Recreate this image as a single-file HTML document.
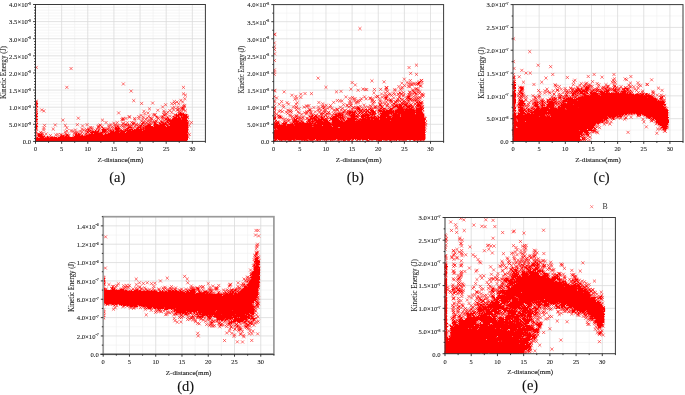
<!DOCTYPE html><html><head><meta charset="utf-8"><style>html,body{margin:0;padding:0;background:#fff;overflow:hidden}svg{display:block;will-change:transform;filter:blur(0.3px)}</style></head><body>
<svg width="685" height="395" viewBox="0 0 685 395" font-family='"Liberation Serif", serif'>
<rect width="685" height="395" fill="#fff"/>
<path d="M48.57 4.5V141.4M74.71 4.5V141.4M100.85 4.5V141.4M126.98 4.5V141.4M153.12 4.5V141.4M179.26 4.5V141.4M35.5 138.55H205.4M35.5 135.7H205.4M35.5 132.84H205.4M35.5 129.99H205.4M35.5 127.14H205.4M35.5 121.44H205.4M35.5 118.58H205.4M35.5 115.73H205.4M35.5 112.88H205.4M35.5 110.03H205.4M35.5 104.32H205.4M35.5 101.47H205.4M35.5 98.62H205.4M35.5 95.77H205.4M35.5 92.91H205.4M35.5 87.21H205.4M35.5 84.36H205.4M35.5 81.51H205.4M35.5 78.65H205.4M35.5 75.8H205.4M35.5 70.1H205.4M35.5 67.25H205.4M35.5 64.39H205.4M35.5 61.54H205.4M35.5 58.69H205.4M35.5 52.99H205.4M35.5 50.13H205.4M35.5 47.28H205.4M35.5 44.43H205.4M35.5 41.58H205.4M35.5 35.87H205.4M35.5 33.02H205.4M35.5 30.17H205.4M35.5 27.32H205.4M35.5 24.46H205.4M35.5 18.76H205.4M35.5 15.91H205.4M35.5 13.06H205.4M35.5 10.2H205.4M35.5 7.35H205.4" stroke="#f0f0f0" stroke-width="0.6" fill="none"/>
<path d="M61.64 4.5V141.4M87.78 4.5V141.4M113.92 4.5V141.4M140.05 4.5V141.4M166.19 4.5V141.4M192.33 4.5V141.4M35.5 124.29H205.4M35.5 107.18H205.4M35.5 90.06H205.4M35.5 72.95H205.4M35.5 55.84H205.4M35.5 38.72H205.4M35.5 21.61H205.4" stroke="#dadada" stroke-width="0.8" fill="none"/>
<clipPath id="ca"><rect x="35.2" y="1.5" width="172.9" height="140.2"/></clipPath>
<g clip-path="url(#ca)"><path d="M34 103h1v1h-1zM37 103h1v1h-1zM34 106h1v1h-1zM37 106h1v1h-1zM182 107h1v1h-1zM180 112h1v1h-1zM34 113h1v1h-1zM37 113h1v1h-1zM180 113h2v1h-2zM183 113h1v1h-1zM34 114h3v1h-3zM176 114h1v1h-1zM178 114h7v1h-7zM186 114h1v1h-1zM35 115h2v1h-2zM164 115h1v1h-1zM176 115h3v1h-3zM180 115h2v1h-2zM183 115h4v1h-4zM34 116h1v1h-1zM36 116h2v1h-2zM156 116h1v1h-1zM162 116h1v1h-1zM173 116h1v1h-1zM176 116h1v1h-1zM178 116h1v1h-1zM181 116h1v1h-1zM183 116h4v1h-4zM34 117h1v1h-1zM167 117h1v1h-1zM174 117h3v1h-3zM178 117h2v1h-2zM181 117h7v1h-7zM34 118h1v1h-1zM166 118h1v1h-1zM168 118h1v1h-1zM173 118h8v1h-8zM182 118h5v1h-5zM34 119h1v1h-1zM36 119h2v1h-2zM165 119h2v1h-2zM168 119h2v1h-2zM172 119h9v1h-9zM182 119h5v1h-5zM167 120h21v1h-21zM161 121h1v1h-1zM167 121h1v1h-1zM169 121h18v1h-18zM143 122h1v1h-1zM154 122h1v1h-1zM161 122h2v1h-2zM165 122h1v1h-1zM167 122h2v1h-2zM170 122h18v1h-18zM34 123h1v1h-1zM37 123h1v1h-1zM132 123h1v1h-1zM142 123h1v1h-1zM154 123h2v1h-2zM159 123h2v1h-2zM163 123h1v1h-1zM165 123h1v1h-1zM169 123h19v1h-19zM35 124h2v1h-2zM125 124h1v1h-1zM128 124h1v1h-1zM148 124h2v1h-2zM154 124h4v1h-4zM160 124h7v1h-7zM169 124h19v1h-19zM36 125h1v1h-1zM140 125h2v1h-2zM143 125h1v1h-1zM147 125h4v1h-4zM154 125h1v1h-1zM156 125h9v1h-9zM167 125h1v1h-1zM170 125h18v1h-18zM34 126h1v1h-1zM36 126h2v1h-2zM117 126h1v1h-1zM140 126h1v1h-1zM145 126h8v1h-8zM154 126h12v1h-12zM167 126h21v1h-21zM36 127h1v1h-1zM102 127h1v1h-1zM115 127h2v1h-2zM118 127h1v1h-1zM128 127h4v1h-4zM138 127h3v1h-3zM143 127h1v1h-1zM145 127h43v1h-43zM34 128h3v1h-3zM103 128h1v1h-1zM115 128h5v1h-5zM127 128h2v1h-2zM137 128h1v1h-1zM140 128h1v1h-1zM143 128h1v1h-1zM145 128h43v1h-43zM34 129h1v1h-1zM88 129h1v1h-1zM102 129h4v1h-4zM115 129h4v1h-4zM125 129h1v1h-1zM127 129h1v1h-1zM129 129h4v1h-4zM134 129h1v1h-1zM136 129h6v1h-6zM143 129h1v1h-1zM145 129h43v1h-43zM88 130h1v1h-1zM90 130h1v1h-1zM95 130h1v1h-1zM98 130h1v1h-1zM102 130h4v1h-4zM110 130h1v1h-1zM113 130h1v1h-1zM116 130h3v1h-3zM120 130h2v1h-2zM125 130h6v1h-6zM132 130h10v1h-10zM143 130h45v1h-45zM87 131h1v1h-1zM89 131h1v1h-1zM92 131h2v1h-2zM95 131h1v1h-1zM97 131h2v1h-2zM102 131h4v1h-4zM111 131h3v1h-3zM115 131h5v1h-5zM121 131h5v1h-5zM127 131h61v1h-61zM87 132h1v1h-1zM90 132h8v1h-8zM101 132h2v1h-2zM104 132h1v1h-1zM110 132h9v1h-9zM120 132h5v1h-5zM126 132h62v1h-62zM76 133h1v1h-1zM78 133h1v1h-1zM86 133h1v1h-1zM91 133h2v1h-2zM94 133h8v1h-8zM105 133h1v1h-1zM108 133h79v1h-79zM38 134h4v1h-4zM67 134h1v1h-1zM75 134h2v1h-2zM78 134h2v1h-2zM89 134h14v1h-14zM105 134h83v1h-83zM38 135h4v1h-4zM61 135h1v1h-1zM63 135h1v1h-1zM66 135h2v1h-2zM75 135h5v1h-5zM82 135h1v1h-1zM86 135h102v1h-102zM38 136h5v1h-5zM44 136h1v1h-1zM47 136h1v1h-1zM60 136h4v1h-4zM65 136h2v1h-2zM68 136h1v1h-1zM74 136h114v1h-114zM34 137h1v1h-1zM37 137h1v1h-1zM40 137h4v1h-4zM47 137h2v1h-2zM50 137h3v1h-3zM54 137h3v1h-3zM58 137h130v1h-130zM35 138h153v1h-153zM34 139h154v1h-154zM36 140h151v1h-151zM35 141h153v1h-153zM35 142h152v1h-152z" fill="#ff0000"/><path d="M58.0 137.9l3.1 3.1m0-3.1l-3.1 3.1M35.3 139.8l3.1 3.1m0-3.1l-3.1 3.1M184.0 139.4l3.1 3.1m0-3.1l-3.1 3.1M184.0 137.5l3.1 3.1m0-3.1l-3.1 3.1M50.4 138.0l3.1 3.1m0-3.1l-3.1 3.1M57.7 137.9l3.1 3.1m0-3.1l-3.1 3.1M162.2 113.2l3.1 3.1m0-3.1l-3.1 3.1M156.6 123.9l3.1 3.1m0-3.1l-3.1 3.1M127.9 124.3l3.1 3.1m0-3.1l-3.1 3.1M181.0 106.6l3.1 3.1m0-3.1l-3.1 3.1M137.3 115.1l3.1 3.1m0-3.1l-3.1 3.1M147.4 114.7l3.1 3.1m0-3.1l-3.1 3.1M148.6 121.6l3.1 3.1m0-3.1l-3.1 3.1M106.5 127.4l3.1 3.1m0-3.1l-3.1 3.1M115.1 128.3l3.1 3.1m0-3.1l-3.1 3.1M140.6 129.9l3.1 3.1m0-3.1l-3.1 3.1M139.5 113.8l3.1 3.1m0-3.1l-3.1 3.1M106.6 131.8l3.1 3.1m0-3.1l-3.1 3.1M180.2 112.9l3.1 3.1m0-3.1l-3.1 3.1M165.3 120.4l3.1 3.1m0-3.1l-3.1 3.1M38.2 136.4l3.1 3.1m0-3.1l-3.1 3.1M160.5 120.4l3.1 3.1m0-3.1l-3.1 3.1M161.2 123.2l3.1 3.1m0-3.1l-3.1 3.1M96.9 124.3l3.1 3.1m0-3.1l-3.1 3.1M115.7 121.1l3.1 3.1m0-3.1l-3.1 3.1M144.9 127.0l3.1 3.1m0-3.1l-3.1 3.1M165.6 118.9l3.1 3.1m0-3.1l-3.1 3.1M115.8 127.0l3.1 3.1m0-3.1l-3.1 3.1M65.5 129.4l3.1 3.1m0-3.1l-3.1 3.1M57.8 136.3l3.1 3.1m0-3.1l-3.1 3.1M172.7 100.0l3.1 3.1m0-3.1l-3.1 3.1M130.1 121.0l3.1 3.1m0-3.1l-3.1 3.1M170.9 106.4l3.1 3.1m0-3.1l-3.1 3.1M156.4 116.0l3.1 3.1m0-3.1l-3.1 3.1M111.0 127.3l3.1 3.1m0-3.1l-3.1 3.1M163.7 125.3l3.1 3.1m0-3.1l-3.1 3.1M127.5 115.2l3.1 3.1m0-3.1l-3.1 3.1M109.2 132.9l3.1 3.1m0-3.1l-3.1 3.1M182.7 113.6l3.1 3.1m0-3.1l-3.1 3.1M176.4 113.6l3.1 3.1m0-3.1l-3.1 3.1M137.0 125.0l3.1 3.1m0-3.1l-3.1 3.1M86.6 133.4l3.1 3.1m0-3.1l-3.1 3.1M158.9 122.5l3.1 3.1m0-3.1l-3.1 3.1M167.5 122.6l3.1 3.1m0-3.1l-3.1 3.1M82.1 128.4l3.1 3.1m0-3.1l-3.1 3.1M167.6 118.0l3.1 3.1m0-3.1l-3.1 3.1M118.2 129.5l3.1 3.1m0-3.1l-3.1 3.1M159.9 115.6l3.1 3.1m0-3.1l-3.1 3.1M168.3 122.5l3.1 3.1m0-3.1l-3.1 3.1M109.6 130.9l3.1 3.1m0-3.1l-3.1 3.1M77.8 132.7l3.1 3.1m0-3.1l-3.1 3.1M72.1 136.3l3.1 3.1m0-3.1l-3.1 3.1M66.2 136.9l3.1 3.1m0-3.1l-3.1 3.1M141.2 121.1l3.1 3.1m0-3.1l-3.1 3.1M181.1 100.4l3.1 3.1m0-3.1l-3.1 3.1M80.5 127.7l3.1 3.1m0-3.1l-3.1 3.1M183.9 109.3l3.1 3.1m0-3.1l-3.1 3.1M97.6 127.5l3.1 3.1m0-3.1l-3.1 3.1M162.1 119.6l3.1 3.1m0-3.1l-3.1 3.1M121.5 117.5l3.1 3.1m0-3.1l-3.1 3.1M177.2 102.1l3.1 3.1m0-3.1l-3.1 3.1M126.1 127.9l3.1 3.1m0-3.1l-3.1 3.1M106.0 129.9l3.1 3.1m0-3.1l-3.1 3.1M73.9 128.4l3.1 3.1m0-3.1l-3.1 3.1M59.1 133.2l3.1 3.1m0-3.1l-3.1 3.1M164.6 121.8l3.1 3.1m0-3.1l-3.1 3.1M172.0 117.7l3.1 3.1m0-3.1l-3.1 3.1M142.4 109.7l3.1 3.1m0-3.1l-3.1 3.1M116.6 124.2l3.1 3.1m0-3.1l-3.1 3.1M160.9 116.6l3.1 3.1m0-3.1l-3.1 3.1M85.5 123.1l3.1 3.1m0-3.1l-3.1 3.1M148.8 123.6l3.1 3.1m0-3.1l-3.1 3.1M146.5 111.4l3.1 3.1m0-3.1l-3.1 3.1M101.8 134.9l3.1 3.1m0-3.1l-3.1 3.1M72.8 134.8l3.1 3.1m0-3.1l-3.1 3.1M67.2 136.8l3.1 3.1m0-3.1l-3.1 3.1M54.3 133.4l3.1 3.1m0-3.1l-3.1 3.1M170.0 119.0l3.1 3.1m0-3.1l-3.1 3.1M113.6 124.7l3.1 3.1m0-3.1l-3.1 3.1M122.4 131.0l3.1 3.1m0-3.1l-3.1 3.1M168.6 119.6l3.1 3.1m0-3.1l-3.1 3.1M169.7 122.8l3.1 3.1m0-3.1l-3.1 3.1M42.0 135.3l3.1 3.1m0-3.1l-3.1 3.1M131.3 122.3l3.1 3.1m0-3.1l-3.1 3.1M124.5 129.0l3.1 3.1m0-3.1l-3.1 3.1M153.5 121.4l3.1 3.1m0-3.1l-3.1 3.1M102.9 127.7l3.1 3.1m0-3.1l-3.1 3.1M85.6 130.8l3.1 3.1m0-3.1l-3.1 3.1M143.5 126.5l3.1 3.1m0-3.1l-3.1 3.1M39.0 138.0l3.1 3.1m0-3.1l-3.1 3.1M148.7 116.7l3.1 3.1m0-3.1l-3.1 3.1M126.1 127.7l3.1 3.1m0-3.1l-3.1 3.1M140.7 122.9l3.1 3.1m0-3.1l-3.1 3.1M141.0 125.7l3.1 3.1m0-3.1l-3.1 3.1M102.1 129.4l3.1 3.1m0-3.1l-3.1 3.1M172.6 117.6l3.1 3.1m0-3.1l-3.1 3.1M170.3 119.9l3.1 3.1m0-3.1l-3.1 3.1M51.6 137.1l3.1 3.1m0-3.1l-3.1 3.1M177.7 109.9l3.1 3.1m0-3.1l-3.1 3.1M135.4 126.5l3.1 3.1m0-3.1l-3.1 3.1M182.7 114.0l3.1 3.1m0-3.1l-3.1 3.1M99.8 133.6l3.1 3.1m0-3.1l-3.1 3.1M44.0 136.4l3.1 3.1m0-3.1l-3.1 3.1M121.5 118.3l3.1 3.1m0-3.1l-3.1 3.1M133.0 129.7l3.1 3.1m0-3.1l-3.1 3.1M162.8 113.5l3.1 3.1m0-3.1l-3.1 3.1M133.3 125.4l3.1 3.1m0-3.1l-3.1 3.1M170.2 111.0l3.1 3.1m0-3.1l-3.1 3.1M109.4 123.1l3.1 3.1m0-3.1l-3.1 3.1M113.3 127.1l3.1 3.1m0-3.1l-3.1 3.1M105.0 133.9l3.1 3.1m0-3.1l-3.1 3.1M159.3 119.7l3.1 3.1m0-3.1l-3.1 3.1M120.8 130.6l3.1 3.1m0-3.1l-3.1 3.1M66.1 136.8l3.1 3.1m0-3.1l-3.1 3.1M103.6 128.7l3.1 3.1m0-3.1l-3.1 3.1M145.8 116.4l3.1 3.1m0-3.1l-3.1 3.1M143.1 112.3l3.1 3.1m0-3.1l-3.1 3.1M47.7 136.4l3.1 3.1m0-3.1l-3.1 3.1M82.2 135.0l3.1 3.1m0-3.1l-3.1 3.1M143.6 122.3l3.1 3.1m0-3.1l-3.1 3.1M181.4 113.3l3.1 3.1m0-3.1l-3.1 3.1M115.6 123.9l3.1 3.1m0-3.1l-3.1 3.1M100.4 125.2l3.1 3.1m0-3.1l-3.1 3.1M161.1 105.4l3.1 3.1m0-3.1l-3.1 3.1M88.0 130.0l3.1 3.1m0-3.1l-3.1 3.1M92.0 130.6l3.1 3.1m0-3.1l-3.1 3.1M99.0 124.1l3.1 3.1m0-3.1l-3.1 3.1M143.9 127.9l3.1 3.1m0-3.1l-3.1 3.1M85.9 135.7l3.1 3.1m0-3.1l-3.1 3.1M172.7 105.8l3.1 3.1m0-3.1l-3.1 3.1M181.7 104.6l3.1 3.1m0-3.1l-3.1 3.1M172.7 116.2l3.1 3.1m0-3.1l-3.1 3.1M48.7 137.4l3.1 3.1m0-3.1l-3.1 3.1M115.3 130.0l3.1 3.1m0-3.1l-3.1 3.1M143.5 125.3l3.1 3.1m0-3.1l-3.1 3.1M61.2 134.3l3.1 3.1m0-3.1l-3.1 3.1M150.3 117.1l3.1 3.1m0-3.1l-3.1 3.1M98.1 131.9l3.1 3.1m0-3.1l-3.1 3.1M169.1 125.4l3.1 3.1m0-3.1l-3.1 3.1M142.1 121.3l3.1 3.1m0-3.1l-3.1 3.1M75.9 133.2l3.1 3.1m0-3.1l-3.1 3.1M153.2 113.3l3.1 3.1m0-3.1l-3.1 3.1M175.8 108.5l3.1 3.1m0-3.1l-3.1 3.1M105.9 133.6l3.1 3.1m0-3.1l-3.1 3.1M166.2 110.7l3.1 3.1m0-3.1l-3.1 3.1M166.5 121.1l3.1 3.1m0-3.1l-3.1 3.1M153.9 122.9l3.1 3.1m0-3.1l-3.1 3.1M76.8 134.5l3.1 3.1m0-3.1l-3.1 3.1M73.3 131.0l3.1 3.1m0-3.1l-3.1 3.1M162.9 125.5l3.1 3.1m0-3.1l-3.1 3.1M87.6 129.6l3.1 3.1m0-3.1l-3.1 3.1M63.7 130.3l3.1 3.1m0-3.1l-3.1 3.1M53.0 136.9l3.1 3.1m0-3.1l-3.1 3.1M175.4 100.5l3.1 3.1m0-3.1l-3.1 3.1M99.1 133.5l3.1 3.1m0-3.1l-3.1 3.1M145.2 121.3l3.1 3.1m0-3.1l-3.1 3.1M63.3 135.3l3.1 3.1m0-3.1l-3.1 3.1M181.9 108.1l3.1 3.1m0-3.1l-3.1 3.1M124.7 128.5l3.1 3.1m0-3.1l-3.1 3.1M145.1 125.5l3.1 3.1m0-3.1l-3.1 3.1M148.7 124.1l3.1 3.1m0-3.1l-3.1 3.1M150.1 125.8l3.1 3.1m0-3.1l-3.1 3.1M120.3 118.0l3.1 3.1m0-3.1l-3.1 3.1M72.6 135.8l3.1 3.1m0-3.1l-3.1 3.1M127.7 127.9l3.1 3.1m0-3.1l-3.1 3.1M86.5 130.8l3.1 3.1m0-3.1l-3.1 3.1M73.4 135.1l3.1 3.1m0-3.1l-3.1 3.1M176.2 114.7l3.1 3.1m0-3.1l-3.1 3.1M93.8 131.2l3.1 3.1m0-3.1l-3.1 3.1M139.8 124.2l3.1 3.1m0-3.1l-3.1 3.1M96.4 125.5l3.1 3.1m0-3.1l-3.1 3.1M162.4 125.3l3.1 3.1m0-3.1l-3.1 3.1M180.3 117.4l3.1 3.1m0-3.1l-3.1 3.1M80.6 134.7l3.1 3.1m0-3.1l-3.1 3.1M173.5 115.7l3.1 3.1m0-3.1l-3.1 3.1M132.2 122.7l3.1 3.1m0-3.1l-3.1 3.1M58.8 136.8l3.1 3.1m0-3.1l-3.1 3.1M121.6 124.4l3.1 3.1m0-3.1l-3.1 3.1M137.3 117.0l3.1 3.1m0-3.1l-3.1 3.1M166.5 123.7l3.1 3.1m0-3.1l-3.1 3.1M44.9 137.8l3.1 3.1m0-3.1l-3.1 3.1M159.9 123.6l3.1 3.1m0-3.1l-3.1 3.1M154.2 123.9l3.1 3.1m0-3.1l-3.1 3.1M107.3 125.3l3.1 3.1m0-3.1l-3.1 3.1M144.7 129.2l3.1 3.1m0-3.1l-3.1 3.1M148.3 123.3l3.1 3.1m0-3.1l-3.1 3.1M88.9 126.1l3.1 3.1m0-3.1l-3.1 3.1M73.7 136.1l3.1 3.1m0-3.1l-3.1 3.1M141.2 117.4l3.1 3.1m0-3.1l-3.1 3.1M95.9 129.9l3.1 3.1m0-3.1l-3.1 3.1M141.7 115.6l3.1 3.1m0-3.1l-3.1 3.1M151.0 120.5l3.1 3.1m0-3.1l-3.1 3.1M164.2 122.6l3.1 3.1m0-3.1l-3.1 3.1M110.0 131.0l3.1 3.1m0-3.1l-3.1 3.1M153.3 120.2l3.1 3.1m0-3.1l-3.1 3.1M139.9 129.2l3.1 3.1m0-3.1l-3.1 3.1M101.5 129.5l3.1 3.1m0-3.1l-3.1 3.1M176.7 115.0l3.1 3.1m0-3.1l-3.1 3.1M98.7 132.7l3.1 3.1m0-3.1l-3.1 3.1M39.4 137.3l3.1 3.1m0-3.1l-3.1 3.1M102.6 130.9l3.1 3.1m0-3.1l-3.1 3.1M64.6 134.5l3.1 3.1m0-3.1l-3.1 3.1M122.5 132.9l3.1 3.1m0-3.1l-3.1 3.1M110.9 129.7l3.1 3.1m0-3.1l-3.1 3.1M51.9 135.9l3.1 3.1m0-3.1l-3.1 3.1M165.4 117.5l3.1 3.1m0-3.1l-3.1 3.1M142.7 128.6l3.1 3.1m0-3.1l-3.1 3.1M56.3 136.6l3.1 3.1m0-3.1l-3.1 3.1M103.9 129.0l3.1 3.1m0-3.1l-3.1 3.1M162.6 121.8l3.1 3.1m0-3.1l-3.1 3.1M84.2 134.2l3.1 3.1m0-3.1l-3.1 3.1M162.6 111.0l3.1 3.1m0-3.1l-3.1 3.1M102.6 129.2l3.1 3.1m0-3.1l-3.1 3.1M105.2 133.3l3.1 3.1m0-3.1l-3.1 3.1M112.1 129.5l3.1 3.1m0-3.1l-3.1 3.1M173.7 113.7l3.1 3.1m0-3.1l-3.1 3.1M45.1 136.7l3.1 3.1m0-3.1l-3.1 3.1M122.0 121.7l3.1 3.1m0-3.1l-3.1 3.1M157.9 121.6l3.1 3.1m0-3.1l-3.1 3.1M64.2 132.4l3.1 3.1m0-3.1l-3.1 3.1M97.5 125.5l3.1 3.1m0-3.1l-3.1 3.1M65.5 133.6l3.1 3.1m0-3.1l-3.1 3.1M101.5 127.0l3.1 3.1m0-3.1l-3.1 3.1M117.2 126.4l3.1 3.1m0-3.1l-3.1 3.1M140.4 122.5l3.1 3.1m0-3.1l-3.1 3.1M104.4 132.0l3.1 3.1m0-3.1l-3.1 3.1M100.6 132.2l3.1 3.1m0-3.1l-3.1 3.1M142.8 120.4l3.1 3.1m0-3.1l-3.1 3.1M172.1 108.3l3.1 3.1m0-3.1l-3.1 3.1M128.2 115.5l3.1 3.1m0-3.1l-3.1 3.1M178.5 114.1l3.1 3.1m0-3.1l-3.1 3.1M117.1 131.5l3.1 3.1m0-3.1l-3.1 3.1M102.4 127.2l3.1 3.1m0-3.1l-3.1 3.1M119.8 124.1l3.1 3.1m0-3.1l-3.1 3.1M101.6 129.4l3.1 3.1m0-3.1l-3.1 3.1M47.9 136.7l3.1 3.1m0-3.1l-3.1 3.1M143.4 124.5l3.1 3.1m0-3.1l-3.1 3.1M98.4 131.1l3.1 3.1m0-3.1l-3.1 3.1M150.9 126.8l3.1 3.1m0-3.1l-3.1 3.1M163.0 122.1l3.1 3.1m0-3.1l-3.1 3.1M129.6 126.7l3.1 3.1m0-3.1l-3.1 3.1M133.1 116.9l3.1 3.1m0-3.1l-3.1 3.1M179.7 106.8l3.1 3.1m0-3.1l-3.1 3.1M105.7 127.9l3.1 3.1m0-3.1l-3.1 3.1M116.5 128.8l3.1 3.1m0-3.1l-3.1 3.1M134.6 123.4l3.1 3.1m0-3.1l-3.1 3.1M71.1 129.5l3.1 3.1m0-3.1l-3.1 3.1M183.3 97.2l3.1 3.1m0-3.1l-3.1 3.1M161.2 121.7l3.1 3.1m0-3.1l-3.1 3.1M107.7 129.4l3.1 3.1m0-3.1l-3.1 3.1M149.3 119.6l3.1 3.1m0-3.1l-3.1 3.1M62.1 134.6l3.1 3.1m0-3.1l-3.1 3.1M150.3 125.5l3.1 3.1m0-3.1l-3.1 3.1M122.2 132.9l3.1 3.1m0-3.1l-3.1 3.1M65.7 133.6l3.1 3.1m0-3.1l-3.1 3.1M133.7 129.5l3.1 3.1m0-3.1l-3.1 3.1M159.8 123.0l3.1 3.1m0-3.1l-3.1 3.1M162.3 109.4l3.1 3.1m0-3.1l-3.1 3.1M154.3 124.8l3.1 3.1m0-3.1l-3.1 3.1M101.4 134.1l3.1 3.1m0-3.1l-3.1 3.1M177.8 112.1l3.1 3.1m0-3.1l-3.1 3.1M140.8 127.9l3.1 3.1m0-3.1l-3.1 3.1M87.6 128.3l3.1 3.1m0-3.1l-3.1 3.1M156.9 116.9l3.1 3.1m0-3.1l-3.1 3.1M126.2 124.2l3.1 3.1m0-3.1l-3.1 3.1M143.7 128.9l3.1 3.1m0-3.1l-3.1 3.1M179.4 118.2l3.1 3.1m0-3.1l-3.1 3.1M95.4 132.7l3.1 3.1m0-3.1l-3.1 3.1M129.7 129.6l3.1 3.1m0-3.1l-3.1 3.1M150.3 126.8l3.1 3.1m0-3.1l-3.1 3.1M144.3 117.6l3.1 3.1m0-3.1l-3.1 3.1M151.8 113.3l3.1 3.1m0-3.1l-3.1 3.1M181.6 106.5l3.1 3.1m0-3.1l-3.1 3.1M67.0 134.4l3.1 3.1m0-3.1l-3.1 3.1M132.3 121.4l3.1 3.1m0-3.1l-3.1 3.1M84.7 132.0l3.1 3.1m0-3.1l-3.1 3.1M152.6 120.7l3.1 3.1m0-3.1l-3.1 3.1M146.5 122.7l3.1 3.1m0-3.1l-3.1 3.1M152.4 123.8l3.1 3.1m0-3.1l-3.1 3.1M120.6 130.1l3.1 3.1m0-3.1l-3.1 3.1M67.2 134.0l3.1 3.1m0-3.1l-3.1 3.1M128.6 125.2l3.1 3.1m0-3.1l-3.1 3.1M50.0 136.4l3.1 3.1m0-3.1l-3.1 3.1M90.4 133.9l3.1 3.1m0-3.1l-3.1 3.1M118.4 129.5l3.1 3.1m0-3.1l-3.1 3.1M168.3 109.0l3.1 3.1m0-3.1l-3.1 3.1M116.5 125.5l3.1 3.1m0-3.1l-3.1 3.1M90.3 129.8l3.1 3.1m0-3.1l-3.1 3.1M93.9 129.0l3.1 3.1m0-3.1l-3.1 3.1M180.9 112.5l3.1 3.1m0-3.1l-3.1 3.1M133.9 128.7l3.1 3.1m0-3.1l-3.1 3.1M131.3 126.5l3.1 3.1m0-3.1l-3.1 3.1M169.8 125.8l3.1 3.1m0-3.1l-3.1 3.1M92.8 131.7l3.1 3.1m0-3.1l-3.1 3.1M168.8 125.9l3.1 3.1m0-3.1l-3.1 3.1M123.4 129.0l3.1 3.1m0-3.1l-3.1 3.1M140.8 127.5l3.1 3.1m0-3.1l-3.1 3.1M116.5 126.8l3.1 3.1m0-3.1l-3.1 3.1M123.6 123.0l3.1 3.1m0-3.1l-3.1 3.1M60.0 133.3l3.1 3.1m0-3.1l-3.1 3.1M133.4 118.1l3.1 3.1m0-3.1l-3.1 3.1M176.3 105.7l3.1 3.1m0-3.1l-3.1 3.1M79.4 134.9l3.1 3.1m0-3.1l-3.1 3.1M132.0 121.5l3.1 3.1m0-3.1l-3.1 3.1M135.0 129.1l3.1 3.1m0-3.1l-3.1 3.1M172.2 116.3l3.1 3.1m0-3.1l-3.1 3.1M38.9 137.7l3.1 3.1m0-3.1l-3.1 3.1M112.5 121.7l3.1 3.1m0-3.1l-3.1 3.1M180.4 110.1l3.1 3.1m0-3.1l-3.1 3.1M61.0 136.9l3.1 3.1m0-3.1l-3.1 3.1M109.8 129.2l3.1 3.1m0-3.1l-3.1 3.1M133.6 129.8l3.1 3.1m0-3.1l-3.1 3.1M109.1 131.1l3.1 3.1m0-3.1l-3.1 3.1M119.5 130.1l3.1 3.1m0-3.1l-3.1 3.1M58.0 136.7l3.1 3.1m0-3.1l-3.1 3.1M153.6 113.2l3.1 3.1m0-3.1l-3.1 3.1M60.8 135.3l3.1 3.1m0-3.1l-3.1 3.1M119.9 132.9l3.1 3.1m0-3.1l-3.1 3.1M125.1 131.3l3.1 3.1m0-3.1l-3.1 3.1M98.5 123.4l3.1 3.1m0-3.1l-3.1 3.1M164.4 117.4l3.1 3.1m0-3.1l-3.1 3.1M168.9 119.5l3.1 3.1m0-3.1l-3.1 3.1M146.1 119.6l3.1 3.1m0-3.1l-3.1 3.1M122.3 125.9l3.1 3.1m0-3.1l-3.1 3.1M85.9 134.2l3.1 3.1m0-3.1l-3.1 3.1M137.2 127.2l3.1 3.1m0-3.1l-3.1 3.1M158.9 121.7l3.1 3.1m0-3.1l-3.1 3.1M168.6 114.7l3.1 3.1m0-3.1l-3.1 3.1M150.0 117.2l3.1 3.1m0-3.1l-3.1 3.1M88.2 129.9l3.1 3.1m0-3.1l-3.1 3.1M135.7 127.9l3.1 3.1m0-3.1l-3.1 3.1M118.5 127.5l3.1 3.1m0-3.1l-3.1 3.1M90.7 127.8l3.1 3.1m0-3.1l-3.1 3.1M110.6 125.3l3.1 3.1m0-3.1l-3.1 3.1M84.9 128.0l3.1 3.1m0-3.1l-3.1 3.1M121.6 116.8l3.1 3.1m0-3.1l-3.1 3.1M65.8 134.5l3.1 3.1m0-3.1l-3.1 3.1M74.7 131.0l3.1 3.1m0-3.1l-3.1 3.1M45.8 136.3l3.1 3.1m0-3.1l-3.1 3.1M136.8 126.4l3.1 3.1m0-3.1l-3.1 3.1M167.6 118.3l3.1 3.1m0-3.1l-3.1 3.1M75.6 133.5l3.1 3.1m0-3.1l-3.1 3.1M177.9 111.3l3.1 3.1m0-3.1l-3.1 3.1M107.5 123.8l3.1 3.1m0-3.1l-3.1 3.1M128.9 130.1l3.1 3.1m0-3.1l-3.1 3.1M154.4 119.4l3.1 3.1m0-3.1l-3.1 3.1M103.2 133.0l3.1 3.1m0-3.1l-3.1 3.1M178.6 117.4l3.1 3.1m0-3.1l-3.1 3.1M183.9 93.6l3.1 3.1m0-3.1l-3.1 3.1M134.9 122.6l3.1 3.1m0-3.1l-3.1 3.1M121.0 129.0l3.1 3.1m0-3.1l-3.1 3.1M99.2 131.6l3.1 3.1m0-3.1l-3.1 3.1M127.3 127.1l3.1 3.1m0-3.1l-3.1 3.1M120.9 130.3l3.1 3.1m0-3.1l-3.1 3.1M162.5 116.9l3.1 3.1m0-3.1l-3.1 3.1M173.6 113.2l3.1 3.1m0-3.1l-3.1 3.1M103.1 129.9l3.1 3.1m0-3.1l-3.1 3.1M84.6 129.2l3.1 3.1m0-3.1l-3.1 3.1M177.3 107.8l3.1 3.1m0-3.1l-3.1 3.1M61.3 135.2l3.1 3.1m0-3.1l-3.1 3.1M125.0 127.1l3.1 3.1m0-3.1l-3.1 3.1M153.7 126.7l3.1 3.1m0-3.1l-3.1 3.1M108.1 127.4l3.1 3.1m0-3.1l-3.1 3.1M145.9 124.9l3.1 3.1m0-3.1l-3.1 3.1M166.1 118.5l3.1 3.1m0-3.1l-3.1 3.1M154.9 115.8l3.1 3.1m0-3.1l-3.1 3.1M181.1 107.6l3.1 3.1m0-3.1l-3.1 3.1M180.5 115.3l3.1 3.1m0-3.1l-3.1 3.1M90.2 133.0l3.1 3.1m0-3.1l-3.1 3.1M177.8 112.5l3.1 3.1m0-3.1l-3.1 3.1M41.4 137.9l3.1 3.1m0-3.1l-3.1 3.1M61.6 136.7l3.1 3.1m0-3.1l-3.1 3.1M169.4 119.1l3.1 3.1m0-3.1l-3.1 3.1M130.0 124.3l3.1 3.1m0-3.1l-3.1 3.1M147.9 119.4l3.1 3.1m0-3.1l-3.1 3.1M170.3 102.1l3.1 3.1m0-3.1l-3.1 3.1M122.3 132.0l3.1 3.1m0-3.1l-3.1 3.1M117.1 130.4l3.1 3.1m0-3.1l-3.1 3.1M183.2 105.1l3.1 3.1m0-3.1l-3.1 3.1M78.9 133.1l3.1 3.1m0-3.1l-3.1 3.1M161.2 115.3l3.1 3.1m0-3.1l-3.1 3.1M164.8 112.1l3.1 3.1m0-3.1l-3.1 3.1M169.7 125.8l3.1 3.1m0-3.1l-3.1 3.1M113.3 123.3l3.1 3.1m0-3.1l-3.1 3.1M164.1 113.5l3.1 3.1m0-3.1l-3.1 3.1M93.2 132.7l3.1 3.1m0-3.1l-3.1 3.1M125.9 121.2l3.1 3.1m0-3.1l-3.1 3.1M95.4 130.6l3.1 3.1m0-3.1l-3.1 3.1M146.9 123.4l3.1 3.1m0-3.1l-3.1 3.1M176.7 114.4l3.1 3.1m0-3.1l-3.1 3.1M80.6 133.3l3.1 3.1m0-3.1l-3.1 3.1M141.9 130.3l3.1 3.1m0-3.1l-3.1 3.1M95.3 127.6l3.1 3.1m0-3.1l-3.1 3.1M72.6 132.1l3.1 3.1m0-3.1l-3.1 3.1M165.0 123.9l3.1 3.1m0-3.1l-3.1 3.1M140.1 119.6l3.1 3.1m0-3.1l-3.1 3.1M165.9 115.5l3.1 3.1m0-3.1l-3.1 3.1M180.8 114.4l3.1 3.1m0-3.1l-3.1 3.1M176.8 117.3l3.1 3.1m0-3.1l-3.1 3.1M162.2 123.8l3.1 3.1m0-3.1l-3.1 3.1M158.9 124.8l3.1 3.1m0-3.1l-3.1 3.1M128.7 128.5l3.1 3.1m0-3.1l-3.1 3.1M78.6 129.9l3.1 3.1m0-3.1l-3.1 3.1M147.8 124.0l3.1 3.1m0-3.1l-3.1 3.1M92.2 130.6l3.1 3.1m0-3.1l-3.1 3.1M121.3 122.2l3.1 3.1m0-3.1l-3.1 3.1M176.2 108.0l3.1 3.1m0-3.1l-3.1 3.1M138.3 125.7l3.1 3.1m0-3.1l-3.1 3.1M139.9 125.6l3.1 3.1m0-3.1l-3.1 3.1M125.5 123.6l3.1 3.1m0-3.1l-3.1 3.1M144.3 128.2l3.1 3.1m0-3.1l-3.1 3.1M178.7 113.8l3.1 3.1m0-3.1l-3.1 3.1M75.9 131.2l3.1 3.1m0-3.1l-3.1 3.1M123.5 128.8l3.1 3.1m0-3.1l-3.1 3.1M84.3 132.7l3.1 3.1m0-3.1l-3.1 3.1M44.6 132.4l3.1 3.1m0-3.1l-3.1 3.1M114.7 126.2l3.1 3.1m0-3.1l-3.1 3.1M80.7 130.5l3.1 3.1m0-3.1l-3.1 3.1M183.2 114.0l3.1 3.1m0-3.1l-3.1 3.1M124.1 123.7l3.1 3.1m0-3.1l-3.1 3.1M128.3 124.9l3.1 3.1m0-3.1l-3.1 3.1M126.2 130.3l3.1 3.1m0-3.1l-3.1 3.1M154.1 123.9l3.1 3.1m0-3.1l-3.1 3.1M48.9 133.9l3.1 3.1m0-3.1l-3.1 3.1M154.1 122.0l3.1 3.1m0-3.1l-3.1 3.1M155.1 119.9l3.1 3.1m0-3.1l-3.1 3.1M134.6 128.3l3.1 3.1m0-3.1l-3.1 3.1M180.6 113.0l3.1 3.1m0-3.1l-3.1 3.1M89.1 131.0l3.1 3.1m0-3.1l-3.1 3.1M168.4 118.9l3.1 3.1m0-3.1l-3.1 3.1M132.0 131.0l3.1 3.1m0-3.1l-3.1 3.1M172.1 118.1l3.1 3.1m0-3.1l-3.1 3.1M138.8 124.4l3.1 3.1m0-3.1l-3.1 3.1M112.4 130.8l3.1 3.1m0-3.1l-3.1 3.1M181.0 117.5l3.1 3.1m0-3.1l-3.1 3.1M164.3 117.7l3.1 3.1m0-3.1l-3.1 3.1M97.6 128.5l3.1 3.1m0-3.1l-3.1 3.1M88.4 134.0l3.1 3.1m0-3.1l-3.1 3.1M44.4 136.4l3.1 3.1m0-3.1l-3.1 3.1M56.3 133.1l3.1 3.1m0-3.1l-3.1 3.1M136.9 123.3l3.1 3.1m0-3.1l-3.1 3.1M90.4 131.4l3.1 3.1m0-3.1l-3.1 3.1M185.0 114.3l3.1 3.1m0-3.1l-3.1 3.1M184.4 139.1l3.1 3.1m0-3.1l-3.1 3.1M184.0 130.6l3.1 3.1m0-3.1l-3.1 3.1M185.9 127.3l3.1 3.1m0-3.1l-3.1 3.1M185.0 122.7l3.1 3.1m0-3.1l-3.1 3.1M185.5 115.2l3.1 3.1m0-3.1l-3.1 3.1M184.3 119.8l3.1 3.1m0-3.1l-3.1 3.1M189.8 121.0l3.1 3.1m0-3.1l-3.1 3.1M184.6 131.4l3.1 3.1m0-3.1l-3.1 3.1M186.2 121.0l3.1 3.1m0-3.1l-3.1 3.1M184.2 121.3l3.1 3.1m0-3.1l-3.1 3.1M184.7 119.9l3.1 3.1m0-3.1l-3.1 3.1M186.4 120.2l3.1 3.1m0-3.1l-3.1 3.1M184.2 114.5l3.1 3.1m0-3.1l-3.1 3.1M184.6 139.1l3.1 3.1m0-3.1l-3.1 3.1M184.4 137.6l3.1 3.1m0-3.1l-3.1 3.1M184.1 114.2l3.1 3.1m0-3.1l-3.1 3.1M185.5 123.0l3.1 3.1m0-3.1l-3.1 3.1M185.9 116.1l3.1 3.1m0-3.1l-3.1 3.1M185.0 134.4l3.1 3.1m0-3.1l-3.1 3.1M187.7 124.0l3.1 3.1m0-3.1l-3.1 3.1M184.1 114.6l3.1 3.1m0-3.1l-3.1 3.1M186.3 131.4l3.1 3.1m0-3.1l-3.1 3.1M186.7 135.5l3.1 3.1m0-3.1l-3.1 3.1M183.9 118.3l3.1 3.1m0-3.1l-3.1 3.1M184.1 116.1l3.1 3.1m0-3.1l-3.1 3.1M185.6 127.1l3.1 3.1m0-3.1l-3.1 3.1M187.7 132.9l3.1 3.1m0-3.1l-3.1 3.1M185.6 115.9l3.1 3.1m0-3.1l-3.1 3.1M34.1 119.1l3.1 3.1m0-3.1l-3.1 3.1M34.1 130.1l3.1 3.1m0-3.1l-3.1 3.1M34.3 113.4l3.1 3.1m0-3.1l-3.1 3.1M34.3 113.9l3.1 3.1m0-3.1l-3.1 3.1M34.4 117.8l3.1 3.1m0-3.1l-3.1 3.1M34.1 126.4l3.1 3.1m0-3.1l-3.1 3.1M34.3 114.0l3.1 3.1m0-3.1l-3.1 3.1M34.3 120.5l3.1 3.1m0-3.1l-3.1 3.1M34.3 111.5l3.1 3.1m0-3.1l-3.1 3.1M34.5 118.9l3.1 3.1m0-3.1l-3.1 3.1M34.2 107.5l3.1 3.1m0-3.1l-3.1 3.1M34.5 108.8l3.1 3.1m0-3.1l-3.1 3.1M34.3 103.0l3.1 3.1m0-3.1l-3.1 3.1M34.3 115.3l3.1 3.1m0-3.1l-3.1 3.1M34.4 119.2l3.1 3.1m0-3.1l-3.1 3.1M34.4 101.4l3.1 3.1m0-3.1l-3.1 3.1M34.1 116.5l3.1 3.1m0-3.1l-3.1 3.1M34.3 139.7l3.1 3.1m0-3.1l-3.1 3.1M34.2 106.1l3.1 3.1m0-3.1l-3.1 3.1M34.2 139.4l3.1 3.1m0-3.1l-3.1 3.1M34.2 104.4l3.1 3.1m0-3.1l-3.1 3.1M34.4 101.6l3.1 3.1m0-3.1l-3.1 3.1M34.3 132.5l3.1 3.1m0-3.1l-3.1 3.1M34.1 127.2l3.1 3.1m0-3.1l-3.1 3.1M34.2 136.5l3.1 3.1m0-3.1l-3.1 3.1M34.2 100.4l3.1 3.1m0-3.1l-3.1 3.1M34.3 130.7l3.1 3.1m0-3.1l-3.1 3.1M34.5 110.8l3.1 3.1m0-3.1l-3.1 3.1M34.4 127.7l3.1 3.1m0-3.1l-3.1 3.1M34.6 99.6l3.1 3.1m0-3.1l-3.1 3.1M34.1 113.5l3.1 3.1m0-3.1l-3.1 3.1M34.5 126.0l3.1 3.1m0-3.1l-3.1 3.1M34.2 113.6l3.1 3.1m0-3.1l-3.1 3.1M34.1 116.3l3.1 3.1m0-3.1l-3.1 3.1M34.4 103.5l3.1 3.1m0-3.1l-3.1 3.1M34.4 138.9l3.1 3.1m0-3.1l-3.1 3.1M34.3 136.9l3.1 3.1m0-3.1l-3.1 3.1M34.5 137.1l3.1 3.1m0-3.1l-3.1 3.1M34.6 103.6l3.1 3.1m0-3.1l-3.1 3.1M34.3 123.9l3.1 3.1m0-3.1l-3.1 3.1M34.2 123.7l3.1 3.1m0-3.1l-3.1 3.1M34.5 137.3l3.1 3.1m0-3.1l-3.1 3.1M34.5 123.5l3.1 3.1m0-3.1l-3.1 3.1M34.2 122.7l3.1 3.1m0-3.1l-3.1 3.1M34.6 123.3l3.1 3.1m0-3.1l-3.1 3.1M34.5 106.7l3.1 3.1m0-3.1l-3.1 3.1M34.5 109.8l3.1 3.1m0-3.1l-3.1 3.1M34.3 126.4l3.1 3.1m0-3.1l-3.1 3.1M34.5 134.7l3.1 3.1m0-3.1l-3.1 3.1M34.2 126.0l3.1 3.1m0-3.1l-3.1 3.1M38.6 133.8l3.1 3.1m0-3.1l-3.1 3.1M38.3 134.0l3.1 3.1m0-3.1l-3.1 3.1M41.1 133.9l3.1 3.1m0-3.1l-3.1 3.1M36.6 132.7l3.1 3.1m0-3.1l-3.1 3.1M39.1 130.8l3.1 3.1m0-3.1l-3.1 3.1M38.1 133.0l3.1 3.1m0-3.1l-3.1 3.1M41.3 135.9l3.1 3.1m0-3.1l-3.1 3.1M38.1 134.5l3.1 3.1m0-3.1l-3.1 3.1M39.9 131.9l3.1 3.1m0-3.1l-3.1 3.1M42.2 128.4l3.1 3.1m0-3.1l-3.1 3.1M40.8 135.6l3.1 3.1m0-3.1l-3.1 3.1M39.7 133.7l3.1 3.1m0-3.1l-3.1 3.1M40.3 135.1l3.1 3.1m0-3.1l-3.1 3.1M41.2 132.0l3.1 3.1m0-3.1l-3.1 3.1M37.5 132.7l3.1 3.1m0-3.1l-3.1 3.1M37.5 134.1l3.1 3.1m0-3.1l-3.1 3.1M34.7 65.9l3.1 3.1m0-3.1l-3.1 3.1M69.5 67.0l3.1 3.1m0-3.1l-3.1 3.1M65.3 85.8l3.1 3.1m0-3.1l-3.1 3.1M121.8 82.4l3.1 3.1m0-3.1l-3.1 3.1M40.2 108.4l3.1 3.1m0-3.1l-3.1 3.1M42.3 109.4l3.1 3.1m0-3.1l-3.1 3.1M129.6 89.5l3.1 3.1m0-3.1l-3.1 3.1M132.2 99.1l3.1 3.1m0-3.1l-3.1 3.1M140.1 101.9l3.1 3.1m0-3.1l-3.1 3.1M151.1 101.5l3.1 3.1m0-3.1l-3.1 3.1M181.9 85.8l3.1 3.1m0-3.1l-3.1 3.1M181.9 92.3l3.1 3.1m0-3.1l-3.1 3.1M117.1 111.4l3.1 3.1m0-3.1l-3.1 3.1M147.9 107.3l3.1 3.1m0-3.1l-3.1 3.1M156.3 108.7l3.1 3.1m0-3.1l-3.1 3.1M164.1 103.2l3.1 3.1m0-3.1l-3.1 3.1M173.0 101.9l3.1 3.1m0-3.1l-3.1 3.1M124.4 116.9l3.1 3.1m0-3.1l-3.1 3.1M43.0 123.8l3.1 3.1m0-3.1l-3.1 3.1M42.3 126.5l3.1 3.1m0-3.1l-3.1 3.1M53.7 123.4l3.1 3.1m0-3.1l-3.1 3.1M51.7 127.5l3.1 3.1m0-3.1l-3.1 3.1M61.4 118.6l3.1 3.1m0-3.1l-3.1 3.1M63.7 123.8l3.1 3.1m0-3.1l-3.1 3.1M65.3 126.2l3.1 3.1m0-3.1l-3.1 3.1M76.8 116.6l3.1 3.1m0-3.1l-3.1 3.1M75.8 123.1l3.1 3.1m0-3.1l-3.1 3.1M81.0 124.4l3.1 3.1m0-3.1l-3.1 3.1M69.5 129.2l3.1 3.1m0-3.1l-3.1 3.1M87.3 126.8l3.1 3.1m0-3.1l-3.1 3.1M90.4 126.2l3.1 3.1m0-3.1l-3.1 3.1M100.9 118.6l3.1 3.1m0-3.1l-3.1 3.1M104.5 121.0l3.1 3.1m0-3.1l-3.1 3.1M179.3 98.8l3.1 3.1m0-3.1l-3.1 3.1M182.9 103.9l3.1 3.1m0-3.1l-3.1 3.1" stroke="#ff0000" stroke-width="0.55" fill="none"/></g>
<rect x="35.5" y="4.5" width="169.9" height="136.9" fill="none" stroke="#3a3a3a" stroke-width="1.0"/>
<path d="M35.5 141.4v2.4M48.57 141.4v1.4M61.64 141.4v2.4M74.71 141.4v1.4M87.78 141.4v2.4M100.85 141.4v1.4M113.92 141.4v2.4M126.98 141.4v1.4M140.05 141.4v2.4M153.12 141.4v1.4M166.19 141.4v2.4M179.26 141.4v1.4M192.33 141.4v2.4M205.4 141.4v1.4M35.5 141.4h-2.4M35.5 138.55h-1.4M35.5 135.7h-1.4M35.5 132.84h-1.4M35.5 129.99h-1.4M35.5 127.14h-1.4M35.5 124.29h-2.4M35.5 121.44h-1.4M35.5 118.58h-1.4M35.5 115.73h-1.4M35.5 112.88h-1.4M35.5 110.03h-1.4M35.5 107.18h-2.4M35.5 104.32h-1.4M35.5 101.47h-1.4M35.5 98.62h-1.4M35.5 95.77h-1.4M35.5 92.91h-1.4M35.5 90.06h-2.4M35.5 87.21h-1.4M35.5 84.36h-1.4M35.5 81.51h-1.4M35.5 78.65h-1.4M35.5 75.8h-1.4M35.5 72.95h-2.4M35.5 70.1h-1.4M35.5 67.25h-1.4M35.5 64.39h-1.4M35.5 61.54h-1.4M35.5 58.69h-1.4M35.5 55.84h-2.4M35.5 52.99h-1.4M35.5 50.13h-1.4M35.5 47.28h-1.4M35.5 44.43h-1.4M35.5 41.58h-1.4M35.5 38.72h-2.4M35.5 35.87h-1.4M35.5 33.02h-1.4M35.5 30.17h-1.4M35.5 27.32h-1.4M35.5 24.46h-1.4M35.5 21.61h-2.4M35.5 18.76h-1.4M35.5 15.91h-1.4M35.5 13.06h-1.4M35.5 10.2h-1.4M35.5 7.35h-1.4M35.5 4.5h-2.4" stroke="#222" stroke-width="0.9" fill="none"/>
<g font-size="7.1" fill="#222" stroke="#222" stroke-width="0.1"><text transform="translate(35.5 151.2) scale(0.9 1)" text-anchor="middle">0</text><text transform="translate(61.64 151.2) scale(0.9 1)" text-anchor="middle">5</text><text transform="translate(87.78 151.2) scale(0.9 1)" text-anchor="middle">10</text><text transform="translate(113.92 151.2) scale(0.9 1)" text-anchor="middle">15</text><text transform="translate(140.05 151.2) scale(0.9 1)" text-anchor="middle">20</text><text transform="translate(166.19 151.2) scale(0.9 1)" text-anchor="middle">25</text><text transform="translate(192.33 151.2) scale(0.9 1)" text-anchor="middle">30</text></g>
<g font-size="7" fill="#222" stroke="#222" stroke-width="0.1"><text transform="translate(31.1 144.2) scale(0.95 1)" text-anchor="end">0.0</text><text transform="translate(31.1 127.09) scale(0.95 1)" text-anchor="end">5.0&#215;10<tspan font-size="4.2" dy="-2.3">-9</tspan></text><text transform="translate(31.1 109.98) scale(0.95 1)" text-anchor="end">1.0&#215;10<tspan font-size="4.2" dy="-2.3">-8</tspan></text><text transform="translate(31.1 92.86) scale(0.95 1)" text-anchor="end">1.5&#215;10<tspan font-size="4.2" dy="-2.3">-8</tspan></text><text transform="translate(31.1 75.75) scale(0.95 1)" text-anchor="end">2.0&#215;10<tspan font-size="4.2" dy="-2.3">-8</tspan></text><text transform="translate(31.1 58.64) scale(0.95 1)" text-anchor="end">2.5&#215;10<tspan font-size="4.2" dy="-2.3">-8</tspan></text><text transform="translate(31.1 41.52) scale(0.95 1)" text-anchor="end">3.0&#215;10<tspan font-size="4.2" dy="-2.3">-8</tspan></text><text transform="translate(31.1 24.41) scale(0.95 1)" text-anchor="end">3.5&#215;10<tspan font-size="4.2" dy="-2.3">-8</tspan></text><text transform="translate(31.1 7.3) scale(0.95 1)" text-anchor="end">4.0&#215;10<tspan font-size="4.2" dy="-2.3">-8</tspan></text></g>
<text x="120.45" y="161.9" text-anchor="middle" font-size="7.1" fill="#222" stroke="#222" stroke-width="0.12">Z-distance(mm)</text>
<text transform="translate(6.1 72.6) rotate(-90) scale(1.0 1)" text-anchor="middle" font-size="7.2" fill="#222" stroke="#222" stroke-width="0.08">Kinetic Energy (J)</text>
<text x="117.3" y="181.5" text-anchor="middle" font-size="14.5" fill="#111" stroke="#111" stroke-width="0.12">(a)</text>
<path d="M286.77 4.6V141.4M312.91 4.6V141.4M339.05 4.6V141.4M365.18 4.6V141.4M391.32 4.6V141.4M417.46 4.6V141.4M273.7 132.85H443.6M273.7 115.75H443.6M273.7 98.65H443.6M273.7 81.55H443.6M273.7 64.45H443.6M273.7 47.35H443.6M273.7 30.25H443.6M273.7 13.15H443.6" stroke="#f0f0f0" stroke-width="0.6" fill="none"/>
<path d="M299.84 4.6V141.4M325.98 4.6V141.4M352.12 4.6V141.4M378.25 4.6V141.4M404.39 4.6V141.4M430.53 4.6V141.4M273.7 124.3H443.6M273.7 107.2H443.6M273.7 90.1H443.6M273.7 73H443.6M273.7 55.9H443.6M273.7 38.8H443.6M273.7 21.7H443.6" stroke="#dadada" stroke-width="0.8" fill="none"/>
<clipPath id="cb"><rect x="273.4" y="1.6" width="172.9" height="140.1"/></clipPath>
<g clip-path="url(#cb)"><path d="M420 81h1v1h-1zM418 82h2v1h-2zM417 83h2v1h-2zM399 92h1v1h-1zM414 92h1v1h-1zM415 93h1v1h-1zM408 96h2v1h-2zM385 97h2v1h-2zM408 97h1v1h-1zM386 98h1v1h-1zM400 98h1v1h-1zM408 98h2v1h-2zM410 99h1v1h-1zM390 100h1v1h-1zM396 100h1v1h-1zM408 100h1v1h-1zM415 100h1v1h-1zM400 101h1v1h-1zM403 101h1v1h-1zM419 101h1v1h-1zM416 102h2v1h-2zM419 102h2v1h-2zM393 103h2v1h-2zM403 103h1v1h-1zM407 103h1v1h-1zM418 103h1v1h-1zM420 103h2v1h-2zM399 104h2v1h-2zM402 104h1v1h-1zM404 104h3v1h-3zM417 104h3v1h-3zM380 105h1v1h-1zM395 105h3v1h-3zM399 105h3v1h-3zM405 105h2v1h-2zM409 105h1v1h-1zM411 105h1v1h-1zM416 105h5v1h-5zM381 106h1v1h-1zM394 106h4v1h-4zM399 106h3v1h-3zM403 106h1v1h-1zM406 106h5v1h-5zM417 106h2v1h-2zM420 106h1v1h-1zM358 107h1v1h-1zM382 107h1v1h-1zM393 107h1v1h-1zM397 107h6v1h-6zM407 107h3v1h-3zM411 107h2v1h-2zM420 107h2v1h-2zM323 108h1v1h-1zM357 108h3v1h-3zM370 108h1v1h-1zM380 108h2v1h-2zM383 108h2v1h-2zM390 108h3v1h-3zM398 108h5v1h-5zM406 108h1v1h-1zM409 108h3v1h-3zM416 108h6v1h-6zM423 108h1v1h-1zM358 109h2v1h-2zM362 109h1v1h-1zM365 109h2v1h-2zM369 109h1v1h-1zM390 109h2v1h-2zM397 109h7v1h-7zM405 109h9v1h-9zM416 109h7v1h-7zM309 110h1v1h-1zM359 110h1v1h-1zM361 110h1v1h-1zM370 110h4v1h-4zM378 110h4v1h-4zM383 110h2v1h-2zM386 110h6v1h-6zM393 110h1v1h-1zM395 110h9v1h-9zM405 110h10v1h-10zM416 110h6v1h-6zM349 111h2v1h-2zM352 111h1v1h-1zM355 111h1v1h-1zM358 111h1v1h-1zM361 111h1v1h-1zM366 111h1v1h-1zM368 111h1v1h-1zM371 111h3v1h-3zM379 111h15v1h-15zM395 111h20v1h-20zM416 111h6v1h-6zM343 112h1v1h-1zM347 112h1v1h-1zM349 112h6v1h-6zM359 112h1v1h-1zM362 112h1v1h-1zM365 112h2v1h-2zM368 112h3v1h-3zM372 112h3v1h-3zM382 112h12v1h-12zM395 112h27v1h-27zM323 113h1v1h-1zM326 113h1v1h-1zM338 113h2v1h-2zM349 113h2v1h-2zM352 113h1v1h-1zM354 113h1v1h-1zM356 113h1v1h-1zM359 113h1v1h-1zM361 113h1v1h-1zM364 113h1v1h-1zM370 113h1v1h-1zM372 113h2v1h-2zM375 113h1v1h-1zM380 113h12v1h-12zM393 113h4v1h-4zM398 113h17v1h-17zM416 113h7v1h-7zM335 114h2v1h-2zM338 114h3v1h-3zM342 114h1v1h-1zM349 114h1v1h-1zM351 114h4v1h-4zM357 114h1v1h-1zM363 114h1v1h-1zM365 114h4v1h-4zM370 114h3v1h-3zM374 114h1v1h-1zM381 114h8v1h-8zM391 114h1v1h-1zM393 114h7v1h-7zM401 114h14v1h-14zM416 114h8v1h-8zM278 115h1v1h-1zM312 115h1v1h-1zM315 115h1v1h-1zM336 115h7v1h-7zM350 115h5v1h-5zM356 115h1v1h-1zM361 115h9v1h-9zM372 115h1v1h-1zM380 115h9v1h-9zM392 115h8v1h-8zM401 115h23v1h-23zM279 116h2v1h-2zM309 116h1v1h-1zM311 116h2v1h-2zM314 116h3v1h-3zM321 116h1v1h-1zM324 116h1v1h-1zM333 116h6v1h-6zM340 116h1v1h-1zM342 116h1v1h-1zM351 116h7v1h-7zM361 116h5v1h-5zM367 116h2v1h-2zM371 116h1v1h-1zM374 116h2v1h-2zM378 116h1v1h-1zM380 116h11v1h-11zM393 116h7v1h-7zM401 116h23v1h-23zM273 117h1v1h-1zM275 117h1v1h-1zM280 117h1v1h-1zM313 117h2v1h-2zM316 117h2v1h-2zM321 117h2v1h-2zM332 117h5v1h-5zM338 117h5v1h-5zM351 117h4v1h-4zM361 117h3v1h-3zM365 117h10v1h-10zM376 117h1v1h-1zM378 117h8v1h-8zM387 117h4v1h-4zM392 117h32v1h-32zM273 118h3v1h-3zM294 118h1v1h-1zM296 118h2v1h-2zM310 118h6v1h-6zM318 118h1v1h-1zM321 118h2v1h-2zM325 118h1v1h-1zM330 118h8v1h-8zM340 118h1v1h-1zM342 118h2v1h-2zM347 118h10v1h-10zM362 118h4v1h-4zM367 118h3v1h-3zM371 118h8v1h-8zM380 118h45v1h-45zM273 119h1v1h-1zM294 119h3v1h-3zM308 119h3v1h-3zM312 119h1v1h-1zM314 119h3v1h-3zM318 119h7v1h-7zM332 119h7v1h-7zM340 119h1v1h-1zM343 119h1v1h-1zM348 119h8v1h-8zM357 119h1v1h-1zM360 119h10v1h-10zM371 119h2v1h-2zM374 119h5v1h-5zM380 119h45v1h-45zM272 120h1v1h-1zM276 120h1v1h-1zM294 120h3v1h-3zM308 120h2v1h-2zM312 120h1v1h-1zM314 120h8v1h-8zM323 120h5v1h-5zM329 120h1v1h-1zM332 120h8v1h-8zM341 120h1v1h-1zM344 120h1v1h-1zM346 120h9v1h-9zM358 120h2v1h-2zM361 120h29v1h-29zM391 120h34v1h-34zM275 121h1v1h-1zM293 121h6v1h-6zM301 121h1v1h-1zM308 121h2v1h-2zM311 121h3v1h-3zM316 121h7v1h-7zM324 121h4v1h-4zM332 121h11v1h-11zM345 121h80v1h-80zM276 122h1v1h-1zM278 122h1v1h-1zM286 122h1v1h-1zM293 122h1v1h-1zM296 122h2v1h-2zM299 122h2v1h-2zM302 122h2v1h-2zM307 122h1v1h-1zM309 122h2v1h-2zM312 122h1v1h-1zM315 122h15v1h-15zM332 122h23v1h-23zM356 122h69v1h-69zM273 123h1v1h-1zM275 123h4v1h-4zM282 123h4v1h-4zM292 123h1v1h-1zM294 123h19v1h-19zM314 123h2v1h-2zM317 123h14v1h-14zM333 123h92v1h-92zM273 124h1v1h-1zM275 124h3v1h-3zM279 124h1v1h-1zM283 124h3v1h-3zM287 124h6v1h-6zM295 124h17v1h-17zM314 124h111v1h-111zM273 125h1v1h-1zM275 125h11v1h-11zM287 125h7v1h-7zM295 125h27v1h-27zM323 125h8v1h-8zM332 125h93v1h-93zM273 126h1v1h-1zM275 126h37v1h-37zM314 126h18v1h-18zM333 126h92v1h-92zM273 127h65v1h-65zM340 127h85v1h-85zM275 128h1v1h-1zM277 128h148v1h-148zM275 129h1v1h-1zM278 129h147v1h-147zM274 130h151v1h-151zM274 131h151v1h-151zM272 132h153v1h-153zM273 133h152v1h-152zM273 134h152v1h-152zM272 135h153v1h-153zM273 136h152v1h-152zM273 137h152v1h-152zM273 138h152v1h-152zM272 139h1v1h-1zM275 139h2v1h-2zM278 139h17v1h-17zM296 139h11v1h-11zM309 139h6v1h-6zM316 139h20v1h-20zM338 139h13v1h-13zM352 139h2v1h-2zM355 139h1v1h-1zM357 139h4v1h-4zM362 139h6v1h-6zM369 139h56v1h-56zM273 140h3v1h-3zM290 140h1v1h-1zM304 140h1v1h-1zM307 140h1v1h-1zM317 140h1v1h-1zM343 140h1v1h-1zM367 140h1v1h-1zM378 140h2v1h-2zM381 140h1v1h-1zM390 140h1v1h-1zM396 140h1v1h-1zM414 140h1v1h-1zM290 141h1v1h-1zM368 141h1v1h-1zM379 141h2v1h-2z" fill="#ff0000"/><path d="M356.9 136.0l3.1 3.1m0-3.1l-3.1 3.1M348.7 136.0l3.1 3.1m0-3.1l-3.1 3.1M333.6 136.1l3.1 3.1m0-3.1l-3.1 3.1M338.0 136.0l3.1 3.1m0-3.1l-3.1 3.1M354.8 136.1l3.1 3.1m0-3.1l-3.1 3.1M365.0 136.1l3.1 3.1m0-3.1l-3.1 3.1M354.8 135.9l3.1 3.1m0-3.1l-3.1 3.1M307.5 136.0l3.1 3.1m0-3.1l-3.1 3.1M333.0 136.1l3.1 3.1m0-3.1l-3.1 3.1M353.9 135.9l3.1 3.1m0-3.1l-3.1 3.1M336.7 136.0l3.1 3.1m0-3.1l-3.1 3.1M368.8 136.0l3.1 3.1m0-3.1l-3.1 3.1M361.3 136.1l3.1 3.1m0-3.1l-3.1 3.1M274.0 131.3l3.1 3.1m0-3.1l-3.1 3.1M351.2 136.0l3.1 3.1m0-3.1l-3.1 3.1M390.3 108.0l3.1 3.1m0-3.1l-3.1 3.1M329.4 125.5l3.1 3.1m0-3.1l-3.1 3.1M395.0 109.5l3.1 3.1m0-3.1l-3.1 3.1M338.0 112.4l3.1 3.1m0-3.1l-3.1 3.1M394.8 104.2l3.1 3.1m0-3.1l-3.1 3.1M275.9 129.2l3.1 3.1m0-3.1l-3.1 3.1M391.2 110.3l3.1 3.1m0-3.1l-3.1 3.1M414.2 113.1l3.1 3.1m0-3.1l-3.1 3.1M377.9 108.2l3.1 3.1m0-3.1l-3.1 3.1M324.3 113.4l3.1 3.1m0-3.1l-3.1 3.1M313.3 124.7l3.1 3.1m0-3.1l-3.1 3.1M337.7 116.5l3.1 3.1m0-3.1l-3.1 3.1M296.9 119.4l3.1 3.1m0-3.1l-3.1 3.1M327.0 121.9l3.1 3.1m0-3.1l-3.1 3.1M380.6 105.5l3.1 3.1m0-3.1l-3.1 3.1M414.9 99.2l3.1 3.1m0-3.1l-3.1 3.1M365.7 114.6l3.1 3.1m0-3.1l-3.1 3.1M407.1 99.7l3.1 3.1m0-3.1l-3.1 3.1M359.1 109.4l3.1 3.1m0-3.1l-3.1 3.1M396.4 112.3l3.1 3.1m0-3.1l-3.1 3.1M371.3 102.2l3.1 3.1m0-3.1l-3.1 3.1M317.5 114.3l3.1 3.1m0-3.1l-3.1 3.1M392.2 96.4l3.1 3.1m0-3.1l-3.1 3.1M314.4 119.9l3.1 3.1m0-3.1l-3.1 3.1M353.9 119.8l3.1 3.1m0-3.1l-3.1 3.1M277.2 129.2l3.1 3.1m0-3.1l-3.1 3.1M331.6 126.3l3.1 3.1m0-3.1l-3.1 3.1M356.3 113.2l3.1 3.1m0-3.1l-3.1 3.1M316.0 123.1l3.1 3.1m0-3.1l-3.1 3.1M412.2 112.8l3.1 3.1m0-3.1l-3.1 3.1M285.0 123.5l3.1 3.1m0-3.1l-3.1 3.1M379.0 102.9l3.1 3.1m0-3.1l-3.1 3.1M277.9 124.6l3.1 3.1m0-3.1l-3.1 3.1M387.6 112.4l3.1 3.1m0-3.1l-3.1 3.1M412.7 113.3l3.1 3.1m0-3.1l-3.1 3.1M294.4 118.2l3.1 3.1m0-3.1l-3.1 3.1M355.3 120.7l3.1 3.1m0-3.1l-3.1 3.1M403.1 108.3l3.1 3.1m0-3.1l-3.1 3.1M337.9 118.6l3.1 3.1m0-3.1l-3.1 3.1M299.4 119.2l3.1 3.1m0-3.1l-3.1 3.1M399.6 104.6l3.1 3.1m0-3.1l-3.1 3.1M391.8 113.8l3.1 3.1m0-3.1l-3.1 3.1M369.1 117.7l3.1 3.1m0-3.1l-3.1 3.1M330.8 114.0l3.1 3.1m0-3.1l-3.1 3.1M415.0 114.0l3.1 3.1m0-3.1l-3.1 3.1M390.2 100.4l3.1 3.1m0-3.1l-3.1 3.1M358.5 107.2l3.1 3.1m0-3.1l-3.1 3.1M380.1 105.2l3.1 3.1m0-3.1l-3.1 3.1M332.7 126.9l3.1 3.1m0-3.1l-3.1 3.1M308.4 122.4l3.1 3.1m0-3.1l-3.1 3.1M373.3 106.5l3.1 3.1m0-3.1l-3.1 3.1M394.7 103.6l3.1 3.1m0-3.1l-3.1 3.1M414.3 109.3l3.1 3.1m0-3.1l-3.1 3.1M390.5 111.8l3.1 3.1m0-3.1l-3.1 3.1M411.0 106.0l3.1 3.1m0-3.1l-3.1 3.1M303.5 122.9l3.1 3.1m0-3.1l-3.1 3.1M404.2 103.9l3.1 3.1m0-3.1l-3.1 3.1M331.8 117.6l3.1 3.1m0-3.1l-3.1 3.1M311.7 123.3l3.1 3.1m0-3.1l-3.1 3.1M336.1 117.6l3.1 3.1m0-3.1l-3.1 3.1M416.7 102.7l3.1 3.1m0-3.1l-3.1 3.1M298.6 121.2l3.1 3.1m0-3.1l-3.1 3.1M316.0 120.2l3.1 3.1m0-3.1l-3.1 3.1M337.7 126.9l3.1 3.1m0-3.1l-3.1 3.1M282.3 120.5l3.1 3.1m0-3.1l-3.1 3.1M420.0 113.1l3.1 3.1m0-3.1l-3.1 3.1M346.6 111.3l3.1 3.1m0-3.1l-3.1 3.1M414.6 105.6l3.1 3.1m0-3.1l-3.1 3.1M400.5 115.6l3.1 3.1m0-3.1l-3.1 3.1M421.1 107.8l3.1 3.1m0-3.1l-3.1 3.1M352.2 111.5l3.1 3.1m0-3.1l-3.1 3.1M395.5 103.7l3.1 3.1m0-3.1l-3.1 3.1M381.2 108.4l3.1 3.1m0-3.1l-3.1 3.1M420.9 107.9l3.1 3.1m0-3.1l-3.1 3.1M421.0 104.9l3.1 3.1m0-3.1l-3.1 3.1M362.9 116.7l3.1 3.1m0-3.1l-3.1 3.1M411.0 107.5l3.1 3.1m0-3.1l-3.1 3.1M374.6 116.8l3.1 3.1m0-3.1l-3.1 3.1M336.8 124.6l3.1 3.1m0-3.1l-3.1 3.1M309.6 116.5l3.1 3.1m0-3.1l-3.1 3.1M365.8 109.1l3.1 3.1m0-3.1l-3.1 3.1M419.6 106.4l3.1 3.1m0-3.1l-3.1 3.1M389.8 117.9l3.1 3.1m0-3.1l-3.1 3.1M274.7 129.0l3.1 3.1m0-3.1l-3.1 3.1M338.1 112.8l3.1 3.1m0-3.1l-3.1 3.1M296.6 120.2l3.1 3.1m0-3.1l-3.1 3.1M354.1 121.1l3.1 3.1m0-3.1l-3.1 3.1M386.0 111.5l3.1 3.1m0-3.1l-3.1 3.1M372.2 113.0l3.1 3.1m0-3.1l-3.1 3.1M279.1 124.9l3.1 3.1m0-3.1l-3.1 3.1M416.7 96.7l3.1 3.1m0-3.1l-3.1 3.1M293.4 122.5l3.1 3.1m0-3.1l-3.1 3.1M312.3 124.8l3.1 3.1m0-3.1l-3.1 3.1M335.6 124.2l3.1 3.1m0-3.1l-3.1 3.1M300.5 119.2l3.1 3.1m0-3.1l-3.1 3.1M362.1 109.3l3.1 3.1m0-3.1l-3.1 3.1M402.1 102.1l3.1 3.1m0-3.1l-3.1 3.1M350.6 117.6l3.1 3.1m0-3.1l-3.1 3.1M413.5 102.6l3.1 3.1m0-3.1l-3.1 3.1M312.2 121.9l3.1 3.1m0-3.1l-3.1 3.1M418.1 95.8l3.1 3.1m0-3.1l-3.1 3.1M417.6 105.9l3.1 3.1m0-3.1l-3.1 3.1M322.8 120.6l3.1 3.1m0-3.1l-3.1 3.1M358.4 119.3l3.1 3.1m0-3.1l-3.1 3.1M346.5 117.2l3.1 3.1m0-3.1l-3.1 3.1M312.6 125.9l3.1 3.1m0-3.1l-3.1 3.1M421.5 93.0l3.1 3.1m0-3.1l-3.1 3.1M275.4 127.0l3.1 3.1m0-3.1l-3.1 3.1M354.4 121.0l3.1 3.1m0-3.1l-3.1 3.1M326.6 120.2l3.1 3.1m0-3.1l-3.1 3.1M388.3 108.3l3.1 3.1m0-3.1l-3.1 3.1M332.4 126.0l3.1 3.1m0-3.1l-3.1 3.1M372.2 111.7l3.1 3.1m0-3.1l-3.1 3.1M420.8 105.8l3.1 3.1m0-3.1l-3.1 3.1M276.0 129.4l3.1 3.1m0-3.1l-3.1 3.1M417.8 104.4l3.1 3.1m0-3.1l-3.1 3.1M384.3 110.0l3.1 3.1m0-3.1l-3.1 3.1M377.1 105.4l3.1 3.1m0-3.1l-3.1 3.1M308.9 122.9l3.1 3.1m0-3.1l-3.1 3.1M354.0 116.7l3.1 3.1m0-3.1l-3.1 3.1M415.5 106.2l3.1 3.1m0-3.1l-3.1 3.1M341.8 115.4l3.1 3.1m0-3.1l-3.1 3.1M397.0 108.5l3.1 3.1m0-3.1l-3.1 3.1M356.0 120.1l3.1 3.1m0-3.1l-3.1 3.1M374.6 117.6l3.1 3.1m0-3.1l-3.1 3.1M394.6 108.1l3.1 3.1m0-3.1l-3.1 3.1M299.6 116.6l3.1 3.1m0-3.1l-3.1 3.1M395.6 105.0l3.1 3.1m0-3.1l-3.1 3.1M332.1 124.3l3.1 3.1m0-3.1l-3.1 3.1M418.5 102.6l3.1 3.1m0-3.1l-3.1 3.1M402.3 108.5l3.1 3.1m0-3.1l-3.1 3.1M399.4 112.5l3.1 3.1m0-3.1l-3.1 3.1M341.0 116.9l3.1 3.1m0-3.1l-3.1 3.1M416.0 108.7l3.1 3.1m0-3.1l-3.1 3.1M337.7 120.7l3.1 3.1m0-3.1l-3.1 3.1M275.2 128.4l3.1 3.1m0-3.1l-3.1 3.1M389.8 120.5l3.1 3.1m0-3.1l-3.1 3.1M403.7 100.2l3.1 3.1m0-3.1l-3.1 3.1M354.3 111.2l3.1 3.1m0-3.1l-3.1 3.1M402.4 101.2l3.1 3.1m0-3.1l-3.1 3.1M362.4 115.3l3.1 3.1m0-3.1l-3.1 3.1M322.5 118.1l3.1 3.1m0-3.1l-3.1 3.1M328.5 116.3l3.1 3.1m0-3.1l-3.1 3.1M406.6 107.7l3.1 3.1m0-3.1l-3.1 3.1M335.8 127.8l3.1 3.1m0-3.1l-3.1 3.1M305.8 120.9l3.1 3.1m0-3.1l-3.1 3.1M383.5 115.1l3.1 3.1m0-3.1l-3.1 3.1M332.2 121.5l3.1 3.1m0-3.1l-3.1 3.1M362.5 114.3l3.1 3.1m0-3.1l-3.1 3.1M334.0 117.5l3.1 3.1m0-3.1l-3.1 3.1M368.1 111.6l3.1 3.1m0-3.1l-3.1 3.1M391.1 116.0l3.1 3.1m0-3.1l-3.1 3.1M414.2 95.8l3.1 3.1m0-3.1l-3.1 3.1M392.2 105.2l3.1 3.1m0-3.1l-3.1 3.1M388.4 107.9l3.1 3.1m0-3.1l-3.1 3.1M303.5 122.0l3.1 3.1m0-3.1l-3.1 3.1M274.6 124.2l3.1 3.1m0-3.1l-3.1 3.1M409.2 103.2l3.1 3.1m0-3.1l-3.1 3.1M410.3 99.4l3.1 3.1m0-3.1l-3.1 3.1M308.0 118.6l3.1 3.1m0-3.1l-3.1 3.1M408.1 104.3l3.1 3.1m0-3.1l-3.1 3.1M355.7 118.7l3.1 3.1m0-3.1l-3.1 3.1M397.0 115.7l3.1 3.1m0-3.1l-3.1 3.1M330.0 118.2l3.1 3.1m0-3.1l-3.1 3.1M371.9 113.0l3.1 3.1m0-3.1l-3.1 3.1M383.6 107.5l3.1 3.1m0-3.1l-3.1 3.1M330.9 122.0l3.1 3.1m0-3.1l-3.1 3.1M371.2 117.6l3.1 3.1m0-3.1l-3.1 3.1M328.5 123.5l3.1 3.1m0-3.1l-3.1 3.1M284.0 121.0l3.1 3.1m0-3.1l-3.1 3.1M314.2 120.9l3.1 3.1m0-3.1l-3.1 3.1M361.2 116.4l3.1 3.1m0-3.1l-3.1 3.1M388.0 118.8l3.1 3.1m0-3.1l-3.1 3.1M399.9 111.7l3.1 3.1m0-3.1l-3.1 3.1M319.6 123.3l3.1 3.1m0-3.1l-3.1 3.1M396.6 109.4l3.1 3.1m0-3.1l-3.1 3.1M278.7 115.7l3.1 3.1m0-3.1l-3.1 3.1M371.9 100.7l3.1 3.1m0-3.1l-3.1 3.1M378.8 103.6l3.1 3.1m0-3.1l-3.1 3.1M384.9 100.3l3.1 3.1m0-3.1l-3.1 3.1M421.3 115.0l3.1 3.1m0-3.1l-3.1 3.1M398.8 87.8l3.1 3.1m0-3.1l-3.1 3.1M420.3 107.9l3.1 3.1m0-3.1l-3.1 3.1M420.4 92.5l3.1 3.1m0-3.1l-3.1 3.1M377.0 108.4l3.1 3.1m0-3.1l-3.1 3.1M404.5 102.6l3.1 3.1m0-3.1l-3.1 3.1M379.7 118.4l3.1 3.1m0-3.1l-3.1 3.1M345.6 103.5l3.1 3.1m0-3.1l-3.1 3.1M380.7 95.6l3.1 3.1m0-3.1l-3.1 3.1M362.9 113.2l3.1 3.1m0-3.1l-3.1 3.1M323.0 108.4l3.1 3.1m0-3.1l-3.1 3.1M353.4 109.8l3.1 3.1m0-3.1l-3.1 3.1M276.4 125.3l3.1 3.1m0-3.1l-3.1 3.1M400.9 112.2l3.1 3.1m0-3.1l-3.1 3.1M274.8 124.1l3.1 3.1m0-3.1l-3.1 3.1M283.3 123.3l3.1 3.1m0-3.1l-3.1 3.1M416.0 82.0l3.1 3.1m0-3.1l-3.1 3.1M290.1 124.8l3.1 3.1m0-3.1l-3.1 3.1M309.3 112.9l3.1 3.1m0-3.1l-3.1 3.1M413.1 91.0l3.1 3.1m0-3.1l-3.1 3.1M295.6 120.4l3.1 3.1m0-3.1l-3.1 3.1M284.4 124.9l3.1 3.1m0-3.1l-3.1 3.1M392.2 91.7l3.1 3.1m0-3.1l-3.1 3.1M352.5 117.7l3.1 3.1m0-3.1l-3.1 3.1M396.1 100.0l3.1 3.1m0-3.1l-3.1 3.1M399.5 92.3l3.1 3.1m0-3.1l-3.1 3.1M364.2 113.3l3.1 3.1m0-3.1l-3.1 3.1M301.7 116.5l3.1 3.1m0-3.1l-3.1 3.1M294.1 124.1l3.1 3.1m0-3.1l-3.1 3.1M389.3 100.1l3.1 3.1m0-3.1l-3.1 3.1M301.4 120.5l3.1 3.1m0-3.1l-3.1 3.1M308.9 118.9l3.1 3.1m0-3.1l-3.1 3.1M399.3 103.8l3.1 3.1m0-3.1l-3.1 3.1M292.2 123.5l3.1 3.1m0-3.1l-3.1 3.1M354.4 106.2l3.1 3.1m0-3.1l-3.1 3.1M363.0 109.6l3.1 3.1m0-3.1l-3.1 3.1M329.9 117.3l3.1 3.1m0-3.1l-3.1 3.1M348.1 114.1l3.1 3.1m0-3.1l-3.1 3.1M391.8 115.4l3.1 3.1m0-3.1l-3.1 3.1M351.6 112.0l3.1 3.1m0-3.1l-3.1 3.1M342.7 118.2l3.1 3.1m0-3.1l-3.1 3.1M409.3 109.0l3.1 3.1m0-3.1l-3.1 3.1M305.8 104.5l3.1 3.1m0-3.1l-3.1 3.1M313.2 125.7l3.1 3.1m0-3.1l-3.1 3.1M384.5 108.0l3.1 3.1m0-3.1l-3.1 3.1M400.6 98.1l3.1 3.1m0-3.1l-3.1 3.1M387.3 115.9l3.1 3.1m0-3.1l-3.1 3.1M335.7 108.6l3.1 3.1m0-3.1l-3.1 3.1M384.3 97.5l3.1 3.1m0-3.1l-3.1 3.1M402.1 91.1l3.1 3.1m0-3.1l-3.1 3.1M396.7 92.7l3.1 3.1m0-3.1l-3.1 3.1M328.3 122.7l3.1 3.1m0-3.1l-3.1 3.1M283.3 122.1l3.1 3.1m0-3.1l-3.1 3.1M322.0 122.0l3.1 3.1m0-3.1l-3.1 3.1M320.7 120.8l3.1 3.1m0-3.1l-3.1 3.1M295.1 122.0l3.1 3.1m0-3.1l-3.1 3.1M289.6 108.8l3.1 3.1m0-3.1l-3.1 3.1M354.1 120.7l3.1 3.1m0-3.1l-3.1 3.1M357.0 106.9l3.1 3.1m0-3.1l-3.1 3.1M336.7 114.8l3.1 3.1m0-3.1l-3.1 3.1M409.6 103.2l3.1 3.1m0-3.1l-3.1 3.1M353.0 99.4l3.1 3.1m0-3.1l-3.1 3.1M355.5 106.0l3.1 3.1m0-3.1l-3.1 3.1M358.8 111.1l3.1 3.1m0-3.1l-3.1 3.1M361.3 113.4l3.1 3.1m0-3.1l-3.1 3.1M327.8 122.3l3.1 3.1m0-3.1l-3.1 3.1M277.5 109.8l3.1 3.1m0-3.1l-3.1 3.1M314.6 114.1l3.1 3.1m0-3.1l-3.1 3.1M320.6 111.4l3.1 3.1m0-3.1l-3.1 3.1M343.5 108.9l3.1 3.1m0-3.1l-3.1 3.1M334.3 113.4l3.1 3.1m0-3.1l-3.1 3.1M389.1 98.2l3.1 3.1m0-3.1l-3.1 3.1M316.0 123.8l3.1 3.1m0-3.1l-3.1 3.1M371.8 111.4l3.1 3.1m0-3.1l-3.1 3.1M398.9 104.5l3.1 3.1m0-3.1l-3.1 3.1M417.2 81.5l3.1 3.1m0-3.1l-3.1 3.1M343.0 115.8l3.1 3.1m0-3.1l-3.1 3.1M275.0 112.7l3.1 3.1m0-3.1l-3.1 3.1M420.3 102.6l3.1 3.1m0-3.1l-3.1 3.1M358.2 117.7l3.1 3.1m0-3.1l-3.1 3.1M320.7 105.3l3.1 3.1m0-3.1l-3.1 3.1M277.3 121.1l3.1 3.1m0-3.1l-3.1 3.1M397.2 111.8l3.1 3.1m0-3.1l-3.1 3.1M321.8 119.5l3.1 3.1m0-3.1l-3.1 3.1M343.9 120.9l3.1 3.1m0-3.1l-3.1 3.1M394.8 109.3l3.1 3.1m0-3.1l-3.1 3.1M396.1 98.6l3.1 3.1m0-3.1l-3.1 3.1M392.0 114.8l3.1 3.1m0-3.1l-3.1 3.1M403.1 103.7l3.1 3.1m0-3.1l-3.1 3.1M382.1 108.3l3.1 3.1m0-3.1l-3.1 3.1M409.6 97.4l3.1 3.1m0-3.1l-3.1 3.1M333.2 115.8l3.1 3.1m0-3.1l-3.1 3.1M337.6 120.2l3.1 3.1m0-3.1l-3.1 3.1M289.7 123.5l3.1 3.1m0-3.1l-3.1 3.1M408.3 85.2l3.1 3.1m0-3.1l-3.1 3.1M393.2 105.4l3.1 3.1m0-3.1l-3.1 3.1M310.5 124.8l3.1 3.1m0-3.1l-3.1 3.1M388.7 92.6l3.1 3.1m0-3.1l-3.1 3.1M320.6 113.3l3.1 3.1m0-3.1l-3.1 3.1M336.1 115.1l3.1 3.1m0-3.1l-3.1 3.1M368.6 96.4l3.1 3.1m0-3.1l-3.1 3.1M408.6 104.9l3.1 3.1m0-3.1l-3.1 3.1M411.4 105.4l3.1 3.1m0-3.1l-3.1 3.1M287.3 109.1l3.1 3.1m0-3.1l-3.1 3.1M393.5 100.3l3.1 3.1m0-3.1l-3.1 3.1M412.4 82.0l3.1 3.1m0-3.1l-3.1 3.1M373.2 105.5l3.1 3.1m0-3.1l-3.1 3.1M339.7 114.5l3.1 3.1m0-3.1l-3.1 3.1M294.5 125.9l3.1 3.1m0-3.1l-3.1 3.1M351.7 113.1l3.1 3.1m0-3.1l-3.1 3.1M327.6 122.8l3.1 3.1m0-3.1l-3.1 3.1M389.2 115.4l3.1 3.1m0-3.1l-3.1 3.1M407.0 103.6l3.1 3.1m0-3.1l-3.1 3.1M378.4 103.5l3.1 3.1m0-3.1l-3.1 3.1M344.7 112.1l3.1 3.1m0-3.1l-3.1 3.1M374.1 104.9l3.1 3.1m0-3.1l-3.1 3.1M308.4 115.2l3.1 3.1m0-3.1l-3.1 3.1M398.7 102.8l3.1 3.1m0-3.1l-3.1 3.1M420.2 111.7l3.1 3.1m0-3.1l-3.1 3.1M411.5 88.3l3.1 3.1m0-3.1l-3.1 3.1M370.0 113.7l3.1 3.1m0-3.1l-3.1 3.1M324.4 117.4l3.1 3.1m0-3.1l-3.1 3.1M355.0 100.2l3.1 3.1m0-3.1l-3.1 3.1M342.3 110.1l3.1 3.1m0-3.1l-3.1 3.1M390.4 107.2l3.1 3.1m0-3.1l-3.1 3.1M375.9 94.9l3.1 3.1m0-3.1l-3.1 3.1M312.3 106.0l3.1 3.1m0-3.1l-3.1 3.1M290.1 122.6l3.1 3.1m0-3.1l-3.1 3.1M317.0 119.3l3.1 3.1m0-3.1l-3.1 3.1M284.8 121.7l3.1 3.1m0-3.1l-3.1 3.1M380.0 115.3l3.1 3.1m0-3.1l-3.1 3.1M335.5 113.7l3.1 3.1m0-3.1l-3.1 3.1M360.7 118.5l3.1 3.1m0-3.1l-3.1 3.1M420.5 100.5l3.1 3.1m0-3.1l-3.1 3.1M388.4 109.8l3.1 3.1m0-3.1l-3.1 3.1M349.3 104.0l3.1 3.1m0-3.1l-3.1 3.1M276.1 120.6l3.1 3.1m0-3.1l-3.1 3.1M403.1 84.1l3.1 3.1m0-3.1l-3.1 3.1M370.5 115.3l3.1 3.1m0-3.1l-3.1 3.1M341.8 117.4l3.1 3.1m0-3.1l-3.1 3.1M386.0 89.8l3.1 3.1m0-3.1l-3.1 3.1M335.8 99.0l3.1 3.1m0-3.1l-3.1 3.1M352.6 113.5l3.1 3.1m0-3.1l-3.1 3.1M313.6 110.2l3.1 3.1m0-3.1l-3.1 3.1M380.9 108.1l3.1 3.1m0-3.1l-3.1 3.1M343.0 109.3l3.1 3.1m0-3.1l-3.1 3.1M408.5 90.5l3.1 3.1m0-3.1l-3.1 3.1M351.3 110.1l3.1 3.1m0-3.1l-3.1 3.1M388.0 105.8l3.1 3.1m0-3.1l-3.1 3.1M295.0 114.8l3.1 3.1m0-3.1l-3.1 3.1M415.8 87.6l3.1 3.1m0-3.1l-3.1 3.1M389.8 98.8l3.1 3.1m0-3.1l-3.1 3.1M416.8 103.9l3.1 3.1m0-3.1l-3.1 3.1M370.3 99.5l3.1 3.1m0-3.1l-3.1 3.1M326.2 106.8l3.1 3.1m0-3.1l-3.1 3.1M296.4 110.4l3.1 3.1m0-3.1l-3.1 3.1M349.7 110.4l3.1 3.1m0-3.1l-3.1 3.1M276.4 121.8l3.1 3.1m0-3.1l-3.1 3.1M295.1 120.4l3.1 3.1m0-3.1l-3.1 3.1M412.0 95.1l3.1 3.1m0-3.1l-3.1 3.1M369.0 112.2l3.1 3.1m0-3.1l-3.1 3.1M385.2 104.4l3.1 3.1m0-3.1l-3.1 3.1M416.4 90.1l3.1 3.1m0-3.1l-3.1 3.1M289.6 121.7l3.1 3.1m0-3.1l-3.1 3.1M334.6 115.9l3.1 3.1m0-3.1l-3.1 3.1M364.3 117.9l3.1 3.1m0-3.1l-3.1 3.1M319.1 117.7l3.1 3.1m0-3.1l-3.1 3.1M277.2 114.1l3.1 3.1m0-3.1l-3.1 3.1M406.5 104.9l3.1 3.1m0-3.1l-3.1 3.1M406.2 98.4l3.1 3.1m0-3.1l-3.1 3.1M315.1 115.2l3.1 3.1m0-3.1l-3.1 3.1M365.5 113.5l3.1 3.1m0-3.1l-3.1 3.1M362.9 109.1l3.1 3.1m0-3.1l-3.1 3.1M336.6 117.8l3.1 3.1m0-3.1l-3.1 3.1M347.8 112.9l3.1 3.1m0-3.1l-3.1 3.1M341.4 121.0l3.1 3.1m0-3.1l-3.1 3.1M407.8 109.0l3.1 3.1m0-3.1l-3.1 3.1M365.7 111.9l3.1 3.1m0-3.1l-3.1 3.1M410.4 83.0l3.1 3.1m0-3.1l-3.1 3.1M277.3 116.2l3.1 3.1m0-3.1l-3.1 3.1M309.3 111.5l3.1 3.1m0-3.1l-3.1 3.1M316.3 116.9l3.1 3.1m0-3.1l-3.1 3.1M355.7 120.0l3.1 3.1m0-3.1l-3.1 3.1M410.9 97.9l3.1 3.1m0-3.1l-3.1 3.1M281.4 117.1l3.1 3.1m0-3.1l-3.1 3.1M314.2 114.1l3.1 3.1m0-3.1l-3.1 3.1M415.0 82.6l3.1 3.1m0-3.1l-3.1 3.1M402.4 106.1l3.1 3.1m0-3.1l-3.1 3.1M323.0 105.4l3.1 3.1m0-3.1l-3.1 3.1M280.8 110.1l3.1 3.1m0-3.1l-3.1 3.1M309.0 120.3l3.1 3.1m0-3.1l-3.1 3.1M415.0 98.1l3.1 3.1m0-3.1l-3.1 3.1M313.7 115.4l3.1 3.1m0-3.1l-3.1 3.1M358.3 108.8l3.1 3.1m0-3.1l-3.1 3.1M331.4 121.6l3.1 3.1m0-3.1l-3.1 3.1M338.4 114.2l3.1 3.1m0-3.1l-3.1 3.1M400.5 107.2l3.1 3.1m0-3.1l-3.1 3.1M350.2 117.7l3.1 3.1m0-3.1l-3.1 3.1M338.3 120.1l3.1 3.1m0-3.1l-3.1 3.1M387.1 92.8l3.1 3.1m0-3.1l-3.1 3.1M292.1 120.2l3.1 3.1m0-3.1l-3.1 3.1M406.3 106.9l3.1 3.1m0-3.1l-3.1 3.1M280.8 122.3l3.1 3.1m0-3.1l-3.1 3.1M365.0 114.3l3.1 3.1m0-3.1l-3.1 3.1M311.6 113.7l3.1 3.1m0-3.1l-3.1 3.1M352.8 112.1l3.1 3.1m0-3.1l-3.1 3.1M356.6 105.6l3.1 3.1m0-3.1l-3.1 3.1M329.0 104.0l3.1 3.1m0-3.1l-3.1 3.1M361.3 113.4l3.1 3.1m0-3.1l-3.1 3.1M360.4 120.5l3.1 3.1m0-3.1l-3.1 3.1M369.7 105.2l3.1 3.1m0-3.1l-3.1 3.1M370.0 108.1l3.1 3.1m0-3.1l-3.1 3.1M341.2 106.8l3.1 3.1m0-3.1l-3.1 3.1M373.0 113.8l3.1 3.1m0-3.1l-3.1 3.1M276.2 120.3l3.1 3.1m0-3.1l-3.1 3.1M349.7 111.4l3.1 3.1m0-3.1l-3.1 3.1M366.3 114.6l3.1 3.1m0-3.1l-3.1 3.1M413.0 82.5l3.1 3.1m0-3.1l-3.1 3.1M418.0 91.9l3.1 3.1m0-3.1l-3.1 3.1M404.6 101.5l3.1 3.1m0-3.1l-3.1 3.1M361.5 110.5l3.1 3.1m0-3.1l-3.1 3.1M301.1 121.9l3.1 3.1m0-3.1l-3.1 3.1M383.3 117.4l3.1 3.1m0-3.1l-3.1 3.1M411.2 109.3l3.1 3.1m0-3.1l-3.1 3.1M291.8 119.7l3.1 3.1m0-3.1l-3.1 3.1M377.9 118.9l3.1 3.1m0-3.1l-3.1 3.1M349.3 117.9l3.1 3.1m0-3.1l-3.1 3.1M294.6 123.0l3.1 3.1m0-3.1l-3.1 3.1M319.5 112.8l3.1 3.1m0-3.1l-3.1 3.1M383.7 91.5l3.1 3.1m0-3.1l-3.1 3.1M321.4 104.7l3.1 3.1m0-3.1l-3.1 3.1M361.0 116.2l3.1 3.1m0-3.1l-3.1 3.1M360.2 115.7l3.1 3.1m0-3.1l-3.1 3.1M340.1 116.6l3.1 3.1m0-3.1l-3.1 3.1M380.7 105.8l3.1 3.1m0-3.1l-3.1 3.1M350.3 115.5l3.1 3.1m0-3.1l-3.1 3.1M393.6 111.1l3.1 3.1m0-3.1l-3.1 3.1M298.1 122.4l3.1 3.1m0-3.1l-3.1 3.1M339.3 112.6l3.1 3.1m0-3.1l-3.1 3.1M356.7 99.3l3.1 3.1m0-3.1l-3.1 3.1M292.3 123.3l3.1 3.1m0-3.1l-3.1 3.1M349.2 110.4l3.1 3.1m0-3.1l-3.1 3.1M325.2 118.0l3.1 3.1m0-3.1l-3.1 3.1M324.4 118.8l3.1 3.1m0-3.1l-3.1 3.1M338.7 105.7l3.1 3.1m0-3.1l-3.1 3.1M421.5 113.8l3.1 3.1m0-3.1l-3.1 3.1M326.4 112.6l3.1 3.1m0-3.1l-3.1 3.1M382.4 100.9l3.1 3.1m0-3.1l-3.1 3.1M330.0 117.2l3.1 3.1m0-3.1l-3.1 3.1M418.4 90.1l3.1 3.1m0-3.1l-3.1 3.1M383.3 102.7l3.1 3.1m0-3.1l-3.1 3.1M363.0 95.3l3.1 3.1m0-3.1l-3.1 3.1M338.4 99.3l3.1 3.1m0-3.1l-3.1 3.1M403.9 109.0l3.1 3.1m0-3.1l-3.1 3.1M300.1 112.7l3.1 3.1m0-3.1l-3.1 3.1M286.0 118.1l3.1 3.1m0-3.1l-3.1 3.1M364.0 112.7l3.1 3.1m0-3.1l-3.1 3.1M363.8 106.0l3.1 3.1m0-3.1l-3.1 3.1M399.1 104.7l3.1 3.1m0-3.1l-3.1 3.1M354.5 114.3l3.1 3.1m0-3.1l-3.1 3.1M331.9 112.1l3.1 3.1m0-3.1l-3.1 3.1M281.6 122.7l3.1 3.1m0-3.1l-3.1 3.1M415.8 96.4l3.1 3.1m0-3.1l-3.1 3.1M394.5 100.3l3.1 3.1m0-3.1l-3.1 3.1M286.1 108.6l3.1 3.1m0-3.1l-3.1 3.1M419.2 109.1l3.1 3.1m0-3.1l-3.1 3.1M283.3 117.6l3.1 3.1m0-3.1l-3.1 3.1M349.7 113.3l3.1 3.1m0-3.1l-3.1 3.1M288.0 118.6l3.1 3.1m0-3.1l-3.1 3.1M414.8 87.2l3.1 3.1m0-3.1l-3.1 3.1M369.0 104.3l3.1 3.1m0-3.1l-3.1 3.1M386.1 104.1l3.1 3.1m0-3.1l-3.1 3.1M372.9 100.0l3.1 3.1m0-3.1l-3.1 3.1M400.4 87.0l3.1 3.1m0-3.1l-3.1 3.1M370.5 107.6l3.1 3.1m0-3.1l-3.1 3.1M286.6 123.8l3.1 3.1m0-3.1l-3.1 3.1M366.0 114.3l3.1 3.1m0-3.1l-3.1 3.1M309.3 115.7l3.1 3.1m0-3.1l-3.1 3.1M309.7 115.9l3.1 3.1m0-3.1l-3.1 3.1M353.5 97.2l3.1 3.1m0-3.1l-3.1 3.1M389.8 108.7l3.1 3.1m0-3.1l-3.1 3.1M312.1 119.4l3.1 3.1m0-3.1l-3.1 3.1M362.1 113.0l3.1 3.1m0-3.1l-3.1 3.1M373.1 110.5l3.1 3.1m0-3.1l-3.1 3.1M360.3 118.6l3.1 3.1m0-3.1l-3.1 3.1M400.8 106.0l3.1 3.1m0-3.1l-3.1 3.1M371.1 118.7l3.1 3.1m0-3.1l-3.1 3.1M337.7 115.2l3.1 3.1m0-3.1l-3.1 3.1M277.6 115.2l3.1 3.1m0-3.1l-3.1 3.1M400.9 103.0l3.1 3.1m0-3.1l-3.1 3.1M333.8 113.9l3.1 3.1m0-3.1l-3.1 3.1M320.2 112.1l3.1 3.1m0-3.1l-3.1 3.1M296.0 121.8l3.1 3.1m0-3.1l-3.1 3.1M378.4 99.6l3.1 3.1m0-3.1l-3.1 3.1M340.2 111.9l3.1 3.1m0-3.1l-3.1 3.1M335.1 112.5l3.1 3.1m0-3.1l-3.1 3.1M323.9 113.6l3.1 3.1m0-3.1l-3.1 3.1M336.1 108.1l3.1 3.1m0-3.1l-3.1 3.1M401.7 94.5l3.1 3.1m0-3.1l-3.1 3.1M391.2 114.2l3.1 3.1m0-3.1l-3.1 3.1M288.6 123.9l3.1 3.1m0-3.1l-3.1 3.1M307.4 120.3l3.1 3.1m0-3.1l-3.1 3.1M380.5 114.3l3.1 3.1m0-3.1l-3.1 3.1M340.7 118.8l3.1 3.1m0-3.1l-3.1 3.1M335.5 107.7l3.1 3.1m0-3.1l-3.1 3.1M328.2 112.4l3.1 3.1m0-3.1l-3.1 3.1M332.2 121.6l3.1 3.1m0-3.1l-3.1 3.1M312.6 118.8l3.1 3.1m0-3.1l-3.1 3.1M342.0 111.4l3.1 3.1m0-3.1l-3.1 3.1M396.0 104.0l3.1 3.1m0-3.1l-3.1 3.1M414.7 93.3l3.1 3.1m0-3.1l-3.1 3.1M307.2 119.0l3.1 3.1m0-3.1l-3.1 3.1M398.2 95.8l3.1 3.1m0-3.1l-3.1 3.1M386.8 113.7l3.1 3.1m0-3.1l-3.1 3.1M377.6 112.7l3.1 3.1m0-3.1l-3.1 3.1M370.0 108.4l3.1 3.1m0-3.1l-3.1 3.1M329.6 117.6l3.1 3.1m0-3.1l-3.1 3.1M356.2 112.8l3.1 3.1m0-3.1l-3.1 3.1M349.7 101.5l3.1 3.1m0-3.1l-3.1 3.1M388.7 115.5l3.1 3.1m0-3.1l-3.1 3.1M294.6 114.0l3.1 3.1m0-3.1l-3.1 3.1M368.1 119.5l3.1 3.1m0-3.1l-3.1 3.1M396.9 112.3l3.1 3.1m0-3.1l-3.1 3.1M308.4 108.6l3.1 3.1m0-3.1l-3.1 3.1M362.6 103.5l3.1 3.1m0-3.1l-3.1 3.1M355.1 108.0l3.1 3.1m0-3.1l-3.1 3.1M356.4 113.2l3.1 3.1m0-3.1l-3.1 3.1M352.0 106.5l3.1 3.1m0-3.1l-3.1 3.1M317.0 105.4l3.1 3.1m0-3.1l-3.1 3.1M368.1 108.1l3.1 3.1m0-3.1l-3.1 3.1M322.5 106.1l3.1 3.1m0-3.1l-3.1 3.1M378.2 109.6l3.1 3.1m0-3.1l-3.1 3.1M408.3 93.9l3.1 3.1m0-3.1l-3.1 3.1M329.9 122.2l3.1 3.1m0-3.1l-3.1 3.1M400.5 98.0l3.1 3.1m0-3.1l-3.1 3.1M419.7 111.3l3.1 3.1m0-3.1l-3.1 3.1M326.8 111.0l3.1 3.1m0-3.1l-3.1 3.1M352.0 97.5l3.1 3.1m0-3.1l-3.1 3.1M330.7 123.2l3.1 3.1m0-3.1l-3.1 3.1M387.6 115.5l3.1 3.1m0-3.1l-3.1 3.1M301.2 122.4l3.1 3.1m0-3.1l-3.1 3.1M321.0 124.8l3.1 3.1m0-3.1l-3.1 3.1M360.7 114.6l3.1 3.1m0-3.1l-3.1 3.1M383.6 117.5l3.1 3.1m0-3.1l-3.1 3.1M366.0 109.6l3.1 3.1m0-3.1l-3.1 3.1M378.6 116.9l3.1 3.1m0-3.1l-3.1 3.1M341.0 112.2l3.1 3.1m0-3.1l-3.1 3.1M398.3 115.5l3.1 3.1m0-3.1l-3.1 3.1M352.2 110.8l3.1 3.1m0-3.1l-3.1 3.1M412.8 99.3l3.1 3.1m0-3.1l-3.1 3.1M397.6 98.9l3.1 3.1m0-3.1l-3.1 3.1M394.0 104.2l3.1 3.1m0-3.1l-3.1 3.1M408.4 97.7l3.1 3.1m0-3.1l-3.1 3.1M393.7 111.8l3.1 3.1m0-3.1l-3.1 3.1M377.0 118.9l3.1 3.1m0-3.1l-3.1 3.1M352.8 115.9l3.1 3.1m0-3.1l-3.1 3.1M341.0 119.8l3.1 3.1m0-3.1l-3.1 3.1M400.9 106.7l3.1 3.1m0-3.1l-3.1 3.1M396.4 97.4l3.1 3.1m0-3.1l-3.1 3.1M387.4 117.4l3.1 3.1m0-3.1l-3.1 3.1M295.2 115.2l3.1 3.1m0-3.1l-3.1 3.1M366.5 105.3l3.1 3.1m0-3.1l-3.1 3.1M294.0 115.5l3.1 3.1m0-3.1l-3.1 3.1M348.3 96.8l3.1 3.1m0-3.1l-3.1 3.1M318.2 116.9l3.1 3.1m0-3.1l-3.1 3.1M319.6 108.5l3.1 3.1m0-3.1l-3.1 3.1M419.9 105.4l3.1 3.1m0-3.1l-3.1 3.1M361.3 106.8l3.1 3.1m0-3.1l-3.1 3.1M321.8 115.6l3.1 3.1m0-3.1l-3.1 3.1M340.5 99.4l3.1 3.1m0-3.1l-3.1 3.1M377.8 115.7l3.1 3.1m0-3.1l-3.1 3.1M306.2 119.4l3.1 3.1m0-3.1l-3.1 3.1M368.4 117.8l3.1 3.1m0-3.1l-3.1 3.1M302.5 122.9l3.1 3.1m0-3.1l-3.1 3.1M367.3 118.5l3.1 3.1m0-3.1l-3.1 3.1M389.6 117.1l3.1 3.1m0-3.1l-3.1 3.1M397.8 104.0l3.1 3.1m0-3.1l-3.1 3.1M398.0 116.5l3.1 3.1m0-3.1l-3.1 3.1M345.2 112.4l3.1 3.1m0-3.1l-3.1 3.1M406.5 96.2l3.1 3.1m0-3.1l-3.1 3.1M370.7 112.0l3.1 3.1m0-3.1l-3.1 3.1M358.9 113.0l3.1 3.1m0-3.1l-3.1 3.1M322.6 122.4l3.1 3.1m0-3.1l-3.1 3.1M383.4 110.0l3.1 3.1m0-3.1l-3.1 3.1M418.0 100.1l3.1 3.1m0-3.1l-3.1 3.1M403.6 106.2l3.1 3.1m0-3.1l-3.1 3.1M335.0 117.6l3.1 3.1m0-3.1l-3.1 3.1M311.1 120.9l3.1 3.1m0-3.1l-3.1 3.1M417.5 106.2l3.1 3.1m0-3.1l-3.1 3.1M415.3 100.6l3.1 3.1m0-3.1l-3.1 3.1M406.7 105.1l3.1 3.1m0-3.1l-3.1 3.1M345.0 118.7l3.1 3.1m0-3.1l-3.1 3.1M389.9 93.8l3.1 3.1m0-3.1l-3.1 3.1M347.9 117.4l3.1 3.1m0-3.1l-3.1 3.1M416.6 102.4l3.1 3.1m0-3.1l-3.1 3.1M286.6 124.3l3.1 3.1m0-3.1l-3.1 3.1M376.3 94.9l3.1 3.1m0-3.1l-3.1 3.1M310.8 118.7l3.1 3.1m0-3.1l-3.1 3.1M275.9 121.5l3.1 3.1m0-3.1l-3.1 3.1M390.6 111.4l3.1 3.1m0-3.1l-3.1 3.1M328.5 125.6l3.1 3.1m0-3.1l-3.1 3.1M343.0 121.6l3.1 3.1m0-3.1l-3.1 3.1M416.8 88.4l3.1 3.1m0-3.1l-3.1 3.1M419.6 101.2l3.1 3.1m0-3.1l-3.1 3.1M345.8 104.2l3.1 3.1m0-3.1l-3.1 3.1M347.9 117.3l3.1 3.1m0-3.1l-3.1 3.1M386.7 112.7l3.1 3.1m0-3.1l-3.1 3.1M325.1 120.1l3.1 3.1m0-3.1l-3.1 3.1M326.5 121.6l3.1 3.1m0-3.1l-3.1 3.1M293.1 121.8l3.1 3.1m0-3.1l-3.1 3.1M384.5 97.1l3.1 3.1m0-3.1l-3.1 3.1M390.3 103.3l3.1 3.1m0-3.1l-3.1 3.1M337.0 112.7l3.1 3.1m0-3.1l-3.1 3.1M312.4 122.8l3.1 3.1m0-3.1l-3.1 3.1M414.1 87.5l3.1 3.1m0-3.1l-3.1 3.1M391.6 106.2l3.1 3.1m0-3.1l-3.1 3.1M381.3 112.5l3.1 3.1m0-3.1l-3.1 3.1M374.3 116.2l3.1 3.1m0-3.1l-3.1 3.1M323.1 110.5l3.1 3.1m0-3.1l-3.1 3.1M312.5 117.1l3.1 3.1m0-3.1l-3.1 3.1M346.5 109.4l3.1 3.1m0-3.1l-3.1 3.1M278.5 114.8l3.1 3.1m0-3.1l-3.1 3.1M297.6 115.7l3.1 3.1m0-3.1l-3.1 3.1M405.7 96.0l3.1 3.1m0-3.1l-3.1 3.1M305.3 116.6l3.1 3.1m0-3.1l-3.1 3.1M379.7 111.8l3.1 3.1m0-3.1l-3.1 3.1M388.8 98.5l3.1 3.1m0-3.1l-3.1 3.1M409.2 93.0l3.1 3.1m0-3.1l-3.1 3.1M324.7 103.7l3.1 3.1m0-3.1l-3.1 3.1M390.2 110.6l3.1 3.1m0-3.1l-3.1 3.1M293.1 120.8l3.1 3.1m0-3.1l-3.1 3.1M380.1 114.8l3.1 3.1m0-3.1l-3.1 3.1M420.8 94.8l3.1 3.1m0-3.1l-3.1 3.1M378.5 102.4l3.1 3.1m0-3.1l-3.1 3.1M317.6 110.8l3.1 3.1m0-3.1l-3.1 3.1M349.1 109.4l3.1 3.1m0-3.1l-3.1 3.1M421.1 111.1l3.1 3.1m0-3.1l-3.1 3.1M347.2 111.9l3.1 3.1m0-3.1l-3.1 3.1M416.3 107.9l3.1 3.1m0-3.1l-3.1 3.1M346.5 118.6l3.1 3.1m0-3.1l-3.1 3.1M401.0 110.5l3.1 3.1m0-3.1l-3.1 3.1M416.0 107.6l3.1 3.1m0-3.1l-3.1 3.1M305.3 111.4l3.1 3.1m0-3.1l-3.1 3.1M354.5 117.0l3.1 3.1m0-3.1l-3.1 3.1M386.4 115.9l3.1 3.1m0-3.1l-3.1 3.1M357.4 119.0l3.1 3.1m0-3.1l-3.1 3.1M377.7 115.9l3.1 3.1m0-3.1l-3.1 3.1M391.9 103.7l3.1 3.1m0-3.1l-3.1 3.1M384.9 96.6l3.1 3.1m0-3.1l-3.1 3.1M410.4 104.4l3.1 3.1m0-3.1l-3.1 3.1M326.1 116.1l3.1 3.1m0-3.1l-3.1 3.1M421.6 93.8l3.1 3.1m0-3.1l-3.1 3.1M300.2 120.4l3.1 3.1m0-3.1l-3.1 3.1M375.7 116.5l3.1 3.1m0-3.1l-3.1 3.1M414.8 92.1l3.1 3.1m0-3.1l-3.1 3.1M385.9 94.4l3.1 3.1m0-3.1l-3.1 3.1M407.9 90.9l3.1 3.1m0-3.1l-3.1 3.1M333.4 108.8l3.1 3.1m0-3.1l-3.1 3.1M352.5 119.3l3.1 3.1m0-3.1l-3.1 3.1M364.5 97.3l3.1 3.1m0-3.1l-3.1 3.1M292.6 116.7l3.1 3.1m0-3.1l-3.1 3.1M352.9 116.6l3.1 3.1m0-3.1l-3.1 3.1M400.2 101.4l3.1 3.1m0-3.1l-3.1 3.1M283.5 119.7l3.1 3.1m0-3.1l-3.1 3.1M349.1 111.6l3.1 3.1m0-3.1l-3.1 3.1M365.0 116.8l3.1 3.1m0-3.1l-3.1 3.1M306.5 109.7l3.1 3.1m0-3.1l-3.1 3.1M325.6 115.9l3.1 3.1m0-3.1l-3.1 3.1M417.0 82.9l3.1 3.1m0-3.1l-3.1 3.1M398.0 112.8l3.1 3.1m0-3.1l-3.1 3.1M302.6 105.6l3.1 3.1m0-3.1l-3.1 3.1M327.1 110.8l3.1 3.1m0-3.1l-3.1 3.1M356.0 108.7l3.1 3.1m0-3.1l-3.1 3.1M312.0 120.7l3.1 3.1m0-3.1l-3.1 3.1M366.2 108.8l3.1 3.1m0-3.1l-3.1 3.1M325.0 119.0l3.1 3.1m0-3.1l-3.1 3.1M343.8 120.6l3.1 3.1m0-3.1l-3.1 3.1M374.5 106.0l3.1 3.1m0-3.1l-3.1 3.1M293.5 118.9l3.1 3.1m0-3.1l-3.1 3.1M398.5 91.1l3.1 3.1m0-3.1l-3.1 3.1M421.2 115.4l3.1 3.1m0-3.1l-3.1 3.1M318.8 115.6l3.1 3.1m0-3.1l-3.1 3.1M411.8 108.0l3.1 3.1m0-3.1l-3.1 3.1M402.3 93.5l3.1 3.1m0-3.1l-3.1 3.1M412.8 98.0l3.1 3.1m0-3.1l-3.1 3.1M307.9 118.3l3.1 3.1m0-3.1l-3.1 3.1M412.0 114.4l3.1 3.1m0-3.1l-3.1 3.1M421.2 113.6l3.1 3.1m0-3.1l-3.1 3.1M305.1 110.2l3.1 3.1m0-3.1l-3.1 3.1M393.2 92.9l3.1 3.1m0-3.1l-3.1 3.1M357.3 119.1l3.1 3.1m0-3.1l-3.1 3.1M287.1 123.9l3.1 3.1m0-3.1l-3.1 3.1M357.4 107.7l3.1 3.1m0-3.1l-3.1 3.1M386.6 98.4l3.1 3.1m0-3.1l-3.1 3.1M316.8 108.7l3.1 3.1m0-3.1l-3.1 3.1M309.2 122.2l3.1 3.1m0-3.1l-3.1 3.1M392.9 88.3l3.1 3.1m0-3.1l-3.1 3.1M386.3 109.4l3.1 3.1m0-3.1l-3.1 3.1M280.6 124.0l3.1 3.1m0-3.1l-3.1 3.1M314.3 114.2l3.1 3.1m0-3.1l-3.1 3.1M349.0 114.4l3.1 3.1m0-3.1l-3.1 3.1M359.7 119.6l3.1 3.1m0-3.1l-3.1 3.1M403.0 99.2l3.1 3.1m0-3.1l-3.1 3.1M307.6 108.0l3.1 3.1m0-3.1l-3.1 3.1M395.1 110.5l3.1 3.1m0-3.1l-3.1 3.1M400.3 101.6l3.1 3.1m0-3.1l-3.1 3.1M346.6 109.7l3.1 3.1m0-3.1l-3.1 3.1M368.7 96.9l3.1 3.1m0-3.1l-3.1 3.1M332.4 115.6l3.1 3.1m0-3.1l-3.1 3.1M358.8 99.1l3.1 3.1m0-3.1l-3.1 3.1M334.5 112.0l3.1 3.1m0-3.1l-3.1 3.1M348.0 101.4l3.1 3.1m0-3.1l-3.1 3.1M330.4 106.8l3.1 3.1m0-3.1l-3.1 3.1M323.4 110.5l3.1 3.1m0-3.1l-3.1 3.1M321.5 116.9l3.1 3.1m0-3.1l-3.1 3.1M291.8 118.8l3.1 3.1m0-3.1l-3.1 3.1M288.9 114.3l3.1 3.1m0-3.1l-3.1 3.1M359.3 110.4l3.1 3.1m0-3.1l-3.1 3.1M407.9 106.1l3.1 3.1m0-3.1l-3.1 3.1M367.8 114.5l3.1 3.1m0-3.1l-3.1 3.1M370.4 110.0l3.1 3.1m0-3.1l-3.1 3.1M412.5 109.8l3.1 3.1m0-3.1l-3.1 3.1M359.8 97.2l3.1 3.1m0-3.1l-3.1 3.1M322.5 118.8l3.1 3.1m0-3.1l-3.1 3.1M420.9 117.1l3.1 3.1m0-3.1l-3.1 3.1M365.1 109.4l3.1 3.1m0-3.1l-3.1 3.1M326.7 120.2l3.1 3.1m0-3.1l-3.1 3.1M394.0 100.7l3.1 3.1m0-3.1l-3.1 3.1M366.5 115.0l3.1 3.1m0-3.1l-3.1 3.1M339.7 116.6l3.1 3.1m0-3.1l-3.1 3.1M306.1 121.1l3.1 3.1m0-3.1l-3.1 3.1M378.0 97.3l3.1 3.1m0-3.1l-3.1 3.1M414.1 109.2l3.1 3.1m0-3.1l-3.1 3.1M310.5 138.7l3.1 3.1m0-3.1l-3.1 3.1M397.0 137.4l3.1 3.1m0-3.1l-3.1 3.1M283.2 138.2l3.1 3.1m0-3.1l-3.1 3.1M418.0 137.6l3.1 3.1m0-3.1l-3.1 3.1M412.2 138.5l3.1 3.1m0-3.1l-3.1 3.1M343.1 138.1l3.1 3.1m0-3.1l-3.1 3.1M396.9 137.4l3.1 3.1m0-3.1l-3.1 3.1M400.4 139.1l3.1 3.1m0-3.1l-3.1 3.1M389.2 138.4l3.1 3.1m0-3.1l-3.1 3.1M411.0 136.9l3.1 3.1m0-3.1l-3.1 3.1M401.5 138.9l3.1 3.1m0-3.1l-3.1 3.1M305.7 139.0l3.1 3.1m0-3.1l-3.1 3.1M310.5 137.8l3.1 3.1m0-3.1l-3.1 3.1M388.2 139.4l3.1 3.1m0-3.1l-3.1 3.1M336.7 138.6l3.1 3.1m0-3.1l-3.1 3.1M308.4 138.4l3.1 3.1m0-3.1l-3.1 3.1M415.5 139.0l3.1 3.1m0-3.1l-3.1 3.1M398.6 138.2l3.1 3.1m0-3.1l-3.1 3.1M294.1 138.3l3.1 3.1m0-3.1l-3.1 3.1M363.3 137.2l3.1 3.1m0-3.1l-3.1 3.1M418.6 139.3l3.1 3.1m0-3.1l-3.1 3.1M325.3 137.5l3.1 3.1m0-3.1l-3.1 3.1M317.3 137.1l3.1 3.1m0-3.1l-3.1 3.1M287.4 138.5l3.1 3.1m0-3.1l-3.1 3.1M339.3 137.7l3.1 3.1m0-3.1l-3.1 3.1M340.0 138.6l3.1 3.1m0-3.1l-3.1 3.1M330.3 137.7l3.1 3.1m0-3.1l-3.1 3.1M274.5 137.9l3.1 3.1m0-3.1l-3.1 3.1M288.6 139.2l3.1 3.1m0-3.1l-3.1 3.1M316.8 137.5l3.1 3.1m0-3.1l-3.1 3.1M342.5 139.5l3.1 3.1m0-3.1l-3.1 3.1M398.2 139.0l3.1 3.1m0-3.1l-3.1 3.1M343.8 139.3l3.1 3.1m0-3.1l-3.1 3.1M364.8 137.0l3.1 3.1m0-3.1l-3.1 3.1M290.1 137.3l3.1 3.1m0-3.1l-3.1 3.1M419.5 139.4l3.1 3.1m0-3.1l-3.1 3.1M340.4 137.2l3.1 3.1m0-3.1l-3.1 3.1M348.5 137.8l3.1 3.1m0-3.1l-3.1 3.1M393.3 138.0l3.1 3.1m0-3.1l-3.1 3.1M394.8 139.0l3.1 3.1m0-3.1l-3.1 3.1M324.7 139.0l3.1 3.1m0-3.1l-3.1 3.1M336.6 138.4l3.1 3.1m0-3.1l-3.1 3.1M309.2 138.5l3.1 3.1m0-3.1l-3.1 3.1M292.9 138.1l3.1 3.1m0-3.1l-3.1 3.1M413.1 138.1l3.1 3.1m0-3.1l-3.1 3.1M328.9 139.2l3.1 3.1m0-3.1l-3.1 3.1M414.5 137.9l3.1 3.1m0-3.1l-3.1 3.1M287.4 139.2l3.1 3.1m0-3.1l-3.1 3.1M306.6 138.2l3.1 3.1m0-3.1l-3.1 3.1M366.3 139.2l3.1 3.1m0-3.1l-3.1 3.1M374.6 137.0l3.1 3.1m0-3.1l-3.1 3.1M355.2 138.5l3.1 3.1m0-3.1l-3.1 3.1M301.1 138.5l3.1 3.1m0-3.1l-3.1 3.1M361.3 139.3l3.1 3.1m0-3.1l-3.1 3.1M365.5 138.3l3.1 3.1m0-3.1l-3.1 3.1M365.2 138.3l3.1 3.1m0-3.1l-3.1 3.1M322.6 138.8l3.1 3.1m0-3.1l-3.1 3.1M354.3 136.1l3.1 3.1m0-3.1l-3.1 3.1M418.7 138.6l3.1 3.1m0-3.1l-3.1 3.1M274.6 137.8l3.1 3.1m0-3.1l-3.1 3.1M279.2 137.2l3.1 3.1m0-3.1l-3.1 3.1M279.9 139.3l3.1 3.1m0-3.1l-3.1 3.1M342.8 139.1l3.1 3.1m0-3.1l-3.1 3.1M361.2 136.6l3.1 3.1m0-3.1l-3.1 3.1M358.3 139.0l3.1 3.1m0-3.1l-3.1 3.1M377.0 138.6l3.1 3.1m0-3.1l-3.1 3.1M305.8 138.1l3.1 3.1m0-3.1l-3.1 3.1M318.0 137.0l3.1 3.1m0-3.1l-3.1 3.1M276.5 137.7l3.1 3.1m0-3.1l-3.1 3.1M292.9 136.4l3.1 3.1m0-3.1l-3.1 3.1M325.4 139.1l3.1 3.1m0-3.1l-3.1 3.1M301.7 137.9l3.1 3.1m0-3.1l-3.1 3.1M289.2 139.1l3.1 3.1m0-3.1l-3.1 3.1M299.9 138.6l3.1 3.1m0-3.1l-3.1 3.1M287.2 137.9l3.1 3.1m0-3.1l-3.1 3.1M282.1 138.3l3.1 3.1m0-3.1l-3.1 3.1M338.4 138.0l3.1 3.1m0-3.1l-3.1 3.1M373.6 137.7l3.1 3.1m0-3.1l-3.1 3.1M315.1 138.1l3.1 3.1m0-3.1l-3.1 3.1M388.9 139.0l3.1 3.1m0-3.1l-3.1 3.1M331.3 139.3l3.1 3.1m0-3.1l-3.1 3.1M333.8 138.0l3.1 3.1m0-3.1l-3.1 3.1M347.1 138.8l3.1 3.1m0-3.1l-3.1 3.1M350.9 138.5l3.1 3.1m0-3.1l-3.1 3.1M402.0 139.3l3.1 3.1m0-3.1l-3.1 3.1M404.5 138.6l3.1 3.1m0-3.1l-3.1 3.1M321.8 138.0l3.1 3.1m0-3.1l-3.1 3.1M303.4 139.0l3.1 3.1m0-3.1l-3.1 3.1M394.1 138.1l3.1 3.1m0-3.1l-3.1 3.1M416.6 138.7l3.1 3.1m0-3.1l-3.1 3.1M285.2 137.3l3.1 3.1m0-3.1l-3.1 3.1M369.0 138.3l3.1 3.1m0-3.1l-3.1 3.1M328.2 137.3l3.1 3.1m0-3.1l-3.1 3.1M382.7 138.2l3.1 3.1m0-3.1l-3.1 3.1M384.7 137.7l3.1 3.1m0-3.1l-3.1 3.1M388.0 137.4l3.1 3.1m0-3.1l-3.1 3.1M370.7 139.3l3.1 3.1m0-3.1l-3.1 3.1M289.3 138.7l3.1 3.1m0-3.1l-3.1 3.1M388.7 139.0l3.1 3.1m0-3.1l-3.1 3.1M376.1 139.3l3.1 3.1m0-3.1l-3.1 3.1M292.5 139.2l3.1 3.1m0-3.1l-3.1 3.1M376.2 137.5l3.1 3.1m0-3.1l-3.1 3.1M410.3 137.1l3.1 3.1m0-3.1l-3.1 3.1M316.3 137.8l3.1 3.1m0-3.1l-3.1 3.1M355.8 139.4l3.1 3.1m0-3.1l-3.1 3.1M308.7 136.6l3.1 3.1m0-3.1l-3.1 3.1M297.1 138.3l3.1 3.1m0-3.1l-3.1 3.1M395.7 137.6l3.1 3.1m0-3.1l-3.1 3.1M334.5 136.9l3.1 3.1m0-3.1l-3.1 3.1M366.4 139.5l3.1 3.1m0-3.1l-3.1 3.1M284.5 138.3l3.1 3.1m0-3.1l-3.1 3.1M310.5 138.8l3.1 3.1m0-3.1l-3.1 3.1M317.3 137.3l3.1 3.1m0-3.1l-3.1 3.1M379.7 138.5l3.1 3.1m0-3.1l-3.1 3.1M304.4 137.5l3.1 3.1m0-3.1l-3.1 3.1M331.8 137.2l3.1 3.1m0-3.1l-3.1 3.1M378.9 139.3l3.1 3.1m0-3.1l-3.1 3.1M301.2 137.1l3.1 3.1m0-3.1l-3.1 3.1M302.4 138.0l3.1 3.1m0-3.1l-3.1 3.1M384.7 138.7l3.1 3.1m0-3.1l-3.1 3.1M391.4 137.9l3.1 3.1m0-3.1l-3.1 3.1M317.4 139.4l3.1 3.1m0-3.1l-3.1 3.1M367.3 139.2l3.1 3.1m0-3.1l-3.1 3.1M384.4 138.2l3.1 3.1m0-3.1l-3.1 3.1M345.6 137.4l3.1 3.1m0-3.1l-3.1 3.1M348.0 138.9l3.1 3.1m0-3.1l-3.1 3.1M350.7 139.2l3.1 3.1m0-3.1l-3.1 3.1M375.7 137.1l3.1 3.1m0-3.1l-3.1 3.1M279.6 138.6l3.1 3.1m0-3.1l-3.1 3.1M414.7 137.4l3.1 3.1m0-3.1l-3.1 3.1M421.5 139.2l3.1 3.1m0-3.1l-3.1 3.1M418.1 137.0l3.1 3.1m0-3.1l-3.1 3.1M329.2 139.5l3.1 3.1m0-3.1l-3.1 3.1M408.5 139.0l3.1 3.1m0-3.1l-3.1 3.1M403.5 138.4l3.1 3.1m0-3.1l-3.1 3.1M406.6 137.3l3.1 3.1m0-3.1l-3.1 3.1M357.4 137.4l3.1 3.1m0-3.1l-3.1 3.1M300.2 137.1l3.1 3.1m0-3.1l-3.1 3.1M291.5 137.6l3.1 3.1m0-3.1l-3.1 3.1M319.0 139.0l3.1 3.1m0-3.1l-3.1 3.1M343.3 137.2l3.1 3.1m0-3.1l-3.1 3.1M379.0 139.5l3.1 3.1m0-3.1l-3.1 3.1M313.9 137.3l3.1 3.1m0-3.1l-3.1 3.1M345.9 138.9l3.1 3.1m0-3.1l-3.1 3.1M376.1 138.0l3.1 3.1m0-3.1l-3.1 3.1M278.8 138.1l3.1 3.1m0-3.1l-3.1 3.1M304.4 138.4l3.1 3.1m0-3.1l-3.1 3.1M391.7 138.2l3.1 3.1m0-3.1l-3.1 3.1M377.8 138.0l3.1 3.1m0-3.1l-3.1 3.1M279.9 138.5l3.1 3.1m0-3.1l-3.1 3.1M422.0 139.4l3.1 3.1m0-3.1l-3.1 3.1M332.4 137.6l3.1 3.1m0-3.1l-3.1 3.1M312.5 138.0l3.1 3.1m0-3.1l-3.1 3.1M369.6 111.5l3.1 3.1m0-3.1l-3.1 3.1M287.0 102.6l3.1 3.1m0-3.1l-3.1 3.1M372.6 115.7l3.1 3.1m0-3.1l-3.1 3.1M382.7 108.5l3.1 3.1m0-3.1l-3.1 3.1M361.4 87.5l3.1 3.1m0-3.1l-3.1 3.1M295.7 101.1l3.1 3.1m0-3.1l-3.1 3.1M297.6 107.1l3.1 3.1m0-3.1l-3.1 3.1M383.3 94.2l3.1 3.1m0-3.1l-3.1 3.1M321.7 117.0l3.1 3.1m0-3.1l-3.1 3.1M418.6 84.4l3.1 3.1m0-3.1l-3.1 3.1M407.2 82.0l3.1 3.1m0-3.1l-3.1 3.1M294.8 108.1l3.1 3.1m0-3.1l-3.1 3.1M384.7 86.3l3.1 3.1m0-3.1l-3.1 3.1M415.9 103.4l3.1 3.1m0-3.1l-3.1 3.1M396.5 112.6l3.1 3.1m0-3.1l-3.1 3.1M411.3 89.4l3.1 3.1m0-3.1l-3.1 3.1M413.0 109.0l3.1 3.1m0-3.1l-3.1 3.1M419.4 102.0l3.1 3.1m0-3.1l-3.1 3.1M293.3 97.6l3.1 3.1m0-3.1l-3.1 3.1M310.6 113.0l3.1 3.1m0-3.1l-3.1 3.1M279.8 115.9l3.1 3.1m0-3.1l-3.1 3.1M369.1 107.2l3.1 3.1m0-3.1l-3.1 3.1M304.9 104.7l3.1 3.1m0-3.1l-3.1 3.1M420.1 78.9l3.1 3.1m0-3.1l-3.1 3.1M339.5 89.8l3.1 3.1m0-3.1l-3.1 3.1M404.4 108.2l3.1 3.1m0-3.1l-3.1 3.1M379.3 100.1l3.1 3.1m0-3.1l-3.1 3.1M332.4 116.5l3.1 3.1m0-3.1l-3.1 3.1M307.4 104.2l3.1 3.1m0-3.1l-3.1 3.1M289.0 109.9l3.1 3.1m0-3.1l-3.1 3.1M399.9 92.5l3.1 3.1m0-3.1l-3.1 3.1M377.0 110.4l3.1 3.1m0-3.1l-3.1 3.1M291.8 105.3l3.1 3.1m0-3.1l-3.1 3.1M406.6 94.3l3.1 3.1m0-3.1l-3.1 3.1M354.4 101.8l3.1 3.1m0-3.1l-3.1 3.1M418.8 96.4l3.1 3.1m0-3.1l-3.1 3.1M305.6 116.9l3.1 3.1m0-3.1l-3.1 3.1M392.1 113.5l3.1 3.1m0-3.1l-3.1 3.1M315.7 115.9l3.1 3.1m0-3.1l-3.1 3.1M294.3 94.8l3.1 3.1m0-3.1l-3.1 3.1M385.1 94.5l3.1 3.1m0-3.1l-3.1 3.1M288.1 113.5l3.1 3.1m0-3.1l-3.1 3.1M348.4 99.4l3.1 3.1m0-3.1l-3.1 3.1M317.3 100.9l3.1 3.1m0-3.1l-3.1 3.1M404.2 103.5l3.1 3.1m0-3.1l-3.1 3.1M303.1 111.2l3.1 3.1m0-3.1l-3.1 3.1M356.6 115.9l3.1 3.1m0-3.1l-3.1 3.1M400.3 81.6l3.1 3.1m0-3.1l-3.1 3.1M408.7 82.5l3.1 3.1m0-3.1l-3.1 3.1M356.6 88.7l3.1 3.1m0-3.1l-3.1 3.1M405.4 81.0l3.1 3.1m0-3.1l-3.1 3.1M378.3 107.8l3.1 3.1m0-3.1l-3.1 3.1M383.5 96.2l3.1 3.1m0-3.1l-3.1 3.1M341.6 113.7l3.1 3.1m0-3.1l-3.1 3.1M379.1 87.8l3.1 3.1m0-3.1l-3.1 3.1M311.9 116.6l3.1 3.1m0-3.1l-3.1 3.1M372.4 91.3l3.1 3.1m0-3.1l-3.1 3.1M350.9 95.9l3.1 3.1m0-3.1l-3.1 3.1M388.0 111.2l3.1 3.1m0-3.1l-3.1 3.1M365.1 88.0l3.1 3.1m0-3.1l-3.1 3.1M315.5 117.9l3.1 3.1m0-3.1l-3.1 3.1M380.0 92.4l3.1 3.1m0-3.1l-3.1 3.1M363.6 88.0l3.1 3.1m0-3.1l-3.1 3.1M284.8 110.6l3.1 3.1m0-3.1l-3.1 3.1M378.0 109.7l3.1 3.1m0-3.1l-3.1 3.1M294.6 102.6l3.1 3.1m0-3.1l-3.1 3.1M297.3 117.6l3.1 3.1m0-3.1l-3.1 3.1M406.8 95.8l3.1 3.1m0-3.1l-3.1 3.1M397.3 85.0l3.1 3.1m0-3.1l-3.1 3.1M413.8 102.4l3.1 3.1m0-3.1l-3.1 3.1M332.1 100.8l3.1 3.1m0-3.1l-3.1 3.1M366.8 112.8l3.1 3.1m0-3.1l-3.1 3.1M352.1 105.9l3.1 3.1m0-3.1l-3.1 3.1M299.3 95.9l3.1 3.1m0-3.1l-3.1 3.1M289.8 110.7l3.1 3.1m0-3.1l-3.1 3.1M379.5 104.5l3.1 3.1m0-3.1l-3.1 3.1M364.3 111.2l3.1 3.1m0-3.1l-3.1 3.1M294.2 105.4l3.1 3.1m0-3.1l-3.1 3.1M420.4 80.9l3.1 3.1m0-3.1l-3.1 3.1M275.1 96.4l3.1 3.1m0-3.1l-3.1 3.1M347.0 105.6l3.1 3.1m0-3.1l-3.1 3.1M345.0 115.3l3.1 3.1m0-3.1l-3.1 3.1M339.5 108.5l3.1 3.1m0-3.1l-3.1 3.1M376.0 114.3l3.1 3.1m0-3.1l-3.1 3.1M369.5 115.3l3.1 3.1m0-3.1l-3.1 3.1M280.1 100.0l3.1 3.1m0-3.1l-3.1 3.1M320.4 116.1l3.1 3.1m0-3.1l-3.1 3.1M304.8 112.3l3.1 3.1m0-3.1l-3.1 3.1M293.6 118.5l3.1 3.1m0-3.1l-3.1 3.1M408.0 96.2l3.1 3.1m0-3.1l-3.1 3.1M359.8 113.9l3.1 3.1m0-3.1l-3.1 3.1M321.2 102.3l3.1 3.1m0-3.1l-3.1 3.1M392.7 102.6l3.1 3.1m0-3.1l-3.1 3.1M301.2 115.7l3.1 3.1m0-3.1l-3.1 3.1M295.1 105.9l3.1 3.1m0-3.1l-3.1 3.1M399.1 105.5l3.1 3.1m0-3.1l-3.1 3.1M372.9 87.9l3.1 3.1m0-3.1l-3.1 3.1M309.9 92.1l3.1 3.1m0-3.1l-3.1 3.1M330.7 115.8l3.1 3.1m0-3.1l-3.1 3.1M370.6 97.1l3.1 3.1m0-3.1l-3.1 3.1M342.0 103.1l3.1 3.1m0-3.1l-3.1 3.1M408.1 97.7l3.1 3.1m0-3.1l-3.1 3.1M311.5 115.9l3.1 3.1m0-3.1l-3.1 3.1M295.4 97.0l3.1 3.1m0-3.1l-3.1 3.1M411.5 92.2l3.1 3.1m0-3.1l-3.1 3.1M406.8 101.2l3.1 3.1m0-3.1l-3.1 3.1M323.7 108.4l3.1 3.1m0-3.1l-3.1 3.1M417.4 81.1l3.1 3.1m0-3.1l-3.1 3.1M286.7 119.3l3.1 3.1m0-3.1l-3.1 3.1M405.1 96.9l3.1 3.1m0-3.1l-3.1 3.1M372.8 110.2l3.1 3.1m0-3.1l-3.1 3.1M317.3 107.6l3.1 3.1m0-3.1l-3.1 3.1M386.4 113.8l3.1 3.1m0-3.1l-3.1 3.1M416.9 101.8l3.1 3.1m0-3.1l-3.1 3.1M337.9 111.2l3.1 3.1m0-3.1l-3.1 3.1M410.2 82.6l3.1 3.1m0-3.1l-3.1 3.1M390.5 109.5l3.1 3.1m0-3.1l-3.1 3.1M286.1 111.8l3.1 3.1m0-3.1l-3.1 3.1M384.5 88.2l3.1 3.1m0-3.1l-3.1 3.1M393.1 109.7l3.1 3.1m0-3.1l-3.1 3.1M308.8 108.3l3.1 3.1m0-3.1l-3.1 3.1M285.5 101.1l3.1 3.1m0-3.1l-3.1 3.1M373.1 110.3l3.1 3.1m0-3.1l-3.1 3.1M413.7 91.4l3.1 3.1m0-3.1l-3.1 3.1M356.5 100.9l3.1 3.1m0-3.1l-3.1 3.1M359.8 109.8l3.1 3.1m0-3.1l-3.1 3.1M419.8 79.0l3.1 3.1m0-3.1l-3.1 3.1M385.1 86.0l3.1 3.1m0-3.1l-3.1 3.1M397.8 105.4l3.1 3.1m0-3.1l-3.1 3.1M371.0 98.4l3.1 3.1m0-3.1l-3.1 3.1M407.3 92.9l3.1 3.1m0-3.1l-3.1 3.1M328.4 105.7l3.1 3.1m0-3.1l-3.1 3.1M312.2 116.2l3.1 3.1m0-3.1l-3.1 3.1M279.0 109.1l3.1 3.1m0-3.1l-3.1 3.1M349.4 87.6l3.1 3.1m0-3.1l-3.1 3.1M297.8 111.4l3.1 3.1m0-3.1l-3.1 3.1M358.9 104.7l3.1 3.1m0-3.1l-3.1 3.1M353.2 113.9l3.1 3.1m0-3.1l-3.1 3.1M386.4 102.5l3.1 3.1m0-3.1l-3.1 3.1M332.3 108.7l3.1 3.1m0-3.1l-3.1 3.1M397.0 92.6l3.1 3.1m0-3.1l-3.1 3.1M350.3 107.3l3.1 3.1m0-3.1l-3.1 3.1M349.2 103.8l3.1 3.1m0-3.1l-3.1 3.1M369.6 109.5l3.1 3.1m0-3.1l-3.1 3.1M290.8 116.7l3.1 3.1m0-3.1l-3.1 3.1M290.8 114.8l3.1 3.1m0-3.1l-3.1 3.1M400.7 85.7l3.1 3.1m0-3.1l-3.1 3.1M417.0 99.5l3.1 3.1m0-3.1l-3.1 3.1M277.7 102.7l3.1 3.1m0-3.1l-3.1 3.1M406.8 85.0l3.1 3.1m0-3.1l-3.1 3.1M309.3 110.1l3.1 3.1m0-3.1l-3.1 3.1M356.3 115.5l3.1 3.1m0-3.1l-3.1 3.1M396.9 108.4l3.1 3.1m0-3.1l-3.1 3.1M408.8 79.0l3.1 3.1m0-3.1l-3.1 3.1M387.1 109.1l3.1 3.1m0-3.1l-3.1 3.1M356.6 110.1l3.1 3.1m0-3.1l-3.1 3.1M379.7 107.2l3.1 3.1m0-3.1l-3.1 3.1M313.8 117.9l3.1 3.1m0-3.1l-3.1 3.1M297.8 116.3l3.1 3.1m0-3.1l-3.1 3.1M422.0 126.1l3.1 3.1m0-3.1l-3.1 3.1M423.5 128.5l3.1 3.1m0-3.1l-3.1 3.1M422.0 134.4l3.1 3.1m0-3.1l-3.1 3.1M423.4 117.4l3.1 3.1m0-3.1l-3.1 3.1M422.6 129.9l3.1 3.1m0-3.1l-3.1 3.1M422.4 131.8l3.1 3.1m0-3.1l-3.1 3.1M422.5 134.4l3.1 3.1m0-3.1l-3.1 3.1M422.6 117.3l3.1 3.1m0-3.1l-3.1 3.1M422.9 124.7l3.1 3.1m0-3.1l-3.1 3.1M422.1 134.8l3.1 3.1m0-3.1l-3.1 3.1M422.2 124.3l3.1 3.1m0-3.1l-3.1 3.1M422.0 132.1l3.1 3.1m0-3.1l-3.1 3.1M422.7 116.6l3.1 3.1m0-3.1l-3.1 3.1M422.9 135.8l3.1 3.1m0-3.1l-3.1 3.1M423.4 117.3l3.1 3.1m0-3.1l-3.1 3.1M424.1 123.2l3.1 3.1m0-3.1l-3.1 3.1M423.6 121.4l3.1 3.1m0-3.1l-3.1 3.1M423.7 120.9l3.1 3.1m0-3.1l-3.1 3.1M422.2 132.7l3.1 3.1m0-3.1l-3.1 3.1M422.1 122.0l3.1 3.1m0-3.1l-3.1 3.1M421.2 137.1l3.1 3.1m0-3.1l-3.1 3.1M423.3 126.1l3.1 3.1m0-3.1l-3.1 3.1M422.1 122.9l3.1 3.1m0-3.1l-3.1 3.1M421.7 117.7l3.1 3.1m0-3.1l-3.1 3.1M273.0 127.1l3.1 3.1m0-3.1l-3.1 3.1M273.0 123.7l3.1 3.1m0-3.1l-3.1 3.1M273.0 125.2l3.1 3.1m0-3.1l-3.1 3.1M272.9 126.3l3.1 3.1m0-3.1l-3.1 3.1M272.8 99.4l3.1 3.1m0-3.1l-3.1 3.1M273.0 117.6l3.1 3.1m0-3.1l-3.1 3.1M272.8 116.3l3.1 3.1m0-3.1l-3.1 3.1M272.9 106.4l3.1 3.1m0-3.1l-3.1 3.1M272.8 121.8l3.1 3.1m0-3.1l-3.1 3.1M272.9 134.5l3.1 3.1m0-3.1l-3.1 3.1M272.9 111.3l3.1 3.1m0-3.1l-3.1 3.1M272.9 139.8l3.1 3.1m0-3.1l-3.1 3.1M272.8 117.9l3.1 3.1m0-3.1l-3.1 3.1M272.9 120.8l3.1 3.1m0-3.1l-3.1 3.1M272.9 107.1l3.1 3.1m0-3.1l-3.1 3.1M272.9 121.6l3.1 3.1m0-3.1l-3.1 3.1M272.9 110.1l3.1 3.1m0-3.1l-3.1 3.1M272.9 107.6l3.1 3.1m0-3.1l-3.1 3.1M272.8 132.0l3.1 3.1m0-3.1l-3.1 3.1M272.8 139.7l3.1 3.1m0-3.1l-3.1 3.1M272.9 103.9l3.1 3.1m0-3.1l-3.1 3.1M272.9 133.9l3.1 3.1m0-3.1l-3.1 3.1M272.8 139.8l3.1 3.1m0-3.1l-3.1 3.1M272.8 135.7l3.1 3.1m0-3.1l-3.1 3.1M272.9 100.4l3.1 3.1m0-3.1l-3.1 3.1M272.8 116.2l3.1 3.1m0-3.1l-3.1 3.1M272.8 95.0l3.1 3.1m0-3.1l-3.1 3.1M273.0 137.9l3.1 3.1m0-3.1l-3.1 3.1M273.0 134.7l3.1 3.1m0-3.1l-3.1 3.1M273.0 135.3l3.1 3.1m0-3.1l-3.1 3.1M273.0 88.8l3.1 3.1m0-3.1l-3.1 3.1M272.9 127.3l3.1 3.1m0-3.1l-3.1 3.1M272.8 117.2l3.1 3.1m0-3.1l-3.1 3.1M272.8 125.1l3.1 3.1m0-3.1l-3.1 3.1M272.8 124.3l3.1 3.1m0-3.1l-3.1 3.1M273.0 120.7l3.1 3.1m0-3.1l-3.1 3.1M273.0 135.3l3.1 3.1m0-3.1l-3.1 3.1M273.0 139.8l3.1 3.1m0-3.1l-3.1 3.1M272.9 124.1l3.1 3.1m0-3.1l-3.1 3.1M272.9 122.7l3.1 3.1m0-3.1l-3.1 3.1M272.9 113.2l3.1 3.1m0-3.1l-3.1 3.1M273.0 114.9l3.1 3.1m0-3.1l-3.1 3.1M272.8 131.0l3.1 3.1m0-3.1l-3.1 3.1M273.0 89.5l3.1 3.1m0-3.1l-3.1 3.1M272.9 45.3l3.1 3.1m0-3.1l-3.1 3.1M272.9 58.9l3.1 3.1m0-3.1l-3.1 3.1M273.0 33.1l3.1 3.1m0-3.1l-3.1 3.1M273.0 48.0l3.1 3.1m0-3.1l-3.1 3.1M273.0 32.6l3.1 3.1m0-3.1l-3.1 3.1M272.8 41.4l3.1 3.1m0-3.1l-3.1 3.1M272.8 72.8l3.1 3.1m0-3.1l-3.1 3.1M272.8 68.4l3.1 3.1m0-3.1l-3.1 3.1M273.0 52.3l3.1 3.1m0-3.1l-3.1 3.1M272.8 70.4l3.1 3.1m0-3.1l-3.1 3.1M358.4 27.0l3.1 3.1m0-3.1l-3.1 3.1M407.5 66.0l3.1 3.1m0-3.1l-3.1 3.1M414.9 63.6l3.1 3.1m0-3.1l-3.1 3.1M409.1 71.8l3.1 3.1m0-3.1l-3.1 3.1M414.9 72.8l3.1 3.1m0-3.1l-3.1 3.1M402.8 77.6l3.1 3.1m0-3.1l-3.1 3.1M418.0 80.3l3.1 3.1m0-3.1l-3.1 3.1M370.4 79.3l3.1 3.1m0-3.1l-3.1 3.1M382.5 80.3l3.1 3.1m0-3.1l-3.1 3.1M350.6 81.0l3.1 3.1m0-3.1l-3.1 3.1M353.7 83.4l3.1 3.1m0-3.1l-3.1 3.1M385.1 86.5l3.1 3.1m0-3.1l-3.1 3.1M419.6 84.4l3.1 3.1m0-3.1l-3.1 3.1M316.6 76.6l3.1 3.1m0-3.1l-3.1 3.1M324.4 85.8l3.1 3.1m0-3.1l-3.1 3.1M303.5 92.0l3.1 3.1m0-3.1l-3.1 3.1M290.4 93.7l3.1 3.1m0-3.1l-3.1 3.1M282.6 90.3l3.1 3.1m0-3.1l-3.1 3.1M281.6 103.9l3.1 3.1m0-3.1l-3.1 3.1M282.1 105.7l3.1 3.1m0-3.1l-3.1 3.1M299.3 92.7l3.1 3.1m0-3.1l-3.1 3.1M334.9 90.3l3.1 3.1m0-3.1l-3.1 3.1M344.3 95.4l3.1 3.1m0-3.1l-3.1 3.1M394.0 88.5l3.1 3.1m0-3.1l-3.1 3.1M397.6 95.4l3.1 3.1m0-3.1l-3.1 3.1M412.3 90.3l3.1 3.1m0-3.1l-3.1 3.1M374.1 95.4l3.1 3.1m0-3.1l-3.1 3.1" stroke="#ff0000" stroke-width="0.55" fill="none"/></g>
<rect x="273.7" y="4.6" width="169.9" height="136.8" fill="none" stroke="#3a3a3a" stroke-width="1.0"/>
<path d="M273.7 141.4v2.4M286.77 141.4v1.4M299.84 141.4v2.4M312.91 141.4v1.4M325.98 141.4v2.4M339.05 141.4v1.4M352.12 141.4v2.4M365.18 141.4v1.4M378.25 141.4v2.4M391.32 141.4v1.4M404.39 141.4v2.4M417.46 141.4v1.4M430.53 141.4v2.4M443.6 141.4v1.4M273.7 141.4h-2.4M273.7 132.85h-1.4M273.7 124.3h-2.4M273.7 115.75h-1.4M273.7 107.2h-2.4M273.7 98.65h-1.4M273.7 90.1h-2.4M273.7 81.55h-1.4M273.7 73h-2.4M273.7 64.45h-1.4M273.7 55.9h-2.4M273.7 47.35h-1.4M273.7 38.8h-2.4M273.7 30.25h-1.4M273.7 21.7h-2.4M273.7 13.15h-1.4M273.7 4.6h-2.4" stroke="#222" stroke-width="0.9" fill="none"/>
<g font-size="7.1" fill="#222" stroke="#222" stroke-width="0.1"><text transform="translate(273.7 151.2) scale(0.9 1)" text-anchor="middle">0</text><text transform="translate(299.84 151.2) scale(0.9 1)" text-anchor="middle">5</text><text transform="translate(325.98 151.2) scale(0.9 1)" text-anchor="middle">10</text><text transform="translate(352.12 151.2) scale(0.9 1)" text-anchor="middle">15</text><text transform="translate(378.25 151.2) scale(0.9 1)" text-anchor="middle">20</text><text transform="translate(404.39 151.2) scale(0.9 1)" text-anchor="middle">25</text><text transform="translate(430.53 151.2) scale(0.9 1)" text-anchor="middle">30</text></g>
<g font-size="7" fill="#222" stroke="#222" stroke-width="0.1"><text transform="translate(269.3 144.2) scale(0.95 1)" text-anchor="end">0.0</text><text transform="translate(269.3 127.1) scale(0.95 1)" text-anchor="end">5.0&#215;10<tspan font-size="4.2" dy="-2.3">-9</tspan></text><text transform="translate(269.3 110) scale(0.95 1)" text-anchor="end">1.0&#215;10<tspan font-size="4.2" dy="-2.3">-8</tspan></text><text transform="translate(269.3 92.9) scale(0.95 1)" text-anchor="end">1.5&#215;10<tspan font-size="4.2" dy="-2.3">-8</tspan></text><text transform="translate(269.3 75.8) scale(0.95 1)" text-anchor="end">2.0&#215;10<tspan font-size="4.2" dy="-2.3">-8</tspan></text><text transform="translate(269.3 58.7) scale(0.95 1)" text-anchor="end">2.5&#215;10<tspan font-size="4.2" dy="-2.3">-8</tspan></text><text transform="translate(269.3 41.6) scale(0.95 1)" text-anchor="end">3.0&#215;10<tspan font-size="4.2" dy="-2.3">-8</tspan></text><text transform="translate(269.3 24.5) scale(0.95 1)" text-anchor="end">3.5&#215;10<tspan font-size="4.2" dy="-2.3">-8</tspan></text><text transform="translate(269.3 7.4) scale(0.95 1)" text-anchor="end">4.0&#215;10<tspan font-size="4.2" dy="-2.3">-8</tspan></text></g>
<text x="358.65" y="161.9" text-anchor="middle" font-size="7.1" fill="#222" stroke="#222" stroke-width="0.12">Z-distance(mm)</text>
<text transform="translate(243.6 69.6) rotate(-90) scale(0.9 1)" text-anchor="middle" font-size="7.2" fill="#222" stroke="#222" stroke-width="0.08">Kinetic Energy (J)</text>
<text x="355.3" y="181.7" text-anchor="middle" font-size="14.5" fill="#111" stroke="#111" stroke-width="0.12">(b)</text>
<path d="M526.08 4.6V141.5M552.23 4.6V141.5M578.38 4.6V141.5M604.54 4.6V141.5M630.69 4.6V141.5M656.85 4.6V141.5M513 130.09H683M513 107.28H683M513 84.46H683M513 61.64H683M513 38.83H683M513 16.01H683" stroke="#f0f0f0" stroke-width="0.6" fill="none"/>
<path d="M539.15 4.6V141.5M565.31 4.6V141.5M591.46 4.6V141.5M617.62 4.6V141.5M643.77 4.6V141.5M669.92 4.6V141.5M513 118.68H683M513 95.87H683M513 73.05H683M513 50.23H683M513 27.42H683" stroke="#dadada" stroke-width="0.8" fill="none"/>
<clipPath id="cc"><rect x="512.7" y="1.6" width="173" height="140.2"/></clipPath>
<g clip-path="url(#cc)"><path d="M512 82h1v1h-1zM514 82h2v1h-2zM512 84h1v1h-1zM514 84h2v1h-2zM512 85h4v1h-4zM512 86h3v1h-3zM586 86h1v1h-1zM615 86h1v1h-1zM512 87h4v1h-4zM520 87h3v1h-3zM586 87h3v1h-3zM607 87h1v1h-1zM512 88h1v1h-1zM514 88h2v1h-2zM521 88h2v1h-2zM577 88h2v1h-2zM581 88h1v1h-1zM585 88h4v1h-4zM605 88h1v1h-1zM613 88h1v1h-1zM615 88h1v1h-1zM624 88h4v1h-4zM521 89h2v1h-2zM576 89h1v1h-1zM578 89h2v1h-2zM581 89h1v1h-1zM585 89h3v1h-3zM596 89h1v1h-1zM598 89h1v1h-1zM606 89h1v1h-1zM615 89h1v1h-1zM624 89h1v1h-1zM627 89h1v1h-1zM512 90h1v1h-1zM514 90h2v1h-2zM520 90h2v1h-2zM576 90h5v1h-5zM582 90h3v1h-3zM586 90h2v1h-2zM593 90h1v1h-1zM606 90h3v1h-3zM613 90h3v1h-3zM624 90h1v1h-1zM627 90h1v1h-1zM630 90h1v1h-1zM512 91h3v1h-3zM520 91h1v1h-1zM572 91h1v1h-1zM574 91h4v1h-4zM579 91h8v1h-8zM592 91h1v1h-1zM596 91h1v1h-1zM599 91h4v1h-4zM604 91h5v1h-5zM615 91h2v1h-2zM621 91h5v1h-5zM512 92h3v1h-3zM573 92h1v1h-1zM575 92h1v1h-1zM578 92h1v1h-1zM580 92h3v1h-3zM586 92h2v1h-2zM590 92h2v1h-2zM593 92h3v1h-3zM600 92h5v1h-5zM606 92h2v1h-2zM616 92h1v1h-1zM618 92h1v1h-1zM622 92h4v1h-4zM627 92h1v1h-1zM630 92h1v1h-1zM512 93h4v1h-4zM521 93h2v1h-2zM572 93h3v1h-3zM577 93h1v1h-1zM580 93h5v1h-5zM587 93h1v1h-1zM590 93h8v1h-8zM601 93h18v1h-18zM620 93h6v1h-6zM627 93h1v1h-1zM630 93h1v1h-1zM640 93h1v1h-1zM643 93h1v1h-1zM646 93h1v1h-1zM512 94h4v1h-4zM519 94h1v1h-1zM522 94h1v1h-1zM572 94h2v1h-2zM575 94h1v1h-1zM583 94h3v1h-3zM591 94h7v1h-7zM600 94h34v1h-34zM635 94h4v1h-4zM641 94h3v1h-3zM645 94h2v1h-2zM512 95h4v1h-4zM561 95h1v1h-1zM566 95h1v1h-1zM572 95h2v1h-2zM577 95h1v1h-1zM584 95h5v1h-5zM590 95h10v1h-10zM601 95h42v1h-42zM644 95h1v1h-1zM646 95h5v1h-5zM512 96h4v1h-4zM582 96h1v1h-1zM584 96h69v1h-69zM662 96h1v1h-1zM512 97h3v1h-3zM554 97h1v1h-1zM560 97h1v1h-1zM568 97h1v1h-1zM570 97h1v1h-1zM575 97h1v1h-1zM578 97h69v1h-69zM648 97h5v1h-5zM662 97h1v1h-1zM512 98h3v1h-3zM552 98h1v1h-1zM555 98h1v1h-1zM563 98h2v1h-2zM566 98h7v1h-7zM576 98h80v1h-80zM660 98h1v1h-1zM512 99h4v1h-4zM519 99h1v1h-1zM549 99h2v1h-2zM552 99h1v1h-1zM554 99h1v1h-1zM565 99h92v1h-92zM512 100h4v1h-4zM519 100h4v1h-4zM553 100h1v1h-1zM563 100h4v1h-4zM568 100h9v1h-9zM578 100h79v1h-79zM658 100h1v1h-1zM512 101h4v1h-4zM520 101h4v1h-4zM542 101h1v1h-1zM547 101h1v1h-1zM549 101h4v1h-4zM555 101h1v1h-1zM563 101h101v1h-101zM512 102h4v1h-4zM519 102h4v1h-4zM534 102h2v1h-2zM537 102h1v1h-1zM542 102h1v1h-1zM544 102h1v1h-1zM547 102h1v1h-1zM549 102h6v1h-6zM562 102h2v1h-2zM568 102h97v1h-97zM512 103h3v1h-3zM519 103h6v1h-6zM535 103h1v1h-1zM539 103h1v1h-1zM542 103h1v1h-1zM548 103h6v1h-6zM556 103h1v1h-1zM558 103h1v1h-1zM561 103h1v1h-1zM563 103h3v1h-3zM567 103h97v1h-97zM512 104h1v1h-1zM514 104h1v1h-1zM518 104h5v1h-5zM524 104h1v1h-1zM535 104h3v1h-3zM542 104h1v1h-1zM547 104h7v1h-7zM561 104h12v1h-12zM574 104h92v1h-92zM512 105h1v1h-1zM514 105h1v1h-1zM519 105h5v1h-5zM534 105h4v1h-4zM541 105h2v1h-2zM544 105h1v1h-1zM547 105h7v1h-7zM560 105h103v1h-103zM514 106h1v1h-1zM520 106h1v1h-1zM535 106h4v1h-4zM542 106h1v1h-1zM547 106h7v1h-7zM558 106h2v1h-2zM561 106h103v1h-103zM512 107h1v1h-1zM515 107h1v1h-1zM518 107h5v1h-5zM537 107h2v1h-2zM542 107h6v1h-6zM549 107h5v1h-5zM558 107h20v1h-20zM579 107h87v1h-87zM512 108h4v1h-4zM520 108h3v1h-3zM526 108h1v1h-1zM531 108h1v1h-1zM534 108h1v1h-1zM536 108h4v1h-4zM541 108h8v1h-8zM550 108h7v1h-7zM558 108h7v1h-7zM566 108h99v1h-99zM513 109h2v1h-2zM519 109h4v1h-4zM524 109h1v1h-1zM528 109h1v1h-1zM533 109h1v1h-1zM535 109h4v1h-4zM540 109h25v1h-25zM567 109h100v1h-100zM512 110h4v1h-4zM519 110h6v1h-6zM528 110h1v1h-1zM530 110h2v1h-2zM534 110h134v1h-134zM512 111h1v1h-1zM519 111h5v1h-5zM525 111h2v1h-2zM528 111h2v1h-2zM533 111h14v1h-14zM548 111h120v1h-120zM514 112h1v1h-1zM520 112h5v1h-5zM530 112h138v1h-138zM512 113h1v1h-1zM514 113h2v1h-2zM518 113h8v1h-8zM527 113h3v1h-3zM531 113h2v1h-2zM534 113h94v1h-94zM629 113h1v1h-1zM631 113h1v1h-1zM634 113h1v1h-1zM636 113h32v1h-32zM512 114h4v1h-4zM518 114h5v1h-5zM525 114h20v1h-20zM546 114h1v1h-1zM548 114h1v1h-1zM551 114h73v1h-73zM625 114h2v1h-2zM637 114h4v1h-4zM643 114h25v1h-25zM512 115h4v1h-4zM517 115h28v1h-28zM547 115h1v1h-1zM551 115h67v1h-67zM619 115h2v1h-2zM622 115h1v1h-1zM637 115h1v1h-1zM640 115h1v1h-1zM644 115h24v1h-24zM512 116h27v1h-27zM540 116h6v1h-6zM547 116h3v1h-3zM551 116h56v1h-56zM608 116h8v1h-8zM617 116h5v1h-5zM646 116h22v1h-22zM512 117h96v1h-96zM609 117h2v1h-2zM612 117h2v1h-2zM648 117h3v1h-3zM653 117h16v1h-16zM512 118h4v1h-4zM517 118h91v1h-91zM613 118h1v1h-1zM649 118h1v1h-1zM651 118h1v1h-1zM653 118h15v1h-15zM512 119h4v1h-4zM518 119h85v1h-85zM604 119h3v1h-3zM613 119h1v1h-1zM652 119h2v1h-2zM655 119h13v1h-13zM512 120h4v1h-4zM518 120h85v1h-85zM604 120h1v1h-1zM656 120h13v1h-13zM512 121h1v1h-1zM514 121h3v1h-3zM518 121h7v1h-7zM526 121h75v1h-75zM602 121h1v1h-1zM656 121h13v1h-13zM512 122h88v1h-88zM602 122h1v1h-1zM656 122h13v1h-13zM512 123h84v1h-84zM597 123h2v1h-2zM658 123h10v1h-10zM512 124h1v1h-1zM514 124h81v1h-81zM658 124h10v1h-10zM513 125h82v1h-82zM660 125h7v1h-7zM512 126h1v1h-1zM514 126h2v1h-2zM517 126h77v1h-77zM662 126h6v1h-6zM512 127h4v1h-4zM518 127h76v1h-76zM661 127h5v1h-5zM512 128h81v1h-81zM594 128h1v1h-1zM663 128h4v1h-4zM512 129h75v1h-75zM588 129h4v1h-4zM663 129h1v1h-1zM665 129h1v1h-1zM512 130h67v1h-67zM580 130h14v1h-14zM512 131h76v1h-76zM512 132h71v1h-71zM584 132h5v1h-5zM512 133h70v1h-70zM586 133h2v1h-2zM512 134h70v1h-70zM583 134h1v1h-1zM586 134h3v1h-3zM512 135h1v1h-1zM514 135h66v1h-66zM581 135h2v1h-2zM588 135h1v1h-1zM512 136h69v1h-69zM513 137h67v1h-67zM582 137h1v1h-1zM584 137h1v1h-1zM512 138h68v1h-68zM582 138h1v1h-1zM512 139h69v1h-69zM582 139h1v1h-1zM584 139h1v1h-1zM513 140h67v1h-67zM512 141h54v1h-54zM567 141h1v1h-1zM570 141h8v1h-8zM579 141h1v1h-1zM514 142h2v1h-2zM517 142h11v1h-11zM530 142h2v1h-2zM533 142h4v1h-4zM538 142h1v1h-1zM540 142h4v1h-4zM545 142h2v1h-2zM554 142h1v1h-1zM557 142h1v1h-1zM559 142h5v1h-5zM571 142h1v1h-1zM573 142h1v1h-1z" fill="#ff0000"/><path d="M557.8 85.0l3.1 3.1m0-3.1l-3.1 3.1M623.8 91.2l3.1 3.1m0-3.1l-3.1 3.1M595.6 93.0l3.1 3.1m0-3.1l-3.1 3.1M616.4 91.7l3.1 3.1m0-3.1l-3.1 3.1M552.7 92.6l3.1 3.1m0-3.1l-3.1 3.1M537.2 113.7l3.1 3.1m0-3.1l-3.1 3.1M582.1 137.3l3.1 3.1m0-3.1l-3.1 3.1M547.0 116.6l3.1 3.1m0-3.1l-3.1 3.1M544.3 108.1l3.1 3.1m0-3.1l-3.1 3.1M577.5 138.5l3.1 3.1m0-3.1l-3.1 3.1M625.8 111.7l3.1 3.1m0-3.1l-3.1 3.1M580.9 91.5l3.1 3.1m0-3.1l-3.1 3.1M599.9 119.2l3.1 3.1m0-3.1l-3.1 3.1M544.5 115.9l3.1 3.1m0-3.1l-3.1 3.1M607.0 87.9l3.1 3.1m0-3.1l-3.1 3.1M562.8 102.2l3.1 3.1m0-3.1l-3.1 3.1M570.7 139.3l3.1 3.1m0-3.1l-3.1 3.1M546.8 105.9l3.1 3.1m0-3.1l-3.1 3.1M585.8 94.8l3.1 3.1m0-3.1l-3.1 3.1M549.0 113.2l3.1 3.1m0-3.1l-3.1 3.1M611.3 116.5l3.1 3.1m0-3.1l-3.1 3.1M594.4 91.5l3.1 3.1m0-3.1l-3.1 3.1M525.1 139.3l3.1 3.1m0-3.1l-3.1 3.1M543.3 115.1l3.1 3.1m0-3.1l-3.1 3.1M614.2 115.0l3.1 3.1m0-3.1l-3.1 3.1M604.4 117.9l3.1 3.1m0-3.1l-3.1 3.1M637.0 93.3l3.1 3.1m0-3.1l-3.1 3.1M578.4 83.7l3.1 3.1m0-3.1l-3.1 3.1M588.5 135.4l3.1 3.1m0-3.1l-3.1 3.1M584.4 94.9l3.1 3.1m0-3.1l-3.1 3.1M562.9 139.1l3.1 3.1m0-3.1l-3.1 3.1M547.2 139.4l3.1 3.1m0-3.1l-3.1 3.1M544.6 139.7l3.1 3.1m0-3.1l-3.1 3.1M517.7 119.8l3.1 3.1m0-3.1l-3.1 3.1M590.6 94.4l3.1 3.1m0-3.1l-3.1 3.1M604.3 120.9l3.1 3.1m0-3.1l-3.1 3.1M665.5 116.9l3.1 3.1m0-3.1l-3.1 3.1M526.6 113.6l3.1 3.1m0-3.1l-3.1 3.1M646.8 93.1l3.1 3.1m0-3.1l-3.1 3.1M602.6 88.5l3.1 3.1m0-3.1l-3.1 3.1M579.6 139.4l3.1 3.1m0-3.1l-3.1 3.1M533.3 95.4l3.1 3.1m0-3.1l-3.1 3.1M624.8 88.2l3.1 3.1m0-3.1l-3.1 3.1M657.8 122.7l3.1 3.1m0-3.1l-3.1 3.1M575.7 104.7l3.1 3.1m0-3.1l-3.1 3.1M558.1 95.9l3.1 3.1m0-3.1l-3.1 3.1M554.5 139.6l3.1 3.1m0-3.1l-3.1 3.1M595.5 125.1l3.1 3.1m0-3.1l-3.1 3.1M635.7 111.8l3.1 3.1m0-3.1l-3.1 3.1M584.1 131.7l3.1 3.1m0-3.1l-3.1 3.1M623.9 112.7l3.1 3.1m0-3.1l-3.1 3.1M530.7 106.2l3.1 3.1m0-3.1l-3.1 3.1M571.0 93.4l3.1 3.1m0-3.1l-3.1 3.1M636.2 94.8l3.1 3.1m0-3.1l-3.1 3.1M528.1 139.1l3.1 3.1m0-3.1l-3.1 3.1M613.1 114.5l3.1 3.1m0-3.1l-3.1 3.1M619.2 115.5l3.1 3.1m0-3.1l-3.1 3.1M541.1 107.4l3.1 3.1m0-3.1l-3.1 3.1M555.6 88.5l3.1 3.1m0-3.1l-3.1 3.1M540.6 104.3l3.1 3.1m0-3.1l-3.1 3.1M665.7 119.9l3.1 3.1m0-3.1l-3.1 3.1M593.0 129.0l3.1 3.1m0-3.1l-3.1 3.1M604.7 113.9l3.1 3.1m0-3.1l-3.1 3.1M599.2 93.2l3.1 3.1m0-3.1l-3.1 3.1M633.2 110.0l3.1 3.1m0-3.1l-3.1 3.1M628.3 110.8l3.1 3.1m0-3.1l-3.1 3.1M581.8 95.1l3.1 3.1m0-3.1l-3.1 3.1M651.8 118.6l3.1 3.1m0-3.1l-3.1 3.1M581.9 129.9l3.1 3.1m0-3.1l-3.1 3.1M547.9 108.0l3.1 3.1m0-3.1l-3.1 3.1M595.2 130.5l3.1 3.1m0-3.1l-3.1 3.1M612.4 116.8l3.1 3.1m0-3.1l-3.1 3.1M617.7 113.9l3.1 3.1m0-3.1l-3.1 3.1M663.8 126.0l3.1 3.1m0-3.1l-3.1 3.1M586.9 83.8l3.1 3.1m0-3.1l-3.1 3.1M579.0 134.7l3.1 3.1m0-3.1l-3.1 3.1M627.5 87.1l3.1 3.1m0-3.1l-3.1 3.1M548.9 112.9l3.1 3.1m0-3.1l-3.1 3.1M589.3 84.8l3.1 3.1m0-3.1l-3.1 3.1M590.4 90.7l3.1 3.1m0-3.1l-3.1 3.1M655.8 119.0l3.1 3.1m0-3.1l-3.1 3.1M564.1 95.0l3.1 3.1m0-3.1l-3.1 3.1M561.1 95.4l3.1 3.1m0-3.1l-3.1 3.1M629.5 115.7l3.1 3.1m0-3.1l-3.1 3.1M630.0 93.3l3.1 3.1m0-3.1l-3.1 3.1M564.4 98.9l3.1 3.1m0-3.1l-3.1 3.1M624.1 116.3l3.1 3.1m0-3.1l-3.1 3.1M618.8 114.2l3.1 3.1m0-3.1l-3.1 3.1M586.0 95.8l3.1 3.1m0-3.1l-3.1 3.1M643.3 94.1l3.1 3.1m0-3.1l-3.1 3.1M656.1 121.6l3.1 3.1m0-3.1l-3.1 3.1M623.2 117.6l3.1 3.1m0-3.1l-3.1 3.1M577.1 134.4l3.1 3.1m0-3.1l-3.1 3.1M641.5 117.7l3.1 3.1m0-3.1l-3.1 3.1M664.1 122.1l3.1 3.1m0-3.1l-3.1 3.1M642.5 111.5l3.1 3.1m0-3.1l-3.1 3.1M593.4 121.5l3.1 3.1m0-3.1l-3.1 3.1M636.8 114.2l3.1 3.1m0-3.1l-3.1 3.1M604.2 116.5l3.1 3.1m0-3.1l-3.1 3.1M608.5 122.5l3.1 3.1m0-3.1l-3.1 3.1M646.7 95.1l3.1 3.1m0-3.1l-3.1 3.1M536.3 139.7l3.1 3.1m0-3.1l-3.1 3.1M579.0 89.3l3.1 3.1m0-3.1l-3.1 3.1M544.4 112.4l3.1 3.1m0-3.1l-3.1 3.1M619.1 116.6l3.1 3.1m0-3.1l-3.1 3.1M617.0 93.1l3.1 3.1m0-3.1l-3.1 3.1M565.1 92.8l3.1 3.1m0-3.1l-3.1 3.1M608.6 115.7l3.1 3.1m0-3.1l-3.1 3.1M663.4 103.7l3.1 3.1m0-3.1l-3.1 3.1M636.3 113.5l3.1 3.1m0-3.1l-3.1 3.1M593.2 122.2l3.1 3.1m0-3.1l-3.1 3.1M633.8 94.6l3.1 3.1m0-3.1l-3.1 3.1M578.7 129.4l3.1 3.1m0-3.1l-3.1 3.1M662.2 105.4l3.1 3.1m0-3.1l-3.1 3.1M532.4 98.2l3.1 3.1m0-3.1l-3.1 3.1M665.1 122.0l3.1 3.1m0-3.1l-3.1 3.1M581.1 134.4l3.1 3.1m0-3.1l-3.1 3.1M522.3 139.9l3.1 3.1m0-3.1l-3.1 3.1M584.6 129.8l3.1 3.1m0-3.1l-3.1 3.1M534.0 139.4l3.1 3.1m0-3.1l-3.1 3.1M527.5 113.9l3.1 3.1m0-3.1l-3.1 3.1M554.2 139.9l3.1 3.1m0-3.1l-3.1 3.1M585.0 137.9l3.1 3.1m0-3.1l-3.1 3.1M643.2 94.3l3.1 3.1m0-3.1l-3.1 3.1M653.3 116.8l3.1 3.1m0-3.1l-3.1 3.1M622.4 112.0l3.1 3.1m0-3.1l-3.1 3.1M568.5 138.4l3.1 3.1m0-3.1l-3.1 3.1M642.3 112.7l3.1 3.1m0-3.1l-3.1 3.1M570.8 139.3l3.1 3.1m0-3.1l-3.1 3.1M551.1 105.2l3.1 3.1m0-3.1l-3.1 3.1M517.8 112.8l3.1 3.1m0-3.1l-3.1 3.1M645.6 114.4l3.1 3.1m0-3.1l-3.1 3.1M599.4 91.8l3.1 3.1m0-3.1l-3.1 3.1M526.9 139.3l3.1 3.1m0-3.1l-3.1 3.1M569.2 86.5l3.1 3.1m0-3.1l-3.1 3.1M597.5 119.6l3.1 3.1m0-3.1l-3.1 3.1M626.0 111.9l3.1 3.1m0-3.1l-3.1 3.1M629.7 89.6l3.1 3.1m0-3.1l-3.1 3.1M595.3 93.1l3.1 3.1m0-3.1l-3.1 3.1M542.2 139.2l3.1 3.1m0-3.1l-3.1 3.1M646.2 114.6l3.1 3.1m0-3.1l-3.1 3.1M591.8 125.0l3.1 3.1m0-3.1l-3.1 3.1M665.5 110.0l3.1 3.1m0-3.1l-3.1 3.1M545.2 112.9l3.1 3.1m0-3.1l-3.1 3.1M595.4 121.1l3.1 3.1m0-3.1l-3.1 3.1M598.0 119.8l3.1 3.1m0-3.1l-3.1 3.1M622.8 90.5l3.1 3.1m0-3.1l-3.1 3.1M586.4 133.8l3.1 3.1m0-3.1l-3.1 3.1M579.6 132.1l3.1 3.1m0-3.1l-3.1 3.1M584.3 130.9l3.1 3.1m0-3.1l-3.1 3.1M606.8 90.1l3.1 3.1m0-3.1l-3.1 3.1M569.8 138.9l3.1 3.1m0-3.1l-3.1 3.1M663.5 106.7l3.1 3.1m0-3.1l-3.1 3.1M637.8 114.3l3.1 3.1m0-3.1l-3.1 3.1M579.1 129.5l3.1 3.1m0-3.1l-3.1 3.1M575.3 97.5l3.1 3.1m0-3.1l-3.1 3.1M564.8 98.7l3.1 3.1m0-3.1l-3.1 3.1M637.8 93.1l3.1 3.1m0-3.1l-3.1 3.1M572.1 91.0l3.1 3.1m0-3.1l-3.1 3.1M562.3 139.9l3.1 3.1m0-3.1l-3.1 3.1M595.8 93.3l3.1 3.1m0-3.1l-3.1 3.1M630.0 91.9l3.1 3.1m0-3.1l-3.1 3.1M582.2 137.4l3.1 3.1m0-3.1l-3.1 3.1M656.7 120.3l3.1 3.1m0-3.1l-3.1 3.1M586.4 86.9l3.1 3.1m0-3.1l-3.1 3.1M607.0 115.2l3.1 3.1m0-3.1l-3.1 3.1M621.9 92.1l3.1 3.1m0-3.1l-3.1 3.1M665.0 121.3l3.1 3.1m0-3.1l-3.1 3.1M665.3 125.9l3.1 3.1m0-3.1l-3.1 3.1M577.5 93.0l3.1 3.1m0-3.1l-3.1 3.1M533.5 108.8l3.1 3.1m0-3.1l-3.1 3.1M648.8 115.5l3.1 3.1m0-3.1l-3.1 3.1M535.3 106.5l3.1 3.1m0-3.1l-3.1 3.1M592.8 123.9l3.1 3.1m0-3.1l-3.1 3.1M566.0 98.4l3.1 3.1m0-3.1l-3.1 3.1M592.7 88.4l3.1 3.1m0-3.1l-3.1 3.1M590.4 127.2l3.1 3.1m0-3.1l-3.1 3.1M598.4 92.9l3.1 3.1m0-3.1l-3.1 3.1M550.8 115.5l3.1 3.1m0-3.1l-3.1 3.1M524.6 104.3l3.1 3.1m0-3.1l-3.1 3.1M588.4 93.4l3.1 3.1m0-3.1l-3.1 3.1M647.2 96.7l3.1 3.1m0-3.1l-3.1 3.1M653.0 98.1l3.1 3.1m0-3.1l-3.1 3.1M556.5 108.0l3.1 3.1m0-3.1l-3.1 3.1M540.1 102.4l3.1 3.1m0-3.1l-3.1 3.1M664.6 109.0l3.1 3.1m0-3.1l-3.1 3.1M620.6 114.0l3.1 3.1m0-3.1l-3.1 3.1M550.4 95.4l3.1 3.1m0-3.1l-3.1 3.1M552.0 139.4l3.1 3.1m0-3.1l-3.1 3.1M596.2 131.1l3.1 3.1m0-3.1l-3.1 3.1M588.1 94.9l3.1 3.1m0-3.1l-3.1 3.1M553.2 106.3l3.1 3.1m0-3.1l-3.1 3.1M625.7 110.6l3.1 3.1m0-3.1l-3.1 3.1M618.1 92.0l3.1 3.1m0-3.1l-3.1 3.1M601.8 85.8l3.1 3.1m0-3.1l-3.1 3.1M573.0 96.7l3.1 3.1m0-3.1l-3.1 3.1M650.2 119.4l3.1 3.1m0-3.1l-3.1 3.1M629.4 109.9l3.1 3.1m0-3.1l-3.1 3.1M617.4 112.7l3.1 3.1m0-3.1l-3.1 3.1M648.4 95.3l3.1 3.1m0-3.1l-3.1 3.1M627.5 92.3l3.1 3.1m0-3.1l-3.1 3.1M661.2 101.4l3.1 3.1m0-3.1l-3.1 3.1M529.1 139.1l3.1 3.1m0-3.1l-3.1 3.1M537.2 115.3l3.1 3.1m0-3.1l-3.1 3.1M616.3 116.0l3.1 3.1m0-3.1l-3.1 3.1M557.1 108.2l3.1 3.1m0-3.1l-3.1 3.1M563.8 138.4l3.1 3.1m0-3.1l-3.1 3.1M646.8 95.5l3.1 3.1m0-3.1l-3.1 3.1M665.7 112.4l3.1 3.1m0-3.1l-3.1 3.1M599.1 90.8l3.1 3.1m0-3.1l-3.1 3.1M530.6 107.0l3.1 3.1m0-3.1l-3.1 3.1M624.5 92.0l3.1 3.1m0-3.1l-3.1 3.1M580.3 86.2l3.1 3.1m0-3.1l-3.1 3.1M613.5 113.9l3.1 3.1m0-3.1l-3.1 3.1M603.3 116.6l3.1 3.1m0-3.1l-3.1 3.1M575.2 90.7l3.1 3.1m0-3.1l-3.1 3.1M633.1 87.6l3.1 3.1m0-3.1l-3.1 3.1M593.8 127.0l3.1 3.1m0-3.1l-3.1 3.1M639.8 112.0l3.1 3.1m0-3.1l-3.1 3.1M612.3 88.4l3.1 3.1m0-3.1l-3.1 3.1M589.2 128.2l3.1 3.1m0-3.1l-3.1 3.1M532.8 139.8l3.1 3.1m0-3.1l-3.1 3.1M635.3 92.6l3.1 3.1m0-3.1l-3.1 3.1M575.6 99.8l3.1 3.1m0-3.1l-3.1 3.1M632.7 110.3l3.1 3.1m0-3.1l-3.1 3.1M574.9 94.5l3.1 3.1m0-3.1l-3.1 3.1M654.7 99.4l3.1 3.1m0-3.1l-3.1 3.1M610.9 91.7l3.1 3.1m0-3.1l-3.1 3.1M548.5 102.2l3.1 3.1m0-3.1l-3.1 3.1M589.8 128.2l3.1 3.1m0-3.1l-3.1 3.1M591.0 94.8l3.1 3.1m0-3.1l-3.1 3.1M615.7 91.4l3.1 3.1m0-3.1l-3.1 3.1M555.4 103.2l3.1 3.1m0-3.1l-3.1 3.1M520.0 111.7l3.1 3.1m0-3.1l-3.1 3.1M575.6 139.6l3.1 3.1m0-3.1l-3.1 3.1M574.1 95.8l3.1 3.1m0-3.1l-3.1 3.1M531.1 107.6l3.1 3.1m0-3.1l-3.1 3.1M517.8 108.7l3.1 3.1m0-3.1l-3.1 3.1M558.3 100.4l3.1 3.1m0-3.1l-3.1 3.1M659.4 123.4l3.1 3.1m0-3.1l-3.1 3.1M545.1 114.5l3.1 3.1m0-3.1l-3.1 3.1M573.6 92.6l3.1 3.1m0-3.1l-3.1 3.1M651.3 115.6l3.1 3.1m0-3.1l-3.1 3.1M577.2 105.7l3.1 3.1m0-3.1l-3.1 3.1M535.2 103.7l3.1 3.1m0-3.1l-3.1 3.1M617.6 113.7l3.1 3.1m0-3.1l-3.1 3.1M595.5 92.2l3.1 3.1m0-3.1l-3.1 3.1M524.3 109.3l3.1 3.1m0-3.1l-3.1 3.1M615.6 92.2l3.1 3.1m0-3.1l-3.1 3.1M583.8 96.5l3.1 3.1m0-3.1l-3.1 3.1M627.6 89.6l3.1 3.1m0-3.1l-3.1 3.1M565.5 107.4l3.1 3.1m0-3.1l-3.1 3.1M592.4 88.2l3.1 3.1m0-3.1l-3.1 3.1M656.2 120.3l3.1 3.1m0-3.1l-3.1 3.1M570.3 97.7l3.1 3.1m0-3.1l-3.1 3.1M559.0 104.1l3.1 3.1m0-3.1l-3.1 3.1M625.0 112.6l3.1 3.1m0-3.1l-3.1 3.1M588.6 87.6l3.1 3.1m0-3.1l-3.1 3.1M626.1 87.7l3.1 3.1m0-3.1l-3.1 3.1M536.9 106.3l3.1 3.1m0-3.1l-3.1 3.1M599.6 89.1l3.1 3.1m0-3.1l-3.1 3.1M590.0 125.9l3.1 3.1m0-3.1l-3.1 3.1M604.1 91.7l3.1 3.1m0-3.1l-3.1 3.1M631.0 111.0l3.1 3.1m0-3.1l-3.1 3.1M609.7 116.0l3.1 3.1m0-3.1l-3.1 3.1M621.9 88.3l3.1 3.1m0-3.1l-3.1 3.1M527.9 107.8l3.1 3.1m0-3.1l-3.1 3.1M589.9 125.9l3.1 3.1m0-3.1l-3.1 3.1M661.0 124.3l3.1 3.1m0-3.1l-3.1 3.1M596.5 122.8l3.1 3.1m0-3.1l-3.1 3.1M602.1 119.3l3.1 3.1m0-3.1l-3.1 3.1M601.5 120.2l3.1 3.1m0-3.1l-3.1 3.1M565.5 94.5l3.1 3.1m0-3.1l-3.1 3.1M656.6 100.9l3.1 3.1m0-3.1l-3.1 3.1M625.2 90.3l3.1 3.1m0-3.1l-3.1 3.1M532.7 113.0l3.1 3.1m0-3.1l-3.1 3.1M659.7 126.4l3.1 3.1m0-3.1l-3.1 3.1M576.8 129.6l3.1 3.1m0-3.1l-3.1 3.1M585.3 131.9l3.1 3.1m0-3.1l-3.1 3.1M595.5 89.5l3.1 3.1m0-3.1l-3.1 3.1M600.3 89.2l3.1 3.1m0-3.1l-3.1 3.1M591.3 125.8l3.1 3.1m0-3.1l-3.1 3.1M583.5 129.0l3.1 3.1m0-3.1l-3.1 3.1M609.6 120.2l3.1 3.1m0-3.1l-3.1 3.1M658.8 127.5l3.1 3.1m0-3.1l-3.1 3.1M569.0 139.9l3.1 3.1m0-3.1l-3.1 3.1M643.3 113.5l3.1 3.1m0-3.1l-3.1 3.1M654.5 117.6l3.1 3.1m0-3.1l-3.1 3.1M581.7 137.4l3.1 3.1m0-3.1l-3.1 3.1M658.2 99.7l3.1 3.1m0-3.1l-3.1 3.1M538.0 115.8l3.1 3.1m0-3.1l-3.1 3.1M546.0 98.6l3.1 3.1m0-3.1l-3.1 3.1M628.5 91.5l3.1 3.1m0-3.1l-3.1 3.1M549.0 139.6l3.1 3.1m0-3.1l-3.1 3.1M630.7 112.2l3.1 3.1m0-3.1l-3.1 3.1M650.6 97.3l3.1 3.1m0-3.1l-3.1 3.1M654.9 115.9l3.1 3.1m0-3.1l-3.1 3.1M537.8 139.7l3.1 3.1m0-3.1l-3.1 3.1M559.6 87.8l3.1 3.1m0-3.1l-3.1 3.1M613.7 89.5l3.1 3.1m0-3.1l-3.1 3.1M604.7 113.8l3.1 3.1m0-3.1l-3.1 3.1M633.3 93.5l3.1 3.1m0-3.1l-3.1 3.1M547.2 139.6l3.1 3.1m0-3.1l-3.1 3.1M608.2 115.3l3.1 3.1m0-3.1l-3.1 3.1M593.3 92.5l3.1 3.1m0-3.1l-3.1 3.1M524.9 119.5l3.1 3.1m0-3.1l-3.1 3.1M656.2 127.5l3.1 3.1m0-3.1l-3.1 3.1M651.9 96.3l3.1 3.1m0-3.1l-3.1 3.1M608.8 92.4l3.1 3.1m0-3.1l-3.1 3.1M558.0 96.5l3.1 3.1m0-3.1l-3.1 3.1M579.2 88.0l3.1 3.1m0-3.1l-3.1 3.1M560.5 106.0l3.1 3.1m0-3.1l-3.1 3.1M581.6 93.5l3.1 3.1m0-3.1l-3.1 3.1M577.7 139.5l3.1 3.1m0-3.1l-3.1 3.1M554.6 106.6l3.1 3.1m0-3.1l-3.1 3.1M583.1 133.9l3.1 3.1m0-3.1l-3.1 3.1M586.3 134.7l3.1 3.1m0-3.1l-3.1 3.1M651.3 114.5l3.1 3.1m0-3.1l-3.1 3.1M542.7 114.3l3.1 3.1m0-3.1l-3.1 3.1M562.0 109.2l3.1 3.1m0-3.1l-3.1 3.1M644.0 112.7l3.1 3.1m0-3.1l-3.1 3.1M557.9 139.7l3.1 3.1m0-3.1l-3.1 3.1M572.4 103.6l3.1 3.1m0-3.1l-3.1 3.1M621.7 90.9l3.1 3.1m0-3.1l-3.1 3.1M638.1 94.0l3.1 3.1m0-3.1l-3.1 3.1M575.3 92.7l3.1 3.1m0-3.1l-3.1 3.1M595.6 82.0l3.1 3.1m0-3.1l-3.1 3.1M579.3 127.3l3.1 3.1m0-3.1l-3.1 3.1M634.5 94.8l3.1 3.1m0-3.1l-3.1 3.1M665.7 120.0l3.1 3.1m0-3.1l-3.1 3.1M572.7 139.8l3.1 3.1m0-3.1l-3.1 3.1M532.4 104.0l3.1 3.1m0-3.1l-3.1 3.1M611.3 116.5l3.1 3.1m0-3.1l-3.1 3.1M524.9 139.9l3.1 3.1m0-3.1l-3.1 3.1M585.7 132.1l3.1 3.1m0-3.1l-3.1 3.1M587.0 89.4l3.1 3.1m0-3.1l-3.1 3.1M604.6 88.6l3.1 3.1m0-3.1l-3.1 3.1M649.6 117.9l3.1 3.1m0-3.1l-3.1 3.1M590.4 90.3l3.1 3.1m0-3.1l-3.1 3.1M600.0 116.7l3.1 3.1m0-3.1l-3.1 3.1M550.6 139.4l3.1 3.1m0-3.1l-3.1 3.1M555.8 101.1l3.1 3.1m0-3.1l-3.1 3.1M616.6 88.8l3.1 3.1m0-3.1l-3.1 3.1M598.8 119.8l3.1 3.1m0-3.1l-3.1 3.1M562.2 99.8l3.1 3.1m0-3.1l-3.1 3.1M619.1 113.1l3.1 3.1m0-3.1l-3.1 3.1M575.3 97.4l3.1 3.1m0-3.1l-3.1 3.1M627.2 90.6l3.1 3.1m0-3.1l-3.1 3.1M593.3 119.9l3.1 3.1m0-3.1l-3.1 3.1M652.3 114.8l3.1 3.1m0-3.1l-3.1 3.1M564.4 107.2l3.1 3.1m0-3.1l-3.1 3.1M581.5 132.0l3.1 3.1m0-3.1l-3.1 3.1M570.5 139.1l3.1 3.1m0-3.1l-3.1 3.1M665.3 119.0l3.1 3.1m0-3.1l-3.1 3.1M603.5 85.8l3.1 3.1m0-3.1l-3.1 3.1M665.7 119.1l3.1 3.1m0-3.1l-3.1 3.1M663.1 129.5l3.1 3.1m0-3.1l-3.1 3.1M664.4 109.6l3.1 3.1m0-3.1l-3.1 3.1M585.8 88.4l3.1 3.1m0-3.1l-3.1 3.1M575.7 104.1l3.1 3.1m0-3.1l-3.1 3.1M665.3 126.2l3.1 3.1m0-3.1l-3.1 3.1M640.4 93.3l3.1 3.1m0-3.1l-3.1 3.1M553.7 99.3l3.1 3.1m0-3.1l-3.1 3.1M553.9 100.8l3.1 3.1m0-3.1l-3.1 3.1M654.9 116.6l3.1 3.1m0-3.1l-3.1 3.1M655.1 117.1l3.1 3.1m0-3.1l-3.1 3.1M605.7 121.3l3.1 3.1m0-3.1l-3.1 3.1M652.7 97.0l3.1 3.1m0-3.1l-3.1 3.1M606.5 85.0l3.1 3.1m0-3.1l-3.1 3.1M528.6 139.0l3.1 3.1m0-3.1l-3.1 3.1M648.4 94.2l3.1 3.1m0-3.1l-3.1 3.1M524.6 118.6l3.1 3.1m0-3.1l-3.1 3.1M576.3 97.3l3.1 3.1m0-3.1l-3.1 3.1M539.8 139.9l3.1 3.1m0-3.1l-3.1 3.1M548.0 105.0l3.1 3.1m0-3.1l-3.1 3.1M611.3 92.3l3.1 3.1m0-3.1l-3.1 3.1M590.1 130.3l3.1 3.1m0-3.1l-3.1 3.1M663.3 126.4l3.1 3.1m0-3.1l-3.1 3.1M624.8 112.5l3.1 3.1m0-3.1l-3.1 3.1M660.1 98.2l3.1 3.1m0-3.1l-3.1 3.1M553.4 139.6l3.1 3.1m0-3.1l-3.1 3.1M542.0 102.4l3.1 3.1m0-3.1l-3.1 3.1M663.1 107.3l3.1 3.1m0-3.1l-3.1 3.1M633.9 110.4l3.1 3.1m0-3.1l-3.1 3.1M558.6 139.0l3.1 3.1m0-3.1l-3.1 3.1M641.7 92.5l3.1 3.1m0-3.1l-3.1 3.1M568.3 97.3l3.1 3.1m0-3.1l-3.1 3.1M584.4 82.4l3.1 3.1m0-3.1l-3.1 3.1M578.3 92.0l3.1 3.1m0-3.1l-3.1 3.1M545.7 113.9l3.1 3.1m0-3.1l-3.1 3.1M532.8 112.1l3.1 3.1m0-3.1l-3.1 3.1M566.0 102.5l3.1 3.1m0-3.1l-3.1 3.1M660.9 106.4l3.1 3.1m0-3.1l-3.1 3.1M573.5 139.0l3.1 3.1m0-3.1l-3.1 3.1M590.1 92.4l3.1 3.1m0-3.1l-3.1 3.1M550.9 102.2l3.1 3.1m0-3.1l-3.1 3.1M587.1 92.1l3.1 3.1m0-3.1l-3.1 3.1M547.2 102.4l3.1 3.1m0-3.1l-3.1 3.1M603.5 89.8l3.1 3.1m0-3.1l-3.1 3.1M614.6 89.4l3.1 3.1m0-3.1l-3.1 3.1M571.0 104.1l3.1 3.1m0-3.1l-3.1 3.1M654.6 100.8l3.1 3.1m0-3.1l-3.1 3.1M626.4 111.3l3.1 3.1m0-3.1l-3.1 3.1M578.2 132.5l3.1 3.1m0-3.1l-3.1 3.1M652.6 116.1l3.1 3.1m0-3.1l-3.1 3.1M654.3 120.2l3.1 3.1m0-3.1l-3.1 3.1M519.4 112.2l3.1 3.1m0-3.1l-3.1 3.1M659.9 123.3l3.1 3.1m0-3.1l-3.1 3.1M546.5 139.6l3.1 3.1m0-3.1l-3.1 3.1M641.2 89.5l3.1 3.1m0-3.1l-3.1 3.1M531.9 139.6l3.1 3.1m0-3.1l-3.1 3.1M592.2 122.2l3.1 3.1m0-3.1l-3.1 3.1M534.5 105.0l3.1 3.1m0-3.1l-3.1 3.1M624.5 116.1l3.1 3.1m0-3.1l-3.1 3.1M629.0 112.5l3.1 3.1m0-3.1l-3.1 3.1M583.3 137.1l3.1 3.1m0-3.1l-3.1 3.1M534.4 108.7l3.1 3.1m0-3.1l-3.1 3.1M654.1 99.1l3.1 3.1m0-3.1l-3.1 3.1M571.4 139.6l3.1 3.1m0-3.1l-3.1 3.1M647.4 115.1l3.1 3.1m0-3.1l-3.1 3.1M646.2 115.9l3.1 3.1m0-3.1l-3.1 3.1M531.5 105.9l3.1 3.1m0-3.1l-3.1 3.1M606.0 119.4l3.1 3.1m0-3.1l-3.1 3.1M559.1 101.1l3.1 3.1m0-3.1l-3.1 3.1M619.5 85.1l3.1 3.1m0-3.1l-3.1 3.1M524.5 121.3l3.1 3.1m0-3.1l-3.1 3.1M588.9 95.5l3.1 3.1m0-3.1l-3.1 3.1M542.2 139.7l3.1 3.1m0-3.1l-3.1 3.1M632.5 110.3l3.1 3.1m0-3.1l-3.1 3.1M566.2 139.0l3.1 3.1m0-3.1l-3.1 3.1M576.5 99.6l3.1 3.1m0-3.1l-3.1 3.1M532.2 139.2l3.1 3.1m0-3.1l-3.1 3.1M599.7 119.6l3.1 3.1m0-3.1l-3.1 3.1M548.7 139.4l3.1 3.1m0-3.1l-3.1 3.1M547.8 90.7l3.1 3.1m0-3.1l-3.1 3.1M579.5 96.7l3.1 3.1m0-3.1l-3.1 3.1M650.0 119.0l3.1 3.1m0-3.1l-3.1 3.1M563.6 86.9l3.1 3.1m0-3.1l-3.1 3.1M539.5 101.1l3.1 3.1m0-3.1l-3.1 3.1M528.3 139.9l3.1 3.1m0-3.1l-3.1 3.1M601.8 117.4l3.1 3.1m0-3.1l-3.1 3.1M548.2 114.8l3.1 3.1m0-3.1l-3.1 3.1M582.0 91.8l3.1 3.1m0-3.1l-3.1 3.1M664.4 123.1l3.1 3.1m0-3.1l-3.1 3.1M615.1 85.8l3.1 3.1m0-3.1l-3.1 3.1M616.6 115.3l3.1 3.1m0-3.1l-3.1 3.1M651.0 114.7l3.1 3.1m0-3.1l-3.1 3.1M581.3 136.4l3.1 3.1m0-3.1l-3.1 3.1M593.1 91.7l3.1 3.1m0-3.1l-3.1 3.1M525.4 110.9l3.1 3.1m0-3.1l-3.1 3.1M577.6 95.8l3.1 3.1m0-3.1l-3.1 3.1M604.9 90.6l3.1 3.1m0-3.1l-3.1 3.1M549.3 114.0l3.1 3.1m0-3.1l-3.1 3.1M543.4 89.2l3.1 3.1m0-3.1l-3.1 3.1M600.6 91.1l3.1 3.1m0-3.1l-3.1 3.1M549.3 108.8l3.1 3.1m0-3.1l-3.1 3.1M577.1 106.2l3.1 3.1m0-3.1l-3.1 3.1M639.6 93.4l3.1 3.1m0-3.1l-3.1 3.1M595.9 88.9l3.1 3.1m0-3.1l-3.1 3.1M534.3 99.3l3.1 3.1m0-3.1l-3.1 3.1M571.8 139.8l3.1 3.1m0-3.1l-3.1 3.1M535.9 105.8l3.1 3.1m0-3.1l-3.1 3.1M665.1 110.3l3.1 3.1m0-3.1l-3.1 3.1M619.5 93.1l3.1 3.1m0-3.1l-3.1 3.1M546.6 139.4l3.1 3.1m0-3.1l-3.1 3.1M642.4 120.3l3.1 3.1m0-3.1l-3.1 3.1M662.0 104.7l3.1 3.1m0-3.1l-3.1 3.1M601.3 119.7l3.1 3.1m0-3.1l-3.1 3.1M651.8 94.4l3.1 3.1m0-3.1l-3.1 3.1M646.7 97.0l3.1 3.1m0-3.1l-3.1 3.1M646.8 114.6l3.1 3.1m0-3.1l-3.1 3.1M662.5 107.8l3.1 3.1m0-3.1l-3.1 3.1M584.8 90.8l3.1 3.1m0-3.1l-3.1 3.1M545.5 139.0l3.1 3.1m0-3.1l-3.1 3.1M643.9 113.7l3.1 3.1m0-3.1l-3.1 3.1M620.1 112.9l3.1 3.1m0-3.1l-3.1 3.1M602.7 122.6l3.1 3.1m0-3.1l-3.1 3.1M584.7 89.9l3.1 3.1m0-3.1l-3.1 3.1M584.0 90.7l3.1 3.1m0-3.1l-3.1 3.1M614.5 87.5l3.1 3.1m0-3.1l-3.1 3.1M612.9 114.0l3.1 3.1m0-3.1l-3.1 3.1M630.5 90.9l3.1 3.1m0-3.1l-3.1 3.1M586.1 132.9l3.1 3.1m0-3.1l-3.1 3.1M596.8 93.3l3.1 3.1m0-3.1l-3.1 3.1M596.6 94.6l3.1 3.1m0-3.1l-3.1 3.1M664.9 121.6l3.1 3.1m0-3.1l-3.1 3.1M630.7 93.7l3.1 3.1m0-3.1l-3.1 3.1M606.5 92.3l3.1 3.1m0-3.1l-3.1 3.1M652.8 115.5l3.1 3.1m0-3.1l-3.1 3.1M583.4 94.0l3.1 3.1m0-3.1l-3.1 3.1M584.1 92.3l3.1 3.1m0-3.1l-3.1 3.1M573.2 101.8l3.1 3.1m0-3.1l-3.1 3.1M604.2 118.1l3.1 3.1m0-3.1l-3.1 3.1M605.0 116.6l3.1 3.1m0-3.1l-3.1 3.1M567.3 139.1l3.1 3.1m0-3.1l-3.1 3.1M613.0 115.9l3.1 3.1m0-3.1l-3.1 3.1M604.1 117.9l3.1 3.1m0-3.1l-3.1 3.1M550.0 139.8l3.1 3.1m0-3.1l-3.1 3.1M599.8 92.3l3.1 3.1m0-3.1l-3.1 3.1M591.8 125.4l3.1 3.1m0-3.1l-3.1 3.1M624.3 92.9l3.1 3.1m0-3.1l-3.1 3.1M533.9 102.9l3.1 3.1m0-3.1l-3.1 3.1M663.6 129.6l3.1 3.1m0-3.1l-3.1 3.1M648.4 115.7l3.1 3.1m0-3.1l-3.1 3.1M591.8 130.3l3.1 3.1m0-3.1l-3.1 3.1M549.9 99.3l3.1 3.1m0-3.1l-3.1 3.1M646.5 115.0l3.1 3.1m0-3.1l-3.1 3.1M617.4 114.0l3.1 3.1m0-3.1l-3.1 3.1M611.3 116.5l3.1 3.1m0-3.1l-3.1 3.1M620.8 91.2l3.1 3.1m0-3.1l-3.1 3.1M631.0 94.1l3.1 3.1m0-3.1l-3.1 3.1M597.5 120.5l3.1 3.1m0-3.1l-3.1 3.1M665.3 121.9l3.1 3.1m0-3.1l-3.1 3.1M565.7 88.9l3.1 3.1m0-3.1l-3.1 3.1M620.7 91.8l3.1 3.1m0-3.1l-3.1 3.1M563.2 98.9l3.1 3.1m0-3.1l-3.1 3.1M658.7 123.0l3.1 3.1m0-3.1l-3.1 3.1M527.2 139.8l3.1 3.1m0-3.1l-3.1 3.1M578.6 96.1l3.1 3.1m0-3.1l-3.1 3.1M537.9 106.5l3.1 3.1m0-3.1l-3.1 3.1M655.1 97.6l3.1 3.1m0-3.1l-3.1 3.1M565.8 75.9l3.1 3.1m0-3.1l-3.1 3.1M567.0 97.8l3.1 3.1m0-3.1l-3.1 3.1M518.3 100.5l3.1 3.1m0-3.1l-3.1 3.1M640.8 112.7l3.1 3.1m0-3.1l-3.1 3.1M665.1 120.4l3.1 3.1m0-3.1l-3.1 3.1M571.0 88.6l3.1 3.1m0-3.1l-3.1 3.1M585.6 87.1l3.1 3.1m0-3.1l-3.1 3.1M662.8 127.6l3.1 3.1m0-3.1l-3.1 3.1M580.0 91.1l3.1 3.1m0-3.1l-3.1 3.1M591.9 123.0l3.1 3.1m0-3.1l-3.1 3.1M566.7 95.6l3.1 3.1m0-3.1l-3.1 3.1M524.4 98.7l3.1 3.1m0-3.1l-3.1 3.1M526.3 108.1l3.1 3.1m0-3.1l-3.1 3.1M598.0 126.1l3.1 3.1m0-3.1l-3.1 3.1M552.2 139.6l3.1 3.1m0-3.1l-3.1 3.1M655.3 99.0l3.1 3.1m0-3.1l-3.1 3.1M584.2 129.7l3.1 3.1m0-3.1l-3.1 3.1M584.2 93.2l3.1 3.1m0-3.1l-3.1 3.1M582.1 139.2l3.1 3.1m0-3.1l-3.1 3.1M662.9 103.8l3.1 3.1m0-3.1l-3.1 3.1M612.6 86.2l3.1 3.1m0-3.1l-3.1 3.1M644.0 93.2l3.1 3.1m0-3.1l-3.1 3.1M590.7 84.9l3.1 3.1m0-3.1l-3.1 3.1M654.1 97.5l3.1 3.1m0-3.1l-3.1 3.1M605.7 89.1l3.1 3.1m0-3.1l-3.1 3.1M595.7 121.0l3.1 3.1m0-3.1l-3.1 3.1M573.2 139.9l3.1 3.1m0-3.1l-3.1 3.1M610.8 87.8l3.1 3.1m0-3.1l-3.1 3.1M538.1 115.5l3.1 3.1m0-3.1l-3.1 3.1M588.1 131.7l3.1 3.1m0-3.1l-3.1 3.1M565.1 106.8l3.1 3.1m0-3.1l-3.1 3.1M660.9 104.5l3.1 3.1m0-3.1l-3.1 3.1M608.3 87.2l3.1 3.1m0-3.1l-3.1 3.1M637.4 112.6l3.1 3.1m0-3.1l-3.1 3.1M613.2 88.1l3.1 3.1m0-3.1l-3.1 3.1M593.6 129.5l3.1 3.1m0-3.1l-3.1 3.1M587.9 138.4l3.1 3.1m0-3.1l-3.1 3.1M591.2 88.7l3.1 3.1m0-3.1l-3.1 3.1M621.6 113.0l3.1 3.1m0-3.1l-3.1 3.1M606.6 89.4l3.1 3.1m0-3.1l-3.1 3.1M628.8 111.7l3.1 3.1m0-3.1l-3.1 3.1M641.1 94.8l3.1 3.1m0-3.1l-3.1 3.1M649.7 114.6l3.1 3.1m0-3.1l-3.1 3.1M593.7 127.2l3.1 3.1m0-3.1l-3.1 3.1M546.5 106.9l3.1 3.1m0-3.1l-3.1 3.1M526.9 102.9l3.1 3.1m0-3.1l-3.1 3.1M558.4 139.0l3.1 3.1m0-3.1l-3.1 3.1M627.9 92.2l3.1 3.1m0-3.1l-3.1 3.1M525.7 121.2l3.1 3.1m0-3.1l-3.1 3.1M556.4 100.2l3.1 3.1m0-3.1l-3.1 3.1M582.6 84.8l3.1 3.1m0-3.1l-3.1 3.1M533.5 113.6l3.1 3.1m0-3.1l-3.1 3.1M610.7 80.7l3.1 3.1m0-3.1l-3.1 3.1M654.7 122.2l3.1 3.1m0-3.1l-3.1 3.1M614.3 91.3l3.1 3.1m0-3.1l-3.1 3.1M662.9 127.6l3.1 3.1m0-3.1l-3.1 3.1M592.9 129.8l3.1 3.1m0-3.1l-3.1 3.1M642.4 111.9l3.1 3.1m0-3.1l-3.1 3.1M662.0 123.0l3.1 3.1m0-3.1l-3.1 3.1M545.7 103.6l3.1 3.1m0-3.1l-3.1 3.1M577.1 139.2l3.1 3.1m0-3.1l-3.1 3.1M518.1 108.0l3.1 3.1m0-3.1l-3.1 3.1M625.2 110.6l3.1 3.1m0-3.1l-3.1 3.1M517.9 112.5l3.1 3.1m0-3.1l-3.1 3.1M649.6 94.5l3.1 3.1m0-3.1l-3.1 3.1M580.4 91.1l3.1 3.1m0-3.1l-3.1 3.1M632.2 111.9l3.1 3.1m0-3.1l-3.1 3.1M640.5 94.2l3.1 3.1m0-3.1l-3.1 3.1M621.9 111.4l3.1 3.1m0-3.1l-3.1 3.1M665.6 124.8l3.1 3.1m0-3.1l-3.1 3.1M577.3 139.3l3.1 3.1m0-3.1l-3.1 3.1M600.6 92.4l3.1 3.1m0-3.1l-3.1 3.1M566.5 138.2l3.1 3.1m0-3.1l-3.1 3.1M642.4 94.4l3.1 3.1m0-3.1l-3.1 3.1M619.7 91.7l3.1 3.1m0-3.1l-3.1 3.1M598.4 88.7l3.1 3.1m0-3.1l-3.1 3.1M612.4 92.5l3.1 3.1m0-3.1l-3.1 3.1M645.4 113.6l3.1 3.1m0-3.1l-3.1 3.1M532.7 100.4l3.1 3.1m0-3.1l-3.1 3.1M665.5 114.7l3.1 3.1m0-3.1l-3.1 3.1M584.7 130.3l3.1 3.1m0-3.1l-3.1 3.1M579.3 138.8l3.1 3.1m0-3.1l-3.1 3.1M517.8 104.2l3.1 3.1m0-3.1l-3.1 3.1M616.0 92.7l3.1 3.1m0-3.1l-3.1 3.1M545.1 105.3l3.1 3.1m0-3.1l-3.1 3.1M599.4 120.2l3.1 3.1m0-3.1l-3.1 3.1M604.4 87.4l3.1 3.1m0-3.1l-3.1 3.1M600.7 117.4l3.1 3.1m0-3.1l-3.1 3.1M566.0 139.1l3.1 3.1m0-3.1l-3.1 3.1M585.4 91.3l3.1 3.1m0-3.1l-3.1 3.1M655.3 117.4l3.1 3.1m0-3.1l-3.1 3.1M536.0 139.2l3.1 3.1m0-3.1l-3.1 3.1M569.7 97.6l3.1 3.1m0-3.1l-3.1 3.1M606.1 91.8l3.1 3.1m0-3.1l-3.1 3.1M589.5 89.3l3.1 3.1m0-3.1l-3.1 3.1M560.5 104.8l3.1 3.1m0-3.1l-3.1 3.1M597.3 121.2l3.1 3.1m0-3.1l-3.1 3.1M640.6 92.8l3.1 3.1m0-3.1l-3.1 3.1M645.7 94.7l3.1 3.1m0-3.1l-3.1 3.1M537.0 89.0l3.1 3.1m0-3.1l-3.1 3.1M564.9 139.1l3.1 3.1m0-3.1l-3.1 3.1M547.4 114.1l3.1 3.1m0-3.1l-3.1 3.1M593.0 91.3l3.1 3.1m0-3.1l-3.1 3.1M569.8 97.6l3.1 3.1m0-3.1l-3.1 3.1M638.3 112.0l3.1 3.1m0-3.1l-3.1 3.1M563.7 109.0l3.1 3.1m0-3.1l-3.1 3.1M586.1 130.3l3.1 3.1m0-3.1l-3.1 3.1M563.0 106.9l3.1 3.1m0-3.1l-3.1 3.1M580.6 131.5l3.1 3.1m0-3.1l-3.1 3.1M635.1 88.8l3.1 3.1m0-3.1l-3.1 3.1M608.0 115.6l3.1 3.1m0-3.1l-3.1 3.1M613.3 89.6l3.1 3.1m0-3.1l-3.1 3.1M548.6 91.6l3.1 3.1m0-3.1l-3.1 3.1M563.6 139.6l3.1 3.1m0-3.1l-3.1 3.1M574.6 98.2l3.1 3.1m0-3.1l-3.1 3.1M566.1 101.0l3.1 3.1m0-3.1l-3.1 3.1M563.0 139.9l3.1 3.1m0-3.1l-3.1 3.1M634.5 111.2l3.1 3.1m0-3.1l-3.1 3.1M658.5 100.9l3.1 3.1m0-3.1l-3.1 3.1M664.6 124.1l3.1 3.1m0-3.1l-3.1 3.1M634.5 110.8l3.1 3.1m0-3.1l-3.1 3.1M581.0 133.7l3.1 3.1m0-3.1l-3.1 3.1M576.4 90.8l3.1 3.1m0-3.1l-3.1 3.1M629.3 75.0l3.1 3.1m0-3.1l-3.1 3.1M541.5 100.3l3.1 3.1m0-3.1l-3.1 3.1M573.4 78.7l3.1 3.1m0-3.1l-3.1 3.1M583.4 83.1l3.1 3.1m0-3.1l-3.1 3.1M626.2 88.6l3.1 3.1m0-3.1l-3.1 3.1M624.3 86.1l3.1 3.1m0-3.1l-3.1 3.1M529.8 99.2l3.1 3.1m0-3.1l-3.1 3.1M605.8 88.4l3.1 3.1m0-3.1l-3.1 3.1M576.8 87.7l3.1 3.1m0-3.1l-3.1 3.1M600.5 86.6l3.1 3.1m0-3.1l-3.1 3.1M650.6 95.4l3.1 3.1m0-3.1l-3.1 3.1M651.3 89.8l3.1 3.1m0-3.1l-3.1 3.1M531.3 102.5l3.1 3.1m0-3.1l-3.1 3.1M651.7 91.7l3.1 3.1m0-3.1l-3.1 3.1M628.9 81.5l3.1 3.1m0-3.1l-3.1 3.1M622.0 88.8l3.1 3.1m0-3.1l-3.1 3.1M573.5 91.2l3.1 3.1m0-3.1l-3.1 3.1M596.7 88.7l3.1 3.1m0-3.1l-3.1 3.1M537.1 100.8l3.1 3.1m0-3.1l-3.1 3.1M604.4 83.1l3.1 3.1m0-3.1l-3.1 3.1M646.5 93.8l3.1 3.1m0-3.1l-3.1 3.1M551.7 97.6l3.1 3.1m0-3.1l-3.1 3.1M525.6 106.2l3.1 3.1m0-3.1l-3.1 3.1M602.1 86.4l3.1 3.1m0-3.1l-3.1 3.1M583.2 85.2l3.1 3.1m0-3.1l-3.1 3.1M627.3 83.5l3.1 3.1m0-3.1l-3.1 3.1M606.8 84.5l3.1 3.1m0-3.1l-3.1 3.1M617.4 88.9l3.1 3.1m0-3.1l-3.1 3.1M586.0 86.9l3.1 3.1m0-3.1l-3.1 3.1M636.4 81.2l3.1 3.1m0-3.1l-3.1 3.1M518.7 98.6l3.1 3.1m0-3.1l-3.1 3.1M547.2 99.1l3.1 3.1m0-3.1l-3.1 3.1M534.0 96.1l3.1 3.1m0-3.1l-3.1 3.1M632.3 85.2l3.1 3.1m0-3.1l-3.1 3.1M570.4 91.1l3.1 3.1m0-3.1l-3.1 3.1M539.7 103.6l3.1 3.1m0-3.1l-3.1 3.1M665.1 107.1l3.1 3.1m0-3.1l-3.1 3.1M522.2 95.0l3.1 3.1m0-3.1l-3.1 3.1M524.1 97.8l3.1 3.1m0-3.1l-3.1 3.1M541.9 99.9l3.1 3.1m0-3.1l-3.1 3.1M621.4 87.6l3.1 3.1m0-3.1l-3.1 3.1M624.0 88.7l3.1 3.1m0-3.1l-3.1 3.1M563.4 88.9l3.1 3.1m0-3.1l-3.1 3.1M651.7 90.9l3.1 3.1m0-3.1l-3.1 3.1M554.0 97.9l3.1 3.1m0-3.1l-3.1 3.1M543.1 91.6l3.1 3.1m0-3.1l-3.1 3.1M551.8 89.2l3.1 3.1m0-3.1l-3.1 3.1M608.5 88.0l3.1 3.1m0-3.1l-3.1 3.1M637.1 83.7l3.1 3.1m0-3.1l-3.1 3.1M552.3 92.5l3.1 3.1m0-3.1l-3.1 3.1M551.3 99.3l3.1 3.1m0-3.1l-3.1 3.1M582.1 89.9l3.1 3.1m0-3.1l-3.1 3.1M553.5 83.2l3.1 3.1m0-3.1l-3.1 3.1M554.8 84.9l3.1 3.1m0-3.1l-3.1 3.1M572.8 92.0l3.1 3.1m0-3.1l-3.1 3.1M587.8 85.2l3.1 3.1m0-3.1l-3.1 3.1M537.9 94.2l3.1 3.1m0-3.1l-3.1 3.1M523.8 107.7l3.1 3.1m0-3.1l-3.1 3.1M586.7 74.9l3.1 3.1m0-3.1l-3.1 3.1M548.5 97.4l3.1 3.1m0-3.1l-3.1 3.1M522.5 104.1l3.1 3.1m0-3.1l-3.1 3.1M575.5 88.5l3.1 3.1m0-3.1l-3.1 3.1M583.1 89.3l3.1 3.1m0-3.1l-3.1 3.1M613.1 84.8l3.1 3.1m0-3.1l-3.1 3.1M577.6 88.0l3.1 3.1m0-3.1l-3.1 3.1M591.0 80.1l3.1 3.1m0-3.1l-3.1 3.1M581.4 88.7l3.1 3.1m0-3.1l-3.1 3.1M536.0 103.7l3.1 3.1m0-3.1l-3.1 3.1M534.4 97.2l3.1 3.1m0-3.1l-3.1 3.1M585.1 81.5l3.1 3.1m0-3.1l-3.1 3.1M655.7 93.6l3.1 3.1m0-3.1l-3.1 3.1M534.5 103.6l3.1 3.1m0-3.1l-3.1 3.1M595.7 86.8l3.1 3.1m0-3.1l-3.1 3.1M550.2 97.4l3.1 3.1m0-3.1l-3.1 3.1M537.6 96.2l3.1 3.1m0-3.1l-3.1 3.1M639.2 84.1l3.1 3.1m0-3.1l-3.1 3.1M613.7 81.1l3.1 3.1m0-3.1l-3.1 3.1M535.6 99.7l3.1 3.1m0-3.1l-3.1 3.1M595.2 87.9l3.1 3.1m0-3.1l-3.1 3.1M661.0 99.2l3.1 3.1m0-3.1l-3.1 3.1M524.8 95.2l3.1 3.1m0-3.1l-3.1 3.1M572.5 91.6l3.1 3.1m0-3.1l-3.1 3.1M624.0 86.2l3.1 3.1m0-3.1l-3.1 3.1M553.6 97.2l3.1 3.1m0-3.1l-3.1 3.1M569.8 91.1l3.1 3.1m0-3.1l-3.1 3.1M659.6 96.5l3.1 3.1m0-3.1l-3.1 3.1M611.6 78.5l3.1 3.1m0-3.1l-3.1 3.1M545.8 90.0l3.1 3.1m0-3.1l-3.1 3.1M572.2 80.1l3.1 3.1m0-3.1l-3.1 3.1M645.3 93.0l3.1 3.1m0-3.1l-3.1 3.1M618.0 86.6l3.1 3.1m0-3.1l-3.1 3.1M610.2 88.4l3.1 3.1m0-3.1l-3.1 3.1M569.1 87.1l3.1 3.1m0-3.1l-3.1 3.1M613.1 84.7l3.1 3.1m0-3.1l-3.1 3.1M644.6 93.0l3.1 3.1m0-3.1l-3.1 3.1M576.5 86.5l3.1 3.1m0-3.1l-3.1 3.1M592.6 72.9l3.1 3.1m0-3.1l-3.1 3.1M569.0 90.1l3.1 3.1m0-3.1l-3.1 3.1M571.8 83.1l3.1 3.1m0-3.1l-3.1 3.1M552.5 96.1l3.1 3.1m0-3.1l-3.1 3.1M531.4 94.2l3.1 3.1m0-3.1l-3.1 3.1M538.6 90.9l3.1 3.1m0-3.1l-3.1 3.1M552.2 98.5l3.1 3.1m0-3.1l-3.1 3.1M596.9 85.3l3.1 3.1m0-3.1l-3.1 3.1M662.5 94.6l3.1 3.1m0-3.1l-3.1 3.1M645.8 82.9l3.1 3.1m0-3.1l-3.1 3.1M554.1 84.0l3.1 3.1m0-3.1l-3.1 3.1M583.5 88.1l3.1 3.1m0-3.1l-3.1 3.1M629.5 85.2l3.1 3.1m0-3.1l-3.1 3.1M612.6 83.7l3.1 3.1m0-3.1l-3.1 3.1M594.2 88.6l3.1 3.1m0-3.1l-3.1 3.1M556.3 88.3l3.1 3.1m0-3.1l-3.1 3.1M659.1 98.0l3.1 3.1m0-3.1l-3.1 3.1M573.1 89.7l3.1 3.1m0-3.1l-3.1 3.1M575.7 85.5l3.1 3.1m0-3.1l-3.1 3.1M546.9 99.9l3.1 3.1m0-3.1l-3.1 3.1M636.9 91.1l3.1 3.1m0-3.1l-3.1 3.1M662.2 101.8l3.1 3.1m0-3.1l-3.1 3.1M636.6 86.4l3.1 3.1m0-3.1l-3.1 3.1M623.6 77.4l3.1 3.1m0-3.1l-3.1 3.1M659.6 93.6l3.1 3.1m0-3.1l-3.1 3.1M662.9 98.5l3.1 3.1m0-3.1l-3.1 3.1M544.2 102.0l3.1 3.1m0-3.1l-3.1 3.1M562.0 95.3l3.1 3.1m0-3.1l-3.1 3.1M625.1 78.1l3.1 3.1m0-3.1l-3.1 3.1M645.5 82.9l3.1 3.1m0-3.1l-3.1 3.1M628.0 85.2l3.1 3.1m0-3.1l-3.1 3.1M586.8 85.1l3.1 3.1m0-3.1l-3.1 3.1M534.1 102.0l3.1 3.1m0-3.1l-3.1 3.1M613.1 88.6l3.1 3.1m0-3.1l-3.1 3.1M617.3 87.6l3.1 3.1m0-3.1l-3.1 3.1M612.6 80.2l3.1 3.1m0-3.1l-3.1 3.1M659.5 95.7l3.1 3.1m0-3.1l-3.1 3.1M597.3 83.2l3.1 3.1m0-3.1l-3.1 3.1M581.8 88.7l3.1 3.1m0-3.1l-3.1 3.1M584.6 86.2l3.1 3.1m0-3.1l-3.1 3.1M612.9 77.3l3.1 3.1m0-3.1l-3.1 3.1M579.7 82.0l3.1 3.1m0-3.1l-3.1 3.1M574.8 88.8l3.1 3.1m0-3.1l-3.1 3.1M564.8 91.2l3.1 3.1m0-3.1l-3.1 3.1M518.6 104.9l3.1 3.1m0-3.1l-3.1 3.1M659.8 95.6l3.1 3.1m0-3.1l-3.1 3.1M532.2 102.1l3.1 3.1m0-3.1l-3.1 3.1M649.2 95.1l3.1 3.1m0-3.1l-3.1 3.1M535.2 101.5l3.1 3.1m0-3.1l-3.1 3.1M640.8 90.8l3.1 3.1m0-3.1l-3.1 3.1M600.5 75.6l3.1 3.1m0-3.1l-3.1 3.1M661.9 101.7l3.1 3.1m0-3.1l-3.1 3.1M659.5 96.5l3.1 3.1m0-3.1l-3.1 3.1M661.8 101.3l3.1 3.1m0-3.1l-3.1 3.1M558.8 92.9l3.1 3.1m0-3.1l-3.1 3.1M537.4 94.3l3.1 3.1m0-3.1l-3.1 3.1M585.7 85.8l3.1 3.1m0-3.1l-3.1 3.1M588.4 83.2l3.1 3.1m0-3.1l-3.1 3.1M575.2 87.7l3.1 3.1m0-3.1l-3.1 3.1M661.9 99.4l3.1 3.1m0-3.1l-3.1 3.1M512.0 128.4l3.1 3.1m0-3.1l-3.1 3.1M512.4 139.6l3.1 3.1m0-3.1l-3.1 3.1M512.2 91.4l3.1 3.1m0-3.1l-3.1 3.1M511.9 132.1l3.1 3.1m0-3.1l-3.1 3.1M512.2 92.1l3.1 3.1m0-3.1l-3.1 3.1M512.0 114.5l3.1 3.1m0-3.1l-3.1 3.1M512.3 82.5l3.1 3.1m0-3.1l-3.1 3.1M511.8 102.3l3.1 3.1m0-3.1l-3.1 3.1M512.2 139.4l3.1 3.1m0-3.1l-3.1 3.1M512.2 105.0l3.1 3.1m0-3.1l-3.1 3.1M512.1 105.5l3.1 3.1m0-3.1l-3.1 3.1M511.8 130.7l3.1 3.1m0-3.1l-3.1 3.1M511.9 133.4l3.1 3.1m0-3.1l-3.1 3.1M511.8 103.4l3.1 3.1m0-3.1l-3.1 3.1M512.2 124.6l3.1 3.1m0-3.1l-3.1 3.1M511.9 123.4l3.1 3.1m0-3.1l-3.1 3.1M511.8 126.9l3.1 3.1m0-3.1l-3.1 3.1M512.4 112.1l3.1 3.1m0-3.1l-3.1 3.1M512.4 81.9l3.1 3.1m0-3.1l-3.1 3.1M511.8 83.8l3.1 3.1m0-3.1l-3.1 3.1M512.1 86.1l3.1 3.1m0-3.1l-3.1 3.1M511.8 129.1l3.1 3.1m0-3.1l-3.1 3.1M511.8 109.9l3.1 3.1m0-3.1l-3.1 3.1M511.9 129.3l3.1 3.1m0-3.1l-3.1 3.1M512.4 95.6l3.1 3.1m0-3.1l-3.1 3.1M512.5 100.5l3.1 3.1m0-3.1l-3.1 3.1M512.3 87.9l3.1 3.1m0-3.1l-3.1 3.1M511.8 132.2l3.1 3.1m0-3.1l-3.1 3.1M512.2 98.1l3.1 3.1m0-3.1l-3.1 3.1M512.1 101.7l3.1 3.1m0-3.1l-3.1 3.1M512.3 121.0l3.1 3.1m0-3.1l-3.1 3.1M512.4 100.9l3.1 3.1m0-3.1l-3.1 3.1M512.2 92.6l3.1 3.1m0-3.1l-3.1 3.1M512.5 97.0l3.1 3.1m0-3.1l-3.1 3.1M512.0 127.8l3.1 3.1m0-3.1l-3.1 3.1M512.0 130.4l3.1 3.1m0-3.1l-3.1 3.1M511.8 94.4l3.1 3.1m0-3.1l-3.1 3.1M512.1 135.4l3.1 3.1m0-3.1l-3.1 3.1M511.8 92.3l3.1 3.1m0-3.1l-3.1 3.1M512.1 137.7l3.1 3.1m0-3.1l-3.1 3.1M511.9 122.3l3.1 3.1m0-3.1l-3.1 3.1M512.4 137.4l3.1 3.1m0-3.1l-3.1 3.1M511.9 85.4l3.1 3.1m0-3.1l-3.1 3.1M511.8 94.3l3.1 3.1m0-3.1l-3.1 3.1M512.0 124.6l3.1 3.1m0-3.1l-3.1 3.1M512.2 97.7l3.1 3.1m0-3.1l-3.1 3.1M511.8 90.5l3.1 3.1m0-3.1l-3.1 3.1M512.3 108.0l3.1 3.1m0-3.1l-3.1 3.1M512.1 98.4l3.1 3.1m0-3.1l-3.1 3.1M511.8 133.7l3.1 3.1m0-3.1l-3.1 3.1M511.8 103.9l3.1 3.1m0-3.1l-3.1 3.1M511.8 114.4l3.1 3.1m0-3.1l-3.1 3.1M511.8 90.5l3.1 3.1m0-3.1l-3.1 3.1M511.9 87.3l3.1 3.1m0-3.1l-3.1 3.1M512.5 90.5l3.1 3.1m0-3.1l-3.1 3.1M511.8 93.2l3.1 3.1m0-3.1l-3.1 3.1M511.9 121.4l3.1 3.1m0-3.1l-3.1 3.1M511.9 131.6l3.1 3.1m0-3.1l-3.1 3.1M512.3 87.0l3.1 3.1m0-3.1l-3.1 3.1M511.9 81.6l3.1 3.1m0-3.1l-3.1 3.1M512.1 94.6l3.1 3.1m0-3.1l-3.1 3.1M512.1 134.5l3.1 3.1m0-3.1l-3.1 3.1M512.3 139.6l3.1 3.1m0-3.1l-3.1 3.1M512.1 109.3l3.1 3.1m0-3.1l-3.1 3.1M511.9 95.7l3.1 3.1m0-3.1l-3.1 3.1M511.9 121.4l3.1 3.1m0-3.1l-3.1 3.1M511.9 97.7l3.1 3.1m0-3.1l-3.1 3.1M512.2 120.2l3.1 3.1m0-3.1l-3.1 3.1M512.5 111.4l3.1 3.1m0-3.1l-3.1 3.1M511.8 117.3l3.1 3.1m0-3.1l-3.1 3.1M511.8 100.6l3.1 3.1m0-3.1l-3.1 3.1M512.4 100.9l3.1 3.1m0-3.1l-3.1 3.1M511.8 97.0l3.1 3.1m0-3.1l-3.1 3.1M511.8 93.2l3.1 3.1m0-3.1l-3.1 3.1M511.8 85.9l3.1 3.1m0-3.1l-3.1 3.1M512.4 91.0l3.1 3.1m0-3.1l-3.1 3.1M511.9 128.4l3.1 3.1m0-3.1l-3.1 3.1M511.9 101.8l3.1 3.1m0-3.1l-3.1 3.1M512.2 94.6l3.1 3.1m0-3.1l-3.1 3.1M512.2 95.4l3.1 3.1m0-3.1l-3.1 3.1M512.2 105.1l3.1 3.1m0-3.1l-3.1 3.1M512.4 108.0l3.1 3.1m0-3.1l-3.1 3.1M512.4 106.2l3.1 3.1m0-3.1l-3.1 3.1M511.9 131.3l3.1 3.1m0-3.1l-3.1 3.1M511.9 118.4l3.1 3.1m0-3.1l-3.1 3.1M512.0 85.0l3.1 3.1m0-3.1l-3.1 3.1M512.2 120.9l3.1 3.1m0-3.1l-3.1 3.1M511.9 99.0l3.1 3.1m0-3.1l-3.1 3.1M511.8 114.9l3.1 3.1m0-3.1l-3.1 3.1M511.9 102.5l3.1 3.1m0-3.1l-3.1 3.1M512.2 92.5l3.1 3.1m0-3.1l-3.1 3.1M512.3 100.1l3.1 3.1m0-3.1l-3.1 3.1M512.5 80.0l3.1 3.1m0-3.1l-3.1 3.1M512.1 76.0l3.1 3.1m0-3.1l-3.1 3.1M512.3 75.8l3.1 3.1m0-3.1l-3.1 3.1M512.2 75.9l3.1 3.1m0-3.1l-3.1 3.1M512.0 73.0l3.1 3.1m0-3.1l-3.1 3.1M512.0 77.0l3.1 3.1m0-3.1l-3.1 3.1M512.6 80.2l3.1 3.1m0-3.1l-3.1 3.1M512.1 79.7l3.1 3.1m0-3.1l-3.1 3.1M514.1 123.8l3.1 3.1m0-3.1l-3.1 3.1M515.4 116.2l3.1 3.1m0-3.1l-3.1 3.1M516.9 139.2l3.1 3.1m0-3.1l-3.1 3.1M516.5 139.1l3.1 3.1m0-3.1l-3.1 3.1M513.1 122.4l3.1 3.1m0-3.1l-3.1 3.1M516.2 118.2l3.1 3.1m0-3.1l-3.1 3.1M513.6 109.9l3.1 3.1m0-3.1l-3.1 3.1M513.1 125.4l3.1 3.1m0-3.1l-3.1 3.1M514.1 116.4l3.1 3.1m0-3.1l-3.1 3.1M512.8 113.4l3.1 3.1m0-3.1l-3.1 3.1M514.4 139.8l3.1 3.1m0-3.1l-3.1 3.1M514.5 119.7l3.1 3.1m0-3.1l-3.1 3.1M513.7 127.6l3.1 3.1m0-3.1l-3.1 3.1M517.2 113.1l3.1 3.1m0-3.1l-3.1 3.1M515.1 121.2l3.1 3.1m0-3.1l-3.1 3.1M516.8 127.6l3.1 3.1m0-3.1l-3.1 3.1M516.6 121.0l3.1 3.1m0-3.1l-3.1 3.1M515.6 114.4l3.1 3.1m0-3.1l-3.1 3.1M516.0 116.9l3.1 3.1m0-3.1l-3.1 3.1M513.3 126.2l3.1 3.1m0-3.1l-3.1 3.1M513.8 125.8l3.1 3.1m0-3.1l-3.1 3.1M517.0 125.3l3.1 3.1m0-3.1l-3.1 3.1M514.2 118.4l3.1 3.1m0-3.1l-3.1 3.1M517.5 139.9l3.1 3.1m0-3.1l-3.1 3.1M513.0 119.9l3.1 3.1m0-3.1l-3.1 3.1M517.1 114.4l3.1 3.1m0-3.1l-3.1 3.1M513.2 114.3l3.1 3.1m0-3.1l-3.1 3.1M513.2 117.3l3.1 3.1m0-3.1l-3.1 3.1M513.0 132.8l3.1 3.1m0-3.1l-3.1 3.1M516.5 125.3l3.1 3.1m0-3.1l-3.1 3.1M517.0 122.9l3.1 3.1m0-3.1l-3.1 3.1M514.6 120.3l3.1 3.1m0-3.1l-3.1 3.1M513.8 113.2l3.1 3.1m0-3.1l-3.1 3.1M521.3 100.2l3.1 3.1m0-3.1l-3.1 3.1M520.6 101.3l3.1 3.1m0-3.1l-3.1 3.1M519.7 108.7l3.1 3.1m0-3.1l-3.1 3.1M516.7 94.2l3.1 3.1m0-3.1l-3.1 3.1M519.7 94.6l3.1 3.1m0-3.1l-3.1 3.1M520.7 88.8l3.1 3.1m0-3.1l-3.1 3.1M518.9 107.7l3.1 3.1m0-3.1l-3.1 3.1M518.2 85.8l3.1 3.1m0-3.1l-3.1 3.1M520.3 90.7l3.1 3.1m0-3.1l-3.1 3.1M522.1 100.9l3.1 3.1m0-3.1l-3.1 3.1M518.1 102.2l3.1 3.1m0-3.1l-3.1 3.1M521.2 86.3l3.1 3.1m0-3.1l-3.1 3.1M518.2 90.5l3.1 3.1m0-3.1l-3.1 3.1M520.6 107.9l3.1 3.1m0-3.1l-3.1 3.1M518.0 109.9l3.1 3.1m0-3.1l-3.1 3.1M522.9 113.8l3.1 3.1m0-3.1l-3.1 3.1M519.6 100.0l3.1 3.1m0-3.1l-3.1 3.1M518.2 90.3l3.1 3.1m0-3.1l-3.1 3.1M520.3 86.5l3.1 3.1m0-3.1l-3.1 3.1M518.3 109.3l3.1 3.1m0-3.1l-3.1 3.1M518.9 103.2l3.1 3.1m0-3.1l-3.1 3.1M516.0 104.3l3.1 3.1m0-3.1l-3.1 3.1M520.3 98.4l3.1 3.1m0-3.1l-3.1 3.1M521.6 101.4l3.1 3.1m0-3.1l-3.1 3.1M517.7 96.1l3.1 3.1m0-3.1l-3.1 3.1M518.9 101.8l3.1 3.1m0-3.1l-3.1 3.1M518.2 101.3l3.1 3.1m0-3.1l-3.1 3.1M519.9 95.0l3.1 3.1m0-3.1l-3.1 3.1M521.6 93.6l3.1 3.1m0-3.1l-3.1 3.1M520.3 85.9l3.1 3.1m0-3.1l-3.1 3.1M519.5 96.5l3.1 3.1m0-3.1l-3.1 3.1M519.5 110.2l3.1 3.1m0-3.1l-3.1 3.1M523.1 113.1l3.1 3.1m0-3.1l-3.1 3.1M520.5 87.0l3.1 3.1m0-3.1l-3.1 3.1M519.7 93.5l3.1 3.1m0-3.1l-3.1 3.1M517.7 113.0l3.1 3.1m0-3.1l-3.1 3.1M517.0 102.2l3.1 3.1m0-3.1l-3.1 3.1M517.1 92.3l3.1 3.1m0-3.1l-3.1 3.1M520.7 102.9l3.1 3.1m0-3.1l-3.1 3.1M521.1 107.6l3.1 3.1m0-3.1l-3.1 3.1M521.3 105.2l3.1 3.1m0-3.1l-3.1 3.1M518.6 86.7l3.1 3.1m0-3.1l-3.1 3.1M521.3 103.9l3.1 3.1m0-3.1l-3.1 3.1M517.9 98.3l3.1 3.1m0-3.1l-3.1 3.1M520.0 87.1l3.1 3.1m0-3.1l-3.1 3.1M521.6 107.6l3.1 3.1m0-3.1l-3.1 3.1M521.6 91.9l3.1 3.1m0-3.1l-3.1 3.1M518.9 90.2l3.1 3.1m0-3.1l-3.1 3.1M520.8 87.7l3.1 3.1m0-3.1l-3.1 3.1M519.1 99.9l3.1 3.1m0-3.1l-3.1 3.1M520.7 101.0l3.1 3.1m0-3.1l-3.1 3.1M519.8 91.3l3.1 3.1m0-3.1l-3.1 3.1M546.6 111.4l3.1 3.1m0-3.1l-3.1 3.1M564.9 93.3l3.1 3.1m0-3.1l-3.1 3.1M529.1 110.3l3.1 3.1m0-3.1l-3.1 3.1M536.8 105.4l3.1 3.1m0-3.1l-3.1 3.1M571.9 93.7l3.1 3.1m0-3.1l-3.1 3.1M530.8 111.8l3.1 3.1m0-3.1l-3.1 3.1M551.3 101.8l3.1 3.1m0-3.1l-3.1 3.1M553.8 107.9l3.1 3.1m0-3.1l-3.1 3.1M544.2 106.6l3.1 3.1m0-3.1l-3.1 3.1M580.6 95.3l3.1 3.1m0-3.1l-3.1 3.1M540.0 100.1l3.1 3.1m0-3.1l-3.1 3.1M562.9 98.5l3.1 3.1m0-3.1l-3.1 3.1M552.7 103.7l3.1 3.1m0-3.1l-3.1 3.1M526.8 104.5l3.1 3.1m0-3.1l-3.1 3.1M571.3 101.5l3.1 3.1m0-3.1l-3.1 3.1M571.5 87.2l3.1 3.1m0-3.1l-3.1 3.1M563.6 96.0l3.1 3.1m0-3.1l-3.1 3.1M526.6 112.6l3.1 3.1m0-3.1l-3.1 3.1M559.8 97.8l3.1 3.1m0-3.1l-3.1 3.1M543.8 106.1l3.1 3.1m0-3.1l-3.1 3.1M540.2 108.4l3.1 3.1m0-3.1l-3.1 3.1M557.2 92.6l3.1 3.1m0-3.1l-3.1 3.1M546.5 104.6l3.1 3.1m0-3.1l-3.1 3.1M584.3 87.5l3.1 3.1m0-3.1l-3.1 3.1M531.3 110.2l3.1 3.1m0-3.1l-3.1 3.1M543.2 100.8l3.1 3.1m0-3.1l-3.1 3.1M573.6 95.2l3.1 3.1m0-3.1l-3.1 3.1M552.9 101.5l3.1 3.1m0-3.1l-3.1 3.1M534.9 109.4l3.1 3.1m0-3.1l-3.1 3.1M558.6 106.1l3.1 3.1m0-3.1l-3.1 3.1M571.5 88.0l3.1 3.1m0-3.1l-3.1 3.1M538.6 108.9l3.1 3.1m0-3.1l-3.1 3.1M554.6 96.9l3.1 3.1m0-3.1l-3.1 3.1M566.4 101.5l3.1 3.1m0-3.1l-3.1 3.1M575.6 89.3l3.1 3.1m0-3.1l-3.1 3.1M561.7 91.4l3.1 3.1m0-3.1l-3.1 3.1M533.8 109.0l3.1 3.1m0-3.1l-3.1 3.1M534.6 107.8l3.1 3.1m0-3.1l-3.1 3.1M563.8 102.6l3.1 3.1m0-3.1l-3.1 3.1M542.1 103.6l3.1 3.1m0-3.1l-3.1 3.1M552.3 106.2l3.1 3.1m0-3.1l-3.1 3.1M546.6 98.6l3.1 3.1m0-3.1l-3.1 3.1M559.1 95.1l3.1 3.1m0-3.1l-3.1 3.1M578.7 90.7l3.1 3.1m0-3.1l-3.1 3.1M562.4 103.3l3.1 3.1m0-3.1l-3.1 3.1M535.4 102.1l3.1 3.1m0-3.1l-3.1 3.1M535.8 104.0l3.1 3.1m0-3.1l-3.1 3.1M540.9 99.2l3.1 3.1m0-3.1l-3.1 3.1M563.6 105.8l3.1 3.1m0-3.1l-3.1 3.1M570.1 97.1l3.1 3.1m0-3.1l-3.1 3.1M523.0 102.9l3.1 3.1m0-3.1l-3.1 3.1M556.5 103.1l3.1 3.1m0-3.1l-3.1 3.1M574.2 90.1l3.1 3.1m0-3.1l-3.1 3.1M553.3 107.8l3.1 3.1m0-3.1l-3.1 3.1M582.7 96.1l3.1 3.1m0-3.1l-3.1 3.1M560.1 102.6l3.1 3.1m0-3.1l-3.1 3.1M558.5 103.9l3.1 3.1m0-3.1l-3.1 3.1M527.8 112.6l3.1 3.1m0-3.1l-3.1 3.1M563.8 103.4l3.1 3.1m0-3.1l-3.1 3.1M527.6 101.0l3.1 3.1m0-3.1l-3.1 3.1M522.1 111.3l3.1 3.1m0-3.1l-3.1 3.1M523.3 112.0l3.1 3.1m0-3.1l-3.1 3.1M560.8 104.4l3.1 3.1m0-3.1l-3.1 3.1M561.8 102.2l3.1 3.1m0-3.1l-3.1 3.1M519.6 105.1l3.1 3.1m0-3.1l-3.1 3.1M579.4 94.8l3.1 3.1m0-3.1l-3.1 3.1M541.2 104.9l3.1 3.1m0-3.1l-3.1 3.1M547.2 101.1l3.1 3.1m0-3.1l-3.1 3.1M562.8 100.5l3.1 3.1m0-3.1l-3.1 3.1M527.8 110.0l3.1 3.1m0-3.1l-3.1 3.1M523.1 108.5l3.1 3.1m0-3.1l-3.1 3.1M569.0 95.1l3.1 3.1m0-3.1l-3.1 3.1M551.2 103.0l3.1 3.1m0-3.1l-3.1 3.1M549.6 99.0l3.1 3.1m0-3.1l-3.1 3.1M520.1 111.3l3.1 3.1m0-3.1l-3.1 3.1M566.2 96.7l3.1 3.1m0-3.1l-3.1 3.1M565.4 90.3l3.1 3.1m0-3.1l-3.1 3.1M561.4 100.3l3.1 3.1m0-3.1l-3.1 3.1M560.4 100.3l3.1 3.1m0-3.1l-3.1 3.1M554.6 109.0l3.1 3.1m0-3.1l-3.1 3.1M544.9 106.9l3.1 3.1m0-3.1l-3.1 3.1M567.7 97.0l3.1 3.1m0-3.1l-3.1 3.1M518.9 104.2l3.1 3.1m0-3.1l-3.1 3.1M529.0 109.3l3.1 3.1m0-3.1l-3.1 3.1M536.1 109.3l3.1 3.1m0-3.1l-3.1 3.1M531.8 110.9l3.1 3.1m0-3.1l-3.1 3.1M541.0 105.1l3.1 3.1m0-3.1l-3.1 3.1M557.9 95.1l3.1 3.1m0-3.1l-3.1 3.1M564.0 98.5l3.1 3.1m0-3.1l-3.1 3.1M577.9 97.9l3.1 3.1m0-3.1l-3.1 3.1M539.5 99.1l3.1 3.1m0-3.1l-3.1 3.1M547.8 102.5l3.1 3.1m0-3.1l-3.1 3.1M566.9 99.8l3.1 3.1m0-3.1l-3.1 3.1M526.3 111.2l3.1 3.1m0-3.1l-3.1 3.1M556.8 106.5l3.1 3.1m0-3.1l-3.1 3.1M530.1 109.9l3.1 3.1m0-3.1l-3.1 3.1M531.3 112.9l3.1 3.1m0-3.1l-3.1 3.1M532.5 110.4l3.1 3.1m0-3.1l-3.1 3.1M526.4 108.8l3.1 3.1m0-3.1l-3.1 3.1M566.9 91.0l3.1 3.1m0-3.1l-3.1 3.1M538.1 107.8l3.1 3.1m0-3.1l-3.1 3.1M562.8 105.2l3.1 3.1m0-3.1l-3.1 3.1M548.4 105.4l3.1 3.1m0-3.1l-3.1 3.1M541.0 97.7l3.1 3.1m0-3.1l-3.1 3.1M528.4 108.2l3.1 3.1m0-3.1l-3.1 3.1M571.5 95.2l3.1 3.1m0-3.1l-3.1 3.1M530.2 112.4l3.1 3.1m0-3.1l-3.1 3.1M553.9 102.1l3.1 3.1m0-3.1l-3.1 3.1M557.9 107.7l3.1 3.1m0-3.1l-3.1 3.1M545.4 109.7l3.1 3.1m0-3.1l-3.1 3.1M540.2 104.4l3.1 3.1m0-3.1l-3.1 3.1M557.9 97.1l3.1 3.1m0-3.1l-3.1 3.1M512.0 37.3l3.1 3.1m0-3.1l-3.1 3.1M512.0 60.1l3.1 3.1m0-3.1l-3.1 3.1M512.5 66.9l3.1 3.1m0-3.1l-3.1 3.1M528.2 50.1l3.1 3.1m0-3.1l-3.1 3.1M536.6 63.7l3.1 3.1m0-3.1l-3.1 3.1M549.1 65.1l3.1 3.1m0-3.1l-3.1 3.1M524.5 71.5l3.1 3.1m0-3.1l-3.1 3.1M528.7 71.5l3.1 3.1m0-3.1l-3.1 3.1M521.9 80.6l3.1 3.1m0-3.1l-3.1 3.1M517.7 75.2l3.1 3.1m0-3.1l-3.1 3.1M540.2 80.6l3.1 3.1m0-3.1l-3.1 3.1M532.4 82.9l3.1 3.1m0-3.1l-3.1 3.1M551.2 72.9l3.1 3.1m0-3.1l-3.1 3.1M544.4 76.5l3.1 3.1m0-3.1l-3.1 3.1M520.3 68.8l3.1 3.1m0-3.1l-3.1 3.1M612.4 72.9l3.1 3.1m0-3.1l-3.1 3.1M650.1 78.3l3.1 3.1m0-3.1l-3.1 3.1M621.3 87.5l3.1 3.1m0-3.1l-3.1 3.1M605.6 85.2l3.1 3.1m0-3.1l-3.1 3.1M545.5 87.5l3.1 3.1m0-3.1l-3.1 3.1M555.9 88.8l3.1 3.1m0-3.1l-3.1 3.1M656.9 86.6l3.1 3.1m0-3.1l-3.1 3.1M660.5 88.8l3.1 3.1m0-3.1l-3.1 3.1M626.5 130.8l3.1 3.1m0-3.1l-3.1 3.1M644.8 125.3l3.1 3.1m0-3.1l-3.1 3.1M655.3 131.7l3.1 3.1m0-3.1l-3.1 3.1M661.6 127.2l3.1 3.1m0-3.1l-3.1 3.1M663.1 124.9l3.1 3.1m0-3.1l-3.1 3.1" stroke="#ff0000" stroke-width="0.55" fill="none"/></g>
<rect x="513" y="4.6" width="170" height="136.9" fill="none" stroke="#3a3a3a" stroke-width="1.0"/>
<path d="M513 141.5v2.4M526.08 141.5v1.4M539.15 141.5v2.4M552.23 141.5v1.4M565.31 141.5v2.4M578.38 141.5v1.4M591.46 141.5v2.4M604.54 141.5v1.4M617.62 141.5v2.4M630.69 141.5v1.4M643.77 141.5v2.4M656.85 141.5v1.4M669.92 141.5v2.4M683 141.5v1.4M513 141.5h-2.4M513 130.09h-1.4M513 118.68h-2.4M513 107.28h-1.4M513 95.87h-2.4M513 84.46h-1.4M513 73.05h-2.4M513 61.64h-1.4M513 50.23h-2.4M513 38.83h-1.4M513 27.42h-2.4M513 16.01h-1.4M513 4.6h-2.4" stroke="#222" stroke-width="0.9" fill="none"/>
<g font-size="7.1" fill="#222" stroke="#222" stroke-width="0.1"><text transform="translate(513 151.3) scale(0.9 1)" text-anchor="middle">0</text><text transform="translate(539.15 151.3) scale(0.9 1)" text-anchor="middle">5</text><text transform="translate(565.31 151.3) scale(0.9 1)" text-anchor="middle">10</text><text transform="translate(591.46 151.3) scale(0.9 1)" text-anchor="middle">15</text><text transform="translate(617.62 151.3) scale(0.9 1)" text-anchor="middle">20</text><text transform="translate(643.77 151.3) scale(0.9 1)" text-anchor="middle">25</text><text transform="translate(669.92 151.3) scale(0.9 1)" text-anchor="middle">30</text></g>
<g font-size="7" fill="#222" stroke="#222" stroke-width="0.1"><text transform="translate(508.6 144.3) scale(0.95 1)" text-anchor="end">0.0</text><text transform="translate(508.6 121.48) scale(0.95 1)" text-anchor="end">5.0&#215;10<tspan font-size="4.2" dy="-2.3">-8</tspan></text><text transform="translate(508.6 98.67) scale(0.95 1)" text-anchor="end">1.0&#215;10<tspan font-size="4.2" dy="-2.3">-7</tspan></text><text transform="translate(508.6 75.85) scale(0.95 1)" text-anchor="end">1.5&#215;10<tspan font-size="4.2" dy="-2.3">-7</tspan></text><text transform="translate(508.6 53.03) scale(0.95 1)" text-anchor="end">2.0&#215;10<tspan font-size="4.2" dy="-2.3">-7</tspan></text><text transform="translate(508.6 30.22) scale(0.95 1)" text-anchor="end">2.5&#215;10<tspan font-size="4.2" dy="-2.3">-7</tspan></text><text transform="translate(508.6 7.4) scale(0.95 1)" text-anchor="end">3.0&#215;10<tspan font-size="4.2" dy="-2.3">-7</tspan></text></g>
<text x="598" y="162" text-anchor="middle" font-size="7.1" fill="#222" stroke="#222" stroke-width="0.12">Z-distance(mm)</text>
<text transform="translate(483.6 73) rotate(-90) scale(0.975 1)" text-anchor="middle" font-size="7.2" fill="#222" stroke="#222" stroke-width="0.08">Kinetic Energy (J)</text>
<text x="601.6" y="181.7" text-anchor="middle" font-size="14.5" fill="#111" stroke="#111" stroke-width="0.12">(c)</text>
<path d="M116.33 216.7V354.3M142.59 216.7V354.3M168.85 216.7V354.3M195.12 216.7V354.3M221.38 216.7V354.3M247.64 216.7V354.3M103.2 345.13H273.9M103.2 326.78H273.9M103.2 308.43H273.9M103.2 290.09H273.9M103.2 271.74H273.9M103.2 253.39H273.9M103.2 235.05H273.9" stroke="#f0f0f0" stroke-width="0.6" fill="none"/>
<path d="M129.46 216.7V354.3M155.72 216.7V354.3M181.98 216.7V354.3M208.25 216.7V354.3M234.51 216.7V354.3M260.77 216.7V354.3M103.2 335.95H273.9M103.2 317.61H273.9M103.2 299.26H273.9M103.2 280.91H273.9M103.2 262.57H273.9M103.2 244.22H273.9M103.2 225.87H273.9" stroke="#dadada" stroke-width="0.8" fill="none"/>
<clipPath id="cd"><rect x="102.9" y="213.7" width="173.7" height="140.9"/></clipPath>
<g clip-path="url(#cd)"><path d="M256 253h1v1h-1zM256 254h1v1h-1zM255 256h1v1h-1zM257 257h1v1h-1zM255 258h3v1h-3zM255 259h3v1h-3zM255 260h4v1h-4zM254 261h6v1h-6zM256 262h4v1h-4zM255 263h4v1h-4zM254 264h1v1h-1zM256 264h4v1h-4zM254 265h1v1h-1zM256 265h2v1h-2zM255 266h4v1h-4zM254 267h6v1h-6zM254 268h4v1h-4zM259 268h1v1h-1zM254 269h6v1h-6zM254 270h6v1h-6zM253 271h7v1h-7zM252 272h8v1h-8zM252 273h8v1h-8zM251 274h9v1h-9zM250 275h1v1h-1zM252 275h7v1h-7zM252 276h8v1h-8zM250 277h10v1h-10zM104 278h1v1h-1zM252 278h8v1h-8zM251 279h9v1h-9zM104 280h1v1h-1zM250 280h9v1h-9zM104 281h1v1h-1zM247 281h1v1h-1zM249 281h10v1h-10zM249 282h11v1h-11zM102 283h1v1h-1zM104 283h1v1h-1zM249 283h10v1h-10zM244 284h1v1h-1zM247 284h12v1h-12zM247 285h12v1h-12zM244 286h3v1h-3zM248 286h11v1h-11zM112 287h1v1h-1zM244 287h15v1h-15zM104 288h1v1h-1zM112 288h1v1h-1zM114 288h1v1h-1zM197 288h2v1h-2zM243 288h15v1h-15zM102 289h3v1h-3zM112 289h3v1h-3zM120 289h4v1h-4zM137 289h1v1h-1zM192 289h3v1h-3zM198 289h1v1h-1zM232 289h1v1h-1zM235 289h1v1h-1zM242 289h16v1h-16zM102 290h22v1h-22zM125 290h2v1h-2zM131 290h1v1h-1zM134 290h4v1h-4zM139 290h2v1h-2zM147 290h1v1h-1zM151 290h1v1h-1zM154 290h1v1h-1zM162 290h1v1h-1zM168 290h3v1h-3zM172 290h2v1h-2zM175 290h2v1h-2zM180 290h1v1h-1zM187 290h1v1h-1zM189 290h6v1h-6zM231 290h1v1h-1zM234 290h2v1h-2zM241 290h17v1h-17zM102 291h55v1h-55zM160 291h1v1h-1zM162 291h1v1h-1zM165 291h2v1h-2zM168 291h11v1h-11zM180 291h2v1h-2zM185 291h1v1h-1zM187 291h2v1h-2zM190 291h5v1h-5zM199 291h1v1h-1zM204 291h3v1h-3zM211 291h1v1h-1zM230 291h1v1h-1zM232 291h2v1h-2zM237 291h1v1h-1zM240 291h18v1h-18zM102 292h83v1h-83zM186 292h9v1h-9zM199 292h2v1h-2zM203 292h3v1h-3zM207 292h1v1h-1zM210 292h1v1h-1zM218 292h1v1h-1zM225 292h1v1h-1zM228 292h1v1h-1zM230 292h1v1h-1zM232 292h2v1h-2zM235 292h1v1h-1zM238 292h1v1h-1zM240 292h18v1h-18zM102 293h93v1h-93zM196 293h9v1h-9zM206 293h2v1h-2zM209 293h1v1h-1zM218 293h1v1h-1zM226 293h2v1h-2zM229 293h4v1h-4zM234 293h3v1h-3zM238 293h20v1h-20zM102 294h121v1h-121zM225 294h8v1h-8zM234 294h24v1h-24zM102 295h120v1h-120zM223 295h35v1h-35zM102 296h155v1h-155zM102 297h155v1h-155zM101 298h155v1h-155zM102 299h155v1h-155zM102 300h154v1h-154zM102 301h152v1h-152zM256 301h1v1h-1zM103 302h151v1h-151zM257 302h1v1h-1zM103 303h1v1h-1zM105 303h147v1h-147zM258 303h1v1h-1zM106 304h1v1h-1zM112 304h2v1h-2zM115 304h2v1h-2zM119 304h133v1h-133zM256 304h2v1h-2zM114 305h1v1h-1zM121 305h1v1h-1zM123 305h3v1h-3zM127 305h2v1h-2zM130 305h7v1h-7zM139 305h113v1h-113zM256 305h1v1h-1zM130 306h3v1h-3zM134 306h4v1h-4zM143 306h2v1h-2zM146 306h108v1h-108zM147 307h5v1h-5zM153 307h11v1h-11zM165 307h88v1h-88zM146 308h1v1h-1zM148 308h3v1h-3zM154 308h2v1h-2zM157 308h7v1h-7zM165 308h10v1h-10zM176 308h78v1h-78zM158 309h1v1h-1zM164 309h4v1h-4zM171 309h1v1h-1zM174 309h81v1h-81zM159 310h1v1h-1zM174 310h42v1h-42zM217 310h15v1h-15zM233 310h21v1h-21zM174 311h1v1h-1zM176 311h10v1h-10zM187 311h10v1h-10zM198 311h17v1h-17zM216 311h38v1h-38zM176 312h12v1h-12zM190 312h1v1h-1zM194 312h1v1h-1zM196 312h1v1h-1zM198 312h17v1h-17zM216 312h38v1h-38zM175 313h1v1h-1zM180 313h1v1h-1zM182 313h2v1h-2zM185 313h2v1h-2zM188 313h1v1h-1zM190 313h1v1h-1zM194 313h1v1h-1zM197 313h1v1h-1zM199 313h2v1h-2zM202 313h47v1h-47zM250 313h4v1h-4zM176 314h1v1h-1zM185 314h2v1h-2zM196 314h2v1h-2zM199 314h22v1h-22zM222 314h13v1h-13zM236 314h9v1h-9zM246 314h4v1h-4zM252 314h2v1h-2zM181 315h1v1h-1zM198 315h1v1h-1zM202 315h3v1h-3zM206 315h2v1h-2zM209 315h2v1h-2zM212 315h1v1h-1zM214 315h33v1h-33zM248 315h2v1h-2zM251 315h1v1h-1zM192 316h1v1h-1zM197 316h6v1h-6zM207 316h5v1h-5zM213 316h19v1h-19zM233 316h16v1h-16zM251 316h1v1h-1zM199 317h2v1h-2zM202 317h1v1h-1zM208 317h2v1h-2zM216 317h21v1h-21zM238 317h1v1h-1zM240 317h10v1h-10zM252 317h1v1h-1zM191 318h1v1h-1zM209 318h2v1h-2zM217 318h8v1h-8zM226 318h5v1h-5zM232 318h1v1h-1zM234 318h13v1h-13zM248 318h2v1h-2zM251 318h4v1h-4zM217 319h7v1h-7zM225 319h3v1h-3zM230 319h1v1h-1zM234 319h13v1h-13zM253 319h1v1h-1zM221 320h2v1h-2zM225 320h1v1h-1zM231 320h1v1h-1zM233 320h11v1h-11zM246 320h1v1h-1zM253 320h1v1h-1zM231 321h1v1h-1zM233 321h3v1h-3zM237 321h6v1h-6zM245 321h1v1h-1zM248 321h1v1h-1zM251 321h1v1h-1zM211 322h2v1h-2zM229 322h3v1h-3zM239 322h1v1h-1zM244 322h1v1h-1zM219 323h1v1h-1zM228 323h2v1h-2zM231 323h1v1h-1zM246 323h1v1h-1zM249 323h2v1h-2zM220 324h1v1h-1zM236 324h1v1h-1zM248 324h1v1h-1zM251 324h1v1h-1zM220 325h1v1h-1zM237 325h1v1h-1zM247 325h1v1h-1zM237 326h1v1h-1zM245 326h2v1h-2zM240 329h1v1h-1z" fill="#ff0000"/><path d="M252.4 323.7l3.1 3.1m0-3.1l-3.1 3.1M101.7 293.2l3.1 3.1m0-3.1l-3.1 3.1M192.4 316.4l3.1 3.1m0-3.1l-3.1 3.1M225.2 331.4l3.1 3.1m0-3.1l-3.1 3.1M252.4 298.3l3.1 3.1m0-3.1l-3.1 3.1M193.3 314.3l3.1 3.1m0-3.1l-3.1 3.1M256.3 305.7l3.1 3.1m0-3.1l-3.1 3.1M189.5 311.4l3.1 3.1m0-3.1l-3.1 3.1M145.5 289.8l3.1 3.1m0-3.1l-3.1 3.1M239.5 327.8l3.1 3.1m0-3.1l-3.1 3.1M216.1 318.9l3.1 3.1m0-3.1l-3.1 3.1M223.4 294.8l3.1 3.1m0-3.1l-3.1 3.1M109.4 301.2l3.1 3.1m0-3.1l-3.1 3.1M249.3 300.7l3.1 3.1m0-3.1l-3.1 3.1M219.0 323.2l3.1 3.1m0-3.1l-3.1 3.1M243.2 314.1l3.1 3.1m0-3.1l-3.1 3.1M252.8 311.4l3.1 3.1m0-3.1l-3.1 3.1M152.8 304.9l3.1 3.1m0-3.1l-3.1 3.1M227.8 291.8l3.1 3.1m0-3.1l-3.1 3.1M208.0 313.1l3.1 3.1m0-3.1l-3.1 3.1M256.1 277.5l3.1 3.1m0-3.1l-3.1 3.1M174.2 309.4l3.1 3.1m0-3.1l-3.1 3.1M173.4 319.2l3.1 3.1m0-3.1l-3.1 3.1M247.1 283.8l3.1 3.1m0-3.1l-3.1 3.1M257.1 272.8l3.1 3.1m0-3.1l-3.1 3.1M223.5 316.3l3.1 3.1m0-3.1l-3.1 3.1M101.8 296.1l3.1 3.1m0-3.1l-3.1 3.1M182.0 310.3l3.1 3.1m0-3.1l-3.1 3.1M251.4 308.8l3.1 3.1m0-3.1l-3.1 3.1M233.0 333.3l3.1 3.1m0-3.1l-3.1 3.1M185.6 293.0l3.1 3.1m0-3.1l-3.1 3.1M188.5 317.7l3.1 3.1m0-3.1l-3.1 3.1M199.5 314.7l3.1 3.1m0-3.1l-3.1 3.1M239.6 318.9l3.1 3.1m0-3.1l-3.1 3.1M256.1 242.7l3.1 3.1m0-3.1l-3.1 3.1M248.8 321.1l3.1 3.1m0-3.1l-3.1 3.1M134.0 290.5l3.1 3.1m0-3.1l-3.1 3.1M101.9 294.1l3.1 3.1m0-3.1l-3.1 3.1M208.7 316.1l3.1 3.1m0-3.1l-3.1 3.1M224.8 318.4l3.1 3.1m0-3.1l-3.1 3.1M225.0 292.6l3.1 3.1m0-3.1l-3.1 3.1M132.2 306.7l3.1 3.1m0-3.1l-3.1 3.1M239.4 322.8l3.1 3.1m0-3.1l-3.1 3.1M256.1 284.0l3.1 3.1m0-3.1l-3.1 3.1M130.1 290.8l3.1 3.1m0-3.1l-3.1 3.1M255.5 320.9l3.1 3.1m0-3.1l-3.1 3.1M232.2 292.3l3.1 3.1m0-3.1l-3.1 3.1M249.0 268.5l3.1 3.1m0-3.1l-3.1 3.1M196.2 321.7l3.1 3.1m0-3.1l-3.1 3.1M256.8 296.5l3.1 3.1m0-3.1l-3.1 3.1M240.9 329.8l3.1 3.1m0-3.1l-3.1 3.1M228.6 293.0l3.1 3.1m0-3.1l-3.1 3.1M243.2 317.5l3.1 3.1m0-3.1l-3.1 3.1M174.6 308.4l3.1 3.1m0-3.1l-3.1 3.1M256.1 265.1l3.1 3.1m0-3.1l-3.1 3.1M159.1 291.0l3.1 3.1m0-3.1l-3.1 3.1M126.8 302.7l3.1 3.1m0-3.1l-3.1 3.1M163.6 307.7l3.1 3.1m0-3.1l-3.1 3.1M148.3 288.0l3.1 3.1m0-3.1l-3.1 3.1M147.9 306.2l3.1 3.1m0-3.1l-3.1 3.1M239.3 326.2l3.1 3.1m0-3.1l-3.1 3.1M188.5 311.0l3.1 3.1m0-3.1l-3.1 3.1M117.2 301.5l3.1 3.1m0-3.1l-3.1 3.1M238.2 290.3l3.1 3.1m0-3.1l-3.1 3.1M109.3 301.3l3.1 3.1m0-3.1l-3.1 3.1M224.0 293.8l3.1 3.1m0-3.1l-3.1 3.1M249.4 280.8l3.1 3.1m0-3.1l-3.1 3.1M255.9 272.5l3.1 3.1m0-3.1l-3.1 3.1M250.6 303.3l3.1 3.1m0-3.1l-3.1 3.1M212.5 312.0l3.1 3.1m0-3.1l-3.1 3.1M223.3 319.9l3.1 3.1m0-3.1l-3.1 3.1M203.9 290.7l3.1 3.1m0-3.1l-3.1 3.1M228.8 321.6l3.1 3.1m0-3.1l-3.1 3.1M219.6 317.1l3.1 3.1m0-3.1l-3.1 3.1M242.5 277.5l3.1 3.1m0-3.1l-3.1 3.1M162.0 291.4l3.1 3.1m0-3.1l-3.1 3.1M224.9 292.9l3.1 3.1m0-3.1l-3.1 3.1M233.4 312.7l3.1 3.1m0-3.1l-3.1 3.1M147.3 305.8l3.1 3.1m0-3.1l-3.1 3.1M165.6 310.5l3.1 3.1m0-3.1l-3.1 3.1M255.5 256.1l3.1 3.1m0-3.1l-3.1 3.1M245.1 325.4l3.1 3.1m0-3.1l-3.1 3.1M246.2 323.3l3.1 3.1m0-3.1l-3.1 3.1M204.0 319.7l3.1 3.1m0-3.1l-3.1 3.1M255.7 290.1l3.1 3.1m0-3.1l-3.1 3.1M247.8 282.4l3.1 3.1m0-3.1l-3.1 3.1M213.0 324.1l3.1 3.1m0-3.1l-3.1 3.1M195.6 293.9l3.1 3.1m0-3.1l-3.1 3.1M235.0 324.8l3.1 3.1m0-3.1l-3.1 3.1M151.2 290.6l3.1 3.1m0-3.1l-3.1 3.1M138.9 306.1l3.1 3.1m0-3.1l-3.1 3.1M221.0 294.9l3.1 3.1m0-3.1l-3.1 3.1M252.8 318.3l3.1 3.1m0-3.1l-3.1 3.1M251.7 271.9l3.1 3.1m0-3.1l-3.1 3.1M158.3 289.4l3.1 3.1m0-3.1l-3.1 3.1M178.2 311.9l3.1 3.1m0-3.1l-3.1 3.1M234.3 318.8l3.1 3.1m0-3.1l-3.1 3.1M159.0 309.7l3.1 3.1m0-3.1l-3.1 3.1M228.6 320.7l3.1 3.1m0-3.1l-3.1 3.1M237.4 319.5l3.1 3.1m0-3.1l-3.1 3.1M254.0 293.3l3.1 3.1m0-3.1l-3.1 3.1M147.8 306.4l3.1 3.1m0-3.1l-3.1 3.1M121.0 289.2l3.1 3.1m0-3.1l-3.1 3.1M224.8 315.9l3.1 3.1m0-3.1l-3.1 3.1M205.5 313.8l3.1 3.1m0-3.1l-3.1 3.1M257.0 267.5l3.1 3.1m0-3.1l-3.1 3.1M184.6 290.3l3.1 3.1m0-3.1l-3.1 3.1M173.7 307.4l3.1 3.1m0-3.1l-3.1 3.1M242.1 283.1l3.1 3.1m0-3.1l-3.1 3.1M162.2 305.9l3.1 3.1m0-3.1l-3.1 3.1M257.0 279.2l3.1 3.1m0-3.1l-3.1 3.1M187.9 310.4l3.1 3.1m0-3.1l-3.1 3.1M248.7 283.4l3.1 3.1m0-3.1l-3.1 3.1M250.8 304.2l3.1 3.1m0-3.1l-3.1 3.1M133.6 303.5l3.1 3.1m0-3.1l-3.1 3.1M156.9 307.5l3.1 3.1m0-3.1l-3.1 3.1M251.6 318.0l3.1 3.1m0-3.1l-3.1 3.1M194.8 309.2l3.1 3.1m0-3.1l-3.1 3.1M101.7 298.3l3.1 3.1m0-3.1l-3.1 3.1M217.2 321.5l3.1 3.1m0-3.1l-3.1 3.1M198.8 291.0l3.1 3.1m0-3.1l-3.1 3.1M170.5 310.6l3.1 3.1m0-3.1l-3.1 3.1M256.3 262.0l3.1 3.1m0-3.1l-3.1 3.1M240.0 283.7l3.1 3.1m0-3.1l-3.1 3.1M254.9 299.6l3.1 3.1m0-3.1l-3.1 3.1M203.1 290.6l3.1 3.1m0-3.1l-3.1 3.1M252.5 258.0l3.1 3.1m0-3.1l-3.1 3.1M247.4 281.6l3.1 3.1m0-3.1l-3.1 3.1M195.5 286.6l3.1 3.1m0-3.1l-3.1 3.1M217.0 317.9l3.1 3.1m0-3.1l-3.1 3.1M249.6 301.1l3.1 3.1m0-3.1l-3.1 3.1M147.2 289.5l3.1 3.1m0-3.1l-3.1 3.1M251.0 315.4l3.1 3.1m0-3.1l-3.1 3.1M252.1 318.5l3.1 3.1m0-3.1l-3.1 3.1M119.7 287.5l3.1 3.1m0-3.1l-3.1 3.1M114.0 302.1l3.1 3.1m0-3.1l-3.1 3.1M185.3 311.9l3.1 3.1m0-3.1l-3.1 3.1M255.7 285.4l3.1 3.1m0-3.1l-3.1 3.1M144.6 304.0l3.1 3.1m0-3.1l-3.1 3.1M256.8 285.8l3.1 3.1m0-3.1l-3.1 3.1M237.8 291.1l3.1 3.1m0-3.1l-3.1 3.1M165.6 306.4l3.1 3.1m0-3.1l-3.1 3.1M193.8 312.7l3.1 3.1m0-3.1l-3.1 3.1M244.7 322.5l3.1 3.1m0-3.1l-3.1 3.1M245.8 318.0l3.1 3.1m0-3.1l-3.1 3.1M104.5 287.5l3.1 3.1m0-3.1l-3.1 3.1M233.2 319.5l3.1 3.1m0-3.1l-3.1 3.1M169.4 289.8l3.1 3.1m0-3.1l-3.1 3.1M242.3 335.2l3.1 3.1m0-3.1l-3.1 3.1M122.5 289.7l3.1 3.1m0-3.1l-3.1 3.1M227.7 322.2l3.1 3.1m0-3.1l-3.1 3.1M131.3 290.3l3.1 3.1m0-3.1l-3.1 3.1M232.9 324.4l3.1 3.1m0-3.1l-3.1 3.1M255.1 251.8l3.1 3.1m0-3.1l-3.1 3.1M209.2 321.6l3.1 3.1m0-3.1l-3.1 3.1M174.0 288.4l3.1 3.1m0-3.1l-3.1 3.1M234.5 290.9l3.1 3.1m0-3.1l-3.1 3.1M162.8 290.9l3.1 3.1m0-3.1l-3.1 3.1M181.6 314.9l3.1 3.1m0-3.1l-3.1 3.1M252.4 308.8l3.1 3.1m0-3.1l-3.1 3.1M255.6 286.5l3.1 3.1m0-3.1l-3.1 3.1M253.8 261.7l3.1 3.1m0-3.1l-3.1 3.1M249.1 280.3l3.1 3.1m0-3.1l-3.1 3.1M176.5 311.8l3.1 3.1m0-3.1l-3.1 3.1M256.8 261.2l3.1 3.1m0-3.1l-3.1 3.1M223.9 319.0l3.1 3.1m0-3.1l-3.1 3.1M256.2 304.8l3.1 3.1m0-3.1l-3.1 3.1M149.6 308.8l3.1 3.1m0-3.1l-3.1 3.1M143.9 306.1l3.1 3.1m0-3.1l-3.1 3.1M204.7 289.4l3.1 3.1m0-3.1l-3.1 3.1M138.6 303.1l3.1 3.1m0-3.1l-3.1 3.1M153.9 305.1l3.1 3.1m0-3.1l-3.1 3.1M141.2 290.9l3.1 3.1m0-3.1l-3.1 3.1M254.7 247.1l3.1 3.1m0-3.1l-3.1 3.1M207.2 314.5l3.1 3.1m0-3.1l-3.1 3.1M236.5 323.8l3.1 3.1m0-3.1l-3.1 3.1M123.5 289.3l3.1 3.1m0-3.1l-3.1 3.1M151.8 290.3l3.1 3.1m0-3.1l-3.1 3.1M203.2 316.6l3.1 3.1m0-3.1l-3.1 3.1M249.5 304.4l3.1 3.1m0-3.1l-3.1 3.1M250.1 316.0l3.1 3.1m0-3.1l-3.1 3.1M192.4 293.9l3.1 3.1m0-3.1l-3.1 3.1M252.9 263.7l3.1 3.1m0-3.1l-3.1 3.1M255.5 245.2l3.1 3.1m0-3.1l-3.1 3.1M250.5 275.2l3.1 3.1m0-3.1l-3.1 3.1M226.6 293.1l3.1 3.1m0-3.1l-3.1 3.1M255.6 258.4l3.1 3.1m0-3.1l-3.1 3.1M256.7 319.7l3.1 3.1m0-3.1l-3.1 3.1M220.5 318.1l3.1 3.1m0-3.1l-3.1 3.1M137.3 302.7l3.1 3.1m0-3.1l-3.1 3.1M253.8 254.9l3.1 3.1m0-3.1l-3.1 3.1M185.7 291.2l3.1 3.1m0-3.1l-3.1 3.1M234.7 323.0l3.1 3.1m0-3.1l-3.1 3.1M197.5 289.5l3.1 3.1m0-3.1l-3.1 3.1M136.5 289.6l3.1 3.1m0-3.1l-3.1 3.1M256.0 278.8l3.1 3.1m0-3.1l-3.1 3.1M251.7 271.6l3.1 3.1m0-3.1l-3.1 3.1M197.5 311.9l3.1 3.1m0-3.1l-3.1 3.1M222.4 295.7l3.1 3.1m0-3.1l-3.1 3.1M244.5 286.1l3.1 3.1m0-3.1l-3.1 3.1M154.1 289.4l3.1 3.1m0-3.1l-3.1 3.1M245.4 319.4l3.1 3.1m0-3.1l-3.1 3.1M256.7 260.3l3.1 3.1m0-3.1l-3.1 3.1M135.8 288.9l3.1 3.1m0-3.1l-3.1 3.1M249.8 279.9l3.1 3.1m0-3.1l-3.1 3.1M113.6 289.1l3.1 3.1m0-3.1l-3.1 3.1M229.6 308.4l3.1 3.1m0-3.1l-3.1 3.1M231.5 290.6l3.1 3.1m0-3.1l-3.1 3.1M238.8 316.1l3.1 3.1m0-3.1l-3.1 3.1M204.2 290.5l3.1 3.1m0-3.1l-3.1 3.1M157.0 291.2l3.1 3.1m0-3.1l-3.1 3.1M249.4 310.7l3.1 3.1m0-3.1l-3.1 3.1M217.8 290.4l3.1 3.1m0-3.1l-3.1 3.1M196.8 314.1l3.1 3.1m0-3.1l-3.1 3.1M206.0 291.7l3.1 3.1m0-3.1l-3.1 3.1M231.6 320.5l3.1 3.1m0-3.1l-3.1 3.1M232.2 313.7l3.1 3.1m0-3.1l-3.1 3.1M248.5 315.0l3.1 3.1m0-3.1l-3.1 3.1M146.3 290.6l3.1 3.1m0-3.1l-3.1 3.1M235.0 319.5l3.1 3.1m0-3.1l-3.1 3.1M197.0 313.7l3.1 3.1m0-3.1l-3.1 3.1M210.9 313.9l3.1 3.1m0-3.1l-3.1 3.1M213.3 308.5l3.1 3.1m0-3.1l-3.1 3.1M208.5 317.3l3.1 3.1m0-3.1l-3.1 3.1M215.6 319.8l3.1 3.1m0-3.1l-3.1 3.1M181.8 289.2l3.1 3.1m0-3.1l-3.1 3.1M185.8 313.3l3.1 3.1m0-3.1l-3.1 3.1M247.8 276.4l3.1 3.1m0-3.1l-3.1 3.1M142.8 303.6l3.1 3.1m0-3.1l-3.1 3.1M144.6 287.6l3.1 3.1m0-3.1l-3.1 3.1M213.7 307.8l3.1 3.1m0-3.1l-3.1 3.1M256.0 290.0l3.1 3.1m0-3.1l-3.1 3.1M207.3 292.6l3.1 3.1m0-3.1l-3.1 3.1M197.7 322.2l3.1 3.1m0-3.1l-3.1 3.1M122.4 286.4l3.1 3.1m0-3.1l-3.1 3.1M235.6 289.8l3.1 3.1m0-3.1l-3.1 3.1M204.7 313.0l3.1 3.1m0-3.1l-3.1 3.1M225.1 317.5l3.1 3.1m0-3.1l-3.1 3.1M230.0 316.9l3.1 3.1m0-3.1l-3.1 3.1M103.1 288.4l3.1 3.1m0-3.1l-3.1 3.1M113.6 289.1l3.1 3.1m0-3.1l-3.1 3.1M171.2 308.7l3.1 3.1m0-3.1l-3.1 3.1M244.7 286.5l3.1 3.1m0-3.1l-3.1 3.1M115.3 304.1l3.1 3.1m0-3.1l-3.1 3.1M186.1 318.0l3.1 3.1m0-3.1l-3.1 3.1M236.5 324.8l3.1 3.1m0-3.1l-3.1 3.1M229.9 291.4l3.1 3.1m0-3.1l-3.1 3.1M142.9 288.7l3.1 3.1m0-3.1l-3.1 3.1M239.1 332.4l3.1 3.1m0-3.1l-3.1 3.1M253.9 294.9l3.1 3.1m0-3.1l-3.1 3.1M183.6 309.0l3.1 3.1m0-3.1l-3.1 3.1M219.4 317.3l3.1 3.1m0-3.1l-3.1 3.1M200.8 310.2l3.1 3.1m0-3.1l-3.1 3.1M251.8 276.0l3.1 3.1m0-3.1l-3.1 3.1M101.7 296.2l3.1 3.1m0-3.1l-3.1 3.1M237.2 329.0l3.1 3.1m0-3.1l-3.1 3.1M237.9 288.2l3.1 3.1m0-3.1l-3.1 3.1M237.5 328.4l3.1 3.1m0-3.1l-3.1 3.1M254.8 302.6l3.1 3.1m0-3.1l-3.1 3.1M227.1 291.4l3.1 3.1m0-3.1l-3.1 3.1M256.3 286.8l3.1 3.1m0-3.1l-3.1 3.1M171.3 306.6l3.1 3.1m0-3.1l-3.1 3.1M226.7 316.9l3.1 3.1m0-3.1l-3.1 3.1M216.8 291.1l3.1 3.1m0-3.1l-3.1 3.1M148.0 290.6l3.1 3.1m0-3.1l-3.1 3.1M246.6 323.6l3.1 3.1m0-3.1l-3.1 3.1M172.3 313.1l3.1 3.1m0-3.1l-3.1 3.1M114.3 301.5l3.1 3.1m0-3.1l-3.1 3.1M255.8 293.9l3.1 3.1m0-3.1l-3.1 3.1M254.6 295.1l3.1 3.1m0-3.1l-3.1 3.1M230.9 320.0l3.1 3.1m0-3.1l-3.1 3.1M212.5 309.6l3.1 3.1m0-3.1l-3.1 3.1M193.8 290.7l3.1 3.1m0-3.1l-3.1 3.1M250.9 274.0l3.1 3.1m0-3.1l-3.1 3.1M254.5 265.9l3.1 3.1m0-3.1l-3.1 3.1M178.5 289.4l3.1 3.1m0-3.1l-3.1 3.1M129.4 304.2l3.1 3.1m0-3.1l-3.1 3.1M201.2 288.1l3.1 3.1m0-3.1l-3.1 3.1M111.5 288.7l3.1 3.1m0-3.1l-3.1 3.1M180.3 290.5l3.1 3.1m0-3.1l-3.1 3.1M240.0 290.4l3.1 3.1m0-3.1l-3.1 3.1M254.8 258.7l3.1 3.1m0-3.1l-3.1 3.1M164.0 313.1l3.1 3.1m0-3.1l-3.1 3.1M241.0 340.4l3.1 3.1m0-3.1l-3.1 3.1M132.0 290.6l3.1 3.1m0-3.1l-3.1 3.1M220.0 312.7l3.1 3.1m0-3.1l-3.1 3.1M154.1 290.1l3.1 3.1m0-3.1l-3.1 3.1M180.1 291.9l3.1 3.1m0-3.1l-3.1 3.1M234.9 322.8l3.1 3.1m0-3.1l-3.1 3.1M254.8 256.3l3.1 3.1m0-3.1l-3.1 3.1M201.8 318.6l3.1 3.1m0-3.1l-3.1 3.1M255.9 300.7l3.1 3.1m0-3.1l-3.1 3.1M251.0 272.0l3.1 3.1m0-3.1l-3.1 3.1M162.1 288.1l3.1 3.1m0-3.1l-3.1 3.1M178.5 291.5l3.1 3.1m0-3.1l-3.1 3.1M246.5 315.1l3.1 3.1m0-3.1l-3.1 3.1M241.1 319.5l3.1 3.1m0-3.1l-3.1 3.1M166.1 306.1l3.1 3.1m0-3.1l-3.1 3.1M246.6 315.9l3.1 3.1m0-3.1l-3.1 3.1M168.2 311.4l3.1 3.1m0-3.1l-3.1 3.1M102.2 299.3l3.1 3.1m0-3.1l-3.1 3.1M222.5 316.9l3.1 3.1m0-3.1l-3.1 3.1M250.4 332.1l3.1 3.1m0-3.1l-3.1 3.1M233.0 288.7l3.1 3.1m0-3.1l-3.1 3.1M203.5 293.0l3.1 3.1m0-3.1l-3.1 3.1M255.5 285.0l3.1 3.1m0-3.1l-3.1 3.1M213.9 310.9l3.1 3.1m0-3.1l-3.1 3.1M236.6 293.0l3.1 3.1m0-3.1l-3.1 3.1M218.5 317.0l3.1 3.1m0-3.1l-3.1 3.1M246.1 275.6l3.1 3.1m0-3.1l-3.1 3.1M129.2 306.4l3.1 3.1m0-3.1l-3.1 3.1M175.8 308.0l3.1 3.1m0-3.1l-3.1 3.1M233.3 327.6l3.1 3.1m0-3.1l-3.1 3.1M256.0 296.2l3.1 3.1m0-3.1l-3.1 3.1M201.0 313.8l3.1 3.1m0-3.1l-3.1 3.1M172.7 316.8l3.1 3.1m0-3.1l-3.1 3.1M164.0 306.9l3.1 3.1m0-3.1l-3.1 3.1M124.9 289.2l3.1 3.1m0-3.1l-3.1 3.1M219.4 317.6l3.1 3.1m0-3.1l-3.1 3.1M246.4 279.0l3.1 3.1m0-3.1l-3.1 3.1M238.3 291.2l3.1 3.1m0-3.1l-3.1 3.1M194.5 310.4l3.1 3.1m0-3.1l-3.1 3.1M153.9 305.0l3.1 3.1m0-3.1l-3.1 3.1M192.9 293.2l3.1 3.1m0-3.1l-3.1 3.1M152.5 290.6l3.1 3.1m0-3.1l-3.1 3.1M152.2 290.8l3.1 3.1m0-3.1l-3.1 3.1M256.4 315.3l3.1 3.1m0-3.1l-3.1 3.1M209.6 315.7l3.1 3.1m0-3.1l-3.1 3.1M253.4 260.6l3.1 3.1m0-3.1l-3.1 3.1M256.3 285.5l3.1 3.1m0-3.1l-3.1 3.1M212.1 319.6l3.1 3.1m0-3.1l-3.1 3.1M125.7 290.3l3.1 3.1m0-3.1l-3.1 3.1M237.8 317.2l3.1 3.1m0-3.1l-3.1 3.1M181.8 312.1l3.1 3.1m0-3.1l-3.1 3.1M250.9 301.1l3.1 3.1m0-3.1l-3.1 3.1M127.2 303.5l3.1 3.1m0-3.1l-3.1 3.1M254.3 309.4l3.1 3.1m0-3.1l-3.1 3.1M253.9 296.5l3.1 3.1m0-3.1l-3.1 3.1M174.4 311.6l3.1 3.1m0-3.1l-3.1 3.1M154.0 310.8l3.1 3.1m0-3.1l-3.1 3.1M245.0 325.9l3.1 3.1m0-3.1l-3.1 3.1M242.2 333.8l3.1 3.1m0-3.1l-3.1 3.1M251.6 306.3l3.1 3.1m0-3.1l-3.1 3.1M104.2 288.8l3.1 3.1m0-3.1l-3.1 3.1M202.7 292.1l3.1 3.1m0-3.1l-3.1 3.1M257.1 266.3l3.1 3.1m0-3.1l-3.1 3.1M147.9 306.3l3.1 3.1m0-3.1l-3.1 3.1M218.7 320.8l3.1 3.1m0-3.1l-3.1 3.1M227.8 316.6l3.1 3.1m0-3.1l-3.1 3.1M205.1 322.9l3.1 3.1m0-3.1l-3.1 3.1M251.4 329.6l3.1 3.1m0-3.1l-3.1 3.1M225.3 316.7l3.1 3.1m0-3.1l-3.1 3.1M195.7 311.4l3.1 3.1m0-3.1l-3.1 3.1M221.2 311.9l3.1 3.1m0-3.1l-3.1 3.1M181.1 291.8l3.1 3.1m0-3.1l-3.1 3.1M134.4 304.0l3.1 3.1m0-3.1l-3.1 3.1M202.7 313.2l3.1 3.1m0-3.1l-3.1 3.1M228.9 323.6l3.1 3.1m0-3.1l-3.1 3.1M140.7 290.1l3.1 3.1m0-3.1l-3.1 3.1M146.0 305.7l3.1 3.1m0-3.1l-3.1 3.1M157.3 287.4l3.1 3.1m0-3.1l-3.1 3.1M253.3 268.8l3.1 3.1m0-3.1l-3.1 3.1M253.2 253.8l3.1 3.1m0-3.1l-3.1 3.1M228.9 315.9l3.1 3.1m0-3.1l-3.1 3.1M196.2 314.3l3.1 3.1m0-3.1l-3.1 3.1M209.4 292.0l3.1 3.1m0-3.1l-3.1 3.1M253.8 295.5l3.1 3.1m0-3.1l-3.1 3.1M156.1 306.3l3.1 3.1m0-3.1l-3.1 3.1M257.0 302.1l3.1 3.1m0-3.1l-3.1 3.1M174.6 307.3l3.1 3.1m0-3.1l-3.1 3.1M214.9 315.0l3.1 3.1m0-3.1l-3.1 3.1M244.2 283.6l3.1 3.1m0-3.1l-3.1 3.1M254.9 252.6l3.1 3.1m0-3.1l-3.1 3.1M103.2 300.9l3.1 3.1m0-3.1l-3.1 3.1M197.1 308.3l3.1 3.1m0-3.1l-3.1 3.1M256.2 282.2l3.1 3.1m0-3.1l-3.1 3.1M250.2 277.0l3.1 3.1m0-3.1l-3.1 3.1M165.0 307.2l3.1 3.1m0-3.1l-3.1 3.1M104.7 289.7l3.1 3.1m0-3.1l-3.1 3.1M183.3 308.9l3.1 3.1m0-3.1l-3.1 3.1M164.1 306.7l3.1 3.1m0-3.1l-3.1 3.1M121.7 290.4l3.1 3.1m0-3.1l-3.1 3.1M207.6 315.9l3.1 3.1m0-3.1l-3.1 3.1M197.3 289.5l3.1 3.1m0-3.1l-3.1 3.1M208.1 313.9l3.1 3.1m0-3.1l-3.1 3.1M183.6 312.1l3.1 3.1m0-3.1l-3.1 3.1M179.0 313.4l3.1 3.1m0-3.1l-3.1 3.1M191.2 315.7l3.1 3.1m0-3.1l-3.1 3.1M250.9 277.1l3.1 3.1m0-3.1l-3.1 3.1M223.1 293.0l3.1 3.1m0-3.1l-3.1 3.1M149.2 306.4l3.1 3.1m0-3.1l-3.1 3.1M184.7 312.7l3.1 3.1m0-3.1l-3.1 3.1M134.3 305.6l3.1 3.1m0-3.1l-3.1 3.1M255.4 300.7l3.1 3.1m0-3.1l-3.1 3.1M104.4 300.4l3.1 3.1m0-3.1l-3.1 3.1M178.0 315.9l3.1 3.1m0-3.1l-3.1 3.1M212.5 291.7l3.1 3.1m0-3.1l-3.1 3.1M103.3 301.0l3.1 3.1m0-3.1l-3.1 3.1M218.3 292.7l3.1 3.1m0-3.1l-3.1 3.1M165.3 306.8l3.1 3.1m0-3.1l-3.1 3.1M256.6 260.0l3.1 3.1m0-3.1l-3.1 3.1M180.1 291.9l3.1 3.1m0-3.1l-3.1 3.1M229.5 307.6l3.1 3.1m0-3.1l-3.1 3.1M168.9 305.9l3.1 3.1m0-3.1l-3.1 3.1M132.9 290.8l3.1 3.1m0-3.1l-3.1 3.1M241.8 289.3l3.1 3.1m0-3.1l-3.1 3.1M208.1 324.1l3.1 3.1m0-3.1l-3.1 3.1M185.4 309.2l3.1 3.1m0-3.1l-3.1 3.1M216.4 307.7l3.1 3.1m0-3.1l-3.1 3.1M218.3 317.1l3.1 3.1m0-3.1l-3.1 3.1M255.4 243.9l3.1 3.1m0-3.1l-3.1 3.1M199.1 311.5l3.1 3.1m0-3.1l-3.1 3.1M227.0 319.5l3.1 3.1m0-3.1l-3.1 3.1M253.5 321.4l3.1 3.1m0-3.1l-3.1 3.1M157.4 309.3l3.1 3.1m0-3.1l-3.1 3.1M161.3 305.5l3.1 3.1m0-3.1l-3.1 3.1M237.4 327.0l3.1 3.1m0-3.1l-3.1 3.1M255.8 264.1l3.1 3.1m0-3.1l-3.1 3.1M208.7 323.0l3.1 3.1m0-3.1l-3.1 3.1M203.4 292.7l3.1 3.1m0-3.1l-3.1 3.1M119.3 288.3l3.1 3.1m0-3.1l-3.1 3.1M134.8 289.7l3.1 3.1m0-3.1l-3.1 3.1M190.1 316.1l3.1 3.1m0-3.1l-3.1 3.1M105.2 302.3l3.1 3.1m0-3.1l-3.1 3.1M209.3 320.1l3.1 3.1m0-3.1l-3.1 3.1M137.2 302.3l3.1 3.1m0-3.1l-3.1 3.1M246.2 283.7l3.1 3.1m0-3.1l-3.1 3.1M219.5 293.8l3.1 3.1m0-3.1l-3.1 3.1M249.9 317.4l3.1 3.1m0-3.1l-3.1 3.1M250.9 320.7l3.1 3.1m0-3.1l-3.1 3.1M154.4 291.7l3.1 3.1m0-3.1l-3.1 3.1M199.9 314.5l3.1 3.1m0-3.1l-3.1 3.1M253.8 265.6l3.1 3.1m0-3.1l-3.1 3.1M232.3 289.7l3.1 3.1m0-3.1l-3.1 3.1M101.9 297.9l3.1 3.1m0-3.1l-3.1 3.1M231.0 308.7l3.1 3.1m0-3.1l-3.1 3.1M249.0 311.5l3.1 3.1m0-3.1l-3.1 3.1M252.3 271.0l3.1 3.1m0-3.1l-3.1 3.1M175.7 289.7l3.1 3.1m0-3.1l-3.1 3.1M215.5 293.4l3.1 3.1m0-3.1l-3.1 3.1M200.4 292.0l3.1 3.1m0-3.1l-3.1 3.1M256.4 264.2l3.1 3.1m0-3.1l-3.1 3.1M152.6 289.1l3.1 3.1m0-3.1l-3.1 3.1M252.6 270.6l3.1 3.1m0-3.1l-3.1 3.1M133.2 303.6l3.1 3.1m0-3.1l-3.1 3.1M249.7 305.2l3.1 3.1m0-3.1l-3.1 3.1M211.8 324.6l3.1 3.1m0-3.1l-3.1 3.1M241.8 287.3l3.1 3.1m0-3.1l-3.1 3.1M248.3 329.5l3.1 3.1m0-3.1l-3.1 3.1M252.9 266.5l3.1 3.1m0-3.1l-3.1 3.1M227.9 322.6l3.1 3.1m0-3.1l-3.1 3.1M117.0 301.6l3.1 3.1m0-3.1l-3.1 3.1M101.7 298.6l3.1 3.1m0-3.1l-3.1 3.1M234.0 316.4l3.1 3.1m0-3.1l-3.1 3.1M159.7 310.0l3.1 3.1m0-3.1l-3.1 3.1M253.0 317.7l3.1 3.1m0-3.1l-3.1 3.1M188.4 310.1l3.1 3.1m0-3.1l-3.1 3.1M162.4 309.4l3.1 3.1m0-3.1l-3.1 3.1M216.2 315.9l3.1 3.1m0-3.1l-3.1 3.1M255.0 291.4l3.1 3.1m0-3.1l-3.1 3.1M210.4 324.3l3.1 3.1m0-3.1l-3.1 3.1M158.1 306.6l3.1 3.1m0-3.1l-3.1 3.1M233.5 314.0l3.1 3.1m0-3.1l-3.1 3.1M256.9 276.5l3.1 3.1m0-3.1l-3.1 3.1M202.2 313.3l3.1 3.1m0-3.1l-3.1 3.1M217.6 322.2l3.1 3.1m0-3.1l-3.1 3.1M128.6 289.6l3.1 3.1m0-3.1l-3.1 3.1M238.0 316.7l3.1 3.1m0-3.1l-3.1 3.1M145.6 289.0l3.1 3.1m0-3.1l-3.1 3.1M213.0 308.9l3.1 3.1m0-3.1l-3.1 3.1M179.8 313.5l3.1 3.1m0-3.1l-3.1 3.1M249.7 278.8l3.1 3.1m0-3.1l-3.1 3.1M243.3 321.2l3.1 3.1m0-3.1l-3.1 3.1M206.8 318.6l3.1 3.1m0-3.1l-3.1 3.1M188.3 291.0l3.1 3.1m0-3.1l-3.1 3.1M237.1 320.8l3.1 3.1m0-3.1l-3.1 3.1M250.4 322.5l3.1 3.1m0-3.1l-3.1 3.1M214.5 288.2l3.1 3.1m0-3.1l-3.1 3.1M110.2 287.2l3.1 3.1m0-3.1l-3.1 3.1M218.8 292.8l3.1 3.1m0-3.1l-3.1 3.1M256.6 272.5l3.1 3.1m0-3.1l-3.1 3.1M254.1 254.5l3.1 3.1m0-3.1l-3.1 3.1M255.9 302.1l3.1 3.1m0-3.1l-3.1 3.1M189.0 289.4l3.1 3.1m0-3.1l-3.1 3.1M211.9 319.8l3.1 3.1m0-3.1l-3.1 3.1M210.3 322.4l3.1 3.1m0-3.1l-3.1 3.1M168.6 286.7l3.1 3.1m0-3.1l-3.1 3.1M220.1 313.5l3.1 3.1m0-3.1l-3.1 3.1M129.0 304.1l3.1 3.1m0-3.1l-3.1 3.1M250.3 273.2l3.1 3.1m0-3.1l-3.1 3.1M251.0 273.9l3.1 3.1m0-3.1l-3.1 3.1M213.0 309.0l3.1 3.1m0-3.1l-3.1 3.1M197.8 290.4l3.1 3.1m0-3.1l-3.1 3.1M160.2 290.2l3.1 3.1m0-3.1l-3.1 3.1M256.5 301.8l3.1 3.1m0-3.1l-3.1 3.1M225.1 325.0l3.1 3.1m0-3.1l-3.1 3.1M243.6 287.3l3.1 3.1m0-3.1l-3.1 3.1M255.1 257.3l3.1 3.1m0-3.1l-3.1 3.1M111.1 302.0l3.1 3.1m0-3.1l-3.1 3.1M173.8 312.6l3.1 3.1m0-3.1l-3.1 3.1M244.8 314.7l3.1 3.1m0-3.1l-3.1 3.1M143.5 290.6l3.1 3.1m0-3.1l-3.1 3.1M256.2 273.1l3.1 3.1m0-3.1l-3.1 3.1M120.7 288.0l3.1 3.1m0-3.1l-3.1 3.1M114.1 289.5l3.1 3.1m0-3.1l-3.1 3.1M113.0 303.7l3.1 3.1m0-3.1l-3.1 3.1M254.8 293.7l3.1 3.1m0-3.1l-3.1 3.1M242.2 320.9l3.1 3.1m0-3.1l-3.1 3.1M229.7 325.3l3.1 3.1m0-3.1l-3.1 3.1M167.0 291.5l3.1 3.1m0-3.1l-3.1 3.1M251.0 277.9l3.1 3.1m0-3.1l-3.1 3.1M249.2 317.6l3.1 3.1m0-3.1l-3.1 3.1M230.4 314.9l3.1 3.1m0-3.1l-3.1 3.1M106.0 301.7l3.1 3.1m0-3.1l-3.1 3.1M126.9 290.3l3.1 3.1m0-3.1l-3.1 3.1M141.7 305.0l3.1 3.1m0-3.1l-3.1 3.1M179.9 316.0l3.1 3.1m0-3.1l-3.1 3.1M134.5 304.3l3.1 3.1m0-3.1l-3.1 3.1M111.9 307.6l3.1 3.1m0-3.1l-3.1 3.1M169.7 306.3l3.1 3.1m0-3.1l-3.1 3.1M161.0 306.0l3.1 3.1m0-3.1l-3.1 3.1M193.7 318.7l3.1 3.1m0-3.1l-3.1 3.1M122.4 302.4l3.1 3.1m0-3.1l-3.1 3.1M251.8 264.1l3.1 3.1m0-3.1l-3.1 3.1M206.6 316.9l3.1 3.1m0-3.1l-3.1 3.1M172.1 306.4l3.1 3.1m0-3.1l-3.1 3.1M194.2 309.6l3.1 3.1m0-3.1l-3.1 3.1M213.8 315.0l3.1 3.1m0-3.1l-3.1 3.1M197.3 314.3l3.1 3.1m0-3.1l-3.1 3.1M215.8 292.4l3.1 3.1m0-3.1l-3.1 3.1M200.9 311.4l3.1 3.1m0-3.1l-3.1 3.1M251.5 304.0l3.1 3.1m0-3.1l-3.1 3.1M118.7 289.4l3.1 3.1m0-3.1l-3.1 3.1M127.5 290.5l3.1 3.1m0-3.1l-3.1 3.1M235.8 340.3l3.1 3.1m0-3.1l-3.1 3.1M167.8 290.8l3.1 3.1m0-3.1l-3.1 3.1M243.7 286.7l3.1 3.1m0-3.1l-3.1 3.1M231.8 293.5l3.1 3.1m0-3.1l-3.1 3.1M198.7 292.2l3.1 3.1m0-3.1l-3.1 3.1M191.0 314.0l3.1 3.1m0-3.1l-3.1 3.1M255.9 264.6l3.1 3.1m0-3.1l-3.1 3.1M221.5 316.8l3.1 3.1m0-3.1l-3.1 3.1M134.9 303.4l3.1 3.1m0-3.1l-3.1 3.1M251.3 315.8l3.1 3.1m0-3.1l-3.1 3.1M253.5 297.2l3.1 3.1m0-3.1l-3.1 3.1M116.0 289.4l3.1 3.1m0-3.1l-3.1 3.1M195.6 292.7l3.1 3.1m0-3.1l-3.1 3.1M233.4 327.7l3.1 3.1m0-3.1l-3.1 3.1M250.8 313.5l3.1 3.1m0-3.1l-3.1 3.1M253.9 264.3l3.1 3.1m0-3.1l-3.1 3.1M234.7 292.4l3.1 3.1m0-3.1l-3.1 3.1M173.5 290.3l3.1 3.1m0-3.1l-3.1 3.1M112.4 289.5l3.1 3.1m0-3.1l-3.1 3.1M133.2 288.9l3.1 3.1m0-3.1l-3.1 3.1M233.2 321.0l3.1 3.1m0-3.1l-3.1 3.1M111.9 290.0l3.1 3.1m0-3.1l-3.1 3.1M187.7 291.2l3.1 3.1m0-3.1l-3.1 3.1M127.1 285.8l3.1 3.1m0-3.1l-3.1 3.1M206.6 290.9l3.1 3.1m0-3.1l-3.1 3.1M160.0 291.5l3.1 3.1m0-3.1l-3.1 3.1M178.2 309.9l3.1 3.1m0-3.1l-3.1 3.1M248.8 321.9l3.1 3.1m0-3.1l-3.1 3.1M219.7 323.4l3.1 3.1m0-3.1l-3.1 3.1M165.3 312.8l3.1 3.1m0-3.1l-3.1 3.1M230.4 331.7l3.1 3.1m0-3.1l-3.1 3.1M196.1 286.9l3.1 3.1m0-3.1l-3.1 3.1M177.5 291.1l3.1 3.1m0-3.1l-3.1 3.1M234.9 314.8l3.1 3.1m0-3.1l-3.1 3.1M146.7 305.6l3.1 3.1m0-3.1l-3.1 3.1M138.5 285.2l3.1 3.1m0-3.1l-3.1 3.1M253.3 304.8l3.1 3.1m0-3.1l-3.1 3.1M111.5 302.7l3.1 3.1m0-3.1l-3.1 3.1M140.3 304.1l3.1 3.1m0-3.1l-3.1 3.1M230.5 290.6l3.1 3.1m0-3.1l-3.1 3.1M218.2 325.2l3.1 3.1m0-3.1l-3.1 3.1M243.2 285.7l3.1 3.1m0-3.1l-3.1 3.1M131.5 287.4l3.1 3.1m0-3.1l-3.1 3.1M173.6 308.4l3.1 3.1m0-3.1l-3.1 3.1M130.1 288.9l3.1 3.1m0-3.1l-3.1 3.1M213.0 312.1l3.1 3.1m0-3.1l-3.1 3.1M139.8 287.6l3.1 3.1m0-3.1l-3.1 3.1M213.3 307.6l3.1 3.1m0-3.1l-3.1 3.1M184.3 312.1l3.1 3.1m0-3.1l-3.1 3.1M230.5 292.9l3.1 3.1m0-3.1l-3.1 3.1M201.5 291.5l3.1 3.1m0-3.1l-3.1 3.1M124.0 286.0l3.1 3.1m0-3.1l-3.1 3.1M121.4 305.0l3.1 3.1m0-3.1l-3.1 3.1M132.3 305.8l3.1 3.1m0-3.1l-3.1 3.1M247.5 316.6l3.1 3.1m0-3.1l-3.1 3.1M255.6 258.5l3.1 3.1m0-3.1l-3.1 3.1M251.1 278.5l3.1 3.1m0-3.1l-3.1 3.1M257.0 255.1l3.1 3.1m0-3.1l-3.1 3.1M229.3 313.9l3.1 3.1m0-3.1l-3.1 3.1M117.3 289.8l3.1 3.1m0-3.1l-3.1 3.1M253.2 306.0l3.1 3.1m0-3.1l-3.1 3.1M167.7 306.1l3.1 3.1m0-3.1l-3.1 3.1M243.8 320.3l3.1 3.1m0-3.1l-3.1 3.1M228.6 327.3l3.1 3.1m0-3.1l-3.1 3.1M233.8 294.1l3.1 3.1m0-3.1l-3.1 3.1M250.2 338.9l3.1 3.1m0-3.1l-3.1 3.1M141.6 303.4l3.1 3.1m0-3.1l-3.1 3.1M101.7 290.3l3.1 3.1m0-3.1l-3.1 3.1M251.5 312.9l3.1 3.1m0-3.1l-3.1 3.1M102.5 299.0l3.1 3.1m0-3.1l-3.1 3.1M243.6 325.2l3.1 3.1m0-3.1l-3.1 3.1M256.9 262.3l3.1 3.1m0-3.1l-3.1 3.1M140.1 287.2l3.1 3.1m0-3.1l-3.1 3.1M139.7 303.3l3.1 3.1m0-3.1l-3.1 3.1M200.3 291.3l3.1 3.1m0-3.1l-3.1 3.1M232.6 319.1l3.1 3.1m0-3.1l-3.1 3.1M227.9 329.5l3.1 3.1m0-3.1l-3.1 3.1M167.1 310.6l3.1 3.1m0-3.1l-3.1 3.1M219.7 294.7l3.1 3.1m0-3.1l-3.1 3.1M228.4 320.0l3.1 3.1m0-3.1l-3.1 3.1M240.4 288.3l3.1 3.1m0-3.1l-3.1 3.1M161.4 291.0l3.1 3.1m0-3.1l-3.1 3.1M256.1 250.4l3.1 3.1m0-3.1l-3.1 3.1M182.3 291.3l3.1 3.1m0-3.1l-3.1 3.1M241.1 288.4l3.1 3.1m0-3.1l-3.1 3.1M247.4 320.6l3.1 3.1m0-3.1l-3.1 3.1M210.4 318.8l3.1 3.1m0-3.1l-3.1 3.1M200.3 314.7l3.1 3.1m0-3.1l-3.1 3.1M232.5 334.8l3.1 3.1m0-3.1l-3.1 3.1M249.4 272.9l3.1 3.1m0-3.1l-3.1 3.1M172.7 305.2l3.1 3.1m0-3.1l-3.1 3.1M246.3 326.9l3.1 3.1m0-3.1l-3.1 3.1M119.4 289.4l3.1 3.1m0-3.1l-3.1 3.1M111.3 302.4l3.1 3.1m0-3.1l-3.1 3.1M247.3 281.9l3.1 3.1m0-3.1l-3.1 3.1M252.8 298.8l3.1 3.1m0-3.1l-3.1 3.1M213.5 293.8l3.1 3.1m0-3.1l-3.1 3.1M173.2 288.4l3.1 3.1m0-3.1l-3.1 3.1M185.3 291.2l3.1 3.1m0-3.1l-3.1 3.1M175.1 312.6l3.1 3.1m0-3.1l-3.1 3.1M141.8 290.9l3.1 3.1m0-3.1l-3.1 3.1M125.6 304.6l3.1 3.1m0-3.1l-3.1 3.1M210.7 321.1l3.1 3.1m0-3.1l-3.1 3.1M186.8 289.6l3.1 3.1m0-3.1l-3.1 3.1M192.3 310.4l3.1 3.1m0-3.1l-3.1 3.1M249.3 279.4l3.1 3.1m0-3.1l-3.1 3.1M199.6 316.9l3.1 3.1m0-3.1l-3.1 3.1M193.4 290.2l3.1 3.1m0-3.1l-3.1 3.1M189.8 310.5l3.1 3.1m0-3.1l-3.1 3.1M137.8 290.0l3.1 3.1m0-3.1l-3.1 3.1M214.0 319.3l3.1 3.1m0-3.1l-3.1 3.1M129.3 305.2l3.1 3.1m0-3.1l-3.1 3.1M220.0 322.5l3.1 3.1m0-3.1l-3.1 3.1M228.9 316.8l3.1 3.1m0-3.1l-3.1 3.1M191.7 318.4l3.1 3.1m0-3.1l-3.1 3.1M152.4 306.2l3.1 3.1m0-3.1l-3.1 3.1M180.8 310.3l3.1 3.1m0-3.1l-3.1 3.1M253.4 309.2l3.1 3.1m0-3.1l-3.1 3.1M180.0 287.6l3.1 3.1m0-3.1l-3.1 3.1M164.1 304.3l3.1 3.1m0-3.1l-3.1 3.1M151.0 305.3l3.1 3.1m0-3.1l-3.1 3.1M101.7 295.4l3.1 3.1m0-3.1l-3.1 3.1M110.0 302.0l3.1 3.1m0-3.1l-3.1 3.1M209.3 313.0l3.1 3.1m0-3.1l-3.1 3.1M190.3 289.4l3.1 3.1m0-3.1l-3.1 3.1M256.7 281.8l3.1 3.1m0-3.1l-3.1 3.1M239.5 319.9l3.1 3.1m0-3.1l-3.1 3.1M101.9 295.6l3.1 3.1m0-3.1l-3.1 3.1M201.1 285.5l3.1 3.1m0-3.1l-3.1 3.1M234.8 293.0l3.1 3.1m0-3.1l-3.1 3.1M255.0 313.2l3.1 3.1m0-3.1l-3.1 3.1M248.3 324.2l3.1 3.1m0-3.1l-3.1 3.1M232.9 288.7l3.1 3.1m0-3.1l-3.1 3.1M123.2 303.1l3.1 3.1m0-3.1l-3.1 3.1M199.4 317.7l3.1 3.1m0-3.1l-3.1 3.1M248.1 327.3l3.1 3.1m0-3.1l-3.1 3.1M253.2 306.0l3.1 3.1m0-3.1l-3.1 3.1M157.7 306.5l3.1 3.1m0-3.1l-3.1 3.1M254.2 262.4l3.1 3.1m0-3.1l-3.1 3.1M250.9 307.1l3.1 3.1m0-3.1l-3.1 3.1M119.1 302.8l3.1 3.1m0-3.1l-3.1 3.1M200.6 311.8l3.1 3.1m0-3.1l-3.1 3.1M162.4 290.3l3.1 3.1m0-3.1l-3.1 3.1M214.0 312.6l3.1 3.1m0-3.1l-3.1 3.1M193.5 309.3l3.1 3.1m0-3.1l-3.1 3.1M253.4 266.3l3.1 3.1m0-3.1l-3.1 3.1M234.4 313.4l3.1 3.1m0-3.1l-3.1 3.1M189.2 316.2l3.1 3.1m0-3.1l-3.1 3.1M242.0 288.2l3.1 3.1m0-3.1l-3.1 3.1M186.4 315.7l3.1 3.1m0-3.1l-3.1 3.1M221.8 323.4l3.1 3.1m0-3.1l-3.1 3.1M252.3 271.8l3.1 3.1m0-3.1l-3.1 3.1M199.3 316.1l3.1 3.1m0-3.1l-3.1 3.1M239.1 317.7l3.1 3.1m0-3.1l-3.1 3.1M254.5 258.6l3.1 3.1m0-3.1l-3.1 3.1M250.0 272.0l3.1 3.1m0-3.1l-3.1 3.1M188.1 291.0l3.1 3.1m0-3.1l-3.1 3.1M239.8 319.3l3.1 3.1m0-3.1l-3.1 3.1M116.1 301.6l3.1 3.1m0-3.1l-3.1 3.1M104.3 300.4l3.1 3.1m0-3.1l-3.1 3.1M234.2 314.9l3.1 3.1m0-3.1l-3.1 3.1M212.3 313.0l3.1 3.1m0-3.1l-3.1 3.1M122.3 304.4l3.1 3.1m0-3.1l-3.1 3.1M168.2 290.0l3.1 3.1m0-3.1l-3.1 3.1M120.5 302.6l3.1 3.1m0-3.1l-3.1 3.1M137.8 303.1l3.1 3.1m0-3.1l-3.1 3.1M119.0 301.6l3.1 3.1m0-3.1l-3.1 3.1M254.6 264.9l3.1 3.1m0-3.1l-3.1 3.1M107.9 289.7l3.1 3.1m0-3.1l-3.1 3.1M251.3 299.5l3.1 3.1m0-3.1l-3.1 3.1M212.8 293.9l3.1 3.1m0-3.1l-3.1 3.1M256.8 256.5l3.1 3.1m0-3.1l-3.1 3.1M251.4 298.4l3.1 3.1m0-3.1l-3.1 3.1M201.5 314.6l3.1 3.1m0-3.1l-3.1 3.1M192.4 311.3l3.1 3.1m0-3.1l-3.1 3.1M145.9 304.4l3.1 3.1m0-3.1l-3.1 3.1M209.8 314.0l3.1 3.1m0-3.1l-3.1 3.1M254.8 251.1l3.1 3.1m0-3.1l-3.1 3.1M192.6 290.5l3.1 3.1m0-3.1l-3.1 3.1M256.3 298.8l3.1 3.1m0-3.1l-3.1 3.1M178.5 310.7l3.1 3.1m0-3.1l-3.1 3.1M222.7 291.9l3.1 3.1m0-3.1l-3.1 3.1M102.8 300.0l3.1 3.1m0-3.1l-3.1 3.1M137.9 290.2l3.1 3.1m0-3.1l-3.1 3.1M251.7 300.2l3.1 3.1m0-3.1l-3.1 3.1M253.9 293.6l3.1 3.1m0-3.1l-3.1 3.1M211.5 293.6l3.1 3.1m0-3.1l-3.1 3.1M256.1 332.3l3.1 3.1m0-3.1l-3.1 3.1M251.0 310.2l3.1 3.1m0-3.1l-3.1 3.1M181.1 290.6l3.1 3.1m0-3.1l-3.1 3.1M230.6 321.3l3.1 3.1m0-3.1l-3.1 3.1M213.9 314.6l3.1 3.1m0-3.1l-3.1 3.1M215.6 316.9l3.1 3.1m0-3.1l-3.1 3.1M255.8 251.4l3.1 3.1m0-3.1l-3.1 3.1M232.1 318.4l3.1 3.1m0-3.1l-3.1 3.1M165.2 290.6l3.1 3.1m0-3.1l-3.1 3.1M232.3 314.7l3.1 3.1m0-3.1l-3.1 3.1M173.3 308.8l3.1 3.1m0-3.1l-3.1 3.1M211.1 313.7l3.1 3.1m0-3.1l-3.1 3.1M106.7 302.4l3.1 3.1m0-3.1l-3.1 3.1M250.7 311.4l3.1 3.1m0-3.1l-3.1 3.1M179.5 289.9l3.1 3.1m0-3.1l-3.1 3.1M113.8 306.3l3.1 3.1m0-3.1l-3.1 3.1M256.3 266.7l3.1 3.1m0-3.1l-3.1 3.1M193.9 320.1l3.1 3.1m0-3.1l-3.1 3.1M253.6 270.0l3.1 3.1m0-3.1l-3.1 3.1M187.3 312.8l3.1 3.1m0-3.1l-3.1 3.1M220.3 317.3l3.1 3.1m0-3.1l-3.1 3.1M247.8 332.3l3.1 3.1m0-3.1l-3.1 3.1M130.5 303.8l3.1 3.1m0-3.1l-3.1 3.1M250.2 311.2l3.1 3.1m0-3.1l-3.1 3.1M154.4 308.1l3.1 3.1m0-3.1l-3.1 3.1M182.5 311.5l3.1 3.1m0-3.1l-3.1 3.1M231.4 309.8l3.1 3.1m0-3.1l-3.1 3.1M125.5 290.8l3.1 3.1m0-3.1l-3.1 3.1M220.8 292.6l3.1 3.1m0-3.1l-3.1 3.1M225.3 322.7l3.1 3.1m0-3.1l-3.1 3.1M222.8 292.1l3.1 3.1m0-3.1l-3.1 3.1M145.1 303.7l3.1 3.1m0-3.1l-3.1 3.1M254.3 260.7l3.1 3.1m0-3.1l-3.1 3.1M204.9 312.5l3.1 3.1m0-3.1l-3.1 3.1M229.7 325.5l3.1 3.1m0-3.1l-3.1 3.1M184.4 287.8l3.1 3.1m0-3.1l-3.1 3.1M196.6 316.1l3.1 3.1m0-3.1l-3.1 3.1M221.9 317.9l3.1 3.1m0-3.1l-3.1 3.1M204.7 291.0l3.1 3.1m0-3.1l-3.1 3.1M184.0 308.3l3.1 3.1m0-3.1l-3.1 3.1M220.7 319.4l3.1 3.1m0-3.1l-3.1 3.1M244.3 313.2l3.1 3.1m0-3.1l-3.1 3.1M239.3 291.1l3.1 3.1m0-3.1l-3.1 3.1M112.2 287.9l3.1 3.1m0-3.1l-3.1 3.1M143.2 305.3l3.1 3.1m0-3.1l-3.1 3.1M228.8 317.9l3.1 3.1m0-3.1l-3.1 3.1M254.6 294.4l3.1 3.1m0-3.1l-3.1 3.1M247.1 312.0l3.1 3.1m0-3.1l-3.1 3.1M249.1 313.8l3.1 3.1m0-3.1l-3.1 3.1M237.6 326.1l3.1 3.1m0-3.1l-3.1 3.1M208.0 287.7l3.1 3.1m0-3.1l-3.1 3.1M177.1 290.4l3.1 3.1m0-3.1l-3.1 3.1M246.5 316.0l3.1 3.1m0-3.1l-3.1 3.1M256.6 283.9l3.1 3.1m0-3.1l-3.1 3.1M250.1 321.2l3.1 3.1m0-3.1l-3.1 3.1M166.2 290.9l3.1 3.1m0-3.1l-3.1 3.1M237.5 292.6l3.1 3.1m0-3.1l-3.1 3.1M163.9 286.9l3.1 3.1m0-3.1l-3.1 3.1M124.2 303.2l3.1 3.1m0-3.1l-3.1 3.1M239.0 332.7l3.1 3.1m0-3.1l-3.1 3.1M254.6 316.4l3.1 3.1m0-3.1l-3.1 3.1M207.9 292.7l3.1 3.1m0-3.1l-3.1 3.1M244.1 317.5l3.1 3.1m0-3.1l-3.1 3.1M106.0 302.1l3.1 3.1m0-3.1l-3.1 3.1M209.6 292.3l3.1 3.1m0-3.1l-3.1 3.1M202.3 312.7l3.1 3.1m0-3.1l-3.1 3.1M207.6 315.5l3.1 3.1m0-3.1l-3.1 3.1M233.3 315.3l3.1 3.1m0-3.1l-3.1 3.1M121.5 289.7l3.1 3.1m0-3.1l-3.1 3.1M237.6 320.3l3.1 3.1m0-3.1l-3.1 3.1M195.8 316.0l3.1 3.1m0-3.1l-3.1 3.1M196.0 292.8l3.1 3.1m0-3.1l-3.1 3.1M255.9 267.8l3.1 3.1m0-3.1l-3.1 3.1M243.5 323.8l3.1 3.1m0-3.1l-3.1 3.1M256.7 280.9l3.1 3.1m0-3.1l-3.1 3.1M255.7 303.7l3.1 3.1m0-3.1l-3.1 3.1M255.5 291.6l3.1 3.1m0-3.1l-3.1 3.1M154.5 305.9l3.1 3.1m0-3.1l-3.1 3.1M151.3 289.8l3.1 3.1m0-3.1l-3.1 3.1M108.8 301.6l3.1 3.1m0-3.1l-3.1 3.1M128.0 303.7l3.1 3.1m0-3.1l-3.1 3.1M147.6 290.8l3.1 3.1m0-3.1l-3.1 3.1M155.1 309.8l3.1 3.1m0-3.1l-3.1 3.1M248.1 313.1l3.1 3.1m0-3.1l-3.1 3.1M233.9 292.9l3.1 3.1m0-3.1l-3.1 3.1M256.3 282.3l3.1 3.1m0-3.1l-3.1 3.1M197.7 311.0l3.1 3.1m0-3.1l-3.1 3.1M243.6 320.2l3.1 3.1m0-3.1l-3.1 3.1M253.5 267.3l3.1 3.1m0-3.1l-3.1 3.1M174.2 311.5l3.1 3.1m0-3.1l-3.1 3.1M245.7 323.9l3.1 3.1m0-3.1l-3.1 3.1M102.0 292.2l3.1 3.1m0-3.1l-3.1 3.1M239.4 314.0l3.1 3.1m0-3.1l-3.1 3.1M120.0 302.0l3.1 3.1m0-3.1l-3.1 3.1M102.7 300.6l3.1 3.1m0-3.1l-3.1 3.1M149.9 306.1l3.1 3.1m0-3.1l-3.1 3.1M208.2 292.0l3.1 3.1m0-3.1l-3.1 3.1M158.5 307.9l3.1 3.1m0-3.1l-3.1 3.1M244.5 284.8l3.1 3.1m0-3.1l-3.1 3.1M244.2 315.8l3.1 3.1m0-3.1l-3.1 3.1M239.6 291.3l3.1 3.1m0-3.1l-3.1 3.1M249.1 303.2l3.1 3.1m0-3.1l-3.1 3.1M101.7 295.5l3.1 3.1m0-3.1l-3.1 3.1M248.3 321.6l3.1 3.1m0-3.1l-3.1 3.1M179.4 320.3l3.1 3.1m0-3.1l-3.1 3.1M252.1 271.3l3.1 3.1m0-3.1l-3.1 3.1M225.9 316.3l3.1 3.1m0-3.1l-3.1 3.1M244.1 318.9l3.1 3.1m0-3.1l-3.1 3.1M211.1 292.1l3.1 3.1m0-3.1l-3.1 3.1M256.9 292.5l3.1 3.1m0-3.1l-3.1 3.1M247.3 278.9l3.1 3.1m0-3.1l-3.1 3.1M110.3 287.3l3.1 3.1m0-3.1l-3.1 3.1M112.6 288.1l3.1 3.1m0-3.1l-3.1 3.1M105.9 302.8l3.1 3.1m0-3.1l-3.1 3.1M169.4 287.8l3.1 3.1m0-3.1l-3.1 3.1M197.1 287.5l3.1 3.1m0-3.1l-3.1 3.1M238.4 286.8l3.1 3.1m0-3.1l-3.1 3.1M167.3 287.9l3.1 3.1m0-3.1l-3.1 3.1M215.0 287.0l3.1 3.1m0-3.1l-3.1 3.1M199.0 285.1l3.1 3.1m0-3.1l-3.1 3.1M111.8 287.4l3.1 3.1m0-3.1l-3.1 3.1M163.4 285.7l3.1 3.1m0-3.1l-3.1 3.1M216.1 286.7l3.1 3.1m0-3.1l-3.1 3.1M230.2 289.1l3.1 3.1m0-3.1l-3.1 3.1M211.1 288.5l3.1 3.1m0-3.1l-3.1 3.1M235.9 287.5l3.1 3.1m0-3.1l-3.1 3.1M244.4 280.1l3.1 3.1m0-3.1l-3.1 3.1M230.3 288.3l3.1 3.1m0-3.1l-3.1 3.1M191.5 287.3l3.1 3.1m0-3.1l-3.1 3.1M189.9 287.7l3.1 3.1m0-3.1l-3.1 3.1M228.4 283.8l3.1 3.1m0-3.1l-3.1 3.1M170.4 287.6l3.1 3.1m0-3.1l-3.1 3.1M196.4 288.0l3.1 3.1m0-3.1l-3.1 3.1M107.4 283.0l3.1 3.1m0-3.1l-3.1 3.1M173.0 287.7l3.1 3.1m0-3.1l-3.1 3.1M209.3 288.5l3.1 3.1m0-3.1l-3.1 3.1M114.2 285.4l3.1 3.1m0-3.1l-3.1 3.1M227.6 284.7l3.1 3.1m0-3.1l-3.1 3.1M191.8 288.4l3.1 3.1m0-3.1l-3.1 3.1M195.9 286.4l3.1 3.1m0-3.1l-3.1 3.1M236.5 281.3l3.1 3.1m0-3.1l-3.1 3.1M225.8 288.2l3.1 3.1m0-3.1l-3.1 3.1M241.9 284.1l3.1 3.1m0-3.1l-3.1 3.1M116.9 282.3l3.1 3.1m0-3.1l-3.1 3.1M111.7 284.9l3.1 3.1m0-3.1l-3.1 3.1M244.2 278.7l3.1 3.1m0-3.1l-3.1 3.1M234.6 287.5l3.1 3.1m0-3.1l-3.1 3.1M226.0 289.8l3.1 3.1m0-3.1l-3.1 3.1M193.1 288.7l3.1 3.1m0-3.1l-3.1 3.1M152.3 284.9l3.1 3.1m0-3.1l-3.1 3.1M230.3 288.9l3.1 3.1m0-3.1l-3.1 3.1M201.6 285.2l3.1 3.1m0-3.1l-3.1 3.1M221.9 288.6l3.1 3.1m0-3.1l-3.1 3.1M145.7 281.2l3.1 3.1m0-3.1l-3.1 3.1M125.5 285.5l3.1 3.1m0-3.1l-3.1 3.1M186.2 281.2l3.1 3.1m0-3.1l-3.1 3.1M189.6 286.5l3.1 3.1m0-3.1l-3.1 3.1M229.0 282.7l3.1 3.1m0-3.1l-3.1 3.1M214.6 286.2l3.1 3.1m0-3.1l-3.1 3.1M229.2 289.5l3.1 3.1m0-3.1l-3.1 3.1M134.7 288.1l3.1 3.1m0-3.1l-3.1 3.1M161.3 286.4l3.1 3.1m0-3.1l-3.1 3.1M223.7 289.6l3.1 3.1m0-3.1l-3.1 3.1M227.6 289.6l3.1 3.1m0-3.1l-3.1 3.1M189.8 284.4l3.1 3.1m0-3.1l-3.1 3.1M122.1 284.2l3.1 3.1m0-3.1l-3.1 3.1M237.7 286.3l3.1 3.1m0-3.1l-3.1 3.1M206.7 282.0l3.1 3.1m0-3.1l-3.1 3.1M178.2 288.4l3.1 3.1m0-3.1l-3.1 3.1M143.2 286.3l3.1 3.1m0-3.1l-3.1 3.1M134.8 286.3l3.1 3.1m0-3.1l-3.1 3.1M214.3 286.9l3.1 3.1m0-3.1l-3.1 3.1M234.1 288.6l3.1 3.1m0-3.1l-3.1 3.1M153.3 281.7l3.1 3.1m0-3.1l-3.1 3.1M191.2 286.1l3.1 3.1m0-3.1l-3.1 3.1M187.4 288.1l3.1 3.1m0-3.1l-3.1 3.1M141.8 281.9l3.1 3.1m0-3.1l-3.1 3.1M245.9 276.3l3.1 3.1m0-3.1l-3.1 3.1M125.0 283.8l3.1 3.1m0-3.1l-3.1 3.1M208.1 288.8l3.1 3.1m0-3.1l-3.1 3.1M157.6 288.4l3.1 3.1m0-3.1l-3.1 3.1M137.7 286.0l3.1 3.1m0-3.1l-3.1 3.1M211.4 284.6l3.1 3.1m0-3.1l-3.1 3.1M193.3 286.9l3.1 3.1m0-3.1l-3.1 3.1M169.9 285.1l3.1 3.1m0-3.1l-3.1 3.1M209.8 289.4l3.1 3.1m0-3.1l-3.1 3.1M208.4 285.8l3.1 3.1m0-3.1l-3.1 3.1M185.6 288.7l3.1 3.1m0-3.1l-3.1 3.1M165.5 288.3l3.1 3.1m0-3.1l-3.1 3.1M174.1 286.4l3.1 3.1m0-3.1l-3.1 3.1M236.4 284.9l3.1 3.1m0-3.1l-3.1 3.1M241.3 281.8l3.1 3.1m0-3.1l-3.1 3.1M228.7 283.4l3.1 3.1m0-3.1l-3.1 3.1M151.7 287.1l3.1 3.1m0-3.1l-3.1 3.1M101.7 288.9l3.1 3.1m0-3.1l-3.1 3.1M102.3 282.9l3.1 3.1m0-3.1l-3.1 3.1M102.1 282.4l3.1 3.1m0-3.1l-3.1 3.1M101.7 287.5l3.1 3.1m0-3.1l-3.1 3.1M102.4 275.9l3.1 3.1m0-3.1l-3.1 3.1M102.0 288.5l3.1 3.1m0-3.1l-3.1 3.1M102.1 289.9l3.1 3.1m0-3.1l-3.1 3.1M102.1 280.6l3.1 3.1m0-3.1l-3.1 3.1M102.3 282.4l3.1 3.1m0-3.1l-3.1 3.1M102.3 281.2l3.1 3.1m0-3.1l-3.1 3.1M101.7 278.3l3.1 3.1m0-3.1l-3.1 3.1M102.2 278.8l3.1 3.1m0-3.1l-3.1 3.1M102.2 287.9l3.1 3.1m0-3.1l-3.1 3.1M102.2 277.5l3.1 3.1m0-3.1l-3.1 3.1M102.1 287.6l3.1 3.1m0-3.1l-3.1 3.1M101.7 278.5l3.1 3.1m0-3.1l-3.1 3.1M101.7 275.8l3.1 3.1m0-3.1l-3.1 3.1M101.8 289.4l3.1 3.1m0-3.1l-3.1 3.1M101.9 283.5l3.1 3.1m0-3.1l-3.1 3.1M101.8 316.4l3.1 3.1m0-3.1l-3.1 3.1M102.4 310.4l3.1 3.1m0-3.1l-3.1 3.1M102.3 313.8l3.1 3.1m0-3.1l-3.1 3.1M101.8 302.5l3.1 3.1m0-3.1l-3.1 3.1M101.9 315.9l3.1 3.1m0-3.1l-3.1 3.1M101.8 301.9l3.1 3.1m0-3.1l-3.1 3.1M102.2 308.3l3.1 3.1m0-3.1l-3.1 3.1M102.2 311.9l3.1 3.1m0-3.1l-3.1 3.1M103.8 266.5l3.1 3.1m0-3.1l-3.1 3.1M104.0 235.3l3.1 3.1m0-3.1l-3.1 3.1M134.7 277.5l3.1 3.1m0-3.1l-3.1 3.1M137.9 281.2l3.1 3.1m0-3.1l-3.1 3.1M134.7 283.0l3.1 3.1m0-3.1l-3.1 3.1M165.7 276.6l3.1 3.1m0-3.1l-3.1 3.1M158.9 279.4l3.1 3.1m0-3.1l-3.1 3.1M150.0 282.1l3.1 3.1m0-3.1l-3.1 3.1M111.1 284.9l3.1 3.1m0-3.1l-3.1 3.1M115.3 283.9l3.1 3.1m0-3.1l-3.1 3.1M127.9 283.9l3.1 3.1m0-3.1l-3.1 3.1M143.7 307.8l3.1 3.1m0-3.1l-3.1 3.1M144.7 313.3l3.1 3.1m0-3.1l-3.1 3.1M175.7 320.6l3.1 3.1m0-3.1l-3.1 3.1M196.7 334.4l3.1 3.1m0-3.1l-3.1 3.1M196.2 331.7l3.1 3.1m0-3.1l-3.1 3.1M223.0 339.0l3.1 3.1m0-3.1l-3.1 3.1M254.5 228.9l3.1 3.1m0-3.1l-3.1 3.1M256.6 228.9l3.1 3.1m0-3.1l-3.1 3.1M254.0 233.5l3.1 3.1m0-3.1l-3.1 3.1M257.1 234.4l3.1 3.1m0-3.1l-3.1 3.1M257.1 259.2l3.1 3.1m0-3.1l-3.1 3.1M183.1 274.8l3.1 3.1m0-3.1l-3.1 3.1M185.7 277.5l3.1 3.1m0-3.1l-3.1 3.1M217.2 283.9l3.1 3.1m0-3.1l-3.1 3.1" stroke="#ff0000" stroke-width="0.55" fill="none"/></g>
<rect x="103.2" y="216.7" width="170.7" height="137.6" fill="none" stroke="#9a9a9a" stroke-width="1.7"/>
<path d="M100.2 354.3H273.9" stroke="#333" stroke-width="1.1"/>
<path d="M103.2 354.3v2.4M116.33 354.3v1.4M129.46 354.3v2.4M142.59 354.3v1.4M155.72 354.3v2.4M168.85 354.3v1.4M181.98 354.3v2.4M195.12 354.3v1.4M208.25 354.3v2.4M221.38 354.3v1.4M234.51 354.3v2.4M247.64 354.3v1.4M260.77 354.3v2.4M273.9 354.3v1.4M103.2 354.3h-2.4M103.2 345.13h-1.4M103.2 335.95h-2.4M103.2 326.78h-1.4M103.2 317.61h-2.4M103.2 308.43h-1.4M103.2 299.26h-2.4M103.2 290.09h-1.4M103.2 280.91h-2.4M103.2 271.74h-1.4M103.2 262.57h-2.4M103.2 253.39h-1.4M103.2 244.22h-2.4M103.2 235.05h-1.4M103.2 225.87h-2.4M103.2 216.7h-1.4" stroke="#222" stroke-width="0.9" fill="none"/>
<g font-size="7.1" fill="#222" stroke="#222" stroke-width="0.1"><text transform="translate(103.2 364.1) scale(0.9 1)" text-anchor="middle">0</text><text transform="translate(129.46 364.1) scale(0.9 1)" text-anchor="middle">5</text><text transform="translate(155.72 364.1) scale(0.9 1)" text-anchor="middle">10</text><text transform="translate(181.98 364.1) scale(0.9 1)" text-anchor="middle">15</text><text transform="translate(208.25 364.1) scale(0.9 1)" text-anchor="middle">20</text><text transform="translate(234.51 364.1) scale(0.9 1)" text-anchor="middle">25</text><text transform="translate(260.77 364.1) scale(0.9 1)" text-anchor="middle">30</text></g>
<g font-size="7" fill="#222" stroke="#222" stroke-width="0.1"><text transform="translate(98.8 357.1) scale(0.95 1)" text-anchor="end">0.0</text><text transform="translate(98.8 338.75) scale(0.95 1)" text-anchor="end">2.0&#215;10<tspan font-size="4.2" dy="-2.3">-7</tspan></text><text transform="translate(98.8 320.41) scale(0.95 1)" text-anchor="end">4.0&#215;10<tspan font-size="4.2" dy="-2.3">-7</tspan></text><text transform="translate(98.8 302.06) scale(0.95 1)" text-anchor="end">6.0&#215;10<tspan font-size="4.2" dy="-2.3">-7</tspan></text><text transform="translate(98.8 283.71) scale(0.95 1)" text-anchor="end">8.0&#215;10<tspan font-size="4.2" dy="-2.3">-7</tspan></text><text transform="translate(98.8 265.37) scale(0.95 1)" text-anchor="end">1.0&#215;10<tspan font-size="4.2" dy="-2.3">-6</tspan></text><text transform="translate(98.8 247.02) scale(0.95 1)" text-anchor="end">1.2&#215;10<tspan font-size="4.2" dy="-2.3">-6</tspan></text><text transform="translate(98.8 228.67) scale(0.95 1)" text-anchor="end">1.4&#215;10<tspan font-size="4.2" dy="-2.3">-6</tspan></text></g>
<text x="188.55" y="374.8" text-anchor="middle" font-size="7.1" fill="#222" stroke="#222" stroke-width="0.12">Z-distance(mm)</text>
<text transform="translate(74 286.8) rotate(-90) scale(0.95 1)" text-anchor="middle" font-size="7.2" fill="#222" stroke="#222" stroke-width="0.08">Kinetic Energy (J)</text>
<text x="185.6" y="390.5" text-anchor="middle" font-size="14.5" fill="#111" stroke="#111" stroke-width="0.12">(d)</text>
<path d="M458.11 217.5V353.7M484.32 217.5V353.7M510.54 217.5V353.7M536.75 217.5V353.7M562.97 217.5V353.7M589.18 217.5V353.7M445 342.35H615.4M445 319.65H615.4M445 296.95H615.4M445 274.25H615.4M445 251.55H615.4M445 228.85H615.4" stroke="#f0f0f0" stroke-width="0.6" fill="none"/>
<path d="M471.22 217.5V353.7M497.43 217.5V353.7M523.65 217.5V353.7M549.86 217.5V353.7M576.08 217.5V353.7M602.29 217.5V353.7M445 331H615.4M445 308.3H615.4M445 285.6H615.4M445 262.9H615.4M445 240.2H615.4" stroke="#dadada" stroke-width="0.8" fill="none"/>
<clipPath id="ce"><rect x="444.7" y="214.5" width="173.4" height="139.5"/></clipPath>
<g clip-path="url(#ce)"><path d="M524 256h1v1h-1zM535 261h1v1h-1zM535 262h1v1h-1zM537 262h1v1h-1zM533 263h2v1h-2zM537 263h1v1h-1zM444 264h1v1h-1zM446 264h1v1h-1zM521 264h1v1h-1zM532 264h2v1h-2zM535 264h1v1h-1zM537 264h2v1h-2zM543 264h1v1h-1zM444 265h1v1h-1zM446 265h1v1h-1zM523 265h1v1h-1zM526 265h1v1h-1zM531 265h4v1h-4zM536 265h2v1h-2zM443 266h5v1h-5zM530 266h1v1h-1zM534 266h1v1h-1zM537 266h1v1h-1zM543 266h1v1h-1zM444 267h3v1h-3zM512 267h1v1h-1zM522 267h1v1h-1zM525 267h2v1h-2zM529 267h1v1h-1zM535 267h2v1h-2zM538 267h1v1h-1zM443 268h4v1h-4zM517 268h1v1h-1zM526 268h2v1h-2zM530 268h1v1h-1zM532 268h1v1h-1zM535 268h3v1h-3zM443 269h2v1h-2zM446 269h1v1h-1zM511 269h1v1h-1zM514 269h2v1h-2zM527 269h2v1h-2zM530 269h1v1h-1zM533 269h5v1h-5zM512 270h1v1h-1zM515 270h2v1h-2zM528 270h3v1h-3zM533 270h3v1h-3zM538 270h3v1h-3zM542 270h1v1h-1zM444 271h1v1h-1zM446 271h1v1h-1zM512 271h2v1h-2zM515 271h2v1h-2zM522 271h1v1h-1zM524 271h1v1h-1zM528 271h1v1h-1zM530 271h4v1h-4zM535 271h1v1h-1zM537 271h4v1h-4zM542 271h1v1h-1zM443 272h1v1h-1zM446 272h1v1h-1zM513 272h2v1h-2zM516 272h2v1h-2zM522 272h3v1h-3zM526 272h1v1h-1zM529 272h9v1h-9zM542 272h1v1h-1zM444 273h1v1h-1zM446 273h1v1h-1zM513 273h4v1h-4zM518 273h1v1h-1zM522 273h6v1h-6zM529 273h10v1h-10zM543 273h4v1h-4zM559 273h1v1h-1zM444 274h2v1h-2zM512 274h1v1h-1zM514 274h5v1h-5zM521 274h8v1h-8zM530 274h9v1h-9zM544 274h2v1h-2zM547 274h1v1h-1zM557 274h1v1h-1zM559 274h1v1h-1zM444 275h1v1h-1zM512 275h6v1h-6zM519 275h1v1h-1zM522 275h6v1h-6zM529 275h11v1h-11zM543 275h5v1h-5zM556 275h2v1h-2zM572 275h1v1h-1zM444 276h1v1h-1zM511 276h1v1h-1zM513 276h8v1h-8zM522 276h26v1h-26zM554 276h2v1h-2zM557 276h1v1h-1zM459 277h1v1h-1zM512 277h4v1h-4zM517 277h29v1h-29zM547 277h2v1h-2zM552 277h6v1h-6zM443 278h2v1h-2zM446 278h1v1h-1zM458 278h1v1h-1zM505 278h3v1h-3zM512 278h2v1h-2zM515 278h35v1h-35zM552 278h6v1h-6zM559 278h1v1h-1zM575 278h1v1h-1zM443 279h4v1h-4zM504 279h1v1h-1zM506 279h2v1h-2zM510 279h5v1h-5zM516 279h40v1h-40zM557 279h3v1h-3zM575 279h3v1h-3zM443 280h4v1h-4zM504 280h8v1h-8zM514 280h1v1h-1zM516 280h39v1h-39zM559 280h1v1h-1zM572 280h1v1h-1zM576 280h1v1h-1zM443 281h4v1h-4zM505 281h2v1h-2zM508 281h5v1h-5zM514 281h40v1h-40zM555 281h2v1h-2zM559 281h1v1h-1zM562 281h2v1h-2zM565 281h1v1h-1zM574 281h2v1h-2zM577 281h1v1h-1zM443 282h2v1h-2zM446 282h1v1h-1zM509 282h8v1h-8zM518 282h46v1h-46zM565 282h1v1h-1zM574 282h1v1h-1zM578 282h1v1h-1zM443 283h4v1h-4zM508 283h7v1h-7zM516 283h46v1h-46zM563 283h4v1h-4zM575 283h2v1h-2zM579 283h2v1h-2zM444 284h1v1h-1zM446 284h1v1h-1zM507 284h1v1h-1zM510 284h3v1h-3zM514 284h55v1h-55zM574 284h2v1h-2zM578 284h1v1h-1zM443 285h2v1h-2zM446 285h1v1h-1zM509 285h2v1h-2zM512 285h58v1h-58zM571 285h9v1h-9zM444 286h1v1h-1zM446 286h1v1h-1zM502 286h1v1h-1zM506 286h3v1h-3zM513 286h51v1h-51zM565 286h16v1h-16zM583 286h1v1h-1zM586 286h1v1h-1zM443 287h2v1h-2zM446 287h1v1h-1zM500 287h1v1h-1zM507 287h3v1h-3zM511 287h66v1h-66zM578 287h3v1h-3zM584 287h1v1h-1zM444 288h3v1h-3zM456 288h1v1h-1zM459 288h1v1h-1zM492 288h2v1h-2zM501 288h1v1h-1zM508 288h76v1h-76zM444 289h3v1h-3zM452 289h1v1h-1zM502 289h1v1h-1zM508 289h69v1h-69zM578 289h5v1h-5zM584 289h3v1h-3zM589 289h1v1h-1zM443 290h2v1h-2zM446 290h1v1h-1zM457 290h3v1h-3zM491 290h2v1h-2zM500 290h77v1h-77zM578 290h8v1h-8zM443 291h4v1h-4zM456 291h1v1h-1zM459 291h1v1h-1zM461 291h1v1h-1zM492 291h2v1h-2zM498 291h2v1h-2zM501 291h4v1h-4zM506 291h82v1h-82zM590 291h2v1h-2zM444 292h3v1h-3zM454 292h1v1h-1zM500 292h21v1h-21zM522 292h61v1h-61zM584 292h6v1h-6zM446 293h1v1h-1zM497 293h1v1h-1zM499 293h2v1h-2zM502 293h87v1h-87zM446 294h1v1h-1zM499 294h1v1h-1zM504 294h86v1h-86zM443 295h1v1h-1zM446 295h1v1h-1zM492 295h1v1h-1zM498 295h7v1h-7zM506 295h85v1h-85zM492 296h2v1h-2zM498 296h1v1h-1zM500 296h14v1h-14zM516 296h74v1h-74zM600 296h2v1h-2zM443 297h2v1h-2zM446 297h1v1h-1zM493 297h2v1h-2zM496 297h2v1h-2zM499 297h17v1h-17zM518 297h72v1h-72zM591 297h5v1h-5zM599 297h2v1h-2zM443 298h2v1h-2zM446 298h1v1h-1zM494 298h1v1h-1zM497 298h21v1h-21zM519 298h76v1h-76zM598 298h1v1h-1zM600 298h2v1h-2zM444 299h3v1h-3zM480 299h2v1h-2zM484 299h1v1h-1zM494 299h5v1h-5zM501 299h10v1h-10zM512 299h6v1h-6zM519 299h25v1h-25zM545 299h50v1h-50zM444 300h3v1h-3zM483 300h1v1h-1zM494 300h1v1h-1zM496 300h2v1h-2zM499 300h9v1h-9zM509 300h1v1h-1zM512 300h6v1h-6zM519 300h18v1h-18zM538 300h1v1h-1zM540 300h56v1h-56zM443 301h4v1h-4zM482 301h2v1h-2zM491 301h2v1h-2zM495 301h4v1h-4zM501 301h9v1h-9zM512 301h21v1h-21zM534 301h1v1h-1zM536 301h60v1h-60zM597 301h2v1h-2zM444 302h1v1h-1zM446 302h1v1h-1zM477 302h1v1h-1zM481 302h1v1h-1zM484 302h1v1h-1zM491 302h9v1h-9zM502 302h4v1h-4zM507 302h2v1h-2zM510 302h21v1h-21zM532 302h9v1h-9zM542 302h5v1h-5zM548 302h10v1h-10zM559 302h42v1h-42zM443 303h2v1h-2zM446 303h1v1h-1zM490 303h1v1h-1zM492 303h7v1h-7zM501 303h4v1h-4zM509 303h14v1h-14zM525 303h7v1h-7zM533 303h1v1h-1zM536 303h1v1h-1zM538 303h2v1h-2zM541 303h1v1h-1zM544 303h5v1h-5zM550 303h6v1h-6zM557 303h2v1h-2zM561 303h39v1h-39zM443 304h2v1h-2zM446 304h1v1h-1zM477 304h1v1h-1zM480 304h2v1h-2zM483 304h2v1h-2zM486 304h2v1h-2zM489 304h13v1h-13zM504 304h1v1h-1zM508 304h16v1h-16zM527 304h5v1h-5zM534 304h1v1h-1zM536 304h6v1h-6zM544 304h5v1h-5zM553 304h1v1h-1zM556 304h1v1h-1zM560 304h6v1h-6zM567 304h35v1h-35zM444 305h3v1h-3zM478 305h1v1h-1zM480 305h2v1h-2zM488 305h13v1h-13zM503 305h1v1h-1zM506 305h16v1h-16zM523 305h2v1h-2zM526 305h1v1h-1zM528 305h2v1h-2zM531 305h1v1h-1zM538 305h3v1h-3zM544 305h4v1h-4zM555 305h2v1h-2zM559 305h1v1h-1zM561 305h4v1h-4zM566 305h36v1h-36zM443 306h4v1h-4zM459 306h1v1h-1zM479 306h1v1h-1zM482 306h2v1h-2zM485 306h1v1h-1zM487 306h17v1h-17zM509 306h11v1h-11zM521 306h2v1h-2zM524 306h2v1h-2zM527 306h4v1h-4zM538 306h2v1h-2zM544 306h1v1h-1zM546 306h1v1h-1zM548 306h1v1h-1zM556 306h3v1h-3zM561 306h4v1h-4zM569 306h34v1h-34zM443 307h2v1h-2zM446 307h1v1h-1zM479 307h2v1h-2zM483 307h21v1h-21zM506 307h2v1h-2zM510 307h11v1h-11zM522 307h7v1h-7zM534 307h2v1h-2zM538 307h1v1h-1zM540 307h1v1h-1zM557 307h1v1h-1zM559 307h1v1h-1zM561 307h2v1h-2zM564 307h2v1h-2zM568 307h4v1h-4zM573 307h31v1h-31zM443 308h4v1h-4zM478 308h4v1h-4zM483 308h4v1h-4zM488 308h1v1h-1zM490 308h2v1h-2zM493 308h18v1h-18zM512 308h5v1h-5zM518 308h10v1h-10zM529 308h1v1h-1zM532 308h2v1h-2zM535 308h3v1h-3zM556 308h1v1h-1zM559 308h1v1h-1zM567 308h1v1h-1zM574 308h31v1h-31zM444 309h3v1h-3zM459 309h1v1h-1zM471 309h1v1h-1zM477 309h14v1h-14zM492 309h7v1h-7zM502 309h5v1h-5zM509 309h1v1h-1zM511 309h2v1h-2zM514 309h2v1h-2zM521 309h1v1h-1zM523 309h5v1h-5zM529 309h2v1h-2zM536 309h2v1h-2zM566 309h2v1h-2zM572 309h1v1h-1zM574 309h31v1h-31zM443 310h4v1h-4zM478 310h6v1h-6zM486 310h4v1h-4zM491 310h6v1h-6zM498 310h3v1h-3zM503 310h12v1h-12zM516 310h1v1h-1zM520 310h1v1h-1zM522 310h7v1h-7zM530 310h1v1h-1zM535 310h2v1h-2zM572 310h3v1h-3zM577 310h9v1h-9zM587 310h16v1h-16zM604 310h1v1h-1zM443 311h4v1h-4zM475 311h1v1h-1zM478 311h4v1h-4zM483 311h1v1h-1zM486 311h13v1h-13zM502 311h1v1h-1zM504 311h2v1h-2zM507 311h10v1h-10zM519 311h1v1h-1zM522 311h4v1h-4zM527 311h4v1h-4zM532 311h2v1h-2zM535 311h1v1h-1zM572 311h3v1h-3zM577 311h1v1h-1zM580 311h5v1h-5zM586 311h19v1h-19zM444 312h3v1h-3zM474 312h1v1h-1zM477 312h1v1h-1zM479 312h1v1h-1zM482 312h1v1h-1zM484 312h1v1h-1zM486 312h6v1h-6zM494 312h5v1h-5zM501 312h1v1h-1zM509 312h7v1h-7zM518 312h3v1h-3zM522 312h9v1h-9zM532 312h1v1h-1zM534 312h1v1h-1zM536 312h2v1h-2zM572 312h1v1h-1zM575 312h1v1h-1zM578 312h1v1h-1zM580 312h1v1h-1zM582 312h2v1h-2zM585 312h1v1h-1zM588 312h15v1h-15zM443 313h2v1h-2zM446 313h1v1h-1zM466 313h3v1h-3zM470 313h5v1h-5zM479 313h1v1h-1zM481 313h2v1h-2zM484 313h9v1h-9zM495 313h5v1h-5zM503 313h1v1h-1zM508 313h8v1h-8zM518 313h6v1h-6zM525 313h2v1h-2zM528 313h6v1h-6zM535 313h2v1h-2zM578 313h1v1h-1zM584 313h1v1h-1zM587 313h17v1h-17zM444 314h1v1h-1zM467 314h4v1h-4zM472 314h1v1h-1zM475 314h1v1h-1zM481 314h1v1h-1zM483 314h10v1h-10zM494 314h2v1h-2zM508 314h1v1h-1zM511 314h7v1h-7zM520 314h5v1h-5zM527 314h5v1h-5zM534 314h2v1h-2zM584 314h1v1h-1zM586 314h1v1h-1zM589 314h16v1h-16zM443 315h2v1h-2zM446 315h1v1h-1zM455 315h1v1h-1zM467 315h4v1h-4zM472 315h2v1h-2zM478 315h9v1h-9zM489 315h1v1h-1zM492 315h1v1h-1zM496 315h1v1h-1zM507 315h7v1h-7zM516 315h10v1h-10zM527 315h4v1h-4zM585 315h1v1h-1zM591 315h13v1h-13zM444 316h3v1h-3zM459 316h1v1h-1zM467 316h2v1h-2zM470 316h1v1h-1zM473 316h2v1h-2zM477 316h2v1h-2zM480 316h10v1h-10zM492 316h5v1h-5zM506 316h14v1h-14zM521 316h2v1h-2zM524 316h2v1h-2zM527 316h5v1h-5zM590 316h14v1h-14zM443 317h4v1h-4zM453 317h1v1h-1zM461 317h1v1h-1zM467 317h25v1h-25zM493 317h2v1h-2zM499 317h3v1h-3zM505 317h6v1h-6zM512 317h7v1h-7zM520 317h1v1h-1zM523 317h2v1h-2zM527 317h1v1h-1zM529 317h2v1h-2zM592 317h1v1h-1zM594 317h10v1h-10zM443 318h4v1h-4zM460 318h2v1h-2zM466 318h30v1h-30zM498 318h6v1h-6zM506 318h7v1h-7zM514 318h5v1h-5zM522 318h4v1h-4zM527 318h1v1h-1zM529 318h1v1h-1zM531 318h1v1h-1zM590 318h14v1h-14zM444 319h3v1h-3zM453 319h1v1h-1zM459 319h2v1h-2zM462 319h1v1h-1zM465 319h31v1h-31zM499 319h11v1h-11zM511 319h2v1h-2zM514 319h7v1h-7zM522 319h10v1h-10zM592 319h1v1h-1zM596 319h8v1h-8zM443 320h4v1h-4zM452 320h1v1h-1zM454 320h1v1h-1zM459 320h19v1h-19zM480 320h17v1h-17zM498 320h6v1h-6zM505 320h3v1h-3zM509 320h2v1h-2zM512 320h3v1h-3zM516 320h3v1h-3zM520 320h1v1h-1zM523 320h7v1h-7zM595 320h9v1h-9zM443 321h4v1h-4zM453 321h2v1h-2zM458 321h18v1h-18zM481 321h1v1h-1zM483 321h14v1h-14zM498 321h10v1h-10zM509 321h10v1h-10zM520 321h3v1h-3zM524 321h6v1h-6zM533 321h1v1h-1zM595 321h9v1h-9zM444 322h3v1h-3zM452 322h4v1h-4zM459 322h17v1h-17zM480 322h1v1h-1zM483 322h30v1h-30zM514 322h1v1h-1zM516 322h5v1h-5zM522 322h2v1h-2zM525 322h4v1h-4zM533 322h2v1h-2zM537 322h1v1h-1zM540 322h1v1h-1zM595 322h9v1h-9zM443 323h2v1h-2zM446 323h2v1h-2zM452 323h1v1h-1zM454 323h2v1h-2zM459 323h17v1h-17zM480 323h1v1h-1zM483 323h7v1h-7zM492 323h12v1h-12zM505 323h10v1h-10zM516 323h6v1h-6zM523 323h6v1h-6zM538 323h2v1h-2zM597 323h5v1h-5zM443 324h4v1h-4zM453 324h5v1h-5zM459 324h20v1h-20zM480 324h10v1h-10zM491 324h1v1h-1zM493 324h15v1h-15zM509 324h14v1h-14zM524 324h2v1h-2zM536 324h4v1h-4zM541 324h1v1h-1zM597 324h6v1h-6zM444 325h3v1h-3zM450 325h1v1h-1zM453 325h1v1h-1zM455 325h19v1h-19zM475 325h13v1h-13zM489 325h31v1h-31zM521 325h3v1h-3zM525 325h5v1h-5zM531 325h1v1h-1zM537 325h4v1h-4zM597 325h5v1h-5zM443 326h2v1h-2zM446 326h2v1h-2zM450 326h3v1h-3zM454 326h25v1h-25zM480 326h42v1h-42zM523 326h8v1h-8zM538 326h2v1h-2zM598 326h3v1h-3zM443 327h4v1h-4zM451 327h70v1h-70zM522 327h3v1h-3zM526 327h7v1h-7zM539 327h1v1h-1zM598 327h3v1h-3zM444 328h3v1h-3zM450 328h18v1h-18zM469 328h2v1h-2zM472 328h6v1h-6zM479 328h16v1h-16zM496 328h4v1h-4zM501 328h16v1h-16zM518 328h16v1h-16zM536 328h1v1h-1zM538 328h1v1h-1zM443 329h4v1h-4zM451 329h26v1h-26zM478 329h24v1h-24zM503 329h5v1h-5zM510 329h29v1h-29zM443 330h2v1h-2zM446 330h1v1h-1zM451 330h56v1h-56zM508 330h1v1h-1zM510 330h6v1h-6zM517 330h14v1h-14zM533 330h5v1h-5zM444 331h3v1h-3zM452 331h62v1h-62zM515 331h8v1h-8zM524 331h2v1h-2zM527 331h1v1h-1zM533 331h1v1h-1zM535 331h3v1h-3zM444 332h3v1h-3zM450 332h78v1h-78zM529 332h1v1h-1zM534 332h2v1h-2zM537 332h2v1h-2zM600 332h1v1h-1zM443 333h4v1h-4zM451 333h73v1h-73zM525 333h3v1h-3zM529 333h2v1h-2zM533 333h1v1h-1zM599 333h1v1h-1zM443 334h4v1h-4zM451 334h75v1h-75zM527 334h4v1h-4zM532 334h1v1h-1zM535 334h1v1h-1zM443 335h4v1h-4zM451 335h71v1h-71zM523 335h9v1h-9zM533 335h2v1h-2zM443 336h4v1h-4zM449 336h1v1h-1zM451 336h46v1h-46zM498 336h14v1h-14zM513 336h11v1h-11zM527 336h8v1h-8zM536 336h1v1h-1zM444 337h4v1h-4zM450 337h46v1h-46zM497 337h24v1h-24zM522 337h1v1h-1zM526 337h5v1h-5zM532 337h1v1h-1zM534 337h2v1h-2zM443 338h5v1h-5zM449 338h81v1h-81zM532 338h1v1h-1zM534 338h1v1h-1zM443 339h43v1h-43zM487 339h32v1h-32zM520 339h2v1h-2zM523 339h9v1h-9zM534 339h1v1h-1zM443 340h5v1h-5zM449 340h52v1h-52zM502 340h28v1h-28zM443 341h55v1h-55zM499 341h2v1h-2zM502 341h26v1h-26zM443 342h86v1h-86zM443 343h76v1h-76zM520 343h8v1h-8zM529 343h2v1h-2zM444 344h81v1h-81zM526 344h5v1h-5zM443 345h87v1h-87zM443 346h88v1h-88zM443 347h86v1h-86zM530 347h1v1h-1zM443 348h85v1h-85zM529 348h1v1h-1zM443 349h84v1h-84zM528 349h2v1h-2zM444 350h80v1h-80zM528 350h1v1h-1zM443 351h81v1h-81zM443 352h81v1h-81zM444 353h36v1h-36zM482 353h6v1h-6zM490 353h22v1h-22zM513 353h4v1h-4zM518 353h1v1h-1zM520 353h2v1h-2zM523 353h1v1h-1zM446 354h1v1h-1zM448 354h1v1h-1zM450 354h21v1h-21zM472 354h1v1h-1zM474 354h1v1h-1zM477 354h1v1h-1zM483 354h4v1h-4zM492 354h1v1h-1zM495 354h1v1h-1zM497 354h1v1h-1zM500 354h4v1h-4zM509 354h2v1h-2zM512 354h1v1h-1zM515 354h1v1h-1zM517 354h1v1h-1z" fill="#ff0000"/><path d="M526.1 346.0l3.1 3.1m0-3.1l-3.1 3.1M528.6 327.5l3.1 3.1m0-3.1l-3.1 3.1M515.1 317.7l3.1 3.1m0-3.1l-3.1 3.1M510.1 314.3l3.1 3.1m0-3.1l-3.1 3.1M472.1 315.4l3.1 3.1m0-3.1l-3.1 3.1M497.6 351.8l3.1 3.1m0-3.1l-3.1 3.1M486.6 336.9l3.1 3.1m0-3.1l-3.1 3.1M521.8 347.6l3.1 3.1m0-3.1l-3.1 3.1M533.4 305.7l3.1 3.1m0-3.1l-3.1 3.1M523.2 330.6l3.1 3.1m0-3.1l-3.1 3.1M519.2 306.6l3.1 3.1m0-3.1l-3.1 3.1M523.1 333.9l3.1 3.1m0-3.1l-3.1 3.1M495.5 320.8l3.1 3.1m0-3.1l-3.1 3.1M524.8 346.2l3.1 3.1m0-3.1l-3.1 3.1M541.8 303.6l3.1 3.1m0-3.1l-3.1 3.1M501.2 261.3l3.1 3.1m0-3.1l-3.1 3.1M495.8 351.7l3.1 3.1m0-3.1l-3.1 3.1M506.5 287.8l3.1 3.1m0-3.1l-3.1 3.1M453.3 352.0l3.1 3.1m0-3.1l-3.1 3.1M519.5 332.2l3.1 3.1m0-3.1l-3.1 3.1M527.0 324.4l3.1 3.1m0-3.1l-3.1 3.1M509.7 317.0l3.1 3.1m0-3.1l-3.1 3.1M528.5 327.4l3.1 3.1m0-3.1l-3.1 3.1M528.6 316.8l3.1 3.1m0-3.1l-3.1 3.1M489.7 291.1l3.1 3.1m0-3.1l-3.1 3.1M527.7 309.6l3.1 3.1m0-3.1l-3.1 3.1M475.3 301.3l3.1 3.1m0-3.1l-3.1 3.1M544.1 317.5l3.1 3.1m0-3.1l-3.1 3.1M492.3 351.6l3.1 3.1m0-3.1l-3.1 3.1M492.7 309.4l3.1 3.1m0-3.1l-3.1 3.1M482.6 322.7l3.1 3.1m0-3.1l-3.1 3.1M515.0 305.6l3.1 3.1m0-3.1l-3.1 3.1M517.6 319.3l3.1 3.1m0-3.1l-3.1 3.1M526.4 334.4l3.1 3.1m0-3.1l-3.1 3.1M525.6 309.6l3.1 3.1m0-3.1l-3.1 3.1M529.2 305.5l3.1 3.1m0-3.1l-3.1 3.1M534.4 309.4l3.1 3.1m0-3.1l-3.1 3.1M451.1 328.8l3.1 3.1m0-3.1l-3.1 3.1M527.1 320.5l3.1 3.1m0-3.1l-3.1 3.1M464.4 318.5l3.1 3.1m0-3.1l-3.1 3.1M538.6 325.3l3.1 3.1m0-3.1l-3.1 3.1M509.3 330.0l3.1 3.1m0-3.1l-3.1 3.1M517.4 311.7l3.1 3.1m0-3.1l-3.1 3.1M507.4 322.0l3.1 3.1m0-3.1l-3.1 3.1M513.1 310.7l3.1 3.1m0-3.1l-3.1 3.1M533.2 329.9l3.1 3.1m0-3.1l-3.1 3.1M508.0 330.5l3.1 3.1m0-3.1l-3.1 3.1M505.1 320.3l3.1 3.1m0-3.1l-3.1 3.1M515.0 309.1l3.1 3.1m0-3.1l-3.1 3.1M489.4 350.8l3.1 3.1m0-3.1l-3.1 3.1M533.3 333.1l3.1 3.1m0-3.1l-3.1 3.1M534.8 339.8l3.1 3.1m0-3.1l-3.1 3.1M531.0 300.9l3.1 3.1m0-3.1l-3.1 3.1M510.5 301.1l3.1 3.1m0-3.1l-3.1 3.1M534.5 311.7l3.1 3.1m0-3.1l-3.1 3.1M492.3 324.2l3.1 3.1m0-3.1l-3.1 3.1M509.0 279.4l3.1 3.1m0-3.1l-3.1 3.1M482.9 320.7l3.1 3.1m0-3.1l-3.1 3.1M506.9 320.1l3.1 3.1m0-3.1l-3.1 3.1M495.7 338.5l3.1 3.1m0-3.1l-3.1 3.1M531.3 319.6l3.1 3.1m0-3.1l-3.1 3.1M500.5 301.4l3.1 3.1m0-3.1l-3.1 3.1M524.2 314.2l3.1 3.1m0-3.1l-3.1 3.1M519.0 313.3l3.1 3.1m0-3.1l-3.1 3.1M528.0 265.0l3.1 3.1m0-3.1l-3.1 3.1M526.7 340.4l3.1 3.1m0-3.1l-3.1 3.1M520.5 337.8l3.1 3.1m0-3.1l-3.1 3.1M522.4 316.7l3.1 3.1m0-3.1l-3.1 3.1M506.2 313.9l3.1 3.1m0-3.1l-3.1 3.1M485.8 350.2l3.1 3.1m0-3.1l-3.1 3.1M503.4 321.9l3.1 3.1m0-3.1l-3.1 3.1M472.3 351.3l3.1 3.1m0-3.1l-3.1 3.1M524.5 330.8l3.1 3.1m0-3.1l-3.1 3.1M454.5 323.9l3.1 3.1m0-3.1l-3.1 3.1M517.7 323.1l3.1 3.1m0-3.1l-3.1 3.1M512.8 351.3l3.1 3.1m0-3.1l-3.1 3.1M510.6 308.9l3.1 3.1m0-3.1l-3.1 3.1M519.1 320.8l3.1 3.1m0-3.1l-3.1 3.1M532.3 334.4l3.1 3.1m0-3.1l-3.1 3.1M522.2 338.8l3.1 3.1m0-3.1l-3.1 3.1M509.5 327.6l3.1 3.1m0-3.1l-3.1 3.1M459.8 352.1l3.1 3.1m0-3.1l-3.1 3.1M523.0 309.6l3.1 3.1m0-3.1l-3.1 3.1M526.9 262.8l3.1 3.1m0-3.1l-3.1 3.1M468.5 308.8l3.1 3.1m0-3.1l-3.1 3.1M527.2 338.1l3.1 3.1m0-3.1l-3.1 3.1M532.9 311.1l3.1 3.1m0-3.1l-3.1 3.1M522.3 306.5l3.1 3.1m0-3.1l-3.1 3.1M475.9 325.5l3.1 3.1m0-3.1l-3.1 3.1M505.1 328.0l3.1 3.1m0-3.1l-3.1 3.1M527.5 317.7l3.1 3.1m0-3.1l-3.1 3.1M504.4 302.7l3.1 3.1m0-3.1l-3.1 3.1M503.7 303.5l3.1 3.1m0-3.1l-3.1 3.1M495.1 307.6l3.1 3.1m0-3.1l-3.1 3.1M494.5 321.5l3.1 3.1m0-3.1l-3.1 3.1M491.2 307.8l3.1 3.1m0-3.1l-3.1 3.1M534.0 336.5l3.1 3.1m0-3.1l-3.1 3.1M497.1 328.7l3.1 3.1m0-3.1l-3.1 3.1M518.4 334.0l3.1 3.1m0-3.1l-3.1 3.1M458.4 352.1l3.1 3.1m0-3.1l-3.1 3.1M517.4 304.0l3.1 3.1m0-3.1l-3.1 3.1M507.4 323.4l3.1 3.1m0-3.1l-3.1 3.1M533.9 328.8l3.1 3.1m0-3.1l-3.1 3.1M488.6 323.7l3.1 3.1m0-3.1l-3.1 3.1M477.7 328.9l3.1 3.1m0-3.1l-3.1 3.1M507.0 279.9l3.1 3.1m0-3.1l-3.1 3.1M477.9 351.1l3.1 3.1m0-3.1l-3.1 3.1M533.7 309.8l3.1 3.1m0-3.1l-3.1 3.1M469.0 351.7l3.1 3.1m0-3.1l-3.1 3.1M526.3 336.8l3.1 3.1m0-3.1l-3.1 3.1M526.8 334.4l3.1 3.1m0-3.1l-3.1 3.1M520.0 319.2l3.1 3.1m0-3.1l-3.1 3.1M504.7 314.4l3.1 3.1m0-3.1l-3.1 3.1M530.3 330.5l3.1 3.1m0-3.1l-3.1 3.1M504.8 316.9l3.1 3.1m0-3.1l-3.1 3.1M524.3 309.1l3.1 3.1m0-3.1l-3.1 3.1M522.6 346.9l3.1 3.1m0-3.1l-3.1 3.1M531.9 329.2l3.1 3.1m0-3.1l-3.1 3.1M542.5 313.6l3.1 3.1m0-3.1l-3.1 3.1M496.4 300.6l3.1 3.1m0-3.1l-3.1 3.1M450.1 333.3l3.1 3.1m0-3.1l-3.1 3.1M518.2 351.4l3.1 3.1m0-3.1l-3.1 3.1M518.2 338.8l3.1 3.1m0-3.1l-3.1 3.1M515.5 253.2l3.1 3.1m0-3.1l-3.1 3.1M520.6 326.8l3.1 3.1m0-3.1l-3.1 3.1M530.3 311.4l3.1 3.1m0-3.1l-3.1 3.1M531.2 324.9l3.1 3.1m0-3.1l-3.1 3.1M533.4 300.3l3.1 3.1m0-3.1l-3.1 3.1M509.7 318.1l3.1 3.1m0-3.1l-3.1 3.1M536.3 323.9l3.1 3.1m0-3.1l-3.1 3.1M506.9 352.1l3.1 3.1m0-3.1l-3.1 3.1M545.1 311.3l3.1 3.1m0-3.1l-3.1 3.1M481.7 350.9l3.1 3.1m0-3.1l-3.1 3.1M465.7 317.5l3.1 3.1m0-3.1l-3.1 3.1M519.7 302.6l3.1 3.1m0-3.1l-3.1 3.1M506.3 351.4l3.1 3.1m0-3.1l-3.1 3.1M521.7 312.1l3.1 3.1m0-3.1l-3.1 3.1M529.1 314.0l3.1 3.1m0-3.1l-3.1 3.1M514.8 326.6l3.1 3.1m0-3.1l-3.1 3.1M482.6 319.2l3.1 3.1m0-3.1l-3.1 3.1M453.1 314.9l3.1 3.1m0-3.1l-3.1 3.1M500.1 339.0l3.1 3.1m0-3.1l-3.1 3.1M515.0 326.4l3.1 3.1m0-3.1l-3.1 3.1M481.9 304.9l3.1 3.1m0-3.1l-3.1 3.1M507.1 351.9l3.1 3.1m0-3.1l-3.1 3.1M471.3 309.4l3.1 3.1m0-3.1l-3.1 3.1M511.7 318.8l3.1 3.1m0-3.1l-3.1 3.1M516.0 340.9l3.1 3.1m0-3.1l-3.1 3.1M522.8 349.4l3.1 3.1m0-3.1l-3.1 3.1M484.0 339.5l3.1 3.1m0-3.1l-3.1 3.1M509.8 330.1l3.1 3.1m0-3.1l-3.1 3.1M532.8 313.7l3.1 3.1m0-3.1l-3.1 3.1M450.8 326.5l3.1 3.1m0-3.1l-3.1 3.1M465.5 308.6l3.1 3.1m0-3.1l-3.1 3.1M533.5 305.1l3.1 3.1m0-3.1l-3.1 3.1M512.0 335.5l3.1 3.1m0-3.1l-3.1 3.1M480.7 318.6l3.1 3.1m0-3.1l-3.1 3.1M536.8 328.4l3.1 3.1m0-3.1l-3.1 3.1M487.6 306.3l3.1 3.1m0-3.1l-3.1 3.1M498.5 306.1l3.1 3.1m0-3.1l-3.1 3.1M535.5 317.9l3.1 3.1m0-3.1l-3.1 3.1M500.2 284.0l3.1 3.1m0-3.1l-3.1 3.1M522.1 308.9l3.1 3.1m0-3.1l-3.1 3.1M530.2 311.2l3.1 3.1m0-3.1l-3.1 3.1M528.7 311.1l3.1 3.1m0-3.1l-3.1 3.1M470.9 293.5l3.1 3.1m0-3.1l-3.1 3.1M502.2 300.4l3.1 3.1m0-3.1l-3.1 3.1M496.9 312.3l3.1 3.1m0-3.1l-3.1 3.1M470.3 351.3l3.1 3.1m0-3.1l-3.1 3.1M484.5 307.3l3.1 3.1m0-3.1l-3.1 3.1M488.8 351.5l3.1 3.1m0-3.1l-3.1 3.1M500.9 318.7l3.1 3.1m0-3.1l-3.1 3.1M512.4 322.4l3.1 3.1m0-3.1l-3.1 3.1M514.9 272.7l3.1 3.1m0-3.1l-3.1 3.1M495.3 288.2l3.1 3.1m0-3.1l-3.1 3.1M521.1 327.9l3.1 3.1m0-3.1l-3.1 3.1M491.2 322.0l3.1 3.1m0-3.1l-3.1 3.1M520.7 309.2l3.1 3.1m0-3.1l-3.1 3.1M467.5 301.9l3.1 3.1m0-3.1l-3.1 3.1M511.8 314.9l3.1 3.1m0-3.1l-3.1 3.1M507.4 307.7l3.1 3.1m0-3.1l-3.1 3.1M513.5 306.1l3.1 3.1m0-3.1l-3.1 3.1M518.3 315.2l3.1 3.1m0-3.1l-3.1 3.1M481.9 313.8l3.1 3.1m0-3.1l-3.1 3.1M502.7 311.4l3.1 3.1m0-3.1l-3.1 3.1M505.0 308.2l3.1 3.1m0-3.1l-3.1 3.1M507.0 323.5l3.1 3.1m0-3.1l-3.1 3.1M540.2 321.8l3.1 3.1m0-3.1l-3.1 3.1M515.2 321.8l3.1 3.1m0-3.1l-3.1 3.1M528.9 328.5l3.1 3.1m0-3.1l-3.1 3.1M494.5 311.8l3.1 3.1m0-3.1l-3.1 3.1M513.4 297.8l3.1 3.1m0-3.1l-3.1 3.1M518.4 305.7l3.1 3.1m0-3.1l-3.1 3.1M514.4 274.5l3.1 3.1m0-3.1l-3.1 3.1M483.2 313.8l3.1 3.1m0-3.1l-3.1 3.1M537.6 322.5l3.1 3.1m0-3.1l-3.1 3.1M479.0 312.2l3.1 3.1m0-3.1l-3.1 3.1M519.0 342.5l3.1 3.1m0-3.1l-3.1 3.1M518.5 310.8l3.1 3.1m0-3.1l-3.1 3.1M489.9 272.7l3.1 3.1m0-3.1l-3.1 3.1M520.2 314.7l3.1 3.1m0-3.1l-3.1 3.1M522.7 331.7l3.1 3.1m0-3.1l-3.1 3.1M520.9 302.7l3.1 3.1m0-3.1l-3.1 3.1M476.7 351.9l3.1 3.1m0-3.1l-3.1 3.1M520.9 320.8l3.1 3.1m0-3.1l-3.1 3.1M505.3 309.8l3.1 3.1m0-3.1l-3.1 3.1M506.8 303.8l3.1 3.1m0-3.1l-3.1 3.1M527.6 309.6l3.1 3.1m0-3.1l-3.1 3.1M518.9 321.9l3.1 3.1m0-3.1l-3.1 3.1M522.1 312.6l3.1 3.1m0-3.1l-3.1 3.1M508.9 308.3l3.1 3.1m0-3.1l-3.1 3.1M524.2 329.6l3.1 3.1m0-3.1l-3.1 3.1M538.5 323.5l3.1 3.1m0-3.1l-3.1 3.1M526.4 320.6l3.1 3.1m0-3.1l-3.1 3.1M522.4 231.6l3.1 3.1m0-3.1l-3.1 3.1M491.1 315.0l3.1 3.1m0-3.1l-3.1 3.1M465.3 318.8l3.1 3.1m0-3.1l-3.1 3.1M542.6 310.9l3.1 3.1m0-3.1l-3.1 3.1M485.5 280.8l3.1 3.1m0-3.1l-3.1 3.1M496.9 297.6l3.1 3.1m0-3.1l-3.1 3.1M506.3 305.2l3.1 3.1m0-3.1l-3.1 3.1M515.2 305.6l3.1 3.1m0-3.1l-3.1 3.1M511.0 269.3l3.1 3.1m0-3.1l-3.1 3.1M491.8 312.7l3.1 3.1m0-3.1l-3.1 3.1M475.5 321.9l3.1 3.1m0-3.1l-3.1 3.1M520.3 336.2l3.1 3.1m0-3.1l-3.1 3.1M538.2 343.6l3.1 3.1m0-3.1l-3.1 3.1M525.9 303.2l3.1 3.1m0-3.1l-3.1 3.1M506.4 289.3l3.1 3.1m0-3.1l-3.1 3.1M481.3 304.4l3.1 3.1m0-3.1l-3.1 3.1M537.7 322.1l3.1 3.1m0-3.1l-3.1 3.1M507.8 303.2l3.1 3.1m0-3.1l-3.1 3.1M507.1 326.2l3.1 3.1m0-3.1l-3.1 3.1M474.1 300.1l3.1 3.1m0-3.1l-3.1 3.1M509.7 352.1l3.1 3.1m0-3.1l-3.1 3.1M504.9 318.9l3.1 3.1m0-3.1l-3.1 3.1M529.9 344.2l3.1 3.1m0-3.1l-3.1 3.1M524.6 346.4l3.1 3.1m0-3.1l-3.1 3.1M478.4 297.3l3.1 3.1m0-3.1l-3.1 3.1M512.9 321.0l3.1 3.1m0-3.1l-3.1 3.1M498.6 317.1l3.1 3.1m0-3.1l-3.1 3.1M452.2 320.1l3.1 3.1m0-3.1l-3.1 3.1M486.1 324.3l3.1 3.1m0-3.1l-3.1 3.1M490.0 308.9l3.1 3.1m0-3.1l-3.1 3.1M523.0 322.2l3.1 3.1m0-3.1l-3.1 3.1M501.4 269.1l3.1 3.1m0-3.1l-3.1 3.1M525.4 340.0l3.1 3.1m0-3.1l-3.1 3.1M543.7 303.6l3.1 3.1m0-3.1l-3.1 3.1M516.1 352.1l3.1 3.1m0-3.1l-3.1 3.1M537.3 325.2l3.1 3.1m0-3.1l-3.1 3.1M529.9 341.0l3.1 3.1m0-3.1l-3.1 3.1M493.5 315.7l3.1 3.1m0-3.1l-3.1 3.1M478.5 305.9l3.1 3.1m0-3.1l-3.1 3.1M514.8 297.5l3.1 3.1m0-3.1l-3.1 3.1M478.6 310.5l3.1 3.1m0-3.1l-3.1 3.1M523.5 351.9l3.1 3.1m0-3.1l-3.1 3.1M526.7 332.4l3.1 3.1m0-3.1l-3.1 3.1M483.6 306.6l3.1 3.1m0-3.1l-3.1 3.1M528.5 342.3l3.1 3.1m0-3.1l-3.1 3.1M527.0 342.4l3.1 3.1m0-3.1l-3.1 3.1M531.0 332.7l3.1 3.1m0-3.1l-3.1 3.1M513.8 297.6l3.1 3.1m0-3.1l-3.1 3.1M513.3 312.1l3.1 3.1m0-3.1l-3.1 3.1M501.2 281.4l3.1 3.1m0-3.1l-3.1 3.1M524.1 322.3l3.1 3.1m0-3.1l-3.1 3.1M484.3 339.2l3.1 3.1m0-3.1l-3.1 3.1M477.6 324.4l3.1 3.1m0-3.1l-3.1 3.1M537.1 315.4l3.1 3.1m0-3.1l-3.1 3.1M487.6 322.5l3.1 3.1m0-3.1l-3.1 3.1M452.0 322.4l3.1 3.1m0-3.1l-3.1 3.1M495.3 333.7l3.1 3.1m0-3.1l-3.1 3.1M514.5 317.8l3.1 3.1m0-3.1l-3.1 3.1M491.4 296.2l3.1 3.1m0-3.1l-3.1 3.1M450.0 337.5l3.1 3.1m0-3.1l-3.1 3.1M477.9 322.5l3.1 3.1m0-3.1l-3.1 3.1M529.6 324.8l3.1 3.1m0-3.1l-3.1 3.1M508.4 326.1l3.1 3.1m0-3.1l-3.1 3.1M498.4 327.7l3.1 3.1m0-3.1l-3.1 3.1M535.2 329.8l3.1 3.1m0-3.1l-3.1 3.1M515.8 314.4l3.1 3.1m0-3.1l-3.1 3.1M509.9 301.0l3.1 3.1m0-3.1l-3.1 3.1M475.3 323.7l3.1 3.1m0-3.1l-3.1 3.1M496.6 301.7l3.1 3.1m0-3.1l-3.1 3.1M508.8 283.2l3.1 3.1m0-3.1l-3.1 3.1M534.5 311.6l3.1 3.1m0-3.1l-3.1 3.1M500.7 351.9l3.1 3.1m0-3.1l-3.1 3.1M525.3 258.5l3.1 3.1m0-3.1l-3.1 3.1M480.0 312.3l3.1 3.1m0-3.1l-3.1 3.1M516.7 339.5l3.1 3.1m0-3.1l-3.1 3.1M483.2 337.0l3.1 3.1m0-3.1l-3.1 3.1M490.1 351.7l3.1 3.1m0-3.1l-3.1 3.1M510.5 321.9l3.1 3.1m0-3.1l-3.1 3.1M498.9 315.4l3.1 3.1m0-3.1l-3.1 3.1M499.4 304.8l3.1 3.1m0-3.1l-3.1 3.1M478.7 321.2l3.1 3.1m0-3.1l-3.1 3.1M528.8 318.7l3.1 3.1m0-3.1l-3.1 3.1M513.4 309.0l3.1 3.1m0-3.1l-3.1 3.1M536.5 266.3l3.1 3.1m0-3.1l-3.1 3.1M508.5 351.0l3.1 3.1m0-3.1l-3.1 3.1M500.6 316.2l3.1 3.1m0-3.1l-3.1 3.1M479.6 316.1l3.1 3.1m0-3.1l-3.1 3.1M519.0 332.8l3.1 3.1m0-3.1l-3.1 3.1M521.8 253.0l3.1 3.1m0-3.1l-3.1 3.1M539.2 321.8l3.1 3.1m0-3.1l-3.1 3.1M518.7 339.3l3.1 3.1m0-3.1l-3.1 3.1M474.1 351.4l3.1 3.1m0-3.1l-3.1 3.1M490.9 300.1l3.1 3.1m0-3.1l-3.1 3.1M501.7 326.4l3.1 3.1m0-3.1l-3.1 3.1M513.1 352.0l3.1 3.1m0-3.1l-3.1 3.1M463.4 351.9l3.1 3.1m0-3.1l-3.1 3.1M522.9 304.6l3.1 3.1m0-3.1l-3.1 3.1M502.6 300.3l3.1 3.1m0-3.1l-3.1 3.1M512.4 350.3l3.1 3.1m0-3.1l-3.1 3.1M523.8 299.9l3.1 3.1m0-3.1l-3.1 3.1M530.5 326.7l3.1 3.1m0-3.1l-3.1 3.1M521.7 321.9l3.1 3.1m0-3.1l-3.1 3.1M518.6 298.4l3.1 3.1m0-3.1l-3.1 3.1M509.2 306.2l3.1 3.1m0-3.1l-3.1 3.1M523.9 347.0l3.1 3.1m0-3.1l-3.1 3.1M526.8 332.5l3.1 3.1m0-3.1l-3.1 3.1M471.6 305.6l3.1 3.1m0-3.1l-3.1 3.1M525.4 332.4l3.1 3.1m0-3.1l-3.1 3.1M494.9 351.6l3.1 3.1m0-3.1l-3.1 3.1M514.5 319.3l3.1 3.1m0-3.1l-3.1 3.1M512.5 316.2l3.1 3.1m0-3.1l-3.1 3.1M527.3 343.1l3.1 3.1m0-3.1l-3.1 3.1M522.2 325.4l3.1 3.1m0-3.1l-3.1 3.1M468.9 326.5l3.1 3.1m0-3.1l-3.1 3.1M528.5 313.0l3.1 3.1m0-3.1l-3.1 3.1M500.8 337.6l3.1 3.1m0-3.1l-3.1 3.1M514.0 319.4l3.1 3.1m0-3.1l-3.1 3.1M508.4 312.2l3.1 3.1m0-3.1l-3.1 3.1M509.8 309.7l3.1 3.1m0-3.1l-3.1 3.1M535.9 331.8l3.1 3.1m0-3.1l-3.1 3.1M519.7 319.3l3.1 3.1m0-3.1l-3.1 3.1M508.1 324.3l3.1 3.1m0-3.1l-3.1 3.1M483.4 352.0l3.1 3.1m0-3.1l-3.1 3.1M524.4 317.8l3.1 3.1m0-3.1l-3.1 3.1M517.8 304.6l3.1 3.1m0-3.1l-3.1 3.1M532.5 298.4l3.1 3.1m0-3.1l-3.1 3.1M501.6 352.0l3.1 3.1m0-3.1l-3.1 3.1M523.4 351.0l3.1 3.1m0-3.1l-3.1 3.1M503.7 351.7l3.1 3.1m0-3.1l-3.1 3.1M488.5 350.0l3.1 3.1m0-3.1l-3.1 3.1M474.9 318.4l3.1 3.1m0-3.1l-3.1 3.1M477.0 324.8l3.1 3.1m0-3.1l-3.1 3.1M496.3 315.9l3.1 3.1m0-3.1l-3.1 3.1M517.7 351.1l3.1 3.1m0-3.1l-3.1 3.1M532.0 327.3l3.1 3.1m0-3.1l-3.1 3.1M537.0 322.5l3.1 3.1m0-3.1l-3.1 3.1M499.7 351.4l3.1 3.1m0-3.1l-3.1 3.1M538.3 325.0l3.1 3.1m0-3.1l-3.1 3.1M500.8 305.6l3.1 3.1m0-3.1l-3.1 3.1M528.5 318.7l3.1 3.1m0-3.1l-3.1 3.1M528.7 346.0l3.1 3.1m0-3.1l-3.1 3.1M479.7 287.8l3.1 3.1m0-3.1l-3.1 3.1M520.5 337.9l3.1 3.1m0-3.1l-3.1 3.1M497.6 309.6l3.1 3.1m0-3.1l-3.1 3.1M494.1 297.3l3.1 3.1m0-3.1l-3.1 3.1M535.1 311.9l3.1 3.1m0-3.1l-3.1 3.1M486.7 315.3l3.1 3.1m0-3.1l-3.1 3.1M499.9 305.2l3.1 3.1m0-3.1l-3.1 3.1M488.2 294.1l3.1 3.1m0-3.1l-3.1 3.1M533.3 328.2l3.1 3.1m0-3.1l-3.1 3.1M507.6 320.2l3.1 3.1m0-3.1l-3.1 3.1M512.2 314.2l3.1 3.1m0-3.1l-3.1 3.1M528.3 313.0l3.1 3.1m0-3.1l-3.1 3.1M485.7 301.9l3.1 3.1m0-3.1l-3.1 3.1M526.9 336.3l3.1 3.1m0-3.1l-3.1 3.1M524.7 323.5l3.1 3.1m0-3.1l-3.1 3.1M491.1 299.6l3.1 3.1m0-3.1l-3.1 3.1M511.2 328.0l3.1 3.1m0-3.1l-3.1 3.1M524.2 312.9l3.1 3.1m0-3.1l-3.1 3.1M535.8 314.7l3.1 3.1m0-3.1l-3.1 3.1M484.8 309.6l3.1 3.1m0-3.1l-3.1 3.1M513.2 308.2l3.1 3.1m0-3.1l-3.1 3.1M520.1 305.0l3.1 3.1m0-3.1l-3.1 3.1M522.1 326.0l3.1 3.1m0-3.1l-3.1 3.1M501.0 339.9l3.1 3.1m0-3.1l-3.1 3.1M521.9 273.5l3.1 3.1m0-3.1l-3.1 3.1M512.5 350.3l3.1 3.1m0-3.1l-3.1 3.1M478.0 304.9l3.1 3.1m0-3.1l-3.1 3.1M529.3 348.8l3.1 3.1m0-3.1l-3.1 3.1M482.3 321.8l3.1 3.1m0-3.1l-3.1 3.1M489.3 315.3l3.1 3.1m0-3.1l-3.1 3.1M518.6 350.4l3.1 3.1m0-3.1l-3.1 3.1M502.5 322.7l3.1 3.1m0-3.1l-3.1 3.1M486.8 286.9l3.1 3.1m0-3.1l-3.1 3.1M507.9 317.9l3.1 3.1m0-3.1l-3.1 3.1M516.2 315.3l3.1 3.1m0-3.1l-3.1 3.1M520.5 315.0l3.1 3.1m0-3.1l-3.1 3.1M498.1 325.3l3.1 3.1m0-3.1l-3.1 3.1M499.9 339.8l3.1 3.1m0-3.1l-3.1 3.1M460.7 318.5l3.1 3.1m0-3.1l-3.1 3.1M467.0 313.1l3.1 3.1m0-3.1l-3.1 3.1M522.5 333.5l3.1 3.1m0-3.1l-3.1 3.1M473.5 318.4l3.1 3.1m0-3.1l-3.1 3.1M498.2 309.7l3.1 3.1m0-3.1l-3.1 3.1M514.9 329.1l3.1 3.1m0-3.1l-3.1 3.1M530.3 319.4l3.1 3.1m0-3.1l-3.1 3.1M523.4 337.6l3.1 3.1m0-3.1l-3.1 3.1M525.7 310.6l3.1 3.1m0-3.1l-3.1 3.1M494.3 310.9l3.1 3.1m0-3.1l-3.1 3.1M522.0 333.2l3.1 3.1m0-3.1l-3.1 3.1M495.3 311.1l3.1 3.1m0-3.1l-3.1 3.1M531.9 336.6l3.1 3.1m0-3.1l-3.1 3.1M475.0 327.4l3.1 3.1m0-3.1l-3.1 3.1M517.7 317.6l3.1 3.1m0-3.1l-3.1 3.1M532.7 328.6l3.1 3.1m0-3.1l-3.1 3.1M492.6 313.6l3.1 3.1m0-3.1l-3.1 3.1M495.8 319.7l3.1 3.1m0-3.1l-3.1 3.1M524.5 329.6l3.1 3.1m0-3.1l-3.1 3.1M513.0 329.9l3.1 3.1m0-3.1l-3.1 3.1M528.9 303.4l3.1 3.1m0-3.1l-3.1 3.1M534.0 313.7l3.1 3.1m0-3.1l-3.1 3.1M510.9 312.2l3.1 3.1m0-3.1l-3.1 3.1M480.6 323.3l3.1 3.1m0-3.1l-3.1 3.1M531.7 336.4l3.1 3.1m0-3.1l-3.1 3.1M449.9 330.0l3.1 3.1m0-3.1l-3.1 3.1M525.9 340.2l3.1 3.1m0-3.1l-3.1 3.1M472.2 322.7l3.1 3.1m0-3.1l-3.1 3.1M534.3 322.7l3.1 3.1m0-3.1l-3.1 3.1M520.3 350.5l3.1 3.1m0-3.1l-3.1 3.1M499.1 285.7l3.1 3.1m0-3.1l-3.1 3.1M504.4 307.4l3.1 3.1m0-3.1l-3.1 3.1M524.9 334.9l3.1 3.1m0-3.1l-3.1 3.1M474.2 323.6l3.1 3.1m0-3.1l-3.1 3.1M489.7 312.4l3.1 3.1m0-3.1l-3.1 3.1M521.7 276.5l3.1 3.1m0-3.1l-3.1 3.1M522.2 344.4l3.1 3.1m0-3.1l-3.1 3.1M528.1 314.9l3.1 3.1m0-3.1l-3.1 3.1M481.0 351.5l3.1 3.1m0-3.1l-3.1 3.1M520.7 335.7l3.1 3.1m0-3.1l-3.1 3.1M502.5 286.2l3.1 3.1m0-3.1l-3.1 3.1M479.9 350.4l3.1 3.1m0-3.1l-3.1 3.1M513.0 350.3l3.1 3.1m0-3.1l-3.1 3.1M495.9 318.1l3.1 3.1m0-3.1l-3.1 3.1M505.0 352.1l3.1 3.1m0-3.1l-3.1 3.1M471.4 328.0l3.1 3.1m0-3.1l-3.1 3.1M530.2 316.8l3.1 3.1m0-3.1l-3.1 3.1M467.4 294.9l3.1 3.1m0-3.1l-3.1 3.1M514.4 350.5l3.1 3.1m0-3.1l-3.1 3.1M525.3 332.7l3.1 3.1m0-3.1l-3.1 3.1M478.7 350.4l3.1 3.1m0-3.1l-3.1 3.1M491.3 316.8l3.1 3.1m0-3.1l-3.1 3.1M530.8 310.3l3.1 3.1m0-3.1l-3.1 3.1M479.7 324.1l3.1 3.1m0-3.1l-3.1 3.1M530.6 333.3l3.1 3.1m0-3.1l-3.1 3.1M517.9 342.4l3.1 3.1m0-3.1l-3.1 3.1M499.0 309.7l3.1 3.1m0-3.1l-3.1 3.1M505.1 318.0l3.1 3.1m0-3.1l-3.1 3.1M499.6 317.9l3.1 3.1m0-3.1l-3.1 3.1M498.8 337.3l3.1 3.1m0-3.1l-3.1 3.1M505.2 351.2l3.1 3.1m0-3.1l-3.1 3.1M535.5 320.5l3.1 3.1m0-3.1l-3.1 3.1M499.8 306.1l3.1 3.1m0-3.1l-3.1 3.1M515.5 314.1l3.1 3.1m0-3.1l-3.1 3.1M526.8 270.7l3.1 3.1m0-3.1l-3.1 3.1M528.3 332.0l3.1 3.1m0-3.1l-3.1 3.1M535.3 322.0l3.1 3.1m0-3.1l-3.1 3.1M472.8 351.5l3.1 3.1m0-3.1l-3.1 3.1M526.3 349.9l3.1 3.1m0-3.1l-3.1 3.1M497.6 340.3l3.1 3.1m0-3.1l-3.1 3.1M501.8 285.8l3.1 3.1m0-3.1l-3.1 3.1M492.2 313.5l3.1 3.1m0-3.1l-3.1 3.1M487.9 304.9l3.1 3.1m0-3.1l-3.1 3.1M529.7 337.5l3.1 3.1m0-3.1l-3.1 3.1M543.3 302.5l3.1 3.1m0-3.1l-3.1 3.1M536.9 311.4l3.1 3.1m0-3.1l-3.1 3.1M496.6 294.6l3.1 3.1m0-3.1l-3.1 3.1M511.9 244.1l3.1 3.1m0-3.1l-3.1 3.1M503.5 309.6l3.1 3.1m0-3.1l-3.1 3.1M515.3 264.8l3.1 3.1m0-3.1l-3.1 3.1M502.3 277.1l3.1 3.1m0-3.1l-3.1 3.1M487.6 300.0l3.1 3.1m0-3.1l-3.1 3.1M520.1 314.0l3.1 3.1m0-3.1l-3.1 3.1M520.2 313.1l3.1 3.1m0-3.1l-3.1 3.1M528.3 335.3l3.1 3.1m0-3.1l-3.1 3.1M507.5 351.4l3.1 3.1m0-3.1l-3.1 3.1M522.3 343.9l3.1 3.1m0-3.1l-3.1 3.1M528.0 345.8l3.1 3.1m0-3.1l-3.1 3.1M490.9 289.5l3.1 3.1m0-3.1l-3.1 3.1M530.7 339.2l3.1 3.1m0-3.1l-3.1 3.1M528.0 347.1l3.1 3.1m0-3.1l-3.1 3.1M495.7 336.7l3.1 3.1m0-3.1l-3.1 3.1M522.5 318.8l3.1 3.1m0-3.1l-3.1 3.1M522.4 313.9l3.1 3.1m0-3.1l-3.1 3.1M514.3 321.0l3.1 3.1m0-3.1l-3.1 3.1M531.2 322.1l3.1 3.1m0-3.1l-3.1 3.1M537.4 302.7l3.1 3.1m0-3.1l-3.1 3.1M524.6 315.9l3.1 3.1m0-3.1l-3.1 3.1M505.5 317.8l3.1 3.1m0-3.1l-3.1 3.1M464.7 352.0l3.1 3.1m0-3.1l-3.1 3.1M509.8 352.0l3.1 3.1m0-3.1l-3.1 3.1M521.1 305.6l3.1 3.1m0-3.1l-3.1 3.1M525.6 307.0l3.1 3.1m0-3.1l-3.1 3.1M524.7 326.4l3.1 3.1m0-3.1l-3.1 3.1M510.4 275.9l3.1 3.1m0-3.1l-3.1 3.1M519.5 324.3l3.1 3.1m0-3.1l-3.1 3.1M498.5 308.2l3.1 3.1m0-3.1l-3.1 3.1M476.3 351.1l3.1 3.1m0-3.1l-3.1 3.1M542.7 298.9l3.1 3.1m0-3.1l-3.1 3.1M522.9 318.0l3.1 3.1m0-3.1l-3.1 3.1M473.9 319.8l3.1 3.1m0-3.1l-3.1 3.1M493.5 351.0l3.1 3.1m0-3.1l-3.1 3.1M520.9 351.4l3.1 3.1m0-3.1l-3.1 3.1M500.6 307.3l3.1 3.1m0-3.1l-3.1 3.1M491.4 299.9l3.1 3.1m0-3.1l-3.1 3.1M504.4 299.8l3.1 3.1m0-3.1l-3.1 3.1M474.0 350.9l3.1 3.1m0-3.1l-3.1 3.1M535.6 323.0l3.1 3.1m0-3.1l-3.1 3.1M522.2 337.7l3.1 3.1m0-3.1l-3.1 3.1M480.6 307.4l3.1 3.1m0-3.1l-3.1 3.1M546.3 317.0l3.1 3.1m0-3.1l-3.1 3.1M461.6 315.1l3.1 3.1m0-3.1l-3.1 3.1M507.7 299.7l3.1 3.1m0-3.1l-3.1 3.1M529.2 325.7l3.1 3.1m0-3.1l-3.1 3.1M490.6 294.2l3.1 3.1m0-3.1l-3.1 3.1M499.4 296.0l3.1 3.1m0-3.1l-3.1 3.1M509.6 351.9l3.1 3.1m0-3.1l-3.1 3.1M529.4 334.7l3.1 3.1m0-3.1l-3.1 3.1M501.2 327.1l3.1 3.1m0-3.1l-3.1 3.1M533.2 306.8l3.1 3.1m0-3.1l-3.1 3.1M523.6 347.3l3.1 3.1m0-3.1l-3.1 3.1M503.4 313.2l3.1 3.1m0-3.1l-3.1 3.1M514.9 325.5l3.1 3.1m0-3.1l-3.1 3.1M485.9 305.3l3.1 3.1m0-3.1l-3.1 3.1M523.1 349.2l3.1 3.1m0-3.1l-3.1 3.1M542.1 310.3l3.1 3.1m0-3.1l-3.1 3.1M513.8 310.4l3.1 3.1m0-3.1l-3.1 3.1M535.6 329.0l3.1 3.1m0-3.1l-3.1 3.1M511.2 305.2l3.1 3.1m0-3.1l-3.1 3.1M530.0 308.1l3.1 3.1m0-3.1l-3.1 3.1M536.5 333.4l3.1 3.1m0-3.1l-3.1 3.1M524.7 337.7l3.1 3.1m0-3.1l-3.1 3.1M506.7 260.8l3.1 3.1m0-3.1l-3.1 3.1M526.0 305.0l3.1 3.1m0-3.1l-3.1 3.1M527.2 332.0l3.1 3.1m0-3.1l-3.1 3.1M511.0 316.4l3.1 3.1m0-3.1l-3.1 3.1M507.9 313.4l3.1 3.1m0-3.1l-3.1 3.1M494.1 334.5l3.1 3.1m0-3.1l-3.1 3.1M522.9 315.5l3.1 3.1m0-3.1l-3.1 3.1M459.8 352.1l3.1 3.1m0-3.1l-3.1 3.1M487.7 316.2l3.1 3.1m0-3.1l-3.1 3.1M536.2 328.5l3.1 3.1m0-3.1l-3.1 3.1M458.1 351.9l3.1 3.1m0-3.1l-3.1 3.1M532.7 305.1l3.1 3.1m0-3.1l-3.1 3.1M536.7 317.7l3.1 3.1m0-3.1l-3.1 3.1M450.8 334.3l3.1 3.1m0-3.1l-3.1 3.1M466.1 315.8l3.1 3.1m0-3.1l-3.1 3.1M527.4 274.3l3.1 3.1m0-3.1l-3.1 3.1M485.4 315.4l3.1 3.1m0-3.1l-3.1 3.1M533.4 349.3l3.1 3.1m0-3.1l-3.1 3.1M526.0 321.1l3.1 3.1m0-3.1l-3.1 3.1M489.3 312.3l3.1 3.1m0-3.1l-3.1 3.1M528.8 316.1l3.1 3.1m0-3.1l-3.1 3.1M541.0 310.9l3.1 3.1m0-3.1l-3.1 3.1M487.7 321.5l3.1 3.1m0-3.1l-3.1 3.1M500.9 280.8l3.1 3.1m0-3.1l-3.1 3.1M500.6 316.9l3.1 3.1m0-3.1l-3.1 3.1M527.5 349.7l3.1 3.1m0-3.1l-3.1 3.1M534.8 334.5l3.1 3.1m0-3.1l-3.1 3.1M527.2 329.6l3.1 3.1m0-3.1l-3.1 3.1M475.6 315.9l3.1 3.1m0-3.1l-3.1 3.1M517.2 338.0l3.1 3.1m0-3.1l-3.1 3.1M506.0 316.0l3.1 3.1m0-3.1l-3.1 3.1M497.5 320.6l3.1 3.1m0-3.1l-3.1 3.1M512.4 271.2l3.1 3.1m0-3.1l-3.1 3.1M514.7 351.9l3.1 3.1m0-3.1l-3.1 3.1M517.5 329.0l3.1 3.1m0-3.1l-3.1 3.1M504.7 308.4l3.1 3.1m0-3.1l-3.1 3.1M496.0 291.3l3.1 3.1m0-3.1l-3.1 3.1M489.1 351.5l3.1 3.1m0-3.1l-3.1 3.1M482.2 313.7l3.1 3.1m0-3.1l-3.1 3.1M524.9 319.4l3.1 3.1m0-3.1l-3.1 3.1M488.1 316.8l3.1 3.1m0-3.1l-3.1 3.1M506.2 326.0l3.1 3.1m0-3.1l-3.1 3.1M477.6 316.0l3.1 3.1m0-3.1l-3.1 3.1M493.8 326.0l3.1 3.1m0-3.1l-3.1 3.1M509.2 304.5l3.1 3.1m0-3.1l-3.1 3.1M527.0 325.2l3.1 3.1m0-3.1l-3.1 3.1M474.6 316.0l3.1 3.1m0-3.1l-3.1 3.1M494.0 313.8l3.1 3.1m0-3.1l-3.1 3.1M512.0 350.7l3.1 3.1m0-3.1l-3.1 3.1M534.0 336.6l3.1 3.1m0-3.1l-3.1 3.1M514.6 273.7l3.1 3.1m0-3.1l-3.1 3.1M507.1 312.4l3.1 3.1m0-3.1l-3.1 3.1M481.6 302.4l3.1 3.1m0-3.1l-3.1 3.1M540.0 270.0l3.1 3.1m0-3.1l-3.1 3.1M494.3 309.8l3.1 3.1m0-3.1l-3.1 3.1M485.8 351.7l3.1 3.1m0-3.1l-3.1 3.1M449.9 333.0l3.1 3.1m0-3.1l-3.1 3.1M492.9 319.2l3.1 3.1m0-3.1l-3.1 3.1M527.4 328.4l3.1 3.1m0-3.1l-3.1 3.1M529.8 309.5l3.1 3.1m0-3.1l-3.1 3.1M511.7 273.1l3.1 3.1m0-3.1l-3.1 3.1M523.3 323.5l3.1 3.1m0-3.1l-3.1 3.1M519.1 334.6l3.1 3.1m0-3.1l-3.1 3.1M504.2 266.7l3.1 3.1m0-3.1l-3.1 3.1M536.1 307.7l3.1 3.1m0-3.1l-3.1 3.1M530.9 327.8l3.1 3.1m0-3.1l-3.1 3.1M542.1 330.9l3.1 3.1m0-3.1l-3.1 3.1M537.4 324.2l3.1 3.1m0-3.1l-3.1 3.1M517.3 321.3l3.1 3.1m0-3.1l-3.1 3.1M500.7 317.1l3.1 3.1m0-3.1l-3.1 3.1M497.6 326.3l3.1 3.1m0-3.1l-3.1 3.1M519.4 340.8l3.1 3.1m0-3.1l-3.1 3.1M459.9 352.1l3.1 3.1m0-3.1l-3.1 3.1M516.1 320.7l3.1 3.1m0-3.1l-3.1 3.1M473.3 320.7l3.1 3.1m0-3.1l-3.1 3.1M482.5 351.1l3.1 3.1m0-3.1l-3.1 3.1M485.5 351.8l3.1 3.1m0-3.1l-3.1 3.1M500.7 317.2l3.1 3.1m0-3.1l-3.1 3.1M497.5 312.3l3.1 3.1m0-3.1l-3.1 3.1M526.0 349.0l3.1 3.1m0-3.1l-3.1 3.1M475.2 329.1l3.1 3.1m0-3.1l-3.1 3.1M528.3 325.2l3.1 3.1m0-3.1l-3.1 3.1M513.1 315.6l3.1 3.1m0-3.1l-3.1 3.1M536.8 329.3l3.1 3.1m0-3.1l-3.1 3.1M500.3 340.6l3.1 3.1m0-3.1l-3.1 3.1M529.7 341.9l3.1 3.1m0-3.1l-3.1 3.1M491.1 288.7l3.1 3.1m0-3.1l-3.1 3.1M533.4 328.4l3.1 3.1m0-3.1l-3.1 3.1M539.2 316.1l3.1 3.1m0-3.1l-3.1 3.1M504.4 279.5l3.1 3.1m0-3.1l-3.1 3.1M530.3 327.3l3.1 3.1m0-3.1l-3.1 3.1M501.2 327.8l3.1 3.1m0-3.1l-3.1 3.1M480.7 319.3l3.1 3.1m0-3.1l-3.1 3.1M520.9 323.5l3.1 3.1m0-3.1l-3.1 3.1M522.5 334.8l3.1 3.1m0-3.1l-3.1 3.1M518.9 239.9l3.1 3.1m0-3.1l-3.1 3.1M477.8 295.7l3.1 3.1m0-3.1l-3.1 3.1M520.4 322.2l3.1 3.1m0-3.1l-3.1 3.1M517.7 320.7l3.1 3.1m0-3.1l-3.1 3.1M493.1 351.4l3.1 3.1m0-3.1l-3.1 3.1M517.3 351.9l3.1 3.1m0-3.1l-3.1 3.1M475.2 296.6l3.1 3.1m0-3.1l-3.1 3.1M509.3 301.0l3.1 3.1m0-3.1l-3.1 3.1M520.0 315.1l3.1 3.1m0-3.1l-3.1 3.1M521.0 317.7l3.1 3.1m0-3.1l-3.1 3.1M496.8 317.0l3.1 3.1m0-3.1l-3.1 3.1M514.0 322.4l3.1 3.1m0-3.1l-3.1 3.1M484.7 293.7l3.1 3.1m0-3.1l-3.1 3.1M484.9 322.0l3.1 3.1m0-3.1l-3.1 3.1M492.1 322.5l3.1 3.1m0-3.1l-3.1 3.1M503.5 272.5l3.1 3.1m0-3.1l-3.1 3.1M507.5 281.2l3.1 3.1m0-3.1l-3.1 3.1M499.1 351.7l3.1 3.1m0-3.1l-3.1 3.1M533.0 334.6l3.1 3.1m0-3.1l-3.1 3.1M525.8 346.9l3.1 3.1m0-3.1l-3.1 3.1M506.9 320.8l3.1 3.1m0-3.1l-3.1 3.1M500.6 263.6l3.1 3.1m0-3.1l-3.1 3.1M485.0 351.4l3.1 3.1m0-3.1l-3.1 3.1M479.7 323.9l3.1 3.1m0-3.1l-3.1 3.1M532.2 332.7l3.1 3.1m0-3.1l-3.1 3.1M524.8 315.9l3.1 3.1m0-3.1l-3.1 3.1M505.8 326.2l3.1 3.1m0-3.1l-3.1 3.1M502.2 321.4l3.1 3.1m0-3.1l-3.1 3.1M509.7 315.5l3.1 3.1m0-3.1l-3.1 3.1M531.5 324.5l3.1 3.1m0-3.1l-3.1 3.1M523.6 266.8l3.1 3.1m0-3.1l-3.1 3.1M504.9 316.8l3.1 3.1m0-3.1l-3.1 3.1M518.9 324.0l3.1 3.1m0-3.1l-3.1 3.1M523.7 326.9l3.1 3.1m0-3.1l-3.1 3.1M528.7 346.8l3.1 3.1m0-3.1l-3.1 3.1M526.7 312.2l3.1 3.1m0-3.1l-3.1 3.1M494.7 326.9l3.1 3.1m0-3.1l-3.1 3.1M520.8 351.5l3.1 3.1m0-3.1l-3.1 3.1M486.8 304.6l3.1 3.1m0-3.1l-3.1 3.1M511.3 300.4l3.1 3.1m0-3.1l-3.1 3.1M509.1 336.6l3.1 3.1m0-3.1l-3.1 3.1M453.7 324.6l3.1 3.1m0-3.1l-3.1 3.1M498.2 319.7l3.1 3.1m0-3.1l-3.1 3.1M523.7 305.2l3.1 3.1m0-3.1l-3.1 3.1M493.0 316.4l3.1 3.1m0-3.1l-3.1 3.1M528.1 349.8l3.1 3.1m0-3.1l-3.1 3.1M504.9 301.1l3.1 3.1m0-3.1l-3.1 3.1M525.2 326.6l3.1 3.1m0-3.1l-3.1 3.1M479.4 298.5l3.1 3.1m0-3.1l-3.1 3.1M524.9 337.9l3.1 3.1m0-3.1l-3.1 3.1M501.5 292.6l3.1 3.1m0-3.1l-3.1 3.1M524.9 332.1l3.1 3.1m0-3.1l-3.1 3.1M511.6 321.0l3.1 3.1m0-3.1l-3.1 3.1M527.6 338.5l3.1 3.1m0-3.1l-3.1 3.1M496.4 297.3l3.1 3.1m0-3.1l-3.1 3.1M519.0 309.0l3.1 3.1m0-3.1l-3.1 3.1M508.0 262.1l3.1 3.1m0-3.1l-3.1 3.1M499.5 290.9l3.1 3.1m0-3.1l-3.1 3.1M482.5 322.2l3.1 3.1m0-3.1l-3.1 3.1M512.4 280.9l3.1 3.1m0-3.1l-3.1 3.1M513.1 268.8l3.1 3.1m0-3.1l-3.1 3.1M510.6 316.7l3.1 3.1m0-3.1l-3.1 3.1M517.7 262.5l3.1 3.1m0-3.1l-3.1 3.1M528.9 335.9l3.1 3.1m0-3.1l-3.1 3.1M529.0 314.7l3.1 3.1m0-3.1l-3.1 3.1M526.7 313.7l3.1 3.1m0-3.1l-3.1 3.1M503.6 322.3l3.1 3.1m0-3.1l-3.1 3.1M505.6 316.5l3.1 3.1m0-3.1l-3.1 3.1M521.3 313.0l3.1 3.1m0-3.1l-3.1 3.1M530.8 318.0l3.1 3.1m0-3.1l-3.1 3.1M548.2 303.4l3.1 3.1m0-3.1l-3.1 3.1M493.4 288.6l3.1 3.1m0-3.1l-3.1 3.1M524.9 323.3l3.1 3.1m0-3.1l-3.1 3.1M531.3 328.6l3.1 3.1m0-3.1l-3.1 3.1M475.1 323.6l3.1 3.1m0-3.1l-3.1 3.1M507.2 305.0l3.1 3.1m0-3.1l-3.1 3.1M522.0 331.7l3.1 3.1m0-3.1l-3.1 3.1M512.4 319.6l3.1 3.1m0-3.1l-3.1 3.1M505.7 316.5l3.1 3.1m0-3.1l-3.1 3.1M477.6 317.7l3.1 3.1m0-3.1l-3.1 3.1M485.2 306.7l3.1 3.1m0-3.1l-3.1 3.1M499.1 312.5l3.1 3.1m0-3.1l-3.1 3.1M501.5 351.1l3.1 3.1m0-3.1l-3.1 3.1M522.0 344.2l3.1 3.1m0-3.1l-3.1 3.1M518.0 318.3l3.1 3.1m0-3.1l-3.1 3.1M466.0 310.9l3.1 3.1m0-3.1l-3.1 3.1M482.2 351.8l3.1 3.1m0-3.1l-3.1 3.1M524.9 321.7l3.1 3.1m0-3.1l-3.1 3.1M476.9 325.4l3.1 3.1m0-3.1l-3.1 3.1M479.9 305.8l3.1 3.1m0-3.1l-3.1 3.1M538.5 321.0l3.1 3.1m0-3.1l-3.1 3.1M512.4 351.9l3.1 3.1m0-3.1l-3.1 3.1M494.8 327.9l3.1 3.1m0-3.1l-3.1 3.1M529.0 302.1l3.1 3.1m0-3.1l-3.1 3.1M514.8 313.4l3.1 3.1m0-3.1l-3.1 3.1M499.2 316.6l3.1 3.1m0-3.1l-3.1 3.1M476.3 301.8l3.1 3.1m0-3.1l-3.1 3.1M509.0 333.1l3.1 3.1m0-3.1l-3.1 3.1M475.6 324.9l3.1 3.1m0-3.1l-3.1 3.1M509.9 333.5l3.1 3.1m0-3.1l-3.1 3.1M473.3 321.3l3.1 3.1m0-3.1l-3.1 3.1M466.4 328.1l3.1 3.1m0-3.1l-3.1 3.1M500.7 313.6l3.1 3.1m0-3.1l-3.1 3.1M478.0 351.5l3.1 3.1m0-3.1l-3.1 3.1M535.4 299.7l3.1 3.1m0-3.1l-3.1 3.1M493.7 310.9l3.1 3.1m0-3.1l-3.1 3.1M531.9 336.0l3.1 3.1m0-3.1l-3.1 3.1M497.9 341.6l3.1 3.1m0-3.1l-3.1 3.1M503.4 310.4l3.1 3.1m0-3.1l-3.1 3.1M494.5 319.9l3.1 3.1m0-3.1l-3.1 3.1M512.8 312.5l3.1 3.1m0-3.1l-3.1 3.1M514.5 246.0l3.1 3.1m0-3.1l-3.1 3.1M511.1 297.0l3.1 3.1m0-3.1l-3.1 3.1M527.1 306.2l3.1 3.1m0-3.1l-3.1 3.1M515.9 292.9l3.1 3.1m0-3.1l-3.1 3.1M501.0 328.0l3.1 3.1m0-3.1l-3.1 3.1M516.2 329.4l3.1 3.1m0-3.1l-3.1 3.1M503.1 351.4l3.1 3.1m0-3.1l-3.1 3.1M537.8 326.1l3.1 3.1m0-3.1l-3.1 3.1M470.3 312.3l3.1 3.1m0-3.1l-3.1 3.1M493.2 318.1l3.1 3.1m0-3.1l-3.1 3.1M469.5 352.0l3.1 3.1m0-3.1l-3.1 3.1M520.0 313.1l3.1 3.1m0-3.1l-3.1 3.1M530.1 308.2l3.1 3.1m0-3.1l-3.1 3.1M501.6 274.2l3.1 3.1m0-3.1l-3.1 3.1M499.8 311.5l3.1 3.1m0-3.1l-3.1 3.1M473.4 319.7l3.1 3.1m0-3.1l-3.1 3.1M520.9 317.8l3.1 3.1m0-3.1l-3.1 3.1M488.3 323.8l3.1 3.1m0-3.1l-3.1 3.1M523.3 307.9l3.1 3.1m0-3.1l-3.1 3.1M492.1 277.4l3.1 3.1m0-3.1l-3.1 3.1M521.7 338.7l3.1 3.1m0-3.1l-3.1 3.1M505.0 326.1l3.1 3.1m0-3.1l-3.1 3.1M512.5 295.3l3.1 3.1m0-3.1l-3.1 3.1M482.8 323.6l3.1 3.1m0-3.1l-3.1 3.1M533.0 321.1l3.1 3.1m0-3.1l-3.1 3.1M482.7 351.0l3.1 3.1m0-3.1l-3.1 3.1M529.2 312.5l3.1 3.1m0-3.1l-3.1 3.1M531.8 320.7l3.1 3.1m0-3.1l-3.1 3.1M546.0 304.0l3.1 3.1m0-3.1l-3.1 3.1M506.8 330.9l3.1 3.1m0-3.1l-3.1 3.1M488.8 319.9l3.1 3.1m0-3.1l-3.1 3.1M527.5 310.7l3.1 3.1m0-3.1l-3.1 3.1M506.4 315.1l3.1 3.1m0-3.1l-3.1 3.1M501.2 304.2l3.1 3.1m0-3.1l-3.1 3.1M522.9 329.2l3.1 3.1m0-3.1l-3.1 3.1M529.7 333.5l3.1 3.1m0-3.1l-3.1 3.1M501.3 312.3l3.1 3.1m0-3.1l-3.1 3.1M523.7 301.9l3.1 3.1m0-3.1l-3.1 3.1M454.4 352.1l3.1 3.1m0-3.1l-3.1 3.1M489.7 316.4l3.1 3.1m0-3.1l-3.1 3.1M547.9 314.9l3.1 3.1m0-3.1l-3.1 3.1M495.6 351.0l3.1 3.1m0-3.1l-3.1 3.1M484.4 315.1l3.1 3.1m0-3.1l-3.1 3.1M489.9 313.8l3.1 3.1m0-3.1l-3.1 3.1M492.9 315.8l3.1 3.1m0-3.1l-3.1 3.1M453.7 352.1l3.1 3.1m0-3.1l-3.1 3.1M494.1 335.4l3.1 3.1m0-3.1l-3.1 3.1M486.1 323.2l3.1 3.1m0-3.1l-3.1 3.1M521.9 323.7l3.1 3.1m0-3.1l-3.1 3.1M526.8 318.9l3.1 3.1m0-3.1l-3.1 3.1M506.1 301.8l3.1 3.1m0-3.1l-3.1 3.1M531.0 321.7l3.1 3.1m0-3.1l-3.1 3.1M512.6 314.0l3.1 3.1m0-3.1l-3.1 3.1M469.4 326.9l3.1 3.1m0-3.1l-3.1 3.1M473.0 311.7l3.1 3.1m0-3.1l-3.1 3.1M528.9 304.6l3.1 3.1m0-3.1l-3.1 3.1M509.5 305.0l3.1 3.1m0-3.1l-3.1 3.1M450.6 331.9l3.1 3.1m0-3.1l-3.1 3.1M492.3 307.9l3.1 3.1m0-3.1l-3.1 3.1M472.3 322.5l3.1 3.1m0-3.1l-3.1 3.1M525.8 345.3l3.1 3.1m0-3.1l-3.1 3.1M490.8 351.0l3.1 3.1m0-3.1l-3.1 3.1M466.8 326.5l3.1 3.1m0-3.1l-3.1 3.1M472.6 351.0l3.1 3.1m0-3.1l-3.1 3.1M485.0 350.4l3.1 3.1m0-3.1l-3.1 3.1M525.1 311.2l3.1 3.1m0-3.1l-3.1 3.1M474.5 323.7l3.1 3.1m0-3.1l-3.1 3.1M524.0 271.6l3.1 3.1m0-3.1l-3.1 3.1M515.2 300.2l3.1 3.1m0-3.1l-3.1 3.1M469.3 326.8l3.1 3.1m0-3.1l-3.1 3.1M529.0 324.9l3.1 3.1m0-3.1l-3.1 3.1M514.9 308.6l3.1 3.1m0-3.1l-3.1 3.1M501.8 319.6l3.1 3.1m0-3.1l-3.1 3.1M494.9 311.5l3.1 3.1m0-3.1l-3.1 3.1M523.0 329.5l3.1 3.1m0-3.1l-3.1 3.1M476.4 294.6l3.1 3.1m0-3.1l-3.1 3.1M524.9 257.0l3.1 3.1m0-3.1l-3.1 3.1M509.3 328.5l3.1 3.1m0-3.1l-3.1 3.1M497.8 338.3l3.1 3.1m0-3.1l-3.1 3.1M533.0 316.2l3.1 3.1m0-3.1l-3.1 3.1M473.4 350.9l3.1 3.1m0-3.1l-3.1 3.1M495.0 314.3l3.1 3.1m0-3.1l-3.1 3.1M515.2 352.0l3.1 3.1m0-3.1l-3.1 3.1M509.6 328.8l3.1 3.1m0-3.1l-3.1 3.1M523.1 322.6l3.1 3.1m0-3.1l-3.1 3.1M480.5 319.5l3.1 3.1m0-3.1l-3.1 3.1M515.1 268.5l3.1 3.1m0-3.1l-3.1 3.1M532.5 339.5l3.1 3.1m0-3.1l-3.1 3.1M504.7 292.7l3.1 3.1m0-3.1l-3.1 3.1M517.7 317.6l3.1 3.1m0-3.1l-3.1 3.1M503.7 273.1l3.1 3.1m0-3.1l-3.1 3.1M508.8 326.0l3.1 3.1m0-3.1l-3.1 3.1M496.8 291.6l3.1 3.1m0-3.1l-3.1 3.1M519.6 308.1l3.1 3.1m0-3.1l-3.1 3.1M503.1 305.3l3.1 3.1m0-3.1l-3.1 3.1M515.4 315.9l3.1 3.1m0-3.1l-3.1 3.1M520.5 328.0l3.1 3.1m0-3.1l-3.1 3.1M536.4 326.8l3.1 3.1m0-3.1l-3.1 3.1M503.2 307.0l3.1 3.1m0-3.1l-3.1 3.1M481.8 310.3l3.1 3.1m0-3.1l-3.1 3.1M518.8 306.3l3.1 3.1m0-3.1l-3.1 3.1M497.3 285.2l3.1 3.1m0-3.1l-3.1 3.1M480.7 319.8l3.1 3.1m0-3.1l-3.1 3.1M493.9 337.6l3.1 3.1m0-3.1l-3.1 3.1M504.5 317.0l3.1 3.1m0-3.1l-3.1 3.1M474.2 312.8l3.1 3.1m0-3.1l-3.1 3.1M471.8 351.6l3.1 3.1m0-3.1l-3.1 3.1M528.0 328.1l3.1 3.1m0-3.1l-3.1 3.1M493.3 328.3l3.1 3.1m0-3.1l-3.1 3.1M477.6 328.3l3.1 3.1m0-3.1l-3.1 3.1M505.6 308.3l3.1 3.1m0-3.1l-3.1 3.1M505.4 284.2l3.1 3.1m0-3.1l-3.1 3.1M532.6 313.3l3.1 3.1m0-3.1l-3.1 3.1M511.8 266.8l3.1 3.1m0-3.1l-3.1 3.1M490.8 323.5l3.1 3.1m0-3.1l-3.1 3.1M480.2 303.8l3.1 3.1m0-3.1l-3.1 3.1M515.0 329.5l3.1 3.1m0-3.1l-3.1 3.1M507.4 297.2l3.1 3.1m0-3.1l-3.1 3.1M491.0 294.1l3.1 3.1m0-3.1l-3.1 3.1M458.5 318.7l3.1 3.1m0-3.1l-3.1 3.1M464.3 313.4l3.1 3.1m0-3.1l-3.1 3.1M478.8 314.8l3.1 3.1m0-3.1l-3.1 3.1M479.3 298.6l3.1 3.1m0-3.1l-3.1 3.1M502.1 283.1l3.1 3.1m0-3.1l-3.1 3.1M505.5 291.6l3.1 3.1m0-3.1l-3.1 3.1M470.0 296.4l3.1 3.1m0-3.1l-3.1 3.1M470.1 315.2l3.1 3.1m0-3.1l-3.1 3.1M466.9 315.0l3.1 3.1m0-3.1l-3.1 3.1M489.1 301.6l3.1 3.1m0-3.1l-3.1 3.1M486.3 301.1l3.1 3.1m0-3.1l-3.1 3.1M499.9 284.7l3.1 3.1m0-3.1l-3.1 3.1M493.5 275.7l3.1 3.1m0-3.1l-3.1 3.1M477.8 309.4l3.1 3.1m0-3.1l-3.1 3.1M481.5 299.5l3.1 3.1m0-3.1l-3.1 3.1M519.6 264.1l3.1 3.1m0-3.1l-3.1 3.1M452.3 320.3l3.1 3.1m0-3.1l-3.1 3.1M480.4 300.9l3.1 3.1m0-3.1l-3.1 3.1M520.5 273.6l3.1 3.1m0-3.1l-3.1 3.1M472.6 309.2l3.1 3.1m0-3.1l-3.1 3.1M500.6 297.9l3.1 3.1m0-3.1l-3.1 3.1M477.2 317.5l3.1 3.1m0-3.1l-3.1 3.1M523.0 248.5l3.1 3.1m0-3.1l-3.1 3.1M450.3 317.1l3.1 3.1m0-3.1l-3.1 3.1M465.7 298.4l3.1 3.1m0-3.1l-3.1 3.1M458.0 323.2l3.1 3.1m0-3.1l-3.1 3.1M515.9 283.1l3.1 3.1m0-3.1l-3.1 3.1M502.9 278.7l3.1 3.1m0-3.1l-3.1 3.1M479.2 309.6l3.1 3.1m0-3.1l-3.1 3.1M492.8 308.4l3.1 3.1m0-3.1l-3.1 3.1M468.5 309.8l3.1 3.1m0-3.1l-3.1 3.1M478.1 297.2l3.1 3.1m0-3.1l-3.1 3.1M464.0 307.0l3.1 3.1m0-3.1l-3.1 3.1M518.1 292.7l3.1 3.1m0-3.1l-3.1 3.1M482.0 299.3l3.1 3.1m0-3.1l-3.1 3.1M482.7 310.3l3.1 3.1m0-3.1l-3.1 3.1M450.5 329.3l3.1 3.1m0-3.1l-3.1 3.1M491.6 297.4l3.1 3.1m0-3.1l-3.1 3.1M503.9 279.1l3.1 3.1m0-3.1l-3.1 3.1M506.6 288.0l3.1 3.1m0-3.1l-3.1 3.1M455.6 318.7l3.1 3.1m0-3.1l-3.1 3.1M506.5 298.2l3.1 3.1m0-3.1l-3.1 3.1M507.3 270.8l3.1 3.1m0-3.1l-3.1 3.1M520.6 255.6l3.1 3.1m0-3.1l-3.1 3.1M506.4 285.7l3.1 3.1m0-3.1l-3.1 3.1M504.9 276.3l3.1 3.1m0-3.1l-3.1 3.1M530.5 299.7l3.1 3.1m0-3.1l-3.1 3.1M500.4 296.2l3.1 3.1m0-3.1l-3.1 3.1M474.8 311.3l3.1 3.1m0-3.1l-3.1 3.1M493.4 299.4l3.1 3.1m0-3.1l-3.1 3.1M519.1 267.9l3.1 3.1m0-3.1l-3.1 3.1M481.6 287.4l3.1 3.1m0-3.1l-3.1 3.1M454.0 320.0l3.1 3.1m0-3.1l-3.1 3.1M508.4 280.0l3.1 3.1m0-3.1l-3.1 3.1M482.3 274.3l3.1 3.1m0-3.1l-3.1 3.1M524.5 243.8l3.1 3.1m0-3.1l-3.1 3.1M478.3 313.1l3.1 3.1m0-3.1l-3.1 3.1M512.5 279.1l3.1 3.1m0-3.1l-3.1 3.1M516.7 281.8l3.1 3.1m0-3.1l-3.1 3.1M449.9 331.8l3.1 3.1m0-3.1l-3.1 3.1M512.1 283.8l3.1 3.1m0-3.1l-3.1 3.1M489.8 277.1l3.1 3.1m0-3.1l-3.1 3.1M503.0 292.9l3.1 3.1m0-3.1l-3.1 3.1M549.9 302.8l3.1 3.1m0-3.1l-3.1 3.1M531.9 301.6l3.1 3.1m0-3.1l-3.1 3.1M505.5 295.5l3.1 3.1m0-3.1l-3.1 3.1M456.5 324.2l3.1 3.1m0-3.1l-3.1 3.1M485.7 306.6l3.1 3.1m0-3.1l-3.1 3.1M450.8 316.1l3.1 3.1m0-3.1l-3.1 3.1M512.8 286.4l3.1 3.1m0-3.1l-3.1 3.1M489.2 301.2l3.1 3.1m0-3.1l-3.1 3.1M546.5 303.7l3.1 3.1m0-3.1l-3.1 3.1M501.8 292.4l3.1 3.1m0-3.1l-3.1 3.1M514.9 276.6l3.1 3.1m0-3.1l-3.1 3.1M499.6 298.6l3.1 3.1m0-3.1l-3.1 3.1M454.3 324.5l3.1 3.1m0-3.1l-3.1 3.1M477.0 309.1l3.1 3.1m0-3.1l-3.1 3.1M511.0 280.4l3.1 3.1m0-3.1l-3.1 3.1M504.8 284.0l3.1 3.1m0-3.1l-3.1 3.1M450.4 332.9l3.1 3.1m0-3.1l-3.1 3.1M477.4 302.4l3.1 3.1m0-3.1l-3.1 3.1M450.6 327.8l3.1 3.1m0-3.1l-3.1 3.1M472.6 315.5l3.1 3.1m0-3.1l-3.1 3.1M491.1 308.9l3.1 3.1m0-3.1l-3.1 3.1M507.1 275.5l3.1 3.1m0-3.1l-3.1 3.1M456.0 321.1l3.1 3.1m0-3.1l-3.1 3.1M505.8 285.4l3.1 3.1m0-3.1l-3.1 3.1M477.6 290.9l3.1 3.1m0-3.1l-3.1 3.1M483.9 301.7l3.1 3.1m0-3.1l-3.1 3.1M549.2 300.6l3.1 3.1m0-3.1l-3.1 3.1M487.3 310.9l3.1 3.1m0-3.1l-3.1 3.1M476.6 307.1l3.1 3.1m0-3.1l-3.1 3.1M483.2 305.1l3.1 3.1m0-3.1l-3.1 3.1M452.9 316.3l3.1 3.1m0-3.1l-3.1 3.1M475.5 290.5l3.1 3.1m0-3.1l-3.1 3.1M452.0 320.8l3.1 3.1m0-3.1l-3.1 3.1M480.3 308.8l3.1 3.1m0-3.1l-3.1 3.1M471.0 306.5l3.1 3.1m0-3.1l-3.1 3.1M511.8 261.6l3.1 3.1m0-3.1l-3.1 3.1M473.2 320.1l3.1 3.1m0-3.1l-3.1 3.1M499.3 265.0l3.1 3.1m0-3.1l-3.1 3.1M497.3 300.1l3.1 3.1m0-3.1l-3.1 3.1M471.6 312.9l3.1 3.1m0-3.1l-3.1 3.1M478.6 317.6l3.1 3.1m0-3.1l-3.1 3.1M461.5 304.5l3.1 3.1m0-3.1l-3.1 3.1M479.9 317.0l3.1 3.1m0-3.1l-3.1 3.1M484.2 306.5l3.1 3.1m0-3.1l-3.1 3.1M488.3 309.8l3.1 3.1m0-3.1l-3.1 3.1M497.1 295.9l3.1 3.1m0-3.1l-3.1 3.1M458.9 322.5l3.1 3.1m0-3.1l-3.1 3.1M517.3 275.5l3.1 3.1m0-3.1l-3.1 3.1M454.0 321.9l3.1 3.1m0-3.1l-3.1 3.1M527.5 258.4l3.1 3.1m0-3.1l-3.1 3.1M458.6 318.2l3.1 3.1m0-3.1l-3.1 3.1M457.0 305.0l3.1 3.1m0-3.1l-3.1 3.1M500.4 282.3l3.1 3.1m0-3.1l-3.1 3.1M501.9 252.1l3.1 3.1m0-3.1l-3.1 3.1M484.1 306.6l3.1 3.1m0-3.1l-3.1 3.1M490.4 301.0l3.1 3.1m0-3.1l-3.1 3.1M466.9 314.0l3.1 3.1m0-3.1l-3.1 3.1M538.7 299.4l3.1 3.1m0-3.1l-3.1 3.1M484.1 304.2l3.1 3.1m0-3.1l-3.1 3.1M466.8 318.0l3.1 3.1m0-3.1l-3.1 3.1M450.7 328.0l3.1 3.1m0-3.1l-3.1 3.1M470.9 313.0l3.1 3.1m0-3.1l-3.1 3.1M507.6 284.2l3.1 3.1m0-3.1l-3.1 3.1M491.3 277.3l3.1 3.1m0-3.1l-3.1 3.1M452.8 322.1l3.1 3.1m0-3.1l-3.1 3.1M509.1 267.6l3.1 3.1m0-3.1l-3.1 3.1M477.4 299.7l3.1 3.1m0-3.1l-3.1 3.1M541.0 303.3l3.1 3.1m0-3.1l-3.1 3.1M477.2 304.9l3.1 3.1m0-3.1l-3.1 3.1M494.1 298.6l3.1 3.1m0-3.1l-3.1 3.1M469.6 304.2l3.1 3.1m0-3.1l-3.1 3.1M538.6 298.1l3.1 3.1m0-3.1l-3.1 3.1M483.4 313.5l3.1 3.1m0-3.1l-3.1 3.1M506.7 277.4l3.1 3.1m0-3.1l-3.1 3.1M527.4 261.6l3.1 3.1m0-3.1l-3.1 3.1M472.0 311.1l3.1 3.1m0-3.1l-3.1 3.1M498.8 301.9l3.1 3.1m0-3.1l-3.1 3.1M523.1 265.4l3.1 3.1m0-3.1l-3.1 3.1M497.7 290.1l3.1 3.1m0-3.1l-3.1 3.1M497.8 287.1l3.1 3.1m0-3.1l-3.1 3.1M486.2 312.8l3.1 3.1m0-3.1l-3.1 3.1M491.9 295.3l3.1 3.1m0-3.1l-3.1 3.1M512.7 256.9l3.1 3.1m0-3.1l-3.1 3.1M492.5 305.3l3.1 3.1m0-3.1l-3.1 3.1M459.1 316.5l3.1 3.1m0-3.1l-3.1 3.1M502.8 263.8l3.1 3.1m0-3.1l-3.1 3.1M476.4 315.4l3.1 3.1m0-3.1l-3.1 3.1M538.3 301.1l3.1 3.1m0-3.1l-3.1 3.1M454.2 313.0l3.1 3.1m0-3.1l-3.1 3.1M482.4 314.2l3.1 3.1m0-3.1l-3.1 3.1M484.8 296.7l3.1 3.1m0-3.1l-3.1 3.1M509.5 267.8l3.1 3.1m0-3.1l-3.1 3.1M465.3 310.1l3.1 3.1m0-3.1l-3.1 3.1M491.9 295.3l3.1 3.1m0-3.1l-3.1 3.1M540.3 268.9l3.1 3.1m0-3.1l-3.1 3.1M510.1 279.4l3.1 3.1m0-3.1l-3.1 3.1M469.7 311.3l3.1 3.1m0-3.1l-3.1 3.1M496.4 303.9l3.1 3.1m0-3.1l-3.1 3.1M479.1 303.6l3.1 3.1m0-3.1l-3.1 3.1M485.4 311.2l3.1 3.1m0-3.1l-3.1 3.1M513.5 294.6l3.1 3.1m0-3.1l-3.1 3.1M473.2 293.4l3.1 3.1m0-3.1l-3.1 3.1M464.3 317.5l3.1 3.1m0-3.1l-3.1 3.1M478.0 307.2l3.1 3.1m0-3.1l-3.1 3.1M495.9 274.8l3.1 3.1m0-3.1l-3.1 3.1M485.0 313.4l3.1 3.1m0-3.1l-3.1 3.1M491.4 308.9l3.1 3.1m0-3.1l-3.1 3.1M504.7 290.8l3.1 3.1m0-3.1l-3.1 3.1M478.3 305.4l3.1 3.1m0-3.1l-3.1 3.1M450.0 328.1l3.1 3.1m0-3.1l-3.1 3.1M475.0 306.9l3.1 3.1m0-3.1l-3.1 3.1M495.4 277.5l3.1 3.1m0-3.1l-3.1 3.1M511.1 279.2l3.1 3.1m0-3.1l-3.1 3.1M487.4 304.0l3.1 3.1m0-3.1l-3.1 3.1M450.6 326.8l3.1 3.1m0-3.1l-3.1 3.1M469.5 307.4l3.1 3.1m0-3.1l-3.1 3.1M506.1 257.6l3.1 3.1m0-3.1l-3.1 3.1M482.8 313.6l3.1 3.1m0-3.1l-3.1 3.1M510.0 273.3l3.1 3.1m0-3.1l-3.1 3.1M450.5 325.3l3.1 3.1m0-3.1l-3.1 3.1M506.2 272.1l3.1 3.1m0-3.1l-3.1 3.1M522.3 262.0l3.1 3.1m0-3.1l-3.1 3.1M542.6 300.3l3.1 3.1m0-3.1l-3.1 3.1M484.7 313.3l3.1 3.1m0-3.1l-3.1 3.1M498.6 294.8l3.1 3.1m0-3.1l-3.1 3.1M504.8 280.7l3.1 3.1m0-3.1l-3.1 3.1M497.9 293.2l3.1 3.1m0-3.1l-3.1 3.1M500.7 269.1l3.1 3.1m0-3.1l-3.1 3.1M489.1 265.3l3.1 3.1m0-3.1l-3.1 3.1M487.1 303.3l3.1 3.1m0-3.1l-3.1 3.1M504.1 280.3l3.1 3.1m0-3.1l-3.1 3.1M498.2 264.4l3.1 3.1m0-3.1l-3.1 3.1M464.8 318.6l3.1 3.1m0-3.1l-3.1 3.1M476.8 310.3l3.1 3.1m0-3.1l-3.1 3.1M502.1 294.6l3.1 3.1m0-3.1l-3.1 3.1M466.9 313.0l3.1 3.1m0-3.1l-3.1 3.1M450.9 303.8l3.1 3.1m0-3.1l-3.1 3.1M500.3 293.4l3.1 3.1m0-3.1l-3.1 3.1M500.4 259.8l3.1 3.1m0-3.1l-3.1 3.1M456.3 323.7l3.1 3.1m0-3.1l-3.1 3.1M472.3 311.3l3.1 3.1m0-3.1l-3.1 3.1M476.0 308.3l3.1 3.1m0-3.1l-3.1 3.1M499.5 302.4l3.1 3.1m0-3.1l-3.1 3.1M533.6 302.0l3.1 3.1m0-3.1l-3.1 3.1M501.8 290.4l3.1 3.1m0-3.1l-3.1 3.1M473.1 317.0l3.1 3.1m0-3.1l-3.1 3.1M480.3 276.6l3.1 3.1m0-3.1l-3.1 3.1M493.9 302.0l3.1 3.1m0-3.1l-3.1 3.1M480.4 294.8l3.1 3.1m0-3.1l-3.1 3.1M476.9 312.0l3.1 3.1m0-3.1l-3.1 3.1M487.8 304.4l3.1 3.1m0-3.1l-3.1 3.1M538.1 304.6l3.1 3.1m0-3.1l-3.1 3.1M478.8 284.8l3.1 3.1m0-3.1l-3.1 3.1M482.5 307.0l3.1 3.1m0-3.1l-3.1 3.1M502.7 289.8l3.1 3.1m0-3.1l-3.1 3.1M505.8 256.4l3.1 3.1m0-3.1l-3.1 3.1M480.0 292.2l3.1 3.1m0-3.1l-3.1 3.1M509.7 271.0l3.1 3.1m0-3.1l-3.1 3.1M483.5 312.0l3.1 3.1m0-3.1l-3.1 3.1M459.9 316.7l3.1 3.1m0-3.1l-3.1 3.1M491.3 294.7l3.1 3.1m0-3.1l-3.1 3.1M507.8 287.8l3.1 3.1m0-3.1l-3.1 3.1M504.1 277.6l3.1 3.1m0-3.1l-3.1 3.1M506.8 283.5l3.1 3.1m0-3.1l-3.1 3.1M473.2 303.1l3.1 3.1m0-3.1l-3.1 3.1M468.0 313.5l3.1 3.1m0-3.1l-3.1 3.1M461.4 310.2l3.1 3.1m0-3.1l-3.1 3.1M537.3 299.2l3.1 3.1m0-3.1l-3.1 3.1M475.7 297.1l3.1 3.1m0-3.1l-3.1 3.1M478.6 318.7l3.1 3.1m0-3.1l-3.1 3.1M474.0 315.9l3.1 3.1m0-3.1l-3.1 3.1M514.1 278.7l3.1 3.1m0-3.1l-3.1 3.1M475.0 319.4l3.1 3.1m0-3.1l-3.1 3.1M486.8 308.7l3.1 3.1m0-3.1l-3.1 3.1M509.7 268.4l3.1 3.1m0-3.1l-3.1 3.1M500.0 290.1l3.1 3.1m0-3.1l-3.1 3.1M497.7 285.8l3.1 3.1m0-3.1l-3.1 3.1M536.3 303.9l3.1 3.1m0-3.1l-3.1 3.1M527.9 269.6l3.1 3.1m0-3.1l-3.1 3.1M497.2 293.4l3.1 3.1m0-3.1l-3.1 3.1M472.2 322.5l3.1 3.1m0-3.1l-3.1 3.1M466.0 311.8l3.1 3.1m0-3.1l-3.1 3.1M458.1 314.0l3.1 3.1m0-3.1l-3.1 3.1M474.6 303.6l3.1 3.1m0-3.1l-3.1 3.1M457.6 319.8l3.1 3.1m0-3.1l-3.1 3.1M462.7 308.1l3.1 3.1m0-3.1l-3.1 3.1M499.0 290.0l3.1 3.1m0-3.1l-3.1 3.1M469.9 313.1l3.1 3.1m0-3.1l-3.1 3.1M483.7 307.9l3.1 3.1m0-3.1l-3.1 3.1M483.5 301.8l3.1 3.1m0-3.1l-3.1 3.1M497.7 295.1l3.1 3.1m0-3.1l-3.1 3.1M531.7 262.4l3.1 3.1m0-3.1l-3.1 3.1M455.9 319.1l3.1 3.1m0-3.1l-3.1 3.1M501.8 288.6l3.1 3.1m0-3.1l-3.1 3.1M486.4 299.6l3.1 3.1m0-3.1l-3.1 3.1M483.3 313.3l3.1 3.1m0-3.1l-3.1 3.1M520.1 266.3l3.1 3.1m0-3.1l-3.1 3.1M483.0 294.1l3.1 3.1m0-3.1l-3.1 3.1M454.8 323.8l3.1 3.1m0-3.1l-3.1 3.1M463.5 311.2l3.1 3.1m0-3.1l-3.1 3.1M462.5 312.7l3.1 3.1m0-3.1l-3.1 3.1M538.7 306.8l3.1 3.1m0-3.1l-3.1 3.1M496.5 271.9l3.1 3.1m0-3.1l-3.1 3.1M483.4 297.1l3.1 3.1m0-3.1l-3.1 3.1M537.9 304.9l3.1 3.1m0-3.1l-3.1 3.1M481.2 308.3l3.1 3.1m0-3.1l-3.1 3.1M481.0 305.8l3.1 3.1m0-3.1l-3.1 3.1M513.1 270.7l3.1 3.1m0-3.1l-3.1 3.1M505.0 265.8l3.1 3.1m0-3.1l-3.1 3.1M484.7 309.4l3.1 3.1m0-3.1l-3.1 3.1M497.0 297.9l3.1 3.1m0-3.1l-3.1 3.1M495.4 300.7l3.1 3.1m0-3.1l-3.1 3.1M467.0 314.2l3.1 3.1m0-3.1l-3.1 3.1M500.0 277.6l3.1 3.1m0-3.1l-3.1 3.1M508.9 296.4l3.1 3.1m0-3.1l-3.1 3.1M477.8 302.2l3.1 3.1m0-3.1l-3.1 3.1M485.8 312.5l3.1 3.1m0-3.1l-3.1 3.1M451.1 308.4l3.1 3.1m0-3.1l-3.1 3.1M495.5 282.0l3.1 3.1m0-3.1l-3.1 3.1M478.9 308.1l3.1 3.1m0-3.1l-3.1 3.1M481.3 298.9l3.1 3.1m0-3.1l-3.1 3.1M481.8 309.2l3.1 3.1m0-3.1l-3.1 3.1M487.9 290.4l3.1 3.1m0-3.1l-3.1 3.1M467.7 314.8l3.1 3.1m0-3.1l-3.1 3.1M492.0 287.4l3.1 3.1m0-3.1l-3.1 3.1M487.2 306.9l3.1 3.1m0-3.1l-3.1 3.1M458.6 320.7l3.1 3.1m0-3.1l-3.1 3.1M526.7 264.8l3.1 3.1m0-3.1l-3.1 3.1M504.1 289.5l3.1 3.1m0-3.1l-3.1 3.1M477.1 313.7l3.1 3.1m0-3.1l-3.1 3.1M451.5 328.1l3.1 3.1m0-3.1l-3.1 3.1M496.3 297.8l3.1 3.1m0-3.1l-3.1 3.1M486.2 296.9l3.1 3.1m0-3.1l-3.1 3.1M450.7 325.3l3.1 3.1m0-3.1l-3.1 3.1M486.4 312.6l3.1 3.1m0-3.1l-3.1 3.1M507.7 259.6l3.1 3.1m0-3.1l-3.1 3.1M503.6 294.0l3.1 3.1m0-3.1l-3.1 3.1M461.0 303.4l3.1 3.1m0-3.1l-3.1 3.1M494.1 297.8l3.1 3.1m0-3.1l-3.1 3.1M458.4 320.9l3.1 3.1m0-3.1l-3.1 3.1M452.3 296.4l3.1 3.1m0-3.1l-3.1 3.1M452.6 322.5l3.1 3.1m0-3.1l-3.1 3.1M451.7 297.1l3.1 3.1m0-3.1l-3.1 3.1M452.6 271.2l3.1 3.1m0-3.1l-3.1 3.1M452.2 310.6l3.1 3.1m0-3.1l-3.1 3.1M452.7 302.5l3.1 3.1m0-3.1l-3.1 3.1M452.2 291.4l3.1 3.1m0-3.1l-3.1 3.1M452.0 249.4l3.1 3.1m0-3.1l-3.1 3.1M452.0 297.2l3.1 3.1m0-3.1l-3.1 3.1M452.1 308.7l3.1 3.1m0-3.1l-3.1 3.1M452.5 324.4l3.1 3.1m0-3.1l-3.1 3.1M451.9 315.5l3.1 3.1m0-3.1l-3.1 3.1M452.3 287.4l3.1 3.1m0-3.1l-3.1 3.1M452.0 311.0l3.1 3.1m0-3.1l-3.1 3.1M453.3 322.4l3.1 3.1m0-3.1l-3.1 3.1M453.3 263.6l3.1 3.1m0-3.1l-3.1 3.1M452.3 352.0l3.1 3.1m0-3.1l-3.1 3.1M452.8 314.5l3.1 3.1m0-3.1l-3.1 3.1M452.6 312.7l3.1 3.1m0-3.1l-3.1 3.1M451.8 269.5l3.1 3.1m0-3.1l-3.1 3.1M452.7 253.1l3.1 3.1m0-3.1l-3.1 3.1M451.7 286.1l3.1 3.1m0-3.1l-3.1 3.1M452.1 269.4l3.1 3.1m0-3.1l-3.1 3.1M452.1 320.3l3.1 3.1m0-3.1l-3.1 3.1M451.9 352.0l3.1 3.1m0-3.1l-3.1 3.1M451.4 283.3l3.1 3.1m0-3.1l-3.1 3.1M452.5 271.9l3.1 3.1m0-3.1l-3.1 3.1M452.7 301.4l3.1 3.1m0-3.1l-3.1 3.1M451.6 318.4l3.1 3.1m0-3.1l-3.1 3.1M451.8 277.2l3.1 3.1m0-3.1l-3.1 3.1M452.3 257.8l3.1 3.1m0-3.1l-3.1 3.1M452.9 286.8l3.1 3.1m0-3.1l-3.1 3.1M451.2 293.2l3.1 3.1m0-3.1l-3.1 3.1M452.0 249.0l3.1 3.1m0-3.1l-3.1 3.1M452.4 305.4l3.1 3.1m0-3.1l-3.1 3.1M451.4 306.0l3.1 3.1m0-3.1l-3.1 3.1M452.1 262.3l3.1 3.1m0-3.1l-3.1 3.1M453.1 263.8l3.1 3.1m0-3.1l-3.1 3.1M452.9 289.9l3.1 3.1m0-3.1l-3.1 3.1M452.6 291.6l3.1 3.1m0-3.1l-3.1 3.1M451.8 253.3l3.1 3.1m0-3.1l-3.1 3.1M452.5 278.3l3.1 3.1m0-3.1l-3.1 3.1M456.9 281.9l3.1 3.1m0-3.1l-3.1 3.1M457.2 299.4l3.1 3.1m0-3.1l-3.1 3.1M456.3 308.9l3.1 3.1m0-3.1l-3.1 3.1M457.1 288.0l3.1 3.1m0-3.1l-3.1 3.1M456.8 285.1l3.1 3.1m0-3.1l-3.1 3.1M457.6 315.4l3.1 3.1m0-3.1l-3.1 3.1M456.7 306.5l3.1 3.1m0-3.1l-3.1 3.1M456.9 282.1l3.1 3.1m0-3.1l-3.1 3.1M456.3 277.2l3.1 3.1m0-3.1l-3.1 3.1M456.5 273.9l3.1 3.1m0-3.1l-3.1 3.1M456.1 306.4l3.1 3.1m0-3.1l-3.1 3.1M456.5 287.9l3.1 3.1m0-3.1l-3.1 3.1M456.2 288.9l3.1 3.1m0-3.1l-3.1 3.1M456.7 311.0l3.1 3.1m0-3.1l-3.1 3.1M455.9 292.3l3.1 3.1m0-3.1l-3.1 3.1M456.8 291.4l3.1 3.1m0-3.1l-3.1 3.1M456.0 278.7l3.1 3.1m0-3.1l-3.1 3.1M456.4 309.9l3.1 3.1m0-3.1l-3.1 3.1M456.8 296.9l3.1 3.1m0-3.1l-3.1 3.1M457.1 300.9l3.1 3.1m0-3.1l-3.1 3.1M458.0 280.9l3.1 3.1m0-3.1l-3.1 3.1M456.6 288.2l3.1 3.1m0-3.1l-3.1 3.1M456.8 315.0l3.1 3.1m0-3.1l-3.1 3.1M457.4 276.8l3.1 3.1m0-3.1l-3.1 3.1M456.0 303.2l3.1 3.1m0-3.1l-3.1 3.1M460.1 311.7l3.1 3.1m0-3.1l-3.1 3.1M458.6 314.5l3.1 3.1m0-3.1l-3.1 3.1M460.7 281.9l3.1 3.1m0-3.1l-3.1 3.1M459.9 272.5l3.1 3.1m0-3.1l-3.1 3.1M460.2 294.9l3.1 3.1m0-3.1l-3.1 3.1M459.3 274.9l3.1 3.1m0-3.1l-3.1 3.1M460.0 270.1l3.1 3.1m0-3.1l-3.1 3.1M460.7 238.5l3.1 3.1m0-3.1l-3.1 3.1M459.2 242.1l3.1 3.1m0-3.1l-3.1 3.1M460.1 262.5l3.1 3.1m0-3.1l-3.1 3.1M460.4 292.5l3.1 3.1m0-3.1l-3.1 3.1M459.7 273.6l3.1 3.1m0-3.1l-3.1 3.1M459.3 288.4l3.1 3.1m0-3.1l-3.1 3.1M459.5 299.2l3.1 3.1m0-3.1l-3.1 3.1M460.1 249.0l3.1 3.1m0-3.1l-3.1 3.1M459.4 287.1l3.1 3.1m0-3.1l-3.1 3.1M459.4 318.5l3.1 3.1m0-3.1l-3.1 3.1M459.8 251.4l3.1 3.1m0-3.1l-3.1 3.1M460.4 254.2l3.1 3.1m0-3.1l-3.1 3.1M460.0 303.2l3.1 3.1m0-3.1l-3.1 3.1M459.7 259.2l3.1 3.1m0-3.1l-3.1 3.1M458.2 238.0l3.1 3.1m0-3.1l-3.1 3.1M458.6 278.1l3.1 3.1m0-3.1l-3.1 3.1M459.8 290.2l3.1 3.1m0-3.1l-3.1 3.1M459.2 264.4l3.1 3.1m0-3.1l-3.1 3.1M459.6 306.2l3.1 3.1m0-3.1l-3.1 3.1M460.1 352.0l3.1 3.1m0-3.1l-3.1 3.1M459.8 263.9l3.1 3.1m0-3.1l-3.1 3.1M458.0 283.1l3.1 3.1m0-3.1l-3.1 3.1M460.5 252.3l3.1 3.1m0-3.1l-3.1 3.1M459.7 241.9l3.1 3.1m0-3.1l-3.1 3.1M459.5 271.1l3.1 3.1m0-3.1l-3.1 3.1M459.4 284.5l3.1 3.1m0-3.1l-3.1 3.1M511.9 282.3l3.1 3.1m0-3.1l-3.1 3.1M491.9 290.9l3.1 3.1m0-3.1l-3.1 3.1M495.0 278.2l3.1 3.1m0-3.1l-3.1 3.1M467.8 266.5l3.1 3.1m0-3.1l-3.1 3.1M461.9 288.8l3.1 3.1m0-3.1l-3.1 3.1M451.0 284.7l3.1 3.1m0-3.1l-3.1 3.1M455.6 255.8l3.1 3.1m0-3.1l-3.1 3.1M471.2 286.8l3.1 3.1m0-3.1l-3.1 3.1M497.6 278.5l3.1 3.1m0-3.1l-3.1 3.1M475.0 290.2l3.1 3.1m0-3.1l-3.1 3.1M474.1 282.0l3.1 3.1m0-3.1l-3.1 3.1M495.9 289.5l3.1 3.1m0-3.1l-3.1 3.1M499.7 286.6l3.1 3.1m0-3.1l-3.1 3.1M487.3 247.7l3.1 3.1m0-3.1l-3.1 3.1M459.3 289.4l3.1 3.1m0-3.1l-3.1 3.1M505.7 290.0l3.1 3.1m0-3.1l-3.1 3.1M488.0 277.8l3.1 3.1m0-3.1l-3.1 3.1M480.3 224.7l3.1 3.1m0-3.1l-3.1 3.1M487.1 243.6l3.1 3.1m0-3.1l-3.1 3.1M486.0 244.1l3.1 3.1m0-3.1l-3.1 3.1M451.3 289.2l3.1 3.1m0-3.1l-3.1 3.1M476.5 258.0l3.1 3.1m0-3.1l-3.1 3.1M455.2 285.4l3.1 3.1m0-3.1l-3.1 3.1M458.2 236.5l3.1 3.1m0-3.1l-3.1 3.1M491.7 286.0l3.1 3.1m0-3.1l-3.1 3.1M462.3 218.3l3.1 3.1m0-3.1l-3.1 3.1M460.0 244.5l3.1 3.1m0-3.1l-3.1 3.1M491.6 290.5l3.1 3.1m0-3.1l-3.1 3.1M489.5 285.6l3.1 3.1m0-3.1l-3.1 3.1M490.1 288.7l3.1 3.1m0-3.1l-3.1 3.1M460.5 285.3l3.1 3.1m0-3.1l-3.1 3.1M454.8 286.3l3.1 3.1m0-3.1l-3.1 3.1M488.4 284.5l3.1 3.1m0-3.1l-3.1 3.1M498.3 290.5l3.1 3.1m0-3.1l-3.1 3.1M457.6 250.6l3.1 3.1m0-3.1l-3.1 3.1M489.5 280.3l3.1 3.1m0-3.1l-3.1 3.1M454.5 290.4l3.1 3.1m0-3.1l-3.1 3.1M462.4 284.3l3.1 3.1m0-3.1l-3.1 3.1M491.2 288.0l3.1 3.1m0-3.1l-3.1 3.1M475.3 290.8l3.1 3.1m0-3.1l-3.1 3.1M458.9 290.8l3.1 3.1m0-3.1l-3.1 3.1M461.5 283.0l3.1 3.1m0-3.1l-3.1 3.1M511.7 251.5l3.1 3.1m0-3.1l-3.1 3.1M464.2 253.2l3.1 3.1m0-3.1l-3.1 3.1M474.4 269.8l3.1 3.1m0-3.1l-3.1 3.1M452.0 265.0l3.1 3.1m0-3.1l-3.1 3.1M502.3 289.9l3.1 3.1m0-3.1l-3.1 3.1M522.9 244.0l3.1 3.1m0-3.1l-3.1 3.1M482.9 249.2l3.1 3.1m0-3.1l-3.1 3.1M446.3 288.1l3.1 3.1m0-3.1l-3.1 3.1M468.4 245.3l3.1 3.1m0-3.1l-3.1 3.1M449.9 228.9l3.1 3.1m0-3.1l-3.1 3.1M479.0 274.3l3.1 3.1m0-3.1l-3.1 3.1M446.3 285.9l3.1 3.1m0-3.1l-3.1 3.1M501.1 231.0l3.1 3.1m0-3.1l-3.1 3.1M473.7 254.9l3.1 3.1m0-3.1l-3.1 3.1M525.4 267.1l3.1 3.1m0-3.1l-3.1 3.1M518.5 261.3l3.1 3.1m0-3.1l-3.1 3.1M491.5 218.8l3.1 3.1m0-3.1l-3.1 3.1M472.3 223.5l3.1 3.1m0-3.1l-3.1 3.1M449.1 290.8l3.1 3.1m0-3.1l-3.1 3.1M500.4 289.8l3.1 3.1m0-3.1l-3.1 3.1M450.3 256.2l3.1 3.1m0-3.1l-3.1 3.1M491.5 236.7l3.1 3.1m0-3.1l-3.1 3.1M472.5 285.5l3.1 3.1m0-3.1l-3.1 3.1M492.1 268.4l3.1 3.1m0-3.1l-3.1 3.1M458.3 275.9l3.1 3.1m0-3.1l-3.1 3.1M471.4 253.2l3.1 3.1m0-3.1l-3.1 3.1M455.1 230.8l3.1 3.1m0-3.1l-3.1 3.1M455.4 247.8l3.1 3.1m0-3.1l-3.1 3.1M462.7 229.0l3.1 3.1m0-3.1l-3.1 3.1M516.3 258.5l3.1 3.1m0-3.1l-3.1 3.1M483.5 225.1l3.1 3.1m0-3.1l-3.1 3.1M515.5 248.1l3.1 3.1m0-3.1l-3.1 3.1M507.6 289.8l3.1 3.1m0-3.1l-3.1 3.1M455.4 256.7l3.1 3.1m0-3.1l-3.1 3.1M461.0 290.5l3.1 3.1m0-3.1l-3.1 3.1M478.0 260.3l3.1 3.1m0-3.1l-3.1 3.1M448.3 289.6l3.1 3.1m0-3.1l-3.1 3.1M451.9 288.1l3.1 3.1m0-3.1l-3.1 3.1M463.3 269.9l3.1 3.1m0-3.1l-3.1 3.1M510.1 251.8l3.1 3.1m0-3.1l-3.1 3.1M454.0 223.2l3.1 3.1m0-3.1l-3.1 3.1M514.9 267.8l3.1 3.1m0-3.1l-3.1 3.1M475.4 268.7l3.1 3.1m0-3.1l-3.1 3.1M492.5 244.5l3.1 3.1m0-3.1l-3.1 3.1M487.0 283.0l3.1 3.1m0-3.1l-3.1 3.1M453.7 251.6l3.1 3.1m0-3.1l-3.1 3.1M501.1 288.5l3.1 3.1m0-3.1l-3.1 3.1M511.6 230.2l3.1 3.1m0-3.1l-3.1 3.1M479.0 261.3l3.1 3.1m0-3.1l-3.1 3.1M450.4 255.2l3.1 3.1m0-3.1l-3.1 3.1M489.5 244.4l3.1 3.1m0-3.1l-3.1 3.1M449.2 220.4l3.1 3.1m0-3.1l-3.1 3.1M507.9 261.9l3.1 3.1m0-3.1l-3.1 3.1M490.8 251.4l3.1 3.1m0-3.1l-3.1 3.1M454.9 226.3l3.1 3.1m0-3.1l-3.1 3.1M475.4 278.0l3.1 3.1m0-3.1l-3.1 3.1M537.0 262.5l3.1 3.1m0-3.1l-3.1 3.1M575.1 285.5l3.1 3.1m0-3.1l-3.1 3.1M532.6 258.0l3.1 3.1m0-3.1l-3.1 3.1M572.3 283.5l3.1 3.1m0-3.1l-3.1 3.1M547.4 266.4l3.1 3.1m0-3.1l-3.1 3.1M576.6 288.4l3.1 3.1m0-3.1l-3.1 3.1M526.8 260.4l3.1 3.1m0-3.1l-3.1 3.1M527.1 272.6l3.1 3.1m0-3.1l-3.1 3.1M536.6 299.0l3.1 3.1m0-3.1l-3.1 3.1M542.6 270.8l3.1 3.1m0-3.1l-3.1 3.1M511.3 284.9l3.1 3.1m0-3.1l-3.1 3.1M579.2 285.7l3.1 3.1m0-3.1l-3.1 3.1M600.7 305.5l3.1 3.1m0-3.1l-3.1 3.1M524.7 265.3l3.1 3.1m0-3.1l-3.1 3.1M553.7 301.2l3.1 3.1m0-3.1l-3.1 3.1M594.6 301.1l3.1 3.1m0-3.1l-3.1 3.1M546.5 303.7l3.1 3.1m0-3.1l-3.1 3.1M517.2 295.2l3.1 3.1m0-3.1l-3.1 3.1M534.6 307.3l3.1 3.1m0-3.1l-3.1 3.1M534.0 263.1l3.1 3.1m0-3.1l-3.1 3.1M544.5 296.9l3.1 3.1m0-3.1l-3.1 3.1M598.0 325.2l3.1 3.1m0-3.1l-3.1 3.1M554.2 303.7l3.1 3.1m0-3.1l-3.1 3.1M515.6 269.1l3.1 3.1m0-3.1l-3.1 3.1M537.4 263.5l3.1 3.1m0-3.1l-3.1 3.1M575.2 307.4l3.1 3.1m0-3.1l-3.1 3.1M532.8 248.7l3.1 3.1m0-3.1l-3.1 3.1M535.4 261.7l3.1 3.1m0-3.1l-3.1 3.1M549.6 300.1l3.1 3.1m0-3.1l-3.1 3.1M601.4 310.9l3.1 3.1m0-3.1l-3.1 3.1M556.8 274.9l3.1 3.1m0-3.1l-3.1 3.1M508.8 302.2l3.1 3.1m0-3.1l-3.1 3.1M537.3 268.9l3.1 3.1m0-3.1l-3.1 3.1M585.6 289.3l3.1 3.1m0-3.1l-3.1 3.1M554.0 281.9l3.1 3.1m0-3.1l-3.1 3.1M532.4 269.0l3.1 3.1m0-3.1l-3.1 3.1M596.1 300.3l3.1 3.1m0-3.1l-3.1 3.1M600.7 324.0l3.1 3.1m0-3.1l-3.1 3.1M541.5 305.9l3.1 3.1m0-3.1l-3.1 3.1M575.5 282.9l3.1 3.1m0-3.1l-3.1 3.1M515.6 281.2l3.1 3.1m0-3.1l-3.1 3.1M515.2 260.9l3.1 3.1m0-3.1l-3.1 3.1M580.8 284.6l3.1 3.1m0-3.1l-3.1 3.1M559.3 278.1l3.1 3.1m0-3.1l-3.1 3.1M582.8 312.2l3.1 3.1m0-3.1l-3.1 3.1M587.5 294.7l3.1 3.1m0-3.1l-3.1 3.1M587.5 291.5l3.1 3.1m0-3.1l-3.1 3.1M596.5 320.3l3.1 3.1m0-3.1l-3.1 3.1M569.5 279.6l3.1 3.1m0-3.1l-3.1 3.1M592.0 296.4l3.1 3.1m0-3.1l-3.1 3.1M583.6 311.3l3.1 3.1m0-3.1l-3.1 3.1M584.3 316.6l3.1 3.1m0-3.1l-3.1 3.1M597.9 332.8l3.1 3.1m0-3.1l-3.1 3.1M597.8 340.1l3.1 3.1m0-3.1l-3.1 3.1M578.2 311.7l3.1 3.1m0-3.1l-3.1 3.1M576.5 306.9l3.1 3.1m0-3.1l-3.1 3.1M576.7 282.8l3.1 3.1m0-3.1l-3.1 3.1M601.3 307.9l3.1 3.1m0-3.1l-3.1 3.1M570.2 312.5l3.1 3.1m0-3.1l-3.1 3.1M570.9 307.7l3.1 3.1m0-3.1l-3.1 3.1M551.3 277.0l3.1 3.1m0-3.1l-3.1 3.1M555.9 305.6l3.1 3.1m0-3.1l-3.1 3.1M556.6 279.0l3.1 3.1m0-3.1l-3.1 3.1M595.7 331.0l3.1 3.1m0-3.1l-3.1 3.1M522.0 268.9l3.1 3.1m0-3.1l-3.1 3.1M597.8 301.5l3.1 3.1m0-3.1l-3.1 3.1M534.3 266.4l3.1 3.1m0-3.1l-3.1 3.1M601.0 320.1l3.1 3.1m0-3.1l-3.1 3.1M535.2 259.5l3.1 3.1m0-3.1l-3.1 3.1M567.3 284.1l3.1 3.1m0-3.1l-3.1 3.1M517.3 314.8l3.1 3.1m0-3.1l-3.1 3.1M548.9 277.8l3.1 3.1m0-3.1l-3.1 3.1M507.1 310.8l3.1 3.1m0-3.1l-3.1 3.1M592.5 297.2l3.1 3.1m0-3.1l-3.1 3.1M564.5 302.3l3.1 3.1m0-3.1l-3.1 3.1M521.8 305.3l3.1 3.1m0-3.1l-3.1 3.1M518.4 295.8l3.1 3.1m0-3.1l-3.1 3.1M515.8 273.3l3.1 3.1m0-3.1l-3.1 3.1M554.6 273.9l3.1 3.1m0-3.1l-3.1 3.1M571.5 277.9l3.1 3.1m0-3.1l-3.1 3.1M523.3 312.8l3.1 3.1m0-3.1l-3.1 3.1M531.7 263.5l3.1 3.1m0-3.1l-3.1 3.1M570.8 285.3l3.1 3.1m0-3.1l-3.1 3.1M601.1 318.0l3.1 3.1m0-3.1l-3.1 3.1M601.4 320.3l3.1 3.1m0-3.1l-3.1 3.1M599.7 324.1l3.1 3.1m0-3.1l-3.1 3.1M537.4 265.6l3.1 3.1m0-3.1l-3.1 3.1M533.6 272.0l3.1 3.1m0-3.1l-3.1 3.1M600.4 329.2l3.1 3.1m0-3.1l-3.1 3.1M578.5 286.1l3.1 3.1m0-3.1l-3.1 3.1M525.9 271.0l3.1 3.1m0-3.1l-3.1 3.1M518.0 270.1l3.1 3.1m0-3.1l-3.1 3.1M553.5 275.9l3.1 3.1m0-3.1l-3.1 3.1M569.1 309.4l3.1 3.1m0-3.1l-3.1 3.1M579.2 308.4l3.1 3.1m0-3.1l-3.1 3.1M526.8 305.3l3.1 3.1m0-3.1l-3.1 3.1M575.9 312.5l3.1 3.1m0-3.1l-3.1 3.1M565.7 283.5l3.1 3.1m0-3.1l-3.1 3.1M588.1 311.9l3.1 3.1m0-3.1l-3.1 3.1M583.3 288.6l3.1 3.1m0-3.1l-3.1 3.1M553.1 300.4l3.1 3.1m0-3.1l-3.1 3.1M517.0 295.3l3.1 3.1m0-3.1l-3.1 3.1M598.7 330.5l3.1 3.1m0-3.1l-3.1 3.1M534.2 271.7l3.1 3.1m0-3.1l-3.1 3.1M546.5 273.7l3.1 3.1m0-3.1l-3.1 3.1M511.8 269.7l3.1 3.1m0-3.1l-3.1 3.1M576.5 286.6l3.1 3.1m0-3.1l-3.1 3.1M524.8 271.0l3.1 3.1m0-3.1l-3.1 3.1M543.0 264.4l3.1 3.1m0-3.1l-3.1 3.1M543.0 263.9l3.1 3.1m0-3.1l-3.1 3.1M570.9 310.2l3.1 3.1m0-3.1l-3.1 3.1M543.8 259.6l3.1 3.1m0-3.1l-3.1 3.1M577.5 313.9l3.1 3.1m0-3.1l-3.1 3.1M519.8 307.9l3.1 3.1m0-3.1l-3.1 3.1M542.7 273.1l3.1 3.1m0-3.1l-3.1 3.1M601.0 315.0l3.1 3.1m0-3.1l-3.1 3.1M559.9 311.7l3.1 3.1m0-3.1l-3.1 3.1M516.8 298.2l3.1 3.1m0-3.1l-3.1 3.1M596.4 324.1l3.1 3.1m0-3.1l-3.1 3.1M521.4 311.6l3.1 3.1m0-3.1l-3.1 3.1M594.4 317.9l3.1 3.1m0-3.1l-3.1 3.1M574.7 279.2l3.1 3.1m0-3.1l-3.1 3.1M510.3 276.8l3.1 3.1m0-3.1l-3.1 3.1M543.8 272.7l3.1 3.1m0-3.1l-3.1 3.1M523.2 262.4l3.1 3.1m0-3.1l-3.1 3.1M598.9 305.4l3.1 3.1m0-3.1l-3.1 3.1M538.4 275.8l3.1 3.1m0-3.1l-3.1 3.1M570.9 281.8l3.1 3.1m0-3.1l-3.1 3.1M545.0 273.9l3.1 3.1m0-3.1l-3.1 3.1M512.6 293.3l3.1 3.1m0-3.1l-3.1 3.1M577.8 285.7l3.1 3.1m0-3.1l-3.1 3.1M563.1 282.3l3.1 3.1m0-3.1l-3.1 3.1M529.5 270.6l3.1 3.1m0-3.1l-3.1 3.1M592.4 298.7l3.1 3.1m0-3.1l-3.1 3.1M552.7 301.6l3.1 3.1m0-3.1l-3.1 3.1M569.2 304.7l3.1 3.1m0-3.1l-3.1 3.1M501.0 305.1l3.1 3.1m0-3.1l-3.1 3.1M520.3 289.8l3.1 3.1m0-3.1l-3.1 3.1M523.5 271.6l3.1 3.1m0-3.1l-3.1 3.1M601.7 318.8l3.1 3.1m0-3.1l-3.1 3.1M590.5 316.3l3.1 3.1m0-3.1l-3.1 3.1M579.5 282.5l3.1 3.1m0-3.1l-3.1 3.1M531.1 262.0l3.1 3.1m0-3.1l-3.1 3.1M516.9 311.5l3.1 3.1m0-3.1l-3.1 3.1M521.7 272.2l3.1 3.1m0-3.1l-3.1 3.1M526.4 268.5l3.1 3.1m0-3.1l-3.1 3.1M598.1 324.6l3.1 3.1m0-3.1l-3.1 3.1M601.0 301.5l3.1 3.1m0-3.1l-3.1 3.1M572.1 305.9l3.1 3.1m0-3.1l-3.1 3.1M592.3 290.7l3.1 3.1m0-3.1l-3.1 3.1M531.2 264.0l3.1 3.1m0-3.1l-3.1 3.1M584.1 289.4l3.1 3.1m0-3.1l-3.1 3.1M576.7 308.6l3.1 3.1m0-3.1l-3.1 3.1M537.0 304.1l3.1 3.1m0-3.1l-3.1 3.1M518.1 310.6l3.1 3.1m0-3.1l-3.1 3.1M576.5 306.9l3.1 3.1m0-3.1l-3.1 3.1M534.3 301.8l3.1 3.1m0-3.1l-3.1 3.1M531.7 269.4l3.1 3.1m0-3.1l-3.1 3.1M511.6 276.0l3.1 3.1m0-3.1l-3.1 3.1M557.0 305.7l3.1 3.1m0-3.1l-3.1 3.1M523.8 259.2l3.1 3.1m0-3.1l-3.1 3.1M565.0 286.8l3.1 3.1m0-3.1l-3.1 3.1M588.5 295.0l3.1 3.1m0-3.1l-3.1 3.1M580.7 309.8l3.1 3.1m0-3.1l-3.1 3.1M520.0 270.2l3.1 3.1m0-3.1l-3.1 3.1M545.5 303.5l3.1 3.1m0-3.1l-3.1 3.1M565.2 306.8l3.1 3.1m0-3.1l-3.1 3.1M540.3 265.6l3.1 3.1m0-3.1l-3.1 3.1M555.4 282.0l3.1 3.1m0-3.1l-3.1 3.1M557.7 313.0l3.1 3.1m0-3.1l-3.1 3.1M520.9 244.6l3.1 3.1m0-3.1l-3.1 3.1M552.7 276.5l3.1 3.1m0-3.1l-3.1 3.1M546.0 301.9l3.1 3.1m0-3.1l-3.1 3.1M545.1 272.9l3.1 3.1m0-3.1l-3.1 3.1M553.2 272.5l3.1 3.1m0-3.1l-3.1 3.1M601.3 313.5l3.1 3.1m0-3.1l-3.1 3.1M595.6 295.4l3.1 3.1m0-3.1l-3.1 3.1M549.2 260.7l3.1 3.1m0-3.1l-3.1 3.1M586.3 322.8l3.1 3.1m0-3.1l-3.1 3.1M587.5 322.7l3.1 3.1m0-3.1l-3.1 3.1M541.2 273.8l3.1 3.1m0-3.1l-3.1 3.1M573.9 305.0l3.1 3.1m0-3.1l-3.1 3.1M514.3 265.2l3.1 3.1m0-3.1l-3.1 3.1M511.3 277.7l3.1 3.1m0-3.1l-3.1 3.1M545.2 303.3l3.1 3.1m0-3.1l-3.1 3.1M508.5 298.2l3.1 3.1m0-3.1l-3.1 3.1M563.0 279.6l3.1 3.1m0-3.1l-3.1 3.1M586.0 293.5l3.1 3.1m0-3.1l-3.1 3.1M528.4 303.1l3.1 3.1m0-3.1l-3.1 3.1M589.1 293.5l3.1 3.1m0-3.1l-3.1 3.1M506.7 310.7l3.1 3.1m0-3.1l-3.1 3.1M600.5 321.8l3.1 3.1m0-3.1l-3.1 3.1M567.1 306.5l3.1 3.1m0-3.1l-3.1 3.1M598.7 332.3l3.1 3.1m0-3.1l-3.1 3.1M601.3 316.3l3.1 3.1m0-3.1l-3.1 3.1M571.8 309.1l3.1 3.1m0-3.1l-3.1 3.1M558.8 279.1l3.1 3.1m0-3.1l-3.1 3.1M578.5 282.4l3.1 3.1m0-3.1l-3.1 3.1M583.8 286.4l3.1 3.1m0-3.1l-3.1 3.1M543.1 301.8l3.1 3.1m0-3.1l-3.1 3.1M539.5 272.6l3.1 3.1m0-3.1l-3.1 3.1M572.9 309.7l3.1 3.1m0-3.1l-3.1 3.1M515.9 293.7l3.1 3.1m0-3.1l-3.1 3.1M601.1 306.5l3.1 3.1m0-3.1l-3.1 3.1M588.5 311.1l3.1 3.1m0-3.1l-3.1 3.1M551.5 279.3l3.1 3.1m0-3.1l-3.1 3.1M567.6 305.2l3.1 3.1m0-3.1l-3.1 3.1M591.1 296.5l3.1 3.1m0-3.1l-3.1 3.1M572.4 284.9l3.1 3.1m0-3.1l-3.1 3.1M601.6 333.5l3.1 3.1m0-3.1l-3.1 3.1M517.9 274.2l3.1 3.1m0-3.1l-3.1 3.1M586.5 311.1l3.1 3.1m0-3.1l-3.1 3.1M601.5 307.2l3.1 3.1m0-3.1l-3.1 3.1M508.4 282.7l3.1 3.1m0-3.1l-3.1 3.1M527.8 255.0l3.1 3.1m0-3.1l-3.1 3.1M572.4 280.5l3.1 3.1m0-3.1l-3.1 3.1M561.1 286.9l3.1 3.1m0-3.1l-3.1 3.1M593.9 300.3l3.1 3.1m0-3.1l-3.1 3.1M520.5 291.2l3.1 3.1m0-3.1l-3.1 3.1M552.1 278.5l3.1 3.1m0-3.1l-3.1 3.1M551.4 268.9l3.1 3.1m0-3.1l-3.1 3.1M516.0 328.5l3.1 3.1m0-3.1l-3.1 3.1M549.8 307.1l3.1 3.1m0-3.1l-3.1 3.1M535.0 265.4l3.1 3.1m0-3.1l-3.1 3.1M562.6 284.6l3.1 3.1m0-3.1l-3.1 3.1M554.5 273.9l3.1 3.1m0-3.1l-3.1 3.1M515.4 299.4l3.1 3.1m0-3.1l-3.1 3.1M597.4 301.8l3.1 3.1m0-3.1l-3.1 3.1M512.3 295.4l3.1 3.1m0-3.1l-3.1 3.1M533.0 254.9l3.1 3.1m0-3.1l-3.1 3.1M546.1 267.9l3.1 3.1m0-3.1l-3.1 3.1M563.5 280.8l3.1 3.1m0-3.1l-3.1 3.1M599.3 322.1l3.1 3.1m0-3.1l-3.1 3.1M580.8 309.2l3.1 3.1m0-3.1l-3.1 3.1M553.0 277.6l3.1 3.1m0-3.1l-3.1 3.1M562.8 308.2l3.1 3.1m0-3.1l-3.1 3.1M557.0 275.1l3.1 3.1m0-3.1l-3.1 3.1M529.4 256.5l3.1 3.1m0-3.1l-3.1 3.1M574.0 305.4l3.1 3.1m0-3.1l-3.1 3.1M601.7 307.2l3.1 3.1m0-3.1l-3.1 3.1M555.4 305.7l3.1 3.1m0-3.1l-3.1 3.1M557.7 272.8l3.1 3.1m0-3.1l-3.1 3.1M534.9 263.5l3.1 3.1m0-3.1l-3.1 3.1M549.7 263.0l3.1 3.1m0-3.1l-3.1 3.1M540.6 299.7l3.1 3.1m0-3.1l-3.1 3.1M592.9 322.1l3.1 3.1m0-3.1l-3.1 3.1M594.3 319.9l3.1 3.1m0-3.1l-3.1 3.1M574.7 288.7l3.1 3.1m0-3.1l-3.1 3.1M520.1 257.5l3.1 3.1m0-3.1l-3.1 3.1M582.5 289.8l3.1 3.1m0-3.1l-3.1 3.1M552.9 278.3l3.1 3.1m0-3.1l-3.1 3.1M572.4 279.1l3.1 3.1m0-3.1l-3.1 3.1M568.2 303.4l3.1 3.1m0-3.1l-3.1 3.1M572.5 305.2l3.1 3.1m0-3.1l-3.1 3.1M556.7 277.1l3.1 3.1m0-3.1l-3.1 3.1M584.8 312.4l3.1 3.1m0-3.1l-3.1 3.1M565.8 283.3l3.1 3.1m0-3.1l-3.1 3.1M549.0 307.8l3.1 3.1m0-3.1l-3.1 3.1M520.3 267.3l3.1 3.1m0-3.1l-3.1 3.1M591.4 288.5l3.1 3.1m0-3.1l-3.1 3.1M558.2 301.6l3.1 3.1m0-3.1l-3.1 3.1M547.0 277.4l3.1 3.1m0-3.1l-3.1 3.1M536.4 265.0l3.1 3.1m0-3.1l-3.1 3.1M527.6 268.7l3.1 3.1m0-3.1l-3.1 3.1M514.2 261.5l3.1 3.1m0-3.1l-3.1 3.1M588.6 318.2l3.1 3.1m0-3.1l-3.1 3.1M537.6 305.1l3.1 3.1m0-3.1l-3.1 3.1M505.5 278.0l3.1 3.1m0-3.1l-3.1 3.1M506.7 278.3l3.1 3.1m0-3.1l-3.1 3.1M590.3 318.4l3.1 3.1m0-3.1l-3.1 3.1M575.8 308.0l3.1 3.1m0-3.1l-3.1 3.1M527.0 266.0l3.1 3.1m0-3.1l-3.1 3.1M539.5 302.1l3.1 3.1m0-3.1l-3.1 3.1M584.5 289.3l3.1 3.1m0-3.1l-3.1 3.1M509.9 280.1l3.1 3.1m0-3.1l-3.1 3.1M521.5 273.3l3.1 3.1m0-3.1l-3.1 3.1M542.2 296.4l3.1 3.1m0-3.1l-3.1 3.1M590.2 297.6l3.1 3.1m0-3.1l-3.1 3.1M536.3 273.2l3.1 3.1m0-3.1l-3.1 3.1M577.2 283.3l3.1 3.1m0-3.1l-3.1 3.1M554.3 280.3l3.1 3.1m0-3.1l-3.1 3.1M526.7 306.0l3.1 3.1m0-3.1l-3.1 3.1M556.5 309.8l3.1 3.1m0-3.1l-3.1 3.1M601.6 324.5l3.1 3.1m0-3.1l-3.1 3.1M511.1 274.7l3.1 3.1m0-3.1l-3.1 3.1M581.0 310.9l3.1 3.1m0-3.1l-3.1 3.1M599.7 290.6l3.1 3.1m0-3.1l-3.1 3.1M563.1 274.9l3.1 3.1m0-3.1l-3.1 3.1M601.8 306.2l3.1 3.1m0-3.1l-3.1 3.1M572.1 308.2l3.1 3.1m0-3.1l-3.1 3.1M601.0 312.4l3.1 3.1m0-3.1l-3.1 3.1M586.5 309.2l3.1 3.1m0-3.1l-3.1 3.1M520.8 252.1l3.1 3.1m0-3.1l-3.1 3.1M557.7 278.6l3.1 3.1m0-3.1l-3.1 3.1M600.8 295.9l3.1 3.1m0-3.1l-3.1 3.1M503.3 291.1l3.1 3.1m0-3.1l-3.1 3.1M600.2 293.8l3.1 3.1m0-3.1l-3.1 3.1M535.6 251.3l3.1 3.1m0-3.1l-3.1 3.1M572.2 309.0l3.1 3.1m0-3.1l-3.1 3.1M571.9 308.9l3.1 3.1m0-3.1l-3.1 3.1M567.9 305.1l3.1 3.1m0-3.1l-3.1 3.1M559.3 303.9l3.1 3.1m0-3.1l-3.1 3.1M533.7 308.2l3.1 3.1m0-3.1l-3.1 3.1M589.8 316.2l3.1 3.1m0-3.1l-3.1 3.1M583.0 285.4l3.1 3.1m0-3.1l-3.1 3.1M589.1 316.0l3.1 3.1m0-3.1l-3.1 3.1M588.2 296.8l3.1 3.1m0-3.1l-3.1 3.1M593.0 314.0l3.1 3.1m0-3.1l-3.1 3.1M592.4 316.9l3.1 3.1m0-3.1l-3.1 3.1M559.2 302.8l3.1 3.1m0-3.1l-3.1 3.1M552.4 302.5l3.1 3.1m0-3.1l-3.1 3.1M566.9 309.9l3.1 3.1m0-3.1l-3.1 3.1M536.3 307.1l3.1 3.1m0-3.1l-3.1 3.1M553.2 306.1l3.1 3.1m0-3.1l-3.1 3.1M601.8 308.3l3.1 3.1m0-3.1l-3.1 3.1M573.0 283.2l3.1 3.1m0-3.1l-3.1 3.1M545.1 302.9l3.1 3.1m0-3.1l-3.1 3.1M532.5 259.1l3.1 3.1m0-3.1l-3.1 3.1M517.7 296.1l3.1 3.1m0-3.1l-3.1 3.1M519.1 251.4l3.1 3.1m0-3.1l-3.1 3.1M600.6 307.9l3.1 3.1m0-3.1l-3.1 3.1M599.2 294.9l3.1 3.1m0-3.1l-3.1 3.1M542.5 307.8l3.1 3.1m0-3.1l-3.1 3.1M556.9 305.4l3.1 3.1m0-3.1l-3.1 3.1M528.2 268.1l3.1 3.1m0-3.1l-3.1 3.1M544.1 296.0l3.1 3.1m0-3.1l-3.1 3.1M535.8 302.8l3.1 3.1m0-3.1l-3.1 3.1M553.0 301.5l3.1 3.1m0-3.1l-3.1 3.1M565.5 320.2l3.1 3.1m0-3.1l-3.1 3.1M536.1 298.4l3.1 3.1m0-3.1l-3.1 3.1M598.0 296.6l3.1 3.1m0-3.1l-3.1 3.1M546.7 275.9l3.1 3.1m0-3.1l-3.1 3.1M560.5 283.0l3.1 3.1m0-3.1l-3.1 3.1M572.1 309.7l3.1 3.1m0-3.1l-3.1 3.1M601.8 306.1l3.1 3.1m0-3.1l-3.1 3.1M576.7 280.5l3.1 3.1m0-3.1l-3.1 3.1M538.7 268.5l3.1 3.1m0-3.1l-3.1 3.1M537.1 275.4l3.1 3.1m0-3.1l-3.1 3.1M544.9 274.8l3.1 3.1m0-3.1l-3.1 3.1M528.2 308.5l3.1 3.1m0-3.1l-3.1 3.1M523.2 246.2l3.1 3.1m0-3.1l-3.1 3.1M543.6 273.7l3.1 3.1m0-3.1l-3.1 3.1M583.1 307.7l3.1 3.1m0-3.1l-3.1 3.1M592.0 315.3l3.1 3.1m0-3.1l-3.1 3.1M529.8 265.3l3.1 3.1m0-3.1l-3.1 3.1M573.6 283.2l3.1 3.1m0-3.1l-3.1 3.1M600.0 319.9l3.1 3.1m0-3.1l-3.1 3.1M529.8 308.7l3.1 3.1m0-3.1l-3.1 3.1M580.9 292.6l3.1 3.1m0-3.1l-3.1 3.1M541.2 268.0l3.1 3.1m0-3.1l-3.1 3.1M559.2 278.1l3.1 3.1m0-3.1l-3.1 3.1M525.0 256.8l3.1 3.1m0-3.1l-3.1 3.1M558.1 299.3l3.1 3.1m0-3.1l-3.1 3.1M538.1 269.4l3.1 3.1m0-3.1l-3.1 3.1M601.2 311.7l3.1 3.1m0-3.1l-3.1 3.1M537.1 270.4l3.1 3.1m0-3.1l-3.1 3.1M561.3 307.6l3.1 3.1m0-3.1l-3.1 3.1M557.7 301.5l3.1 3.1m0-3.1l-3.1 3.1M601.3 314.5l3.1 3.1m0-3.1l-3.1 3.1M587.7 295.9l3.1 3.1m0-3.1l-3.1 3.1M564.6 306.6l3.1 3.1m0-3.1l-3.1 3.1M588.4 311.8l3.1 3.1m0-3.1l-3.1 3.1M589.1 313.4l3.1 3.1m0-3.1l-3.1 3.1M533.7 310.0l3.1 3.1m0-3.1l-3.1 3.1M583.4 307.3l3.1 3.1m0-3.1l-3.1 3.1M500.6 277.7l3.1 3.1m0-3.1l-3.1 3.1M545.1 304.3l3.1 3.1m0-3.1l-3.1 3.1M517.1 306.8l3.1 3.1m0-3.1l-3.1 3.1M575.8 310.3l3.1 3.1m0-3.1l-3.1 3.1M590.3 312.9l3.1 3.1m0-3.1l-3.1 3.1M601.3 319.8l3.1 3.1m0-3.1l-3.1 3.1M593.3 315.1l3.1 3.1m0-3.1l-3.1 3.1M515.6 265.7l3.1 3.1m0-3.1l-3.1 3.1M589.8 313.6l3.1 3.1m0-3.1l-3.1 3.1M583.4 309.5l3.1 3.1m0-3.1l-3.1 3.1M585.8 320.9l3.1 3.1m0-3.1l-3.1 3.1M563.6 276.6l3.1 3.1m0-3.1l-3.1 3.1M518.4 264.3l3.1 3.1m0-3.1l-3.1 3.1M556.0 301.5l3.1 3.1m0-3.1l-3.1 3.1M509.4 278.8l3.1 3.1m0-3.1l-3.1 3.1M574.2 275.9l3.1 3.1m0-3.1l-3.1 3.1M505.7 298.3l3.1 3.1m0-3.1l-3.1 3.1M580.2 287.9l3.1 3.1m0-3.1l-3.1 3.1M590.1 293.2l3.1 3.1m0-3.1l-3.1 3.1M533.0 250.7l3.1 3.1m0-3.1l-3.1 3.1M562.7 276.3l3.1 3.1m0-3.1l-3.1 3.1M550.7 301.9l3.1 3.1m0-3.1l-3.1 3.1M510.2 285.1l3.1 3.1m0-3.1l-3.1 3.1M601.5 313.8l3.1 3.1m0-3.1l-3.1 3.1M528.4 270.0l3.1 3.1m0-3.1l-3.1 3.1M578.2 309.7l3.1 3.1m0-3.1l-3.1 3.1M529.0 274.4l3.1 3.1m0-3.1l-3.1 3.1M566.2 283.7l3.1 3.1m0-3.1l-3.1 3.1M545.0 307.0l3.1 3.1m0-3.1l-3.1 3.1M597.5 299.4l3.1 3.1m0-3.1l-3.1 3.1M537.7 309.5l3.1 3.1m0-3.1l-3.1 3.1M601.1 319.8l3.1 3.1m0-3.1l-3.1 3.1M547.7 278.6l3.1 3.1m0-3.1l-3.1 3.1M552.3 274.0l3.1 3.1m0-3.1l-3.1 3.1M546.6 273.0l3.1 3.1m0-3.1l-3.1 3.1M574.5 288.3l3.1 3.1m0-3.1l-3.1 3.1M534.4 298.2l3.1 3.1m0-3.1l-3.1 3.1M564.3 301.8l3.1 3.1m0-3.1l-3.1 3.1M514.9 282.1l3.1 3.1m0-3.1l-3.1 3.1M514.4 269.3l3.1 3.1m0-3.1l-3.1 3.1M549.0 277.8l3.1 3.1m0-3.1l-3.1 3.1M600.8 307.4l3.1 3.1m0-3.1l-3.1 3.1M526.6 273.6l3.1 3.1m0-3.1l-3.1 3.1M580.7 286.2l3.1 3.1m0-3.1l-3.1 3.1M588.8 289.5l3.1 3.1m0-3.1l-3.1 3.1M503.8 307.9l3.1 3.1m0-3.1l-3.1 3.1M576.4 313.3l3.1 3.1m0-3.1l-3.1 3.1M599.7 330.9l3.1 3.1m0-3.1l-3.1 3.1M585.7 309.3l3.1 3.1m0-3.1l-3.1 3.1M587.7 309.3l3.1 3.1m0-3.1l-3.1 3.1M561.5 282.0l3.1 3.1m0-3.1l-3.1 3.1M601.0 311.6l3.1 3.1m0-3.1l-3.1 3.1M567.8 310.4l3.1 3.1m0-3.1l-3.1 3.1M554.2 275.6l3.1 3.1m0-3.1l-3.1 3.1M534.9 267.5l3.1 3.1m0-3.1l-3.1 3.1M588.0 288.6l3.1 3.1m0-3.1l-3.1 3.1M595.0 298.0l3.1 3.1m0-3.1l-3.1 3.1M572.8 310.1l3.1 3.1m0-3.1l-3.1 3.1M528.1 275.7l3.1 3.1m0-3.1l-3.1 3.1M572.2 281.8l3.1 3.1m0-3.1l-3.1 3.1M522.4 272.7l3.1 3.1m0-3.1l-3.1 3.1M512.9 272.9l3.1 3.1m0-3.1l-3.1 3.1M507.3 304.9l3.1 3.1m0-3.1l-3.1 3.1M542.9 264.3l3.1 3.1m0-3.1l-3.1 3.1M561.0 306.3l3.1 3.1m0-3.1l-3.1 3.1M560.0 281.0l3.1 3.1m0-3.1l-3.1 3.1M527.0 309.7l3.1 3.1m0-3.1l-3.1 3.1M541.5 259.4l3.1 3.1m0-3.1l-3.1 3.1M586.7 317.9l3.1 3.1m0-3.1l-3.1 3.1M590.0 316.5l3.1 3.1m0-3.1l-3.1 3.1M576.1 285.2l3.1 3.1m0-3.1l-3.1 3.1M590.7 318.2l3.1 3.1m0-3.1l-3.1 3.1M598.4 326.8l3.1 3.1m0-3.1l-3.1 3.1M516.1 271.2l3.1 3.1m0-3.1l-3.1 3.1M565.1 281.4l3.1 3.1m0-3.1l-3.1 3.1M541.4 264.3l3.1 3.1m0-3.1l-3.1 3.1M505.3 278.1l3.1 3.1m0-3.1l-3.1 3.1M588.1 287.8l3.1 3.1m0-3.1l-3.1 3.1M581.6 314.9l3.1 3.1m0-3.1l-3.1 3.1M545.1 275.4l3.1 3.1m0-3.1l-3.1 3.1M535.3 270.8l3.1 3.1m0-3.1l-3.1 3.1M513.4 306.4l3.1 3.1m0-3.1l-3.1 3.1M600.3 322.4l3.1 3.1m0-3.1l-3.1 3.1M544.0 301.0l3.1 3.1m0-3.1l-3.1 3.1M592.9 297.4l3.1 3.1m0-3.1l-3.1 3.1M569.6 304.3l3.1 3.1m0-3.1l-3.1 3.1M598.6 331.4l3.1 3.1m0-3.1l-3.1 3.1M523.3 300.6l3.1 3.1m0-3.1l-3.1 3.1M598.2 301.8l3.1 3.1m0-3.1l-3.1 3.1M513.5 271.8l3.1 3.1m0-3.1l-3.1 3.1M508.9 283.8l3.1 3.1m0-3.1l-3.1 3.1M530.0 266.1l3.1 3.1m0-3.1l-3.1 3.1M532.9 268.2l3.1 3.1m0-3.1l-3.1 3.1M569.4 306.6l3.1 3.1m0-3.1l-3.1 3.1M543.2 306.5l3.1 3.1m0-3.1l-3.1 3.1M536.7 269.6l3.1 3.1m0-3.1l-3.1 3.1M559.6 308.0l3.1 3.1m0-3.1l-3.1 3.1M598.2 325.6l3.1 3.1m0-3.1l-3.1 3.1M561.9 272.7l3.1 3.1m0-3.1l-3.1 3.1M600.5 324.0l3.1 3.1m0-3.1l-3.1 3.1M506.4 303.4l3.1 3.1m0-3.1l-3.1 3.1M521.5 263.6l3.1 3.1m0-3.1l-3.1 3.1M582.4 310.6l3.1 3.1m0-3.1l-3.1 3.1M533.0 262.1l3.1 3.1m0-3.1l-3.1 3.1M524.0 265.6l3.1 3.1m0-3.1l-3.1 3.1M515.9 313.7l3.1 3.1m0-3.1l-3.1 3.1M588.4 316.4l3.1 3.1m0-3.1l-3.1 3.1M563.4 306.4l3.1 3.1m0-3.1l-3.1 3.1M516.0 270.8l3.1 3.1m0-3.1l-3.1 3.1M581.3 310.3l3.1 3.1m0-3.1l-3.1 3.1M563.1 279.8l3.1 3.1m0-3.1l-3.1 3.1M522.3 271.3l3.1 3.1m0-3.1l-3.1 3.1M548.4 267.3l3.1 3.1m0-3.1l-3.1 3.1M568.7 283.1l3.1 3.1m0-3.1l-3.1 3.1M537.0 275.0l3.1 3.1m0-3.1l-3.1 3.1M510.9 266.7l3.1 3.1m0-3.1l-3.1 3.1M541.7 270.1l3.1 3.1m0-3.1l-3.1 3.1M577.2 311.6l3.1 3.1m0-3.1l-3.1 3.1M596.0 322.2l3.1 3.1m0-3.1l-3.1 3.1M539.6 275.6l3.1 3.1m0-3.1l-3.1 3.1M538.9 260.9l3.1 3.1m0-3.1l-3.1 3.1M557.3 276.7l3.1 3.1m0-3.1l-3.1 3.1M531.4 299.2l3.1 3.1m0-3.1l-3.1 3.1M521.7 271.5l3.1 3.1m0-3.1l-3.1 3.1M534.3 301.4l3.1 3.1m0-3.1l-3.1 3.1M559.9 304.5l3.1 3.1m0-3.1l-3.1 3.1M587.6 292.0l3.1 3.1m0-3.1l-3.1 3.1M544.3 302.1l3.1 3.1m0-3.1l-3.1 3.1M575.3 284.8l3.1 3.1m0-3.1l-3.1 3.1M587.2 296.7l3.1 3.1m0-3.1l-3.1 3.1M528.1 271.7l3.1 3.1m0-3.1l-3.1 3.1M568.0 285.1l3.1 3.1m0-3.1l-3.1 3.1M584.7 287.6l3.1 3.1m0-3.1l-3.1 3.1M570.3 273.2l3.1 3.1m0-3.1l-3.1 3.1M584.3 313.8l3.1 3.1m0-3.1l-3.1 3.1M551.3 275.9l3.1 3.1m0-3.1l-3.1 3.1M569.3 280.6l3.1 3.1m0-3.1l-3.1 3.1M552.4 279.3l3.1 3.1m0-3.1l-3.1 3.1M523.1 300.9l3.1 3.1m0-3.1l-3.1 3.1M587.5 313.3l3.1 3.1m0-3.1l-3.1 3.1M547.3 307.1l3.1 3.1m0-3.1l-3.1 3.1M561.3 278.9l3.1 3.1m0-3.1l-3.1 3.1M555.5 273.4l3.1 3.1m0-3.1l-3.1 3.1M542.4 265.6l3.1 3.1m0-3.1l-3.1 3.1M574.4 288.5l3.1 3.1m0-3.1l-3.1 3.1M584.0 308.5l3.1 3.1m0-3.1l-3.1 3.1M520.3 312.1l3.1 3.1m0-3.1l-3.1 3.1M515.9 297.5l3.1 3.1m0-3.1l-3.1 3.1M573.9 306.5l3.1 3.1m0-3.1l-3.1 3.1M545.6 300.2l3.1 3.1m0-3.1l-3.1 3.1M510.1 264.2l3.1 3.1m0-3.1l-3.1 3.1M557.1 281.4l3.1 3.1m0-3.1l-3.1 3.1M534.6 266.1l3.1 3.1m0-3.1l-3.1 3.1M566.1 302.9l3.1 3.1m0-3.1l-3.1 3.1M506.9 315.2l3.1 3.1m0-3.1l-3.1 3.1M537.9 312.6l3.1 3.1m0-3.1l-3.1 3.1M571.2 284.4l3.1 3.1m0-3.1l-3.1 3.1M540.0 302.8l3.1 3.1m0-3.1l-3.1 3.1M595.3 320.4l3.1 3.1m0-3.1l-3.1 3.1M515.6 277.9l3.1 3.1m0-3.1l-3.1 3.1M536.3 301.7l3.1 3.1m0-3.1l-3.1 3.1M529.5 267.8l3.1 3.1m0-3.1l-3.1 3.1M575.6 290.1l3.1 3.1m0-3.1l-3.1 3.1M576.1 283.5l3.1 3.1m0-3.1l-3.1 3.1M593.8 327.7l3.1 3.1m0-3.1l-3.1 3.1M514.7 275.5l3.1 3.1m0-3.1l-3.1 3.1M535.2 261.6l3.1 3.1m0-3.1l-3.1 3.1M543.0 272.9l3.1 3.1m0-3.1l-3.1 3.1M573.9 311.7l3.1 3.1m0-3.1l-3.1 3.1M566.6 302.1l3.1 3.1m0-3.1l-3.1 3.1M592.4 294.1l3.1 3.1m0-3.1l-3.1 3.1M563.1 281.7l3.1 3.1m0-3.1l-3.1 3.1M595.4 292.7l3.1 3.1m0-3.1l-3.1 3.1M594.3 325.2l3.1 3.1m0-3.1l-3.1 3.1M550.1 315.1l3.1 3.1m0-3.1l-3.1 3.1M518.6 274.5l3.1 3.1m0-3.1l-3.1 3.1M599.4 304.1l3.1 3.1m0-3.1l-3.1 3.1M556.5 310.5l3.1 3.1m0-3.1l-3.1 3.1M521.6 264.5l3.1 3.1m0-3.1l-3.1 3.1M562.9 304.3l3.1 3.1m0-3.1l-3.1 3.1M599.3 304.9l3.1 3.1m0-3.1l-3.1 3.1M574.7 281.8l3.1 3.1m0-3.1l-3.1 3.1M512.9 284.4l3.1 3.1m0-3.1l-3.1 3.1M532.7 262.7l3.1 3.1m0-3.1l-3.1 3.1M583.3 286.9l3.1 3.1m0-3.1l-3.1 3.1M577.0 308.8l3.1 3.1m0-3.1l-3.1 3.1M522.1 269.9l3.1 3.1m0-3.1l-3.1 3.1M577.8 286.3l3.1 3.1m0-3.1l-3.1 3.1M581.6 290.4l3.1 3.1m0-3.1l-3.1 3.1M546.0 272.6l3.1 3.1m0-3.1l-3.1 3.1M538.7 299.3l3.1 3.1m0-3.1l-3.1 3.1M596.4 296.9l3.1 3.1m0-3.1l-3.1 3.1M526.1 267.9l3.1 3.1m0-3.1l-3.1 3.1M550.1 264.4l3.1 3.1m0-3.1l-3.1 3.1M599.9 305.3l3.1 3.1m0-3.1l-3.1 3.1M537.9 270.7l3.1 3.1m0-3.1l-3.1 3.1M528.7 302.2l3.1 3.1m0-3.1l-3.1 3.1M531.1 301.2l3.1 3.1m0-3.1l-3.1 3.1M540.9 275.4l3.1 3.1m0-3.1l-3.1 3.1M521.3 259.7l3.1 3.1m0-3.1l-3.1 3.1M533.0 269.3l3.1 3.1m0-3.1l-3.1 3.1M585.9 315.1l3.1 3.1m0-3.1l-3.1 3.1M563.0 309.9l3.1 3.1m0-3.1l-3.1 3.1M544.8 276.4l3.1 3.1m0-3.1l-3.1 3.1M526.6 302.8l3.1 3.1m0-3.1l-3.1 3.1M599.3 303.3l3.1 3.1m0-3.1l-3.1 3.1M542.2 273.9l3.1 3.1m0-3.1l-3.1 3.1M593.4 320.2l3.1 3.1m0-3.1l-3.1 3.1M535.9 267.7l3.1 3.1m0-3.1l-3.1 3.1M599.6 302.7l3.1 3.1m0-3.1l-3.1 3.1M518.3 259.9l3.1 3.1m0-3.1l-3.1 3.1M599.7 297.1l3.1 3.1m0-3.1l-3.1 3.1M531.8 262.7l3.1 3.1m0-3.1l-3.1 3.1M553.1 280.7l3.1 3.1m0-3.1l-3.1 3.1M545.6 276.0l3.1 3.1m0-3.1l-3.1 3.1M566.6 306.9l3.1 3.1m0-3.1l-3.1 3.1M523.6 260.4l3.1 3.1m0-3.1l-3.1 3.1M572.6 304.7l3.1 3.1m0-3.1l-3.1 3.1M597.4 331.6l3.1 3.1m0-3.1l-3.1 3.1M532.9 267.3l3.1 3.1m0-3.1l-3.1 3.1M597.4 325.0l3.1 3.1m0-3.1l-3.1 3.1M596.5 327.5l3.1 3.1m0-3.1l-3.1 3.1M591.9 292.0l3.1 3.1m0-3.1l-3.1 3.1M555.5 303.4l3.1 3.1m0-3.1l-3.1 3.1M530.1 303.4l3.1 3.1m0-3.1l-3.1 3.1M517.4 310.1l3.1 3.1m0-3.1l-3.1 3.1M552.3 278.1l3.1 3.1m0-3.1l-3.1 3.1M563.6 285.1l3.1 3.1m0-3.1l-3.1 3.1M516.5 298.9l3.1 3.1m0-3.1l-3.1 3.1M564.3 309.6l3.1 3.1m0-3.1l-3.1 3.1M517.3 282.2l3.1 3.1m0-3.1l-3.1 3.1M592.7 320.2l3.1 3.1m0-3.1l-3.1 3.1M550.9 272.4l3.1 3.1m0-3.1l-3.1 3.1M533.4 260.5l3.1 3.1m0-3.1l-3.1 3.1M560.5 304.7l3.1 3.1m0-3.1l-3.1 3.1M511.5 296.2l3.1 3.1m0-3.1l-3.1 3.1M586.6 289.7l3.1 3.1m0-3.1l-3.1 3.1M537.9 273.7l3.1 3.1m0-3.1l-3.1 3.1M552.2 276.4l3.1 3.1m0-3.1l-3.1 3.1M560.0 282.3l3.1 3.1m0-3.1l-3.1 3.1M530.9 263.4l3.1 3.1m0-3.1l-3.1 3.1M585.7 310.5l3.1 3.1m0-3.1l-3.1 3.1M546.9 277.7l3.1 3.1m0-3.1l-3.1 3.1M516.7 272.0l3.1 3.1m0-3.1l-3.1 3.1M534.1 299.7l3.1 3.1m0-3.1l-3.1 3.1M568.5 284.6l3.1 3.1m0-3.1l-3.1 3.1M584.1 314.7l3.1 3.1m0-3.1l-3.1 3.1M594.6 320.4l3.1 3.1m0-3.1l-3.1 3.1M555.5 301.2l3.1 3.1m0-3.1l-3.1 3.1M508.6 273.4l3.1 3.1m0-3.1l-3.1 3.1M534.9 308.6l3.1 3.1m0-3.1l-3.1 3.1M521.8 273.5l3.1 3.1m0-3.1l-3.1 3.1M568.1 277.7l3.1 3.1m0-3.1l-3.1 3.1M597.6 323.2l3.1 3.1m0-3.1l-3.1 3.1M582.4 291.8l3.1 3.1m0-3.1l-3.1 3.1M547.5 278.3l3.1 3.1m0-3.1l-3.1 3.1M513.9 268.9l3.1 3.1m0-3.1l-3.1 3.1M581.8 311.0l3.1 3.1m0-3.1l-3.1 3.1M542.3 271.8l3.1 3.1m0-3.1l-3.1 3.1M519.9 259.2l3.1 3.1m0-3.1l-3.1 3.1M595.4 320.7l3.1 3.1m0-3.1l-3.1 3.1M556.4 305.7l3.1 3.1m0-3.1l-3.1 3.1M513.2 258.2l3.1 3.1m0-3.1l-3.1 3.1M578.1 282.1l3.1 3.1m0-3.1l-3.1 3.1M532.5 252.6l3.1 3.1m0-3.1l-3.1 3.1M585.3 284.1l3.1 3.1m0-3.1l-3.1 3.1M572.6 275.0l3.1 3.1m0-3.1l-3.1 3.1M559.1 273.9l3.1 3.1m0-3.1l-3.1 3.1M557.6 271.9l3.1 3.1m0-3.1l-3.1 3.1M571.4 273.7l3.1 3.1m0-3.1l-3.1 3.1M586.8 286.1l3.1 3.1m0-3.1l-3.1 3.1M574.6 279.2l3.1 3.1m0-3.1l-3.1 3.1M570.3 268.8l3.1 3.1m0-3.1l-3.1 3.1M560.9 263.3l3.1 3.1m0-3.1l-3.1 3.1M582.9 280.2l3.1 3.1m0-3.1l-3.1 3.1M587.7 282.9l3.1 3.1m0-3.1l-3.1 3.1M577.5 278.7l3.1 3.1m0-3.1l-3.1 3.1M584.3 284.4l3.1 3.1m0-3.1l-3.1 3.1M529.6 255.8l3.1 3.1m0-3.1l-3.1 3.1M600.4 297.9l3.1 3.1m0-3.1l-3.1 3.1M575.2 278.9l3.1 3.1m0-3.1l-3.1 3.1M572.7 275.8l3.1 3.1m0-3.1l-3.1 3.1M552.3 268.0l3.1 3.1m0-3.1l-3.1 3.1M546.8 263.8l3.1 3.1m0-3.1l-3.1 3.1M598.5 295.6l3.1 3.1m0-3.1l-3.1 3.1M541.6 258.9l3.1 3.1m0-3.1l-3.1 3.1M559.8 263.7l3.1 3.1m0-3.1l-3.1 3.1M534.0 249.3l3.1 3.1m0-3.1l-3.1 3.1M589.6 289.8l3.1 3.1m0-3.1l-3.1 3.1M550.2 268.5l3.1 3.1m0-3.1l-3.1 3.1M521.8 255.8l3.1 3.1m0-3.1l-3.1 3.1M558.6 272.4l3.1 3.1m0-3.1l-3.1 3.1M557.2 272.1l3.1 3.1m0-3.1l-3.1 3.1M559.7 262.4l3.1 3.1m0-3.1l-3.1 3.1M584.6 281.8l3.1 3.1m0-3.1l-3.1 3.1M512.3 255.0l3.1 3.1m0-3.1l-3.1 3.1M537.2 259.6l3.1 3.1m0-3.1l-3.1 3.1M580.6 283.1l3.1 3.1m0-3.1l-3.1 3.1M593.9 290.8l3.1 3.1m0-3.1l-3.1 3.1M572.3 272.9l3.1 3.1m0-3.1l-3.1 3.1M528.6 253.9l3.1 3.1m0-3.1l-3.1 3.1M535.0 258.1l3.1 3.1m0-3.1l-3.1 3.1M591.0 288.0l3.1 3.1m0-3.1l-3.1 3.1M513.9 250.4l3.1 3.1m0-3.1l-3.1 3.1M523.5 254.1l3.1 3.1m0-3.1l-3.1 3.1M538.4 260.3l3.1 3.1m0-3.1l-3.1 3.1M580.4 279.5l3.1 3.1m0-3.1l-3.1 3.1M598.3 295.9l3.1 3.1m0-3.1l-3.1 3.1M524.4 246.8l3.1 3.1m0-3.1l-3.1 3.1M575.4 278.5l3.1 3.1m0-3.1l-3.1 3.1M536.9 257.2l3.1 3.1m0-3.1l-3.1 3.1M523.4 250.6l3.1 3.1m0-3.1l-3.1 3.1M541.8 262.4l3.1 3.1m0-3.1l-3.1 3.1M575.3 277.7l3.1 3.1m0-3.1l-3.1 3.1M572.0 278.8l3.1 3.1m0-3.1l-3.1 3.1M562.9 266.8l3.1 3.1m0-3.1l-3.1 3.1M534.2 253.7l3.1 3.1m0-3.1l-3.1 3.1M532.0 255.2l3.1 3.1m0-3.1l-3.1 3.1M542.3 252.0l3.1 3.1m0-3.1l-3.1 3.1M532.6 254.3l3.1 3.1m0-3.1l-3.1 3.1M574.3 274.7l3.1 3.1m0-3.1l-3.1 3.1M519.4 249.0l3.1 3.1m0-3.1l-3.1 3.1M443.9 337.3l3.1 3.1m0-3.1l-3.1 3.1M443.7 303.3l3.1 3.1m0-3.1l-3.1 3.1M443.7 305.4l3.1 3.1m0-3.1l-3.1 3.1M443.8 312.7l3.1 3.1m0-3.1l-3.1 3.1M443.9 283.1l3.1 3.1m0-3.1l-3.1 3.1M443.9 286.4l3.1 3.1m0-3.1l-3.1 3.1M444.0 271.9l3.1 3.1m0-3.1l-3.1 3.1M443.9 285.6l3.1 3.1m0-3.1l-3.1 3.1M444.0 335.0l3.1 3.1m0-3.1l-3.1 3.1M443.7 308.8l3.1 3.1m0-3.1l-3.1 3.1M443.9 301.5l3.1 3.1m0-3.1l-3.1 3.1M443.9 333.2l3.1 3.1m0-3.1l-3.1 3.1M444.0 326.7l3.1 3.1m0-3.1l-3.1 3.1M443.9 299.5l3.1 3.1m0-3.1l-3.1 3.1M443.9 330.6l3.1 3.1m0-3.1l-3.1 3.1M443.8 331.2l3.1 3.1m0-3.1l-3.1 3.1M444.0 289.7l3.1 3.1m0-3.1l-3.1 3.1M443.9 270.9l3.1 3.1m0-3.1l-3.1 3.1M444.0 287.1l3.1 3.1m0-3.1l-3.1 3.1M444.0 320.1l3.1 3.1m0-3.1l-3.1 3.1M443.8 270.7l3.1 3.1m0-3.1l-3.1 3.1M443.6 313.5l3.1 3.1m0-3.1l-3.1 3.1M443.7 274.2l3.1 3.1m0-3.1l-3.1 3.1M443.8 350.6l3.1 3.1m0-3.1l-3.1 3.1M443.9 304.6l3.1 3.1m0-3.1l-3.1 3.1M443.6 281.3l3.1 3.1m0-3.1l-3.1 3.1M443.8 288.0l3.1 3.1m0-3.1l-3.1 3.1M443.7 312.5l3.1 3.1m0-3.1l-3.1 3.1M443.8 292.1l3.1 3.1m0-3.1l-3.1 3.1M444.0 310.6l3.1 3.1m0-3.1l-3.1 3.1M443.7 300.4l3.1 3.1m0-3.1l-3.1 3.1M444.0 297.7l3.1 3.1m0-3.1l-3.1 3.1M443.7 322.4l3.1 3.1m0-3.1l-3.1 3.1M443.8 288.0l3.1 3.1m0-3.1l-3.1 3.1M443.8 351.1l3.1 3.1m0-3.1l-3.1 3.1M443.8 295.8l3.1 3.1m0-3.1l-3.1 3.1M443.6 291.7l3.1 3.1m0-3.1l-3.1 3.1M443.6 298.0l3.1 3.1m0-3.1l-3.1 3.1M443.6 295.0l3.1 3.1m0-3.1l-3.1 3.1M443.9 324.7l3.1 3.1m0-3.1l-3.1 3.1M443.9 290.0l3.1 3.1m0-3.1l-3.1 3.1M444.0 262.0l3.1 3.1m0-3.1l-3.1 3.1M443.7 280.9l3.1 3.1m0-3.1l-3.1 3.1M444.0 269.7l3.1 3.1m0-3.1l-3.1 3.1M443.7 297.2l3.1 3.1m0-3.1l-3.1 3.1M443.7 266.7l3.1 3.1m0-3.1l-3.1 3.1M443.8 321.8l3.1 3.1m0-3.1l-3.1 3.1M443.7 295.1l3.1 3.1m0-3.1l-3.1 3.1M444.0 334.2l3.1 3.1m0-3.1l-3.1 3.1M444.0 320.1l3.1 3.1m0-3.1l-3.1 3.1M444.0 334.2l3.1 3.1m0-3.1l-3.1 3.1M443.8 300.9l3.1 3.1m0-3.1l-3.1 3.1M444.0 332.5l3.1 3.1m0-3.1l-3.1 3.1M443.9 326.3l3.1 3.1m0-3.1l-3.1 3.1M443.7 281.1l3.1 3.1m0-3.1l-3.1 3.1M443.7 321.8l3.1 3.1m0-3.1l-3.1 3.1M443.9 266.5l3.1 3.1m0-3.1l-3.1 3.1M443.7 261.5l3.1 3.1m0-3.1l-3.1 3.1M444.0 307.7l3.1 3.1m0-3.1l-3.1 3.1M444.0 326.1l3.1 3.1m0-3.1l-3.1 3.1M443.9 331.7l3.1 3.1m0-3.1l-3.1 3.1M444.0 320.3l3.1 3.1m0-3.1l-3.1 3.1M443.7 332.2l3.1 3.1m0-3.1l-3.1 3.1M443.6 285.1l3.1 3.1m0-3.1l-3.1 3.1M443.9 324.0l3.1 3.1m0-3.1l-3.1 3.1M443.9 351.1l3.1 3.1m0-3.1l-3.1 3.1M444.0 264.3l3.1 3.1m0-3.1l-3.1 3.1M443.9 321.8l3.1 3.1m0-3.1l-3.1 3.1M443.7 265.5l3.1 3.1m0-3.1l-3.1 3.1M443.7 331.8l3.1 3.1m0-3.1l-3.1 3.1M443.9 282.7l3.1 3.1m0-3.1l-3.1 3.1M443.9 351.8l3.1 3.1m0-3.1l-3.1 3.1M444.0 298.2l3.1 3.1m0-3.1l-3.1 3.1M443.9 266.6l3.1 3.1m0-3.1l-3.1 3.1M443.9 303.5l3.1 3.1m0-3.1l-3.1 3.1M443.9 277.8l3.1 3.1m0-3.1l-3.1 3.1M444.0 337.0l3.1 3.1m0-3.1l-3.1 3.1M444.0 350.4l3.1 3.1m0-3.1l-3.1 3.1M444.0 267.0l3.1 3.1m0-3.1l-3.1 3.1M443.7 272.9l3.1 3.1m0-3.1l-3.1 3.1M443.7 282.1l3.1 3.1m0-3.1l-3.1 3.1M444.0 263.4l3.1 3.1m0-3.1l-3.1 3.1M443.8 280.1l3.1 3.1m0-3.1l-3.1 3.1M443.9 308.9l3.1 3.1m0-3.1l-3.1 3.1M443.8 273.5l3.1 3.1m0-3.1l-3.1 3.1M443.8 305.4l3.1 3.1m0-3.1l-3.1 3.1M444.0 301.4l3.1 3.1m0-3.1l-3.1 3.1M444.0 263.0l3.1 3.1m0-3.1l-3.1 3.1M443.8 329.6l3.1 3.1m0-3.1l-3.1 3.1M443.6 265.4l3.1 3.1m0-3.1l-3.1 3.1M444.0 327.2l3.1 3.1m0-3.1l-3.1 3.1M444.0 266.4l3.1 3.1m0-3.1l-3.1 3.1M443.8 344.9l3.1 3.1m0-3.1l-3.1 3.1M443.8 319.9l3.1 3.1m0-3.1l-3.1 3.1M443.9 265.0l3.1 3.1m0-3.1l-3.1 3.1M443.6 275.5l3.1 3.1m0-3.1l-3.1 3.1M443.7 290.9l3.1 3.1m0-3.1l-3.1 3.1M444.0 315.0l3.1 3.1m0-3.1l-3.1 3.1M443.6 284.7l3.1 3.1m0-3.1l-3.1 3.1M443.8 351.7l3.1 3.1m0-3.1l-3.1 3.1M444.0 315.9l3.1 3.1m0-3.1l-3.1 3.1M443.7 290.2l3.1 3.1m0-3.1l-3.1 3.1M444.0 287.6l3.1 3.1m0-3.1l-3.1 3.1M444.0 308.3l3.1 3.1m0-3.1l-3.1 3.1M443.6 265.4l3.1 3.1m0-3.1l-3.1 3.1M444.0 284.4l3.1 3.1m0-3.1l-3.1 3.1M443.9 307.6l3.1 3.1m0-3.1l-3.1 3.1M443.9 314.3l3.1 3.1m0-3.1l-3.1 3.1M444.0 304.6l3.1 3.1m0-3.1l-3.1 3.1M443.7 299.4l3.1 3.1m0-3.1l-3.1 3.1M443.6 283.2l3.1 3.1m0-3.1l-3.1 3.1M443.8 290.1l3.1 3.1m0-3.1l-3.1 3.1M443.9 298.9l3.1 3.1m0-3.1l-3.1 3.1M443.8 273.7l3.1 3.1m0-3.1l-3.1 3.1M443.8 272.7l3.1 3.1m0-3.1l-3.1 3.1M443.6 278.2l3.1 3.1m0-3.1l-3.1 3.1M443.8 306.7l3.1 3.1m0-3.1l-3.1 3.1M443.9 292.5l3.1 3.1m0-3.1l-3.1 3.1M443.7 309.0l3.1 3.1m0-3.1l-3.1 3.1M444.0 335.3l3.1 3.1m0-3.1l-3.1 3.1M443.7 303.3l3.1 3.1m0-3.1l-3.1 3.1M444.0 264.5l3.1 3.1m0-3.1l-3.1 3.1M443.8 269.0l3.1 3.1m0-3.1l-3.1 3.1M444.0 319.5l3.1 3.1m0-3.1l-3.1 3.1M443.7 299.1l3.1 3.1m0-3.1l-3.1 3.1M444.0 277.8l3.1 3.1m0-3.1l-3.1 3.1M444.0 351.9l3.1 3.1m0-3.1l-3.1 3.1M443.6 331.4l3.1 3.1m0-3.1l-3.1 3.1M443.9 344.4l3.1 3.1m0-3.1l-3.1 3.1M444.0 316.6l3.1 3.1m0-3.1l-3.1 3.1M443.9 313.2l3.1 3.1m0-3.1l-3.1 3.1M443.8 311.9l3.1 3.1m0-3.1l-3.1 3.1M444.0 276.4l3.1 3.1m0-3.1l-3.1 3.1M443.9 288.8l3.1 3.1m0-3.1l-3.1 3.1M443.6 337.4l3.1 3.1m0-3.1l-3.1 3.1M443.7 318.8l3.1 3.1m0-3.1l-3.1 3.1M444.0 279.0l3.1 3.1m0-3.1l-3.1 3.1M443.9 268.7l3.1 3.1m0-3.1l-3.1 3.1M443.9 269.4l3.1 3.1m0-3.1l-3.1 3.1M443.7 324.1l3.1 3.1m0-3.1l-3.1 3.1M444.0 324.6l3.1 3.1m0-3.1l-3.1 3.1M443.8 305.9l3.1 3.1m0-3.1l-3.1 3.1M443.8 294.2l3.1 3.1m0-3.1l-3.1 3.1M443.7 304.0l3.1 3.1m0-3.1l-3.1 3.1M443.9 347.7l3.1 3.1m0-3.1l-3.1 3.1M444.2 234.4l3.1 3.1m0-3.1l-3.1 3.1M444.3 240.3l3.1 3.1m0-3.1l-3.1 3.1M444.3 243.6l3.1 3.1m0-3.1l-3.1 3.1M444.2 254.1l3.1 3.1m0-3.1l-3.1 3.1M444.4 237.2l3.1 3.1m0-3.1l-3.1 3.1M444.1 238.7l3.1 3.1m0-3.1l-3.1 3.1M443.7 247.6l3.1 3.1m0-3.1l-3.1 3.1M444.4 237.3l3.1 3.1m0-3.1l-3.1 3.1M444.1 258.6l3.1 3.1m0-3.1l-3.1 3.1M443.7 245.7l3.1 3.1m0-3.1l-3.1 3.1M444.4 256.7l3.1 3.1m0-3.1l-3.1 3.1M443.5 233.4l3.1 3.1m0-3.1l-3.1 3.1M443.5 254.2l3.1 3.1m0-3.1l-3.1 3.1M443.6 255.3l3.1 3.1m0-3.1l-3.1 3.1M447.9 339.3l3.1 3.1m0-3.1l-3.1 3.1M448.3 338.5l3.1 3.1m0-3.1l-3.1 3.1M448.0 323.6l3.1 3.1m0-3.1l-3.1 3.1M447.1 329.4l3.1 3.1m0-3.1l-3.1 3.1M447.9 351.9l3.1 3.1m0-3.1l-3.1 3.1M447.7 351.1l3.1 3.1m0-3.1l-3.1 3.1M446.9 338.3l3.1 3.1m0-3.1l-3.1 3.1M445.8 331.4l3.1 3.1m0-3.1l-3.1 3.1M445.8 338.9l3.1 3.1m0-3.1l-3.1 3.1M449.2 335.3l3.1 3.1m0-3.1l-3.1 3.1M447.5 337.6l3.1 3.1m0-3.1l-3.1 3.1M446.4 351.4l3.1 3.1m0-3.1l-3.1 3.1M445.7 335.6l3.1 3.1m0-3.1l-3.1 3.1M449.1 337.6l3.1 3.1m0-3.1l-3.1 3.1M449.3 335.6l3.1 3.1m0-3.1l-3.1 3.1M448.9 351.5l3.1 3.1m0-3.1l-3.1 3.1M447.3 351.3l3.1 3.1m0-3.1l-3.1 3.1M445.4 340.7l3.1 3.1m0-3.1l-3.1 3.1M445.6 336.5l3.1 3.1m0-3.1l-3.1 3.1M445.7 351.1l3.1 3.1m0-3.1l-3.1 3.1M449.2 336.9l3.1 3.1m0-3.1l-3.1 3.1M448.8 351.6l3.1 3.1m0-3.1l-3.1 3.1M512.7 229.6l3.1 3.1m0-3.1l-3.1 3.1M542.0 228.7l3.1 3.1m0-3.1l-3.1 3.1M484.3 218.2l3.1 3.1m0-3.1l-3.1 3.1M493.3 225.0l3.1 3.1m0-3.1l-3.1 3.1M459.2 216.9l3.1 3.1m0-3.1l-3.1 3.1M592.9 279.5l3.1 3.1m0-3.1l-3.1 3.1M581.3 261.3l3.1 3.1m0-3.1l-3.1 3.1M578.7 269.5l3.1 3.1m0-3.1l-3.1 3.1M559.3 338.5l3.1 3.1m0-3.1l-3.1 3.1M550.4 347.6l3.1 3.1m0-3.1l-3.1 3.1M555.7 319.5l3.1 3.1m0-3.1l-3.1 3.1M548.3 327.2l3.1 3.1m0-3.1l-3.1 3.1" stroke="#ff0000" stroke-width="0.55" fill="none"/></g>
<rect x="445" y="217.5" width="170.4" height="136.2" fill="none" stroke="#3a3a3a" stroke-width="1.0"/>
<path d="M445 353.7v2.4M458.11 353.7v1.4M471.22 353.7v2.4M484.32 353.7v1.4M497.43 353.7v2.4M510.54 353.7v1.4M523.65 353.7v2.4M536.75 353.7v1.4M549.86 353.7v2.4M562.97 353.7v1.4M576.08 353.7v2.4M589.18 353.7v1.4M602.29 353.7v2.4M615.4 353.7v1.4M445 353.7h-2.4M445 342.35h-1.4M445 331h-2.4M445 319.65h-1.4M445 308.3h-2.4M445 296.95h-1.4M445 285.6h-2.4M445 274.25h-1.4M445 262.9h-2.4M445 251.55h-1.4M445 240.2h-2.4M445 228.85h-1.4M445 217.5h-2.4" stroke="#222" stroke-width="0.9" fill="none"/>
<g font-size="7.1" fill="#222" stroke="#222" stroke-width="0.1"><text transform="translate(445 363.5) scale(0.9 1)" text-anchor="middle">0</text><text transform="translate(471.22 363.5) scale(0.9 1)" text-anchor="middle">5</text><text transform="translate(497.43 363.5) scale(0.9 1)" text-anchor="middle">10</text><text transform="translate(523.65 363.5) scale(0.9 1)" text-anchor="middle">15</text><text transform="translate(549.86 363.5) scale(0.9 1)" text-anchor="middle">20</text><text transform="translate(576.08 363.5) scale(0.9 1)" text-anchor="middle">25</text><text transform="translate(602.29 363.5) scale(0.9 1)" text-anchor="middle">30</text></g>
<g font-size="7" fill="#222" stroke="#222" stroke-width="0.1"><text transform="translate(440.6 356.5) scale(0.95 1)" text-anchor="end">0.0</text><text transform="translate(440.6 333.8) scale(0.95 1)" text-anchor="end">5.0&#215;10<tspan font-size="4.2" dy="-2.3">-8</tspan></text><text transform="translate(440.6 311.1) scale(0.95 1)" text-anchor="end">1.0&#215;10<tspan font-size="4.2" dy="-2.3">-7</tspan></text><text transform="translate(440.6 288.4) scale(0.95 1)" text-anchor="end">1.5&#215;10<tspan font-size="4.2" dy="-2.3">-7</tspan></text><text transform="translate(440.6 265.7) scale(0.95 1)" text-anchor="end">2.0&#215;10<tspan font-size="4.2" dy="-2.3">-7</tspan></text><text transform="translate(440.6 243) scale(0.95 1)" text-anchor="end">2.5&#215;10<tspan font-size="4.2" dy="-2.3">-7</tspan></text><text transform="translate(440.6 220.3) scale(0.95 1)" text-anchor="end">3.0&#215;10<tspan font-size="4.2" dy="-2.3">-7</tspan></text></g>
<text x="530.2" y="374.2" text-anchor="middle" font-size="7.1" fill="#222" stroke="#222" stroke-width="0.12">Z-distance(mm)</text>
<text transform="translate(416.6 285.3) rotate(-90) scale(0.99 1)" text-anchor="middle" font-size="7.2" fill="#222" stroke="#222" stroke-width="0.08">Kinetic Energy (J)</text>
<text x="530.1" y="389.5" text-anchor="middle" font-size="14.5" fill="#111" stroke="#111" stroke-width="0.12">(e)</text>
<path d="M590.2 205.2l3 3m0-3l-3 3" stroke="#f44" stroke-width="0.6" fill="none"/>
<text x="602.4" y="209.4" font-size="7.8" fill="#333">B</text>
</svg></body></html>
